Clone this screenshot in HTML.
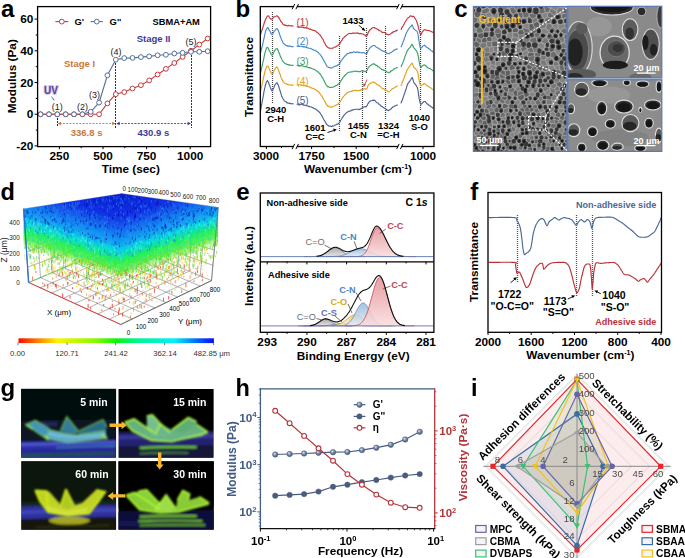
<!DOCTYPE html>
<html><head><meta charset="utf-8"><title>Figure</title>
<style>html,body{margin:0;padding:0;background:#fff;width:685px;height:558px;overflow:hidden}
svg{display:block;font-family:"Liberation Sans",sans-serif}</style></head>
<body><svg width="685" height="558" viewBox="0 0 685 558" font-family="'Liberation Sans', sans-serif"><defs><radialGradient id="pore" cx="0.5" cy="0.55" r="0.55"><stop offset="0" stop-color="#161616"/><stop offset="0.7" stop-color="#2c2c2c"/><stop offset="1" stop-color="#555"/></radialGradient><radialGradient id="pore2" cx="0.45" cy="0.6" r="0.6"><stop offset="0" stop-color="#3a3a3a"/><stop offset="0.6" stop-color="#555"/><stop offset="1" stop-color="#6e6e6e"/></radialGradient><filter id="semblur" x="0" y="0" width="100%" height="100%"><feGaussianBlur stdDeviation="0.45"/></filter><filter id="semblur2" x="-10%" y="-10%" width="120%" height="120%"><feGaussianBlur stdDeviation="5"/></filter><clipPath id="cL"><rect x="473.4" y="6.5" width="93.4" height="144.9"/></clipPath><clipPath id="cTR"><rect x="12" y="9" width="658" height="501"/></clipPath><clipPath id="cBR"><rect x="12" y="12" width="658" height="501"/></clipPath><linearGradient id="ege7a3a6" x1="0" y1="0" x2="0" y2="1"><stop offset="0" stop-color="#e48f95"/><stop offset="1" stop-color="#f8dcdd"/></linearGradient><linearGradient id="ega9c4e2" x1="0" y1="0" x2="0" y2="1"><stop offset="0" stop-color="#93b6dc"/><stop offset="1" stop-color="#e2ecf6"/></linearGradient><linearGradient id="ega8a8a8" x1="0" y1="0" x2="0" y2="1"><stop offset="0" stop-color="#9c9c9c"/><stop offset="1" stop-color="#e0e0e0"/></linearGradient><linearGradient id="egf3d28e" x1="0" y1="0" x2="0" y2="1"><stop offset="0" stop-color="#f0c460"/><stop offset="1" stop-color="#fbefd2"/></linearGradient><linearGradient id="egb4b4dc" x1="0" y1="0" x2="0" y2="1"><stop offset="0" stop-color="#a4a4d8"/><stop offset="1" stop-color="#e6e6f6"/></linearGradient><filter id="gb1" x="-10%" y="-10%" width="120%" height="120%"><feGaussianBlur stdDeviation="7"/></filter><filter id="gb2" x="-10%" y="-10%" width="120%" height="120%"><feGaussianBlur stdDeviation="9"/></filter><clipPath id="cpTL"><rect x="21.1" y="388.8" width="95" height="69"/></clipPath><clipPath id="cpTR"><rect x="118.6" y="389" width="94.9" height="68.7"/></clipPath><clipPath id="cpBL"><rect x="21.3" y="461.2" width="94.8" height="68.5"/></clipPath><clipPath id="cpBR"><rect x="118.4" y="461.2" width="95.4" height="68.5"/></clipPath><radialGradient id="hsph" cx="0.38" cy="0.35" r="0.7"><stop offset="0" stop-color="#dfe6f0"/><stop offset="0.4" stop-color="#8494b0"/><stop offset="1" stop-color="#3f5072"/></radialGradient></defs><rect width="685" height="558" fill="#fff"/><g id="pa"><line x1="34.6" y1="19.1" x2="37.6" y2="19.1" stroke="#000" stroke-width="1"/>
<text x="33.3" y="23.3" font-size="11.8" font-weight="bold" text-anchor="end">60</text>
<line x1="34.6" y1="50.8" x2="37.6" y2="50.8" stroke="#000" stroke-width="1"/>
<text x="33.3" y="55" font-size="11.8" font-weight="bold" text-anchor="end">40</text>
<line x1="34.6" y1="82.5" x2="37.6" y2="82.5" stroke="#000" stroke-width="1"/>
<text x="33.3" y="86.7" font-size="11.8" font-weight="bold" text-anchor="end">20</text>
<line x1="34.6" y1="114.2" x2="37.6" y2="114.2" stroke="#000" stroke-width="1"/>
<text x="33.3" y="118.4" font-size="11.8" font-weight="bold" text-anchor="end">0</text>
<line x1="34.6" y1="145.9" x2="37.6" y2="145.9" stroke="#000" stroke-width="1"/>
<text x="33.3" y="150.1" font-size="11.8" font-weight="bold" text-anchor="end">-20</text>
<line x1="35.8" y1="35" x2="37.6" y2="35" stroke="#000" stroke-width="1"/>
<line x1="35.8" y1="66.7" x2="37.6" y2="66.7" stroke="#000" stroke-width="1"/>
<line x1="35.8" y1="98.4" x2="37.6" y2="98.4" stroke="#000" stroke-width="1"/>
<line x1="35.8" y1="130.1" x2="37.6" y2="130.1" stroke="#000" stroke-width="1"/>
<line x1="59.4" y1="146.6" x2="59.4" y2="149.2" stroke="#000" stroke-width="1"/>
<text x="59.4" y="160.4" font-size="11.8" font-weight="bold" text-anchor="middle">250</text>
<line x1="103" y1="146.6" x2="103" y2="149.2" stroke="#000" stroke-width="1"/>
<text x="103" y="160.4" font-size="11.8" font-weight="bold" text-anchor="middle">500</text>
<line x1="146.6" y1="146.6" x2="146.6" y2="149.2" stroke="#000" stroke-width="1"/>
<text x="146.6" y="160.4" font-size="11.8" font-weight="bold" text-anchor="middle">750</text>
<line x1="190.2" y1="146.6" x2="190.2" y2="149.2" stroke="#000" stroke-width="1"/>
<text x="190.2" y="160.4" font-size="11.8" font-weight="bold" text-anchor="middle">1000</text>
<line x1="81.2" y1="146.6" x2="81.2" y2="148.2" stroke="#000" stroke-width="1"/>
<line x1="124.8" y1="146.6" x2="124.8" y2="148.2" stroke="#000" stroke-width="1"/>
<line x1="168.4" y1="146.6" x2="168.4" y2="148.2" stroke="#000" stroke-width="1"/>
<text x="130.8" y="172.8" font-size="11.8" font-weight="bold" text-anchor="middle">Time (sec)</text>
<text transform="translate(16.4,76.2) rotate(-90)" font-size="11.8" font-weight="bold" text-anchor="middle">Modulus (Pa)</text>
<line x1="57.5" y1="115" x2="57.5" y2="127" stroke="#222" stroke-width="1" stroke-dasharray="2 1"/>
<line x1="115.5" y1="60" x2="115.5" y2="128" stroke="#333" stroke-width="1" stroke-dasharray="2 1"/>
<line x1="191.5" y1="52" x2="191.5" y2="128" stroke="#333" stroke-width="1" stroke-dasharray="2 1"/>
<line x1="59.5" y1="123.5" x2="113.5" y2="123.5" stroke="#c8783c" stroke-width="0.9" stroke-dasharray="2 1.3"/>
<polygon points="57.6,123.5 61,121.8 61,125.2" fill="#c8783c" stroke="none" stroke-width="1"/>
<polygon points="115.6,123.5 112.2,121.8 112.2,125.2" fill="#c8783c" stroke="none" stroke-width="1"/>
<line x1="118" y1="123.5" x2="189" y2="123.5" stroke="#3b3d9a" stroke-width="0.9" stroke-dasharray="2 1.3"/>
<polygon points="116.3,123.5 119.7,121.8 119.7,125.2" fill="#3b3d9a" stroke="none" stroke-width="1"/>
<polygon points="191,123.5 187.6,121.8 187.6,125.2" fill="#3b3d9a" stroke="none" stroke-width="1"/>
<text x="86.6" y="136" font-size="9.5" font-weight="bold" text-anchor="middle" fill="#c8783c">336.8 s</text>
<text x="153.4" y="136" font-size="9.5" font-weight="bold" text-anchor="middle" fill="#3b3d9a">430.9 s</text>
<polyline points="40.6,114.3 49,114.3 57.3,114.3 65.7,114.3 74,114.3 82.4,114.3 90.7,111.8 99.1,102.6 107.4,75.3 115.8,59.7 124.2,58.1 132.5,57.9 140.9,57.1 149.2,56.4 157.6,55.3 165.9,54.8 174.3,53.5 182.6,52.8 191,51.8 199.3,51.8 207.7,51.2" fill="none" stroke="#51709a" stroke-width="1.1"/>
<polyline points="40.6,114.3 49,114.3 57.3,114.3 65.7,114.3 74,114.3 82.4,114.3 90.7,114.3 99.1,114.3 107.4,103.4 115.8,94.2 124.2,92.1 132.5,88.5 140.9,85.2 149.2,80.4 157.6,74.5 165.9,68.9 174.3,63 182.6,56.9 191,50.7 199.3,44.6 207.7,38.5" fill="none" stroke="#c23b3e" stroke-width="1.1"/>
<circle cx="40.6" cy="114.3" r="2.4" fill="#fff" stroke="#c23b3e" stroke-width="1"/>
<circle cx="49" cy="114.3" r="2.4" fill="#fff" stroke="#c23b3e" stroke-width="1"/>
<circle cx="57.3" cy="114.3" r="2.4" fill="#fff" stroke="#c23b3e" stroke-width="1"/>
<circle cx="65.7" cy="114.3" r="2.4" fill="#fff" stroke="#c23b3e" stroke-width="1"/>
<circle cx="74" cy="114.3" r="2.4" fill="#fff" stroke="#c23b3e" stroke-width="1"/>
<circle cx="82.4" cy="114.3" r="2.4" fill="#fff" stroke="#c23b3e" stroke-width="1"/>
<circle cx="90.7" cy="114.3" r="2.4" fill="#fff" stroke="#c23b3e" stroke-width="1"/>
<circle cx="99.1" cy="114.3" r="2.4" fill="#fff" stroke="#c23b3e" stroke-width="1"/>
<circle cx="107.4" cy="103.4" r="2.4" fill="#fff" stroke="#c23b3e" stroke-width="1"/>
<circle cx="115.8" cy="94.2" r="2.4" fill="#fff" stroke="#c23b3e" stroke-width="1"/>
<circle cx="124.2" cy="92.1" r="2.4" fill="#fff" stroke="#c23b3e" stroke-width="1"/>
<circle cx="132.5" cy="88.5" r="2.4" fill="#fff" stroke="#c23b3e" stroke-width="1"/>
<circle cx="140.9" cy="85.2" r="2.4" fill="#fff" stroke="#c23b3e" stroke-width="1"/>
<circle cx="149.2" cy="80.4" r="2.4" fill="#fff" stroke="#c23b3e" stroke-width="1"/>
<circle cx="157.6" cy="74.5" r="2.4" fill="#fff" stroke="#c23b3e" stroke-width="1"/>
<circle cx="165.9" cy="68.9" r="2.4" fill="#fff" stroke="#c23b3e" stroke-width="1"/>
<circle cx="174.3" cy="63" r="2.4" fill="#fff" stroke="#c23b3e" stroke-width="1"/>
<circle cx="182.6" cy="56.9" r="2.4" fill="#fff" stroke="#c23b3e" stroke-width="1"/>
<circle cx="191" cy="50.7" r="2.4" fill="#fff" stroke="#c23b3e" stroke-width="1"/>
<circle cx="199.3" cy="44.6" r="2.4" fill="#fff" stroke="#c23b3e" stroke-width="1"/>
<circle cx="207.7" cy="38.5" r="2.4" fill="#fff" stroke="#c23b3e" stroke-width="1"/>
<circle cx="40.6" cy="114.3" r="2.4" fill="#fff" stroke="#51709a" stroke-width="1"/>
<circle cx="49" cy="114.3" r="2.4" fill="#fff" stroke="#51709a" stroke-width="1"/>
<circle cx="57.3" cy="114.3" r="2.4" fill="#fff" stroke="#51709a" stroke-width="1"/>
<circle cx="65.7" cy="114.3" r="2.4" fill="#fff" stroke="#51709a" stroke-width="1"/>
<circle cx="74" cy="114.3" r="2.4" fill="#fff" stroke="#51709a" stroke-width="1"/>
<circle cx="82.4" cy="114.3" r="2.4" fill="#fff" stroke="#51709a" stroke-width="1"/>
<circle cx="107.4" cy="75.3" r="2.4" fill="#fff" stroke="#51709a" stroke-width="1"/>
<circle cx="115.8" cy="59.7" r="2.4" fill="#fff" stroke="#51709a" stroke-width="1"/>
<circle cx="124.2" cy="58.1" r="2.4" fill="#fff" stroke="#51709a" stroke-width="1"/>
<circle cx="132.5" cy="57.9" r="2.4" fill="#fff" stroke="#51709a" stroke-width="1"/>
<circle cx="140.9" cy="57.1" r="2.4" fill="#fff" stroke="#51709a" stroke-width="1"/>
<circle cx="149.2" cy="56.4" r="2.4" fill="#fff" stroke="#51709a" stroke-width="1"/>
<circle cx="157.6" cy="55.3" r="2.4" fill="#fff" stroke="#51709a" stroke-width="1"/>
<circle cx="165.9" cy="54.8" r="2.4" fill="#fff" stroke="#51709a" stroke-width="1"/>
<circle cx="174.3" cy="53.5" r="2.4" fill="#fff" stroke="#51709a" stroke-width="1"/>
<circle cx="182.6" cy="52.8" r="2.4" fill="#fff" stroke="#51709a" stroke-width="1"/>
<circle cx="191" cy="51.8" r="2.4" fill="#fff" stroke="#51709a" stroke-width="1"/>
<circle cx="199.3" cy="51.8" r="2.4" fill="#fff" stroke="#51709a" stroke-width="1"/>
<circle cx="207.7" cy="51.2" r="2.4" fill="#fff" stroke="#51709a" stroke-width="1"/>
<circle cx="90.7" cy="111.8" r="2.4" fill="#fff" stroke="#51709a" stroke-width="1"/>
<circle cx="99.1" cy="102.6" r="2.4" fill="#fff" stroke="#51709a" stroke-width="1"/>
<line x1="55.4" y1="21.6" x2="68.2" y2="21.6" stroke="#c23b3e" stroke-width="1.1"/>
<circle cx="61.8" cy="21.6" r="2.4" fill="#fff" stroke="#c23b3e" stroke-width="1"/>
<text x="74.4" y="24.9" font-size="9.4" font-weight="bold">G'</text>
<line x1="90.6" y1="21.6" x2="102.9" y2="21.6" stroke="#51709a" stroke-width="1.1"/>
<circle cx="96.8" cy="21.6" r="2.4" fill="#fff" stroke="#51709a" stroke-width="1"/>
<text x="109.6" y="24.9" font-size="9.4" font-weight="bold">G''</text>
<text x="152.6" y="24.7" font-size="9.3" font-weight="bold">SBMA+AM</text>
<text x="153.6" y="42.3" font-size="9.5" font-weight="bold" text-anchor="middle" fill="#3b3d9a">Stage II</text>
<text x="79.5" y="66.7" font-size="9.5" font-weight="bold" text-anchor="middle" fill="#c8783c">Stage I</text>
<text x="57.2" y="109.6" font-size="9" text-anchor="middle" fill="#222">(1)</text>
<text x="82.5" y="109.6" font-size="9" text-anchor="middle" fill="#222">(2)</text>
<text x="94.5" y="97.6" font-size="9" text-anchor="middle" fill="#222">(3)</text>
<text x="116" y="55" font-size="9" text-anchor="middle" fill="#222">(4)</text>
<text x="191" y="44.7" font-size="9" text-anchor="middle" fill="#222">(5)</text>
<text x="51" y="93.6" font-size="10" font-weight="bold" text-anchor="middle" fill="#5b3f8e" stroke="#d8c8ee" stroke-width="2" paint-order="stroke">UV</text>
<line x1="51.5" y1="96.5" x2="53.5" y2="99.5" stroke="#3a7ad0" stroke-width="0.9"/>
<polygon points="54.3,100.6 52.4,99.6 54,98.6" fill="#3a7ad0" stroke="none" stroke-width="1"/>
<rect x="37.6" y="6.6" width="173" height="140" fill="none" stroke="#000" stroke-width="1.3"/>
<text x="1" y="17" font-size="24" font-weight="bold">a</text></g>
<g id="pb"><line x1="272.5" y1="12" x2="272.5" y2="103" stroke="#444" stroke-width="1.2" stroke-dasharray="1 1"/>
<line x1="339.5" y1="36" x2="339.5" y2="131" stroke="#444" stroke-width="1.2" stroke-dasharray="1 1"/>
<line x1="362.5" y1="70" x2="362.5" y2="119" stroke="#444" stroke-width="1.2" stroke-dasharray="1 1"/>
<line x1="366.5" y1="28" x2="366.5" y2="73" stroke="#444" stroke-width="1.2" stroke-dasharray="1 1"/>
<line x1="385.5" y1="26" x2="385.5" y2="119" stroke="#444" stroke-width="1.2" stroke-dasharray="1 1"/>
<line x1="420.5" y1="23" x2="420.5" y2="111" stroke="#444" stroke-width="1.2" stroke-dasharray="1 1"/>
<path d="M260.5 34.8L260.8 33.7L261.3 32.1L261.9 30.3L262.5 28.6L263 26.9L263.5 25.6L264 23.7L264.5 22.2L265 20.8L265.5 19.7L266.1 18.2L266.8 16.9L267.4 16.4L267.9 15.9L268.5 15.8L269.1 17L269.6 17.8L270.2 18.4L270.8 19.1L271.4 19.1L271.9 19.2L272.4 18.8L272.9 18.1L273.5 17.5L274 16.9L274.5 16.7L275.1 16.5L275.7 16.3L276.2 16.1L276.7 15.8L277.3 16.3L277.9 16.4L278.5 17.5L279 18L279.5 18.5L280 19.8L280.5 20.6L281 21.7L281.5 22.3L282 22.6L282.5 23.6L283.1 24.4L283.6 24.5L284.2 25L284.8 25.5L285.4 25.1L286 25.4L286.5 25.3L286.9 25.8L287.4 25.8L287.9 25.6L288.6 25.4L289.1 25.6L289.6 25.8L290.2 26L290.9 25.6L291.5 25.9L292.1 26L292.7 25.9L293.2 26.1L293.5 25.9" fill="none" stroke="#c0393f" stroke-width="1.15" stroke-linejoin="round"/>
<path d="M296.7 26.6L297.1 26.8L297.6 27L298.3 27L299 27.1L299.7 26.9L300.5 27.2L301.3 27.1L302 26.9L302.6 27.3L303.2 27.1L303.7 27.8L304.3 27.9L305 27.6L305.6 27.8L306.2 28.2L306.8 28L307.4 28.1L308 28.3L308.6 28.6L309.2 28.9L309.9 29.4L310.5 29L311.1 29.7L311.7 29.7L312.3 30.1L312.9 30.3L313.5 30L314 30.6L314.8 30.6L315.5 30.9L316.2 31.6L316.8 32.3L317.4 32.6L318 32.8L318.8 33.9L319.4 34.6L320 34.9L320.7 35.9L321.4 37L322.1 38.3L322.8 39L323.5 40.5L324.1 42L324.8 43.1L325.5 44.5L326.1 45.7L326.8 46.5L327.4 47L328.1 47.7L328.7 47.9L329.4 48L330 48.4L330.6 48.2L331.2 48.2L331.8 48.3L332.4 48.2L333 48.1L333.6 47.7L334.2 47.1L334.8 47.2L335.4 46.9L336 46.5L336.6 46.2L337.2 45.7L337.8 45.4L338.4 45.1L339 44.3L339.6 43.9L340.2 43.1L340.8 41.6L341.4 41.1L342 40.1L342.6 39L343.2 38.2L343.8 37.8L344.4 36.9L345 36.4L345.6 36L346.2 35.5L346.7 35.1L347.3 34.6L348 34.1L348.6 33.6L349.3 33.5L349.9 33.4L350.6 33.5L351.3 33.6L352 33.1L352.7 33.1L353.3 33.4L354 33L354.7 33.2L355.3 33.1L356 33.1L356.7 33L357.3 33.1L358 33.4L358.7 33.1L359.3 33.7L360 33.9L360.7 33.4L361.4 33.7L362.1 33.9L362.8 34L363.4 34.2L364 34.8L364.8 34.9L365.5 35.5L366.1 36.5L366.6 36.2L367.3 35L368 33L368.6 31.9L369.2 30.9L370 29.8L370.6 29.6L371.2 28.8L371.9 28.2L372.7 27.8L373.3 27.6L373.9 27.7L374.7 27.5L375.3 28.3L376 28.4L376.6 28.7L377.3 29.3L378 29.4L378.7 30.3L379.3 30.3L380 30.7L380.7 31.1L381.3 31.5L382 32.3L382.6 32.6L383.2 32.5L383.8 32.4L384.4 32.4L385 32.7L385.7 33.2L386.4 33.9L387.1 34.3L387.8 34.8L388.4 34.9L389.1 34.5L389.8 34.4L390.4 33.8L391 33.7L391.7 32.8L392.3 33L393 31.9L393.6 32L394.2 31.5L394.9 31.5L395.5 30.8L396.3 31L397.1 30.1L397.7 30.5" fill="none" stroke="#c0393f" stroke-width="1.15" stroke-linejoin="round"/>
<path d="M401 29.9L401.3 29.2L401.8 27.8L402.4 26.8L403 26.2L403.5 25.1L404.1 24L404.7 22.7L405.3 21.8L405.9 20.9L406.4 20.1L406.9 19.1L407.5 18.6L408 18L408.5 17.6L409.1 17.2L409.7 16.6L410.3 16L410.8 15.8L411.4 16L412 16.5L412.5 16.9L413.2 16.2L413.6 16.4L414.2 17L414.7 18L415.2 18.6L415.7 19.5L416.2 20.3L416.7 21.5L417.2 23.1L417.7 24.5L418.2 26.4L418.7 28.6L419.2 30.1L419.9 32.6L420.6 34.7L421.2 34.2L421.8 32.8L422.5 31.7L423 31L423.5 30.5L424 29.8L424.6 29.9L425.2 29.9L425.8 29.7L426.4 30.3L427 30.5L427.5 30.4L428 30.5L428.5 30.5L429 30.8L429.5 30.6L430 31L430.5 31L431 31.6L431.5 31.8L432.2 31.9L432.9 32.4L433.4 32.9" fill="none" stroke="#c0393f" stroke-width="1.15" stroke-linejoin="round"/>
<path d="M260.5 53.2L260.8 51.7L261.3 50L261.9 47.4L262.5 45.3L263 42.9L263.5 40.5L264 38.3L264.5 35.7L265 33.7L265.5 31.7L266 30L266.5 28.9L267 28.3L267.5 27.5L268.1 27.8L268.6 28.9L269.2 30.2L269.8 31L270.4 32L271 33.5L271.6 33.9L272.2 34.8L272.8 34L273.3 33L273.9 31.7L274.5 30.9L275 30.5L275.5 29.4L276.1 29.1L276.6 28.7L277.1 28.6L277.7 29.5L278.3 30.6L278.9 32.2L279.5 33.8L280 35.5L280.5 36.8L281 38.1L281.5 39.6L282 40.6L282.5 41.6L283 42.9L283.6 43.6L284.1 43.9L284.7 44.6L285.3 44.9L285.9 45.4L286.5 45.6L287 45.6L287.4 46.2L287.9 45.8L288.4 46.1L289 46.4L289.4 46.1L290 46.3L290.5 46.1L291.1 46.5L291.7 46.6L292.3 46.6L292.8 46.8L293.2 46.5L293.5 46.7" fill="none" stroke="#4a87c4" stroke-width="1.15" stroke-linejoin="round"/>
<path d="M296.7 46.2L297.1 45.9L297.6 46.5L298.3 46.5L299 46.2L299.7 46.4L300.5 46.2L301.3 46.2L302 46.4L302.6 46.8L303.2 46.5L303.7 47.2L304.3 46.7L305 46.9L305.6 47L306.2 47.6L306.8 47.5L307.4 47.7L308 47.8L308.6 48.2L309.2 48.2L309.9 48.2L310.5 48.6L311.1 48.7L311.7 48.8L312.3 49.5L312.9 49.6L313.5 49.8L314 50.2L314.8 50.3L315.5 50.7L316.2 51.1L316.8 51.5L317.4 52.2L318 52.1L318.8 53.1L319.4 53.8L320 54.4L320.7 55.1L321.4 56.5L322.1 57.2L322.8 58.8L323.5 59.8L324.1 60.9L324.8 62.3L325.5 63.6L326.1 64.8L326.8 66.2L327.4 66.8L328.1 67L328.7 67.5L329.4 67.6L330 67.7L330.6 68.1L331.2 67.7L331.8 68L332.4 67.7L333 67.5L333.6 66.8L334.2 66.6L334.8 66.2L335.4 66.1L336 66.2L336.6 65.8L337.2 65.6L337.8 64.8L338.4 64.8L339 64.3L339.6 63.6L340.2 62.6L340.8 61.2L341.4 60.2L342 59.7L342.6 58.9L343.2 58.2L343.8 57.2L344.4 56.8L345 55.7L345.6 55.7L346.2 55.1L346.7 54.2L347.3 53.6L348 53.6L348.6 53.4L349.3 53L349.9 52.6L350.6 52.6L351.3 52.9L352 52.3L352.7 52.7L353.3 52.1L354 52L354.7 51.9L355.3 52.5L356 52.4L356.7 52L357.3 51.9L358 52.4L358.7 52.6L359.3 52.1L360 52.7L360.7 52.8L361.4 52.6L362.1 52.7L362.8 52.9L363.4 52.5L364 52.6L364.8 53.2L365.5 53.6L366.1 53.9L366.6 53.7L367.3 52.8L368 50.5L368.6 49.8L369.2 49L370 47.8L370.6 47.1L371.2 46.7L371.9 46.2L372.7 45.8L373.3 45.5L373.9 45.5L374.7 45.6L375.3 46.2L376 46.9L376.6 47.3L377.3 47.7L378 47.9L378.7 48.6L379.3 49L380 49.1L380.7 49.9L381.3 50.2L382 50.8L382.6 51.1L383.2 51L383.8 51.4L384.4 51.6L385 51.7L385.7 51.9L386.4 52.4L387.1 53.5L387.8 53.7L388.4 53.6L389.1 53.6L389.8 53L390.4 52.9L391 52.6L391.7 52.1L392.3 51.4L393 51.3L393.6 50.9L394.2 49.9L394.9 49.9L395.5 49.6L396.3 49.1L397.1 49.1L397.7 48.6" fill="none" stroke="#4a87c4" stroke-width="1.15" stroke-linejoin="round"/>
<path d="M401 47.3L401.3 46.4L401.8 45.1L402.4 44.1L403 42.1L403.5 41L404 39.8L404.5 37.9L405 36.7L405.5 35.3L406 33.7L406.5 32.7L407 31.8L407.5 30.8L408 30.1L408.6 28.8L409.3 28.1L409.8 27.4L410.4 26.8L411 26.5L411.6 25.2L412.2 24.9L412.9 26.4L413.5 28.6L414.1 29L414.7 29.5L415.2 30.1L415.7 30.5L416.2 30.8L416.7 31L417.2 31.6L417.7 32.8L418.2 35.5L418.7 39.1L419.2 41.8L419.9 46.1L420.6 48.5L421.2 48L421.8 47.3L422.5 46.5L423 45.8L423.5 45.7L424 45.7L424.6 45.2L425.2 45.8L425.7 46L426.4 46.9L427 47.7L427.5 47.7L427.9 47.9L428.4 48.3L428.9 48.9L429.5 48.9L430 49.4L430.6 50L431.2 50.8L431.9 51L432.5 51.5L433 52.1L433.4 52.1" fill="none" stroke="#4a87c4" stroke-width="1.15" stroke-linejoin="round"/>
<path d="M260.5 72.8L260.8 71.6L261.3 69.5L261.9 67.2L262.5 64.2L263 61.9L263.5 59.8L264 57.3L264.5 54.7L265 52.8L265.5 50.9L266 49.6L266.5 48L267 47.4L267.5 47.6L268.1 47.8L268.6 48.8L269.2 50.5L269.8 51.6L270.4 52.5L271 54L271.6 55L272.2 55.1L272.8 54.8L273.3 53.3L273.9 52L274.5 50.7L275 50.1L275.5 49.7L276.1 48.7L276.6 48.7L277.1 48.4L277.7 49.3L278.3 51L278.9 52.6L279.5 53.8L280 55.3L280.5 56.6L281 57.5L281.5 58.6L282 60L282.5 60.7L283 61.3L283.6 62.2L284.1 62.5L284.7 63.3L285.3 63.6L285.9 63.7L286.5 64.4L287 64.2L287.4 64.5L287.9 64.5L288.4 65L289 64.8L289.4 65.1L290 64.9L290.5 65.2L291.1 65.3L291.7 65.3L292.3 65.3L292.8 65.3L293.2 65.3L293.5 65.5" fill="none" stroke="#3a9f6c" stroke-width="1.15" stroke-linejoin="round"/>
<path d="M296.7 65.2L297.1 65.5L297.6 65.2L298.3 65.7L299 65.6L299.7 65.5L300.5 65.8L301.3 65.8L302 65.6L302.6 66L303.2 66.2L303.7 66.2L304.3 66.6L305 66.7L305.6 66.6L306.2 66.6L306.8 66.7L307.4 67.3L308 67.4L308.6 67.6L309.2 67.6L309.9 67.9L310.5 67.9L311.1 68.3L311.7 68.2L312.3 68.8L312.9 69L313.5 69.3L314 69.2L314.8 69.5L315.5 70.1L316.2 70.8L316.8 71.1L317.4 71.7L318 71.9L318.8 72.6L319.4 73.6L320 73.8L320.7 74.7L321.4 76L322.1 77.1L322.8 78.2L323.5 79.6L324.1 80.7L324.8 82.2L325.5 83.7L326.1 84.8L326.8 85.7L327.4 86.2L328.1 87L328.7 86.9L329.4 87.2L330 87.6L330.6 87.5L331.2 87.3L331.8 87.4L332.4 87.2L333 87.2L333.6 86.8L334.2 86.5L334.8 86.5L335.4 85.8L336 85.4L336.6 85.5L337.2 85.2L337.8 84.4L338.4 83.9L339 83.9L339.6 83.2L340.2 82L340.8 80.8L341.4 80.1L342 79.4L342.6 78.1L343.2 77.4L343.8 76.9L344.4 75.8L345 75.3L345.6 74.6L346.2 74.2L346.7 73.6L347.3 73L348 72.8L348.6 72.4L349.3 72.2L349.9 72L350.6 72L351.3 71.8L352 71.9L352.7 71.6L353.3 71.3L354 71.2L354.7 71.2L355.3 71.4L356 71L356.7 71.2L357.3 71.5L358 71.6L358.7 71.4L359.3 71.7L360 71.7L360.7 71.2L361.4 71L362.1 70.9L362.8 71.2L363.4 70.9L364 71.1L364.8 71.3L365.5 71.6L366.1 71.5L366.6 71L367.3 69.9L368 68.1L368.6 67.4L369.2 66.6L370 65.9L370.6 65.4L371.2 65.2L371.9 64.6L372.7 64.1L373.3 64.1L373.9 63.6L374.7 64.2L375.3 64.7L376 65.4L376.6 65.3L377.3 65.8L378 66.8L378.7 66.7L379.3 67.4L380 68L380.7 68.5L381.3 69.2L382 69.7L382.6 69.6L383.2 69.7L383.8 70.5L384.4 70.4L385 70.6L385.7 70.9L386.4 71.3L387.1 72.2L387.8 72.3L388.4 72.6L389.1 72.7L389.8 72L390.4 71.9L391 70.9L391.7 70.9L392.3 70.4L393 70L393.6 69L394.2 69L394.9 68.6L395.5 68.3L396.3 67.9L397.1 67.4L397.7 67.7" fill="none" stroke="#3a9f6c" stroke-width="1.15" stroke-linejoin="round"/>
<path d="M401 66.9L401.3 66.2L401.8 65L402.4 63.7L403 62.3L403.5 61.1L404 59.5L404.5 58.2L405 56.4L405.5 55.1L406 53.9L406.5 52.4L407 51.6L407.5 50.3L408 49.7L408.6 48.9L409.3 48L409.8 47.8L410.4 47L411 46.1L411.6 44.6L412.2 44.4L412.9 45.8L413.5 47.4L414.1 48.1L414.7 48.7L415.2 49.1L415.7 50L416.2 50.4L416.7 51.2L417.2 52.2L417.7 53.8L418.2 55.8L418.7 58.6L419.2 61.8L419.9 65L420.6 67.2L421.2 67.2L421.8 66.4L422.5 65.8L423 65.6L423.5 65.3L424 64.8L424.6 65.1L425.2 65.4L425.7 65.5L426.4 66.6L427 67L427.5 67.6L427.9 67.6L428.4 68.1L428.9 68.2L429.5 68.5L430 68.8L430.6 68.9L431.2 69.4L431.9 69.9L432.5 70.4L433 70.7L433.4 71" fill="none" stroke="#3a9f6c" stroke-width="1.15" stroke-linejoin="round"/>
<path d="M260.5 91.6L260.8 90.3L261.3 87.9L261.9 85.1L262.5 82.3L263 80.2L263.5 78L264 75.6L264.5 73.5L265 71.4L265.5 69.7L266 68.3L266.5 67.2L267 66.1L267.5 66.3L268.1 66.4L268.6 67.4L269.2 68.6L269.8 70.3L270.4 71.3L271 72.7L271.6 73.6L272.2 73.7L272.8 73.4L273.3 72.4L273.9 70.9L274.5 70.3L275 69.1L275.5 68.1L276.1 67.8L276.6 66.9L277.1 67.4L277.7 67.9L278.3 69.6L278.9 71.3L279.5 73L280 74.3L280.5 75.6L281 77.5L281.5 78.3L282 79.7L282.5 80.2L283 81.5L283.6 82.1L284.1 82.6L284.7 83.1L285.3 83.4L285.9 83.8L286.5 83.8L287 84.2L287.4 84.6L287.9 84.4L288.4 84.9L289 85L289.4 84.8L290 84.8L290.5 84.9L291.1 85L291.7 85.4L292.3 85L292.8 84.9L293.2 84.9L293.5 85.3" fill="none" stroke="#e0a31f" stroke-width="1.15" stroke-linejoin="round"/>
<path d="M296.7 85L297.1 84.7L297.6 84.9L298.3 85L299 84.7L299.7 84.6L300.5 85.1L301.3 84.9L302 85.2L302.6 85.6L303.2 85.7L303.7 85.3L304.3 85.4L305 85.7L305.6 86.2L306.2 85.8L306.8 86.1L307.4 86.2L308 86.4L308.6 86.9L309.2 86.8L309.9 87.2L310.5 87.6L311.1 87.9L311.7 87.9L312.3 88.3L312.9 88.4L313.5 88.8L314 88.7L314.8 89.2L315.5 89.7L316.2 90.4L316.8 90.6L317.4 91L318 91.3L318.8 92L319.4 92.6L320 93.9L320.7 94.7L321.4 95.7L322.1 96.6L322.8 97.9L323.5 98.9L324.1 100.2L324.8 101.3L325.5 102.9L326.1 104L326.8 104.8L327.4 106.1L328.1 105.9L328.7 106.7L329.4 106.8L330 106.6L330.6 106.9L331.2 107.3L331.8 107.2L332.4 106.7L333 106.7L333.6 106.4L334.2 105.9L334.8 105.7L335.4 105.4L336 105L336.6 105L337.2 104.5L337.8 104.4L338.4 103.5L339 103.2L339.6 102.2L340.2 101.7L340.8 100.8L341.4 99.6L342 98.7L342.6 97.9L343.2 96.8L343.8 96.1L344.4 95.6L345 95L345.6 94.2L346.2 93.7L346.7 93L347.3 92.7L348 92.4L348.6 91.9L349.3 91.9L349.9 91.8L350.6 91.4L351.3 91.5L352 90.9L352.7 91.2L353.3 90.5L354 90.5L354.7 90.7L355.3 90.1L356 90.4L356.7 90.6L357.3 90.7L358 90.5L358.7 90.3L359.3 90.4L360 90.7L360.7 90L361.4 89.6L362.1 89.9L362.8 89.5L363.4 88.9L364 88.9L364.8 88.8L365.5 89.3L366.1 88.9L366.6 89L367.3 87.8L368 85.8L368.6 84.9L369.2 84.2L370 83.4L370.6 83.2L371.2 82.7L371.9 82.7L372.7 82.2L373.3 81.8L373.9 82.2L374.7 82.5L375.3 83L376 83.5L376.6 84.2L377.3 84.7L378 84.6L378.7 85.5L379.3 85.6L380 86.4L380.7 86.9L381.3 87.6L382 88.2L382.6 88.7L383.2 88.6L383.8 88.7L384.4 89.6L385 89.8L385.7 90.1L386.4 90.4L387.1 90.9L387.8 91.7L388.4 91.5L389.1 91.6L389.8 91.1L390.4 90.6L391 90.2L391.7 89.3L392.3 88.8L393 88.4L393.6 88.2L394.2 87.8L394.9 87.4L395.5 87L396.3 86.5L397.1 86L397.7 86.1" fill="none" stroke="#e0a31f" stroke-width="1.15" stroke-linejoin="round"/>
<path d="M401 86L401.3 85.1L401.8 83.9L402.4 82L403 80.9L403.5 79.5L404 78.2L404.5 76.6L405 75.3L405.5 74.1L406 72.8L406.5 71.7L407 70.2L407.5 69.2L408 68.6L408.6 67.4L409.3 66.7L409.8 66.1L410.4 65.1L411 64.2L411.6 63.7L412.2 63.2L412.9 64.7L413.5 66.6L414.1 67.7L414.7 67.9L415.2 68.6L415.7 68.8L416.2 69.5L416.7 70.3L417.2 71L417.7 72.3L418.2 74.9L418.7 78L419.2 80.6L419.9 83.6L420.6 85.8L421.2 85.7L421.8 85.1L422.5 84.7L423 84.7L423.5 83.9L424 83.6L424.6 83.6L425.2 83.8L425.7 84.4L426.4 85.1L427 85.8L427.5 85.8L427.9 86.1L428.4 86.4L428.9 86.7L429.5 87.3L430 87.5L430.6 87.7L431.2 88.1L431.9 88.9L432.5 89.2L433 89.7L433.4 89.5" fill="none" stroke="#e0a31f" stroke-width="1.15" stroke-linejoin="round"/>
<path d="M260.5 111.3L260.8 109.2L261.3 106.6L261.9 103.1L262.5 99.8L263 97.4L263.5 94.5L264 91.6L264.5 89.1L265 87.2L265.5 84.9L266 83.3L266.5 81.9L267 81.1L267.5 80.7L268.1 81.7L268.7 82.7L269.2 84.8L269.8 85.8L270.4 87.7L271 89L271.6 90.4L272.2 90.9L272.8 90.1L273.3 88.7L273.9 87.4L274.5 85.8L275 84.8L275.5 84.4L276.1 83.5L276.6 82.8L277.1 82.9L277.7 84L278.3 85.2L278.9 87L279.5 89L280 90.5L280.5 92.3L281 93.7L281.5 95.7L282 96.9L282.5 97.8L283 98.7L283.6 99.6L284.1 100.6L284.7 101.2L285.3 101.5L285.9 101.7L286.5 102.1L287 102.8L287.4 102.7L287.9 103.1L288.4 103.1L289 103L289.4 103.2L290 103.7L290.5 103.4L291.1 103.7L291.7 103.8L292.3 103.6L292.8 103.7L293.2 104L293.5 103.9" fill="none" stroke="#4d6290" stroke-width="1.15" stroke-linejoin="round"/>
<path d="M296.7 104.3L297.1 104.3L297.6 104.2L298.3 103.9L299 104.1L299.7 104.4L300.5 104.6L301.3 104.1L302 104.3L302.6 105L303.2 104.5L303.7 105.1L304.3 105L305 105.3L305.6 105.6L306.2 105.6L306.8 105.7L307.4 105.8L308 106.2L308.6 106.4L309.2 106.4L309.9 106.7L310.5 106.9L311.1 107L311.7 107.1L312.3 107.6L312.9 107.5L313.5 108.1L314 108.5L314.8 108.9L315.5 109L316.2 109.5L316.8 110.3L317.4 110.4L318 111.3L318.8 111.4L319.4 112.5L320 112.7L320.7 114L321.4 115.1L322.1 116.1L322.8 117.4L323.5 118.9L324.1 120.1L324.8 120.9L325.5 122.5L326.1 123.4L326.8 124.6L327.4 125L328.1 125.5L328.7 126.1L329.4 126L330 126.2L330.6 126.1L331.2 126.7L331.8 126.2L332.4 125.9L333 126.1L333.6 126L334.2 125.7L334.8 125.3L335.4 125L336 124.8L336.6 124.2L337.2 124.3L337.8 123.9L338.4 123.7L339 123.2L339.6 122.4L340.2 121.2L340.8 120.2L341.4 119.3L342 118.2L342.6 117L343.2 116.8L343.8 115.5L344.4 115L345 114.3L345.6 113.4L346.2 113.1L346.7 112.6L347.3 112.3L348 111.7L348.6 111.2L349.3 111.1L349.9 111.2L350.6 110.7L351.3 110.7L352 109.9L352.7 110.2L353.3 109.7L354 109.5L354.7 109.5L355.3 109.3L356 109.2L356.7 109.2L357.3 109.2L358 109.3L358.7 109.7L359.3 109.2L360 109.4L360.7 108.8L361.4 108.7L362.1 108L362.8 107.8L363.4 107.2L364 106.9L364.8 106.8L365.5 106.5L366.1 107L366.6 106.3L367.3 105.1L368 103.6L368.6 103L369.2 101.9L370 101.2L370.6 100.8L371.2 100.7L371.9 100.7L372.7 100.4L373.3 100L373.9 100.5L374.7 100.2L375.3 101L376 102L376.6 102.6L377.3 102.8L378 103L378.7 104L379.3 104.5L380 104.8L380.7 105.6L381.3 106.5L382 106.5L382.6 107L383.2 107.3L383.8 108L384.4 108L385 108.6L385.7 109.1L386.4 109.3L387.1 110.1L387.8 110.1L388.4 110.7L389.1 110.2L389.8 109.7L390.4 109.5L391 109L391.7 108L392.3 107.4L393 107.1L393.6 106.6L394.2 106.3L394.9 105.9L395.5 105.9L396.3 105.2L397.1 105.1L397.7 104.6" fill="none" stroke="#4d6290" stroke-width="1.15" stroke-linejoin="round"/>
<path d="M401 103.4L401.3 102.3L401.8 100.9L402.4 99.7L403 97.9L403.5 96.4L404 94.9L404.5 93.5L405 92.2L405.5 90.4L406 89.3L406.5 87.7L407 85.8L407.5 84.4L408 83.3L408.6 82.6L409.3 81.6L409.8 81.1L410.4 80.2L411 79.3L411.6 78.2L412.2 77.5L412.9 79.2L413.5 81.7L414.1 82.7L414.7 83.7L415.2 84.2L415.7 84.8L416.2 85.6L416.7 86.6L417.2 87.1L417.7 89L418.2 91.7L418.7 95.6L419.2 98.7L419.9 102L420.6 104.1L421.2 104.3L421.8 103.5L422.5 103L423 102.3L423.5 102.1L424 101.5L424.6 101.5L425.2 101.6L425.7 102.4L426.4 103L427 103.8L427.5 104.2L427.9 104.3L428.4 104.4L428.9 105.3L429.5 105.7L430 105.8L430.6 106.2L431.2 107L431.9 107.1L432.5 107.6L433 108.2L433.4 108.5" fill="none" stroke="#4d6290" stroke-width="1.15" stroke-linejoin="round"/>
<text x="302.6" y="25.8" font-size="10" text-anchor="middle" fill="#c0393f">(1)</text>
<text x="302.6" y="45.4" font-size="10" text-anchor="middle" fill="#4a87c4">(2)</text>
<text x="302.6" y="65" font-size="10" text-anchor="middle" fill="#3a9f6c">(3)</text>
<text x="302.6" y="84.6" font-size="10" text-anchor="middle" fill="#e0a31f">(4)</text>
<text x="302.6" y="104.2" font-size="10" text-anchor="middle" fill="#4d6290">(5)</text>
<text x="353" y="24.4" font-size="9.5" font-weight="bold" text-anchor="middle">1433</text>
<line x1="358.8" y1="25.2" x2="363.8" y2="29.6" stroke="#000" stroke-width="0.9"/>
<polygon points="365.4,31 361.6,29.8 363.6,27.6" fill="#000" stroke="none" stroke-width="1"/>
<line x1="367" y1="79.5" x2="364.5" y2="85" stroke="#e03030" stroke-width="0.9"/>
<polygon points="363.6,87.2 363.2,83.6 366,84.6" fill="#e03030" stroke="none" stroke-width="1"/>
<text x="275.7" y="112.8" font-size="9.5" font-weight="bold" text-anchor="middle">2940</text>
<text x="275.7" y="121.9" font-size="9.5" font-weight="bold" text-anchor="middle">C-H</text>
<text x="315.1" y="131.1" font-size="9.5" font-weight="bold" text-anchor="middle">1601</text>
<text x="315.1" y="140.2" font-size="9.5" font-weight="bold" text-anchor="middle">C=C</text>
<text x="358.4" y="128.5" font-size="9.5" font-weight="bold" text-anchor="middle">1455</text>
<text x="358.4" y="137.6" font-size="9.5" font-weight="bold" text-anchor="middle">C-N</text>
<text x="388.5" y="129" font-size="9.5" font-weight="bold" text-anchor="middle">1324</text>
<text x="388.5" y="138.1" font-size="9.5" font-weight="bold" text-anchor="middle">=C-H</text>
<text x="419.4" y="121.1" font-size="9.5" font-weight="bold" text-anchor="middle">1040</text>
<text x="419.4" y="130.2" font-size="9.5" font-weight="bold" text-anchor="middle">S-O</text>
<line x1="327.5" y1="132.5" x2="334.5" y2="130.3" stroke="#000" stroke-width="0.9"/>
<polygon points="336.9,129.6 333.2,128.6 334,131.8" fill="#000" stroke="none" stroke-width="1"/>
<rect x="260.3" y="6.6" width="173.7" height="139.9" fill="none" stroke="#000" stroke-width="1.3"/>
<line x1="266.4" y1="146.5" x2="266.4" y2="149.1" stroke="#000" stroke-width="1"/>
<line x1="311.6" y1="146.5" x2="311.6" y2="149.1" stroke="#000" stroke-width="1"/>
<line x1="356.2" y1="146.5" x2="356.2" y2="149.1" stroke="#000" stroke-width="1"/>
<line x1="423" y1="146.5" x2="423" y2="149.1" stroke="#000" stroke-width="1"/>
<line x1="281.5" y1="146.5" x2="281.5" y2="148.1" stroke="#000" stroke-width="1"/>
<line x1="334" y1="146.5" x2="334" y2="148.1" stroke="#000" stroke-width="1"/>
<line x1="378.7" y1="146.5" x2="378.7" y2="148.1" stroke="#000" stroke-width="1"/>
<rect x="293.7" y="4.6" width="3.2" height="4" fill="#fff" stroke="none" stroke-width="0"/>
<rect x="293.7" y="144.5" width="3.2" height="4" fill="#fff" stroke="none" stroke-width="0"/>
<line x1="292.1" y1="9.2" x2="294.7" y2="4" stroke="#000" stroke-width="1"/>
<line x1="295.9" y1="9.2" x2="298.5" y2="4" stroke="#000" stroke-width="1"/>
<line x1="292.1" y1="149.1" x2="294.7" y2="143.9" stroke="#000" stroke-width="1"/>
<line x1="295.9" y1="149.1" x2="298.5" y2="143.9" stroke="#000" stroke-width="1"/>
<rect x="398.2" y="4.6" width="3.2" height="4" fill="#fff" stroke="none" stroke-width="0"/>
<rect x="398.2" y="144.5" width="3.2" height="4" fill="#fff" stroke="none" stroke-width="0"/>
<line x1="396.6" y1="9.2" x2="399.2" y2="4" stroke="#000" stroke-width="1"/>
<line x1="400.4" y1="9.2" x2="403" y2="4" stroke="#000" stroke-width="1"/>
<line x1="396.6" y1="149.1" x2="399.2" y2="143.9" stroke="#000" stroke-width="1"/>
<line x1="400.4" y1="149.1" x2="403" y2="143.9" stroke="#000" stroke-width="1"/>
<text x="266" y="160.4" font-size="11.8" font-weight="bold" text-anchor="middle">3000</text>
<text x="311.6" y="160.4" font-size="11.8" font-weight="bold" text-anchor="middle">1750</text>
<text x="356.2" y="160.4" font-size="11.8" font-weight="bold" text-anchor="middle">1500</text>
<text x="423" y="160.4" font-size="11.8" font-weight="bold" text-anchor="middle">1000</text>
<text x="358" y="172.7" font-size="11.8" font-weight="bold" text-anchor="middle">Wavenumber (cm<tspan font-size="7" dy="-4">-1</tspan><tspan dy="4">)</tspan></text>
<text transform="translate(253,77) rotate(-90)" font-size="11.8" font-weight="bold" text-anchor="middle">Transmittance</text>
<text x="235.6" y="17.2" font-size="24" font-weight="bold">b</text></g>
<g id="pc"><g clip-path="url(#cL)"><rect x="473.4" y="6.5" width="93.4" height="144.9" fill="#a8a8a8"/><g filter="url(#semblur)"><path d="M475.4 8.4L473.1 6.7L473.2 4.5L475.6 2.7L479.5 4.5L479.4 5.2ZM489.7 8.6L488.1 7.2L487.3 3.6L487.3 3.5L493.3 3.7L493.6 4L493 7ZM525.2 6.3L526.5 7.6L530.5 5.8L530 3.6L527.5 2.3L525.3 3.3ZM527.2 11.5L526.8 8.4L530.9 6.6L532.1 7.8L531 12.6L529.5 13.3ZM563.2 8.4L563.8 13.1L567.4 13.3L569.1 12.1L569 11.1L564.8 7.9ZM477.9 17.6L475.7 16.8L474.1 13.5L476.1 11.2L480.6 13.4L480.7 13.6L479.7 16.1ZM480.6 16.4L481.6 13.9L485.1 14.6L486.7 18L486.6 18.3L484.6 19.8ZM561.2 14.7L557 13.6L555.1 16.2L554.8 17.3L557.1 19.7L561.3 17.9ZM490.4 22L487.7 18.8L487.8 18.5L491.8 16.8L494.2 20.6L494.2 20.8L492.2 22.4ZM503 18.6L502 22.5L499.1 23.3L495.4 20.9L495.4 20.7L498.7 17.3ZM520.5 19.3L521 23.6L517 24.1L514.8 21.8L515.3 20.1L519.3 18.7ZM527.6 18.4L528.1 22.7L529.2 23.3L532.1 23L532.2 19.6L529 16.5ZM543.4 18.6L538.2 19.9L538.1 21.1L539.8 23L544.2 21.3L544.1 19.2ZM481.2 24.4L480.7 26.3L483.3 30L485.8 26.1L485.2 24.6L483.9 23.6ZM490.1 22.7L486.1 24.4L486.7 25.9L489.3 27.3L491.6 25.5L492 23.2ZM504 24.1L509.7 24L509.8 26.8L505.8 28.3L505.1 28ZM529.4 28.7L529.4 24.3L532.3 24L532.4 24L534.5 27.7L530.4 30.8L530.3 30.8ZM537.4 21.8L533.2 23.8L535.3 27.4L536.1 27.7L538.8 27.2L539.1 23.7ZM502 30.8L504.7 28.9L505.4 29.1L507.2 32.7L505.9 34.6L502.2 33.5L501.7 32.8ZM515.8 27.5L512.8 29.5L512.8 31.7L513.1 32L517 32.3L518.3 30.1ZM524 33.1L523.6 33.9L519.3 34.7L518 32.6L519.2 30.4L522.3 29.4ZM534.2 33.3L530.9 31.3L534.9 28.2L535.8 28.5L535.8 31.9ZM539.8 33.6L540.4 32.4L540.9 29.2L539.2 28L536.5 28.5L536.5 31.9ZM482.6 33L483.8 36.6L481.4 38.7L477.6 36.8L478.5 33.7ZM500.9 33.3L501.3 34L500.3 37.5L497.8 38.4L495.5 34.9L495.7 33.8ZM528.8 33L530.2 38L529.7 38.7L524.8 36.1L524.5 34.4L524.9 33.6ZM530.3 31.8L530.4 31.8L533.8 33.8L534.5 36.9L530.8 37.8L529.4 32.8ZM484.4 37.3L485.9 38L486.8 41.1L485.9 42.5L481.8 42.2L481.9 39.4ZM489.1 36.7L486.7 37.9L487.5 40.9L491.5 40.9L491.6 40.8L491.5 37.7ZM498.1 39.2L497.5 41.1L498.2 42.7L503.9 41.4L503.9 40.8L500.5 38.3ZM510.5 42.6L505.6 42.8L505 41.4L505 40.9L507.1 38.1L511 39.1L511.4 41.8ZM550.3 42.9L554.7 43.6L555 38.8L553.6 38.2L548.9 40.2L549 41.3ZM473.7 43.4L476.2 41.3L479.7 43.9L479.1 46.3L475.9 47.2L474.8 46.5ZM496.9 46.2L497.3 45.8L497.4 43.2L496.7 41.6L492.4 41.5L492.3 41.6L492.3 45.9L493.6 46.3ZM515.4 47.6L515.5 47.5L515.5 44.1L512.2 42.5L511.3 43.3L510.5 48.2ZM520.5 42.5L523.9 41.5L526.1 42.9L525.5 46.2L522.1 46.4ZM549.3 47.5L549.5 51L550.9 52.1L553.9 50.5L554.5 48.7ZM507 54.9L503.8 50.8L501.2 52.2L502.3 56.3L506.5 55.8L506.9 55.4ZM514.8 54L514.3 55.7L518.3 57.9L519.1 56.1L516.4 53.1L516.2 53ZM527.7 56L528.9 52.4L533.6 53.2L533.9 53.4L534 55.5L527.9 56.2ZM542.8 50.3L541.2 52.6L541.3 55.2L545.1 55.2L544.8 51.5L542.9 50.2ZM548.9 51.6L545.5 51.8L545.8 55.4L547.1 56.8L549.9 56.4L550.4 52.7ZM560.9 56.8L563.4 55.3L563.8 53.1L560.8 52L558.9 55.5L559.4 56ZM564.7 53.1L566.5 51.5L569.4 54.6L569.3 55.1L568.4 56.2L564.3 55.2ZM476.7 61.1L477.7 61.9L481.7 58L479.9 56.3L476.3 56.7ZM490.6 60.8L493.6 59.4L494.3 57.3L490.8 54.3L488.4 57.1L490.4 60.6ZM524.5 56.5L527 56.6L527.1 56.8L528.3 60L523.2 60.6ZM539.7 61.5L535.5 61.8L534.6 60.8L535.2 56.6L540 57L540.7 60ZM512.8 63.5L513.3 62.1L513.4 62L516.3 61.8L518 64.6L515.2 66.9ZM523.2 61.4L528.2 60.7L529 61.6L527.8 63.9L526.2 65.6L523.5 65L523.2 61.4ZM502 68.3L502.3 69.7L499.9 71.8L495.8 69.1L496.6 66.7L499.8 65.8ZM510.1 69.9L514.8 69.1L514.8 67.5L512.4 64.2L509.6 66.6L509.6 69.5ZM532.4 67L528.3 64.5L526.7 66.2L527.8 68.7L530.6 69.1ZM540.3 70.7L541.7 70.1L543.1 66.6L541.4 65.3L537.2 67.9L537.4 68.4ZM564.5 66.6L570.3 66.1L571.2 67.4L567.5 70.5L564.9 69.8ZM500.4 72.8L504.9 75.6L504.8 71L502.8 70.2L500.4 72.3ZM509.5 70.7L510.2 74L505.8 76.2L505.6 75.7L505.6 71.1L509 70.3ZM532.5 73.1L530.7 69.9L527.9 69.5L526.7 72.1L527.2 74.2L527.9 74.9L531.8 74.6L532.5 73.4ZM551 73.9L550.7 72.9L548.9 71.1L545.3 72.3L545.8 75.8L550.7 74.7ZM556.6 74L560.2 74.1L560.8 71.9L559.9 70.8L556.5 70.1L555.8 73.6ZM484.9 77.1L487.2 78.6L488.9 78.3L489.6 78L489.8 75.1L488.6 72.9L488.2 72.6L485.3 74L484.6 76.4ZM493.5 79.4L490.4 78L490.6 75.2L494.1 74.1L495.6 75.6ZM494.1 79.6L496.2 75.8L498.6 75.6L499.9 78.6L494.8 80.6ZM510.5 74.8L510.3 79L509.7 79.8L505.5 78.8L505.4 78.7L505.9 76.9L510.3 74.6ZM514.7 75.5L515.3 78.2L511 78.9L511.2 74.7ZM543.7 77.3L540.1 72.5L538.8 74.2L539.2 77.9L542.6 78.1ZM477.7 79.4L475.3 78.6L472.6 80.2L472.6 81.3L474.7 83.4L478.2 80.4ZM491.3 84.8L494.3 82.8L494.1 81.1L493.3 80.1L490.2 78.8L489.6 79.1L489.8 82.8ZM502.4 84.7L504.7 81.6L504.7 79.4L504.6 79.3L501.1 79.2L500.4 83.8ZM505.5 79.5L509.6 80.5L510.7 83.2L508.1 84.7L505.4 81.7ZM511 79.6L510.4 80.3L511.5 83.1L512.6 83.5L515.5 82.4L515.8 79.4L515.3 78.8ZM520.6 82.4L517.9 83.5L516.4 82.4L516.7 79.4L520.8 78.4L521.4 79.3ZM548.8 81.8L550.7 85L554.4 82.8L553.2 79.9L551.6 78.7L548.9 81ZM484.8 85.9L483.6 87.6L478.9 88.1L478.6 87.7L481 83.2L484.2 84.2L484.5 84.8ZM491.5 85.6L493.2 88.7L496.2 87.2L496.3 85.1L494.6 83.5L491.6 85.5ZM507.9 86.4L508.4 85.3L511.1 83.9L512.2 84.3L512.5 87L508.7 89.3ZM527.9 88.5L530.2 86.2L529.7 85L526.1 83.9L524.6 85.1L524.5 85.8L524.5 85.9ZM561.8 83.4L559.4 81.7L556.4 83.5L557.3 85.3L559.7 87.2L561.4 86.2ZM483.5 88.3L478.8 88.8L479.1 92.1L482.3 92.5L483.8 91.4ZM491 86.1L492.7 89.2L491.8 91.2L489.5 91.4L488.5 87.4ZM503.1 87.8L505.4 91.4L507.3 91.7L507.8 91.3L508.1 89.8L507.3 86.9L503.3 86.8ZM498.2 92.2L498.3 92.3L498 93.5L495 96.2L494.6 96.1L494.4 95.8L492.7 92.1ZM514.4 95.4L513.1 92.4L515.1 90.1L517.5 91.6L516.8 95.9ZM524.2 92.7L524 93.7L524.9 96.7L527.1 96.8L529 94.7L528.6 92.9L527.1 92ZM469.9 96L468.2 99L470 100.5L473.2 99.5L473.7 97.5L472.8 96.3ZM506.4 96.9L502.8 97.1L501.5 98.1L501.4 98.6L504.7 100.3L506.8 98.4ZM507.1 96.8L507.8 94.5L512 97L511.1 98.7L509.7 99.6L507.6 98.2ZM524.1 97.2L523.3 94.2L517.8 96.8L518.5 99L520.7 100.5L523.3 99.1ZM537.8 97.4L534.9 96L533.2 97.5L532.5 99.5L534.9 101.1L538 98.9ZM545.4 94.8L542.3 97L543.6 99.1L546.1 98.8L546.5 95.8ZM547 95.9L548.3 95.6L551.2 97L551.3 99.8L547 99.3L546.7 98.9ZM473.1 104.8L470.4 102.3L470.3 101.1L473.5 100.1L475.1 101.8L475.3 102.6ZM479.7 103.4L479.4 99.9L478.6 99L475.8 101.8L476 102.5L478.5 103.6ZM489.8 104.1L488.2 100.3L485.3 102.1L486.6 105.5ZM491.1 104.3L493.2 102.8L493.2 101.8L490.5 100L488.7 100L488.7 100.1L490.3 103.9ZM472.6 107.1L472.7 105.4L470.1 102.8L467.6 106.3L470.5 107.8ZM486.4 107.9L486.8 106L490 104.6L490.8 105L491.2 106.8L487.9 108.7ZM503.2 104.3L502.5 107.5L503.6 108.5L507.7 107.3L507.8 107.2L508 105.4L505 103.7ZM513.4 108.8L508.7 107.2L508.9 105.4L510.2 104.1L513.2 104.5L513.6 108.6ZM527.1 106.1L524.7 109L522.7 106.6L523 105.2L526.5 105L527 105.3ZM542.8 108.3L542.4 105.1L540.7 104.1L538.1 105.5L537.9 107.4L538.4 108.1ZM554.7 108.3L553.3 106.4L553.3 105.7L558.1 104.9L558.6 105.2L558.7 108.3L557.9 109.5ZM564 108.2L563.9 104.9L567.7 105.2L567.8 105.2L567.4 108.8L564.6 108.9ZM472.3 112.8L470.1 111L470.8 108.5L472.9 107.7L474.8 109.1L474.3 112ZM484.9 109L484.5 111.8L485.8 113.3L489.1 112.3L489.1 112.1L487.6 109.4L486.1 108.6ZM497 107.1L494.6 108.9L494.3 110.5L495.7 112.4L498.6 112L498.7 108.1ZM499.4 108.2L501.9 108.1L503 109.1L502.8 112.1L500.8 113L499.3 112.1ZM513.3 109.4L508.5 107.8L508.5 107.9L509 111.9L511.1 113.4L513 111.2ZM522.3 107.2L519.5 109.4L519.6 109.7L523.1 111.9L524.2 111.4L524.4 111.1L524.3 109.5ZM527.4 106.6L528.9 108.9L529 110.7L525.1 111L525 109.4ZM533.3 110.8L530.8 111.9L529.6 110.8L529.6 109L532.2 107.4L533.9 109.4ZM544.9 110.8L547.3 108.7L549.7 109.4L550 112.3L549.7 112.9L545.9 112.4L544.8 111ZM554.7 108.9L557.9 110.1L558 111.4L555.9 113L553.5 111.5ZM484.1 112.2L482.4 113.1L482 115.8L484.9 115.6L485.3 113.7ZM489.9 112.5L493.7 111L495 112.9L494.7 114.7L491 115.2L490.3 114.3L489.9 112.7ZM530 115.3L530.2 112.4L529.1 111.3L525.2 111.6L525 111.9L527.7 115.5L529.7 115.5ZM539.3 112.6L536.8 113.7L536.4 115.2L540.3 117.2L540.7 116.7L540.2 112.9ZM556.2 113.5L555.4 115.8L559.3 117.6L560.3 114.9L560.2 113.5L558.4 111.9ZM486.1 118.4L485.1 119.8L483.1 120.2L481.1 118.2L481 117.1L482 116.4L484.9 116.2L485.9 117.4ZM509.7 119.2L506.7 119L506.1 117.1L510.5 115.1ZM524 120L521.2 120.2L520.8 119.6L520.4 116.6L522.4 115.2L525 117.1L524.3 119.7ZM529 119.8L525 119.6L525.7 117L527.6 116.1L529.6 116.2ZM533.9 117.2L530.6 116.1L530.3 116.4L529.7 120L530.8 122.2L534.3 120.2L534.6 119.5ZM554.4 119.3L558.5 120L559.3 119.1L559 118.2L555.1 116.4L554.6 116.6L554.4 119.3ZM560.8 115.4L559.8 118.1L560.1 119L562.9 119.9L563.7 119.6L564.1 116.4ZM487.4 124.1L483.7 124.7L482.3 123.7L483.3 120.9L485.3 120.6L487.4 124.1ZM486.9 118.8L485.9 120.3L488 123.8L491.2 122L491.5 120.7L490.7 119.6ZM544.6 121L543.3 123.8L545.8 124.8L548.5 121L545.8 120.3ZM475.8 127.4L475.7 127.5L471.3 127.2L470.9 125.4L473.1 123.6L475.4 125.2ZM481.1 124.4L481.8 124.2L483.2 125.1L483.4 127.8L481.2 129L479.4 127.3ZM566.6 126.7L566.5 125.2L568.5 123.7L570.4 125.6L567.9 128.6ZM470.6 128.3L466.5 130.6L470.3 133.4L472 132.1ZM499.6 128.5L500.1 132.1L496.3 131.2L496.4 128.2L497 127.6ZM511 127.5L512 131.5L509.7 132.9L506.9 130.6L506.8 128.9L506.9 128.9ZM531.8 126.3L530.3 129.8L532.8 130.9L534.8 129.5L534.8 128.4ZM564.8 130.6L567.5 130.9L567.6 129.1L566.3 127.2L563.9 129.1ZM481.2 130.6L483.5 132.7L482.6 134.5L480.2 134.4L479.2 133.8L479.2 133ZM483.2 134.7L484.1 132.8L486.4 132.2L487 134.2L484.3 137ZM492.9 133.4L492.4 135.2L494.4 137.5L494.8 137.5L496.4 134.6L494.7 133.1ZM500.3 132.8L500.2 133L499.5 133.9L497 134.2L495.3 132.8L496.4 131.7L500.1 132.6ZM505.2 132.3L505.5 134.9L507.7 136.2L509.4 135L509.5 133.4L506.6 131.1ZM559.3 132.2L561.7 134.1L561.9 135.2L561.6 136L557.6 135.9L556.8 134.9ZM471 138.4L471.3 136.9L470.3 134.6L465.8 137.3L470.9 138.4ZM479.8 134.9L478.8 134.2L476.6 135.9L476.9 137.2L479.8 138.6ZM495.3 137.7L497.2 138.8L499 137.4L499.3 134.5L496.9 134.8ZM518.1 138L516 139.4L514 138.2L514.9 135.8L518.1 134.9ZM519 133.4L518.6 134.6L518.7 137.7L520.9 138.2L522.9 135.7L519.2 133.3ZM553 137.8L553.7 134.8L556.2 135.2L556.9 136.2L556.7 138L555.2 139.4ZM560.1 139.2L557.4 138.1L557.6 136.3L561.6 136.4L561.6 137.8ZM566.3 139L567 135.8L567.9 135.3L571.1 137.5L569.4 139.5ZM471.4 138.9L474.2 140.4L474.5 141.2L472 144L469.8 141.7L471.3 139ZM518.8 143.1L521.9 142.2L521.3 139.9L520.8 139L518.6 138.5L516.5 139.9L516.8 141.8ZM537.6 139.6L537.7 142.3L536 143.5L534.7 143L534.4 139.5ZM550.9 139.1L548.8 139.3L548.7 139.5L548.7 141L550.5 143.8L552 142.6ZM482.1 145.7L482.3 143.7L484.2 143L486.2 144.9L486.1 145L482.9 146.5ZM496.9 146.5L496.8 146.2L498.3 143L500.1 143.2L501.1 146.8L500.7 147.9ZM523.4 143L524.2 145.1L526.5 146L528.4 142.7L526.1 141.3ZM541.8 145.2L541.7 144L543.1 141.8L545.8 143.3L546.1 145.4ZM566.5 143.4L569 142.8L570.5 145L568.4 146.7L566 146.1ZM473.5 147.3L472 146.1L470 147L469.7 149.8L471.7 151L473.6 148.8ZM481.6 146.1L478.3 146L479 148.6L480.6 149.7L482.3 148.2L482.4 146.9ZM509.4 145.6L509.4 145.6L509.4 149.6L512.4 149.2L511.9 146.1ZM512.5 146.1L513 149.3L513.1 149.4L517.3 148.6L517.3 148.5L513.9 145.1L513.8 145.1ZM527.7 149.1L531.4 151.3L532.1 150.5L532 147.5L531.5 146.9L527.8 147.7L527.7 149.1ZM549.5 150L549.8 146.9L547.1 146.4L545 149.6ZM561.8 145.6L560 147L560.5 149.9L560.6 150L562.4 150L564.1 148.9L564.6 146.8ZM474 149.3L475.7 150.5L476.3 153.2L474.3 153.5L472.3 152.7L472.1 151.5ZM482.6 148.7L485.4 150.5L484.5 152.5L482.8 153L480.9 151.2L480.9 150.3ZM496.2 149.9L496.6 152.9L498.3 152.7L498.7 152.5L499.7 150.4ZM513.3 149.9L513.6 152.6L517.1 152.2L518 149.7L517.6 149.1ZM527.6 149.6L526.5 153.1L528.7 154.3L531.2 152.1L531.3 151.8ZM544.1 150.1L541.8 149.1L540.3 151.1L540.4 152.8L542.7 153.2L544.3 151.7ZM564.2 153L562.2 154L560.4 152.6L560.6 150.6L562.4 150.5ZM529 154.9L530.7 162.2L533.1 155L531.5 152.8Z" fill="#606060"/><path d="M519.4 5.9L521.8 7.2L524.3 6.2L524.4 3.2L520.7 1.4L518.4 3.5ZM531.5 5.8L532.7 7L536.5 6.2L536.9 2.4L533.4 1.6L530.9 3.6ZM543.5 6.8L544.7 5.5L544.7 4.4L539.2 1.4L538.1 2.5L537.7 6.3L539.6 8.4ZM474.9 9.2L472.6 7.4L469.9 9L469.1 12.9L473.3 12.8L475.3 10.5ZM489 9.5L487.4 8.1L482.6 10L481.7 12.9L481.8 13.1L485.2 13.7L489 11.3ZM497.1 12L496.5 9.6L493.6 7.9L490.2 9.5L490.3 11.3L492.4 13.9L497.1 12.1ZM516.3 11.1L512.7 7.2L510.1 8.6L511.7 13.2L513.2 13.9L516.5 12.2ZM519.1 6.7L517.2 11L517.4 12.1L517.9 12.4L521.1 11.7L521.5 8.1ZM531.9 12.7L536.4 14L538.5 12.6L538.9 9.2L536.9 7.2L533.1 7.9ZM543.6 7.8L545 12.2L541.4 13.8L539.4 12.7L539.8 9.3ZM544.4 7.5L545.6 6.2L550 8.4L548.9 11.5L547.5 12.6L545.8 12ZM504.9 16.1L503.4 12.1L498.3 12.6L498.3 12.7L499.1 16.4L503.5 17.7L504.8 16.5ZM517.5 13.2L516.9 12.9L513.6 14.6L513.7 17L515 19.3L518.9 17.9ZM522.4 12.9L521.4 12.5L518.2 13.1L519.7 17.8L520.9 18.4L522.7 17.3ZM523.2 12.8L523.5 17.3L527.1 17.5L528.5 15.6L529 14L526.7 12.3ZM530 14.1L531.4 13.5L535.9 14.8L535.9 16.7L532.6 18.8L529.5 15.7ZM543 18L541 14.5L539 13.4L536.9 14.8L536.9 16.7L537.9 19.2ZM553.8 17.1L552.2 17.9L548.1 16.8L548.1 13.5L549.5 12.4L554.1 16.1ZM562.2 14.6L563.5 13.8L567.1 14.1L566.9 16.7L563.1 18.6L562.3 17.8ZM567.8 16.7L568.4 18.2L577.1 16.2L569.7 12.8L568 14ZM477.4 18.4L475.1 17.6L471.6 19.2L471.9 22.4L473.4 23.7L477.3 21.2ZM510.6 22.8L514 21.6L514.4 20L513.2 17.6L509.1 19.4ZM545.1 19.2L547.6 17.5L551.7 18.6L549.9 23L546.8 23.5L545.2 21.3ZM554.3 18L552.6 18.7L550.8 23.1L552.5 24.5L557 23.1L556.5 20.4ZM567.8 22.6L567.8 19L567.2 17.5L563.4 19.4L564.9 23.4L565.2 23.5ZM477.6 21.9L473.7 24.4L473.8 26.2L476.2 28.1L479.7 26.2L480.2 24.3ZM565.3 27.2L565.4 24.2L568.1 23.3L572.9 24.4L567.3 29.9ZM482.5 32.3L478.4 33L476.9 31.4L476.6 28.9L480.2 27.1L482.8 30.7L482.9 31.7ZM501.1 30.7L498.1 28L495.6 29.5L494.9 32L495.5 33.2L500.8 32.7ZM528.7 29.2L523.4 28.1L523.1 29.1L524.8 32.9L528.6 32.2L529.5 31.3ZM555.1 29.6L552.3 27.3L549 31.3L549.3 32L551.4 32.6L553.6 31.7ZM559.8 30.9L558.1 34.3L554.4 31.8L556 29.6L557.9 28.9L559.8 30.7ZM560.8 30.9L564.7 33.8L567.2 32.7L566.7 30.7L564.8 28L560.8 30.7ZM494 32.5L489.7 31.9L489.7 31.9L489.4 35.9L491.8 36.9L494.5 34.7L494.7 33.6ZM536.3 37.4L539.4 35.4L539.5 34.3L536.2 32.6L534.6 33.9L535.3 37ZM546.8 37.3L548.5 39.4L553.2 37.5L551.1 33.4L548.9 32.8L547.8 34.4ZM565.3 34.5L564.2 36.5L565.3 39.4L574.6 37.2L575.1 37L567.9 33.5ZM471.8 37.3L471 37.9L470.8 41.5L473.1 42.6L475.6 40.5L475.8 37.8ZM477.3 37.4L476.7 37.9L476.5 40.6L480 43.2L481 42.2L481 39.4ZM531 38.7L534.7 37.8L535.7 38.1L536.8 42.1L531.4 42.2L530.1 41L530.6 39.3ZM536.6 38.1L539.8 36.1L542.8 38.3L540.9 41.9L538.4 42.8L537.8 42.1ZM530.8 42.9L531.7 46.7L527.5 48.2L526.3 46.3L526.8 43.1L529.5 41.7ZM556.1 45L560.7 43.9L561.3 48.5L560.4 49.1L556.1 47.5ZM471.4 48.1L470.3 51.3L473.8 52.1L475 50.6L475.4 47.9L474.4 47.2ZM514.3 53.3L510.3 51.4L510.3 49L510.3 49L515.3 48.4L515.6 52.4ZM522.7 51.8L526.7 49.3L526.8 48.8L525.6 46.9L522.1 47.2L521 48.3L521.8 51ZM532 47.5L527.7 48.9L527.7 49.4L528.8 51.6L533.5 52.4L532 47.5ZM538.4 47.5L536.1 52.1L540.7 52.3L542.2 50ZM566.7 48.7L566.9 50.8L569.8 53.9L577.1 47.9L567.3 47.8ZM490.3 53.6L490.3 53.7L487.9 56.5L484.7 56.6L485.4 52.2L489.8 52.9ZM540.4 52.9L540.4 55.5L539.9 56.3L535.1 55.8L535 55.5L534.9 53.4L535.8 52.7ZM551.1 52.9L550.7 56.5L551.6 57.4L551.8 57.4L557.4 55.4L554 51.3ZM522.5 55.6L519.8 56.6L519 58.4L518.9 59.4L522.5 60.7L522.5 60.7L523.8 56.5ZM533.6 60.7L529.8 60.9L529.1 60.1L527.9 56.8L534.1 56.1L534.3 56.4ZM502.5 67.7L506 64.5L505.2 62.8L501.5 62.3L500.4 65.1ZM534.6 65.6L534.7 62.4L533.8 61.4L529.9 61.7L528.8 64L532.9 66.5ZM535.4 65.7L535.5 62.6L539.7 62.2L541.1 64.7L536.8 67.3ZM563.6 64.3L565 61.8L567.6 61.2L569 62.4L570.1 65.4L564.4 65.9ZM515.7 69.1L516.1 69.5L520.2 68.9L521 66.5L518.4 65.2L515.7 67.5ZM536.5 68.5L536.3 68L534.8 66.3L533.2 67.2L531.4 69.3L533.2 72.5ZM547.3 65.6L547.8 65.7L548 65.9L548.5 70.3L544.9 71.5L542.6 70L544 66.6ZM560.4 70.1L559.4 65.5L559.4 65.4L562.9 64.9L563.6 66.5L564 69.7L561.3 71.2ZM471.4 73.5L471.8 71L470.1 69.9L462.1 73.4L469.5 74.5ZM490.5 74.5L489.4 72.3L492.7 69.8L494.5 69.7L494 73.4ZM498.6 74.7L499.6 72.8L499.6 72.4L495.5 69.7L495.2 69.8L494.7 73.5L496.2 75ZM539.5 71.9L538.2 73.7L533.6 73.3L533.6 73L536.9 69L539.8 71.3ZM544 77L540.4 72.2L540.7 71.5L542.2 70.9L544.5 72.3L544.9 75.9L544.2 76.9ZM561.6 75.6L567.5 73.6L566.9 71.2L564.3 70.5L561.7 71.9L561 74.2ZM479.2 75L478.6 73L474.4 74.9L475.6 77.9L478 78.7ZM483.9 77.4L479.8 80.4L479.1 80L478.5 79.1L479.7 75.3L483.6 76.7ZM499.4 75.4L500.3 73.4L504.8 76.3L505 76.8L504.5 78.6L501 78.5L500.7 78.4ZM515.4 75.4L516 78.1L516.5 78.7L520.6 77.7L520.8 76.3L519.9 74.4L516.5 74.2ZM537 79.2L533.9 78.4L532.7 75.1L533.4 73.9L538 74.3L538.5 77.9ZM555.4 78L555.9 74.5L555.1 74.2L551.8 74.3L551.4 75.1L551.9 77.9L553.6 79.1ZM484.2 77.8L486.6 79.3L484.4 83.5L481.1 82.4L480.1 80.8ZM489.1 82.9L488.9 79.2L487.1 79.5L484.9 83.6L485.2 84.2ZM495 81.2L495.2 82.9L496.9 84.4L499.7 83.8L500.4 79.3L500.1 79.1ZM526.4 83.4L530 84.4L530.8 82.9L531.1 80.9L527.2 79.2L526.1 80.3ZM536.9 79.9L533.8 79.1L532 80.8L531.7 82.8L536.6 83.3L537.1 81.9ZM542.5 78.8L539.2 78.6L537.7 79.8L538 81.8L541.4 83.1L542.8 82.1ZM479.3 81.2L480.3 82.8L477.9 87.3L475.2 86.4L475.1 83.9L478.6 80.8ZM490.7 85.5L488.1 86.8L485.8 85.8L485.4 84.7L489.3 83.4L490.8 85.4ZM533 87.4L531.1 86.1L530.7 84.9L531.5 83.4L536.3 83.9L536.2 86.5ZM548.3 82.4L550.3 85.6L549.8 87.2L549.6 87.4L545.7 86.1L545.4 83.5ZM514.6 89.7L514.6 89.7L512.8 87.6L509 89.9L508.7 91.4L512.6 92ZM523.4 91.6L520.6 90.2L520.4 87.4L523.8 86.2L523.8 86.3ZM543.7 91.8L541.9 88.4L541.2 88.1L538.9 88.4L538.4 91.2L540.7 93.2ZM565.5 88.3L564.6 90.9L560.7 90.9L559.8 89.9L560.1 87.9L561.8 86.9ZM477.8 96.3L474.4 97L473.4 95.9L474.4 93.2L478 93ZM523.1 92.3L520.3 91L518.3 91.7L517.5 96L517.7 96.2L523.2 93.6L523.4 92.6ZM545.1 94.4L544.1 92.4L544 92.4L541 93.8L540.4 95.8L542 96.6ZM555.3 93.8L557.6 96.3L560.3 94.7L560.1 91.5L559.2 90.5L556.5 91.5ZM566.7 94.4L568.9 96.3L576.4 91L573.3 90.8L566.8 94ZM482.6 99.3L479.8 99.4L479 98.4L478.8 97.1L482.7 97ZM500.7 98L498.4 94L495.4 96.8L496.6 98.9L499.1 99.9L500.6 98.5ZM531.8 99.5L532.5 97.4L529.6 95.3L527.7 97.4L529.9 99.5L531.2 99.8ZM504.4 100.8L504.5 103L502.7 103.6L499.8 101.8L499.6 100.5L501.1 99.1ZM538.4 99.5L535.4 101.8L536.2 103.8L537.8 104.9L540.4 103.5L540.4 101.9ZM567.7 100.9L568.4 104.5L568.4 104.6L578.2 102.6L569.5 99.6ZM491.6 104.9L493.7 103.4L496.7 105.6L496.7 106.5L494.2 108.4L492 106.7ZM514.2 108.6L513.8 104.4L514.2 104.3L517.1 105.6L517.6 108.1ZM535.7 104.4L532.7 105.7L532.7 106.9L534.4 108.9L537.1 107.4L537.4 105.5ZM538.9 111.9L536.4 113.1L534.1 110.9L534.6 109.5L537.3 108L537.9 108.7ZM479.9 111.9L477.9 114.9L480.5 116.6L481.5 115.8L481.9 113.1ZM489.2 112.9L489.5 114.5L486.4 117L485.4 115.7L485.8 113.8ZM496.3 116.8L499.8 116.7L500.3 113.6L498.8 112.7L495.9 113.1L495.5 114.9ZM500.5 116.7L501 113.7L503 112.8L504.7 113.8L504.8 116.2L500.9 117.2ZM510.5 114.6L510.8 114.1L510.8 114.1L508.7 112.5L505.6 113.7L505.7 116.1L506.1 116.6ZM519.2 110.2L522.7 112.4L522 114.5L520 115.8L518.1 114.8L517.9 112.9ZM525.3 116.5L522.7 114.6L523.4 112.6L524.5 112L527.1 115.6ZM565.8 115L567.9 115.2L568.5 112.2L568.4 111.7L564.9 113.1ZM476.1 116.7L477.2 115.4L477.5 115.4L480.1 117L480.2 118.1L477.5 120.6L475.2 119.3ZM490.6 115.7L490.7 119L486.9 118.3L486.7 117.3L489.8 114.9ZM548.7 120.5L548.7 120.5L546 119.8L545.2 116.8L545.4 116.4L549.4 117.5L549 120.2ZM565.8 115.6L567.9 115.8L569.1 117.7L568.8 119.7L568.3 120.2L564.4 119.6L564.9 116.3ZM470.7 119.4L467.3 122.4L470.5 124.8L472.7 122.9L472.9 120.3ZM473.5 120.3L473.4 122.9L475.7 124.5L477.3 121.9L477.1 121.3L474.8 119.9ZM480.9 123.7L481.6 123.5L482.6 120.7L480.6 118.7L477.9 121.2L478.1 121.9ZM501.5 124.2L501.8 123.9L500.5 120.8L498 122L497.9 123.4ZM511.9 122.9L512.6 123.8L515.2 123.5L515.3 123.3L515.6 119.8L514.7 119L511.6 121.1ZM525.7 124.2L521.7 125.5L520.8 121.9L521.2 120.9L524 120.6ZM539.5 122.5L539.6 119.3L535.4 119.8L535.1 120.6L537.4 123.5ZM542.5 123.8L542.8 123.8L544 120.9L540.6 118.9L540.3 119.3L540.2 122.6ZM554.4 119.9L558.5 120.6L558 122L556.1 123.9L554.7 123.2ZM487.6 124.6L483.8 125.2L484 127.8L486.5 128.7L487.8 126.4ZM501.2 127.5L506.1 128.3L506.1 128.2L505.6 124.5L505.1 124L502.5 124.4L502.2 124.7ZM506.5 124.5L507 128.2L511.2 126.8L511.7 126L512 124.3L511.3 123.4ZM516.1 123.8L516 124L518.2 127.3L519.4 127.5L521.1 126L521.1 125.9L520.2 122.3ZM526 124.7L522 126L522 126.1L524.3 128.3L526.7 126.4L526.9 125ZM547.8 127.9L546.2 125.2L548.9 121.5L548.9 121.5L550.9 123.9L549.9 126.8L547.9 127.9ZM554.3 123.8L555.7 124.4L556.1 126L553.9 128.3L550.6 126.9L551.7 124ZM561 127.1L561.9 125.3L558.4 122.6L556.5 124.4L556.9 126L559.6 127.7ZM475.4 130.4L473.9 131.9L472.5 131.9L471.1 128L471.3 127.8L475.6 128ZM478.9 127.8L480.7 129.5L480.8 130L478.8 132.5L476.1 130.4L476.4 128L476.5 127.9ZM511.7 127.4L512.7 131.4L513.7 131.5L514.3 131.3L515.5 128.8L512.2 126.6ZM524.6 130.8L524 128.7L521.6 126.6L519.9 128.2L520.3 130.9L524.5 131ZM535.5 128.4L535.5 129.5L537.5 131.2L539.4 130L540 128.1L537.1 126.6ZM543.1 130.5L542.2 131.3L540.1 130.1L540.6 128.1L541.6 127.7L543.6 129.3ZM568.3 130.9L568.3 130.9L580 129.9L570.9 126.1L568.3 129.1ZM500.9 133L500.9 133.1L503.3 136L504.9 134.9L504.5 132.3ZM529.9 130.3L532.5 131.4L532.2 134.8L531.6 134.8L529.2 134.1L529.3 130.5ZM537.4 134L537.1 131.8L535.1 130.1L533.1 131.4L532.8 134.8L533.4 135.2ZM546.9 133.6L546.4 134.7L547.9 136.4L552 133.4L548.3 131.8ZM564.7 131.2L562.6 133.9L562.8 135L566.5 135.1L567.5 134.7L567.5 131.5L567.4 131.4ZM492.2 139.9L494 137.8L492 135.6L489.9 136.4L489.1 138.2ZM502.9 138.6L503 136.3L500.6 133.4L499.9 134.4L499.6 137.3ZM533.6 138.8L530.9 139.9L529.7 138.3L531.7 135.5L532.4 135.5L533 135.9ZM542.1 135L539.3 135.5L539.1 138.3L542.8 139.8L542.8 139.7L543.4 135.6ZM475 140.3L476.8 137.8L479.7 139.2L480.1 139.7L479.3 141.2L477.5 142.4L475.3 141.1ZM492.5 142.2L497.2 141.4L496.8 139.3L494.9 138.2L494.5 138.2L492.7 140.2ZM507.7 141.5L507.3 140.2L506.4 139.3L503.9 139.8L503.2 141.7L504.7 143.5ZM511.8 141.5L512.7 139.2L513.1 138.8L513.6 138.8L515.7 139.9L516 141.9L513.8 144.1L513.8 144.1ZM530.3 140.4L529.2 138.8L526.8 138.3L526.7 138.5L526.5 140.8L528.8 142.2L529.6 142ZM533.7 139.4L531 140.6L530.3 142.2L532.1 143.9L534.1 143L533.8 139.5ZM542.6 140.3L542.5 141.3L541.2 143.5L538.4 142.2L538.2 139.6L538.9 138.9ZM555.8 141.6L555.5 139.9L557.1 138.6L559.7 139.6L559.2 141.2L557.2 142ZM564 141.3L564 140.1L562 138.3L560.4 139.6L559.9 141.2L561.9 143.2ZM564.7 141.4L564.7 140.2L566.1 139.6L569.1 140L568.8 142.2L566.3 142.8ZM519.1 143.7L522.3 142.8L522.8 143.1L523.6 145.3L523.5 145.4L519.1 146.5ZM555 146.8L555.1 142.7L555.6 142.2L557 142.6L558.2 146.1L555 146.8ZM564.3 141.9L562.2 143.8L562.1 145L564.9 146.2L565.4 146L565.9 143.3ZM477.6 146L477.4 145.8L474.2 147.2L474.3 148.7L476.1 149.9L478.3 148.6ZM483 146.9L486.2 145.5L486.4 149.7L485.7 150L482.9 148.2ZM495.5 149.1L491.2 149.6L491.4 148.1L492.9 145.8L496 146.5L496.1 146.8ZM496.3 149.5L499.7 150L500.7 148.7L500.6 148.4L496.8 147L496.2 149.3ZM501.5 148.6L503.7 149.9L505.2 149.1L505.7 146.2L504.7 145.4L501.8 147.1L501.4 148.3ZM508.9 149.8L508.6 150.1L505.8 149.1L506.3 146.3L508.9 145.8ZM518.2 148.7L518.6 149.3L521.3 150.1L521.6 149.8L523.2 146L518.8 147.1L518.2 148.7ZM527 148.9L522.3 149.7L524 145.9L524.2 145.7L526.4 146.6L527.1 147.5ZM544.3 149.5L542 148.5L541.5 146.7L541.9 145.8L546.1 145.9L546.5 146.3L544.4 149.5ZM501.2 149.1L503.5 150.4L503.5 151.7L502.7 153.1L499.3 152.4L500.2 150.3ZM526.9 149.4L525.8 153L525.4 153.1L522.5 151.5L522 150.5L522.3 150.2L526.9 149.4ZM560.1 150.5L559.9 152.6L558.4 154.2L555.9 152.5L556.1 150.9L560 150.4ZM477.5 153.8L480.5 151.8L482.4 153.6L480.2 160.1ZM522.2 152.1L525.1 153.6L521.8 159.5L521.2 154.3Z" fill="#6c6c6c"/><path d="M482.3 9.1L487.1 7.2L486.2 3.6L482.7 2.8L480.6 4.5L480.5 5.2ZM503.8 10.7L507.5 7.7L505.4 4.2L501.4 3.9L501.1 5.2ZM518.6 6L516.7 10.3L513 6.4L514.4 3.8L514.5 3.6L517.6 3.6ZM546.5 3.3L545.9 4.4L545.9 5.5L550.3 7.7L550.5 7.6L552.7 4.1L551.7 2ZM559.2 4.6L559.2 4.7L559.6 6.4L562.6 7.5L564.2 7L566 3.5L564.4 1.7ZM503.2 11.4L503.3 11.3L500.6 5.7L497.5 9.4L498.1 11.8ZM554.4 15.5L549.8 11.7L550.9 8.7L551.1 8.6L556 11.2L556.3 12.8ZM561.6 13.8L562.9 13.1L562.3 8.4L559.3 7.3L557.1 11.1L557.3 12.8ZM471 18.5L467.2 15.3L468.9 13.7L473.1 13.6L474.6 16.9ZM505.5 17.4L508.2 19.5L509.8 22.9L509.6 23.2L503.9 23.3L503.1 22.6L504.2 18.7ZM523.2 18.2L521.4 19.3L521.9 23.6L523 24.4L527.3 22.8L526.7 18.5ZM537.2 19.9L536.3 17.4L532.9 19.6L532.8 23.1L532.9 23.1L537.1 21.1ZM561.7 18.7L562.6 19.5L564.1 23.5L558.6 23.8L558 23.1L557.5 20.5ZM510.7 23.5L510.6 23.8L510.7 26.6L512.5 28.7L515.5 26.7L516.2 24.7L514.1 22.3ZM522.4 27.5L522.4 25.3L521.4 24.4L517.3 24.9L516.6 26.9L519.1 29.5L522.2 28.6ZM544.4 22.1L546 24.3L545.1 27.7L541.5 28.4L539.8 27.2L540 23.8ZM547 24.4L550.1 23.8L551.8 25.3L551.9 26.7L548.6 30.7L546.1 27.8ZM486.3 26.7L483.8 30.6L483.9 31.6L488.9 31.3L488.9 31.3L488.9 28ZM470 31.8L466.9 35.8L470.6 37.2L471.4 36.6L471.6 33.3ZM476.2 32L472.4 33.3L472.2 36.6L476.2 37.1L476.7 36.6L477.7 33.6ZM488.5 36L486.1 37.2L484.6 36.4L483.4 32.8L483.8 32.3L488.8 32ZM518.6 35.1L517.2 33L513.2 32.7L513.3 36.9L517.7 37.5ZM523.6 34.5L519.3 35.3L518.4 37.7L518.4 37.7L523.3 38.1L523.9 36.2ZM512.5 41.7L512.1 38.9L513.2 37.6L517.5 38.2L517.6 38.2L518 41.6L515.7 43.2ZM529.6 39.3L524.7 36.7L524.1 38.6L524.3 40.9L526.5 42.3L529.1 41ZM541.8 42L544.6 43.7L548 41.3L547.9 40.2L546.2 38L543.7 38.4ZM556 44.3L560.5 43.1L561.1 42.6L558.1 37.8L555.8 39L555.5 43.7ZM563.2 37L564.2 39.8L563.3 41.9L561.7 42.2L558.6 37.4L558.8 37.2ZM564.2 42.2L565.1 40.1L574.4 37.9L566.4 44.2ZM485.7 43.3L481.6 43.1L480.6 44.1L480.1 46.4L482.4 48.5L483.2 48.6L486.6 46.6ZM486.6 43.1L487.5 46.3L489.3 46.9L491.4 45.9L491.4 41.7L487.4 41.7ZM498.3 45.8L498.5 43.2L504.1 41.9L504.7 43.2L504.3 46.2ZM509.5 48.4L505.4 47L505.1 46.5L505.5 43.6L510.4 43.4L509.6 48.3ZM516.3 44L518.6 42.3L519.8 42.7L521.3 46.6L520.3 47.7L516.3 47.4ZM531.7 42.9L532.6 46.7L532.7 46.7L537.4 45.7L537.7 43.6L537.1 42.8ZM549.4 46.8L549.5 46.9L554.7 48.1L555.2 47.4L555.2 44.9L554.8 44.3L550.5 43.7ZM562 43.2L563.7 42.8L565.8 44.9L566.5 47.1L565.8 48.1L562 48.3L561.4 43.7ZM476.2 47.9L479.4 47L481.8 49.1L479.7 53L475.8 50.6ZM489 47.7L489.7 52.2L485.3 51.5L483.9 49.2L487.2 47.1ZM497.7 50.6L497.1 47.1L493.8 47.1L493.8 51.5L497.3 51ZM503.3 49.9L500.6 51.4L498.5 50.5L497.8 46.9L498.2 46.4L504.1 46.8L504.4 47.4ZM509.5 49L505.3 47.7L504.2 50.2L507.3 54.3L509.5 51.4ZM516.4 52.3L516.6 52.4L520.8 51.2L520.1 48.5L516.2 48.2L516.1 48.3ZM537.9 47.4L535.5 52L534.6 52.7L534.3 52.5L532.7 47.5L537.4 46.4ZM564.1 52.5L566 50.9L565.8 48.8L561.9 49.1L561.1 49.7L561.1 51.4ZM469.9 52L467.3 53.1L470.3 58.1L473.7 55.4L473.4 52.9ZM475.5 51.3L479.4 53.7L479.6 55.6L476 56L474.5 55.4L474.3 52.8ZM482.4 49.8L483.2 49.9L484.6 52.1L483.9 56.6L482.6 57.3L482.3 57.3L480.5 55.6L480.3 53.7ZM495.7 56.3L494.6 56.7L491.2 53.6L491.2 53.6L493.5 52.2L497 51.7ZM522.4 54.9L522.2 52.5L521.3 51.7L517 52.9L519.7 55.8ZM484.9 62.1L483.1 58.1L484.4 57.4L487.6 57.3L489.5 60.8ZM500.2 58L500.3 60.8L495.6 60.8L494.4 59.5L495.1 57.4L496.2 57ZM502.1 57.1L506.3 56.6L506.5 60.3L505.3 62.1L501.6 61.5L501.3 60.9L501.2 58.1ZM512.1 57.7L512.7 61.3L512.6 61.4L507.5 60.2L507.3 56.5L507.7 56.1ZM541.6 59.7L540.8 56.7L541.3 56L545.1 55.9L546.4 57.3L545 59.5ZM558.6 56.5L558.2 55.9L557.9 55.8L552.3 57.8L554.4 60.7L556.5 60.5ZM560.6 57.5L559.1 56.7L556.9 60.7L558.6 62.5L561.1 58.5ZM469.2 66.4L472.9 65.7L469.7 60.8L464.8 64ZM475.2 66.3L473.7 65.5L470.5 60.6L470.6 60.4L476.1 61.7L477.1 62.6L477.2 63.5ZM482 64.9L478.3 63.3L478.2 62.4L482.1 58.5L482.5 58.5L484.2 62.6L484.1 63.1ZM490.9 61.4L493.9 60L495 61.3L495.4 65.4L491.1 63.7ZM509.2 65.9L506.9 64.3L506.1 62.6L507.4 60.8L512.5 62L512 63.5ZM518.8 64.5L521.4 65.8L522.6 65L522.3 61.5L518.8 60.2L517.1 61.8ZM540.5 62L541.9 64.5L543.5 65.8L546.8 64.9L544.9 60.3L541.5 60.5ZM548.8 65.1L548.5 64.9L551.3 58.4L551.5 58.5L553.6 61.4L552.8 64.9ZM558.2 63.2L558.7 64.9L558.6 64.9L554.9 66.1L553.6 65.1L554.4 61.6L556.5 61.4ZM561.5 59L564.2 61.6L562.8 64.2L559.4 64.6L559 63ZM481.6 65.8L477.9 64.2L475.9 67L476 67.8L479.2 70.7L480.8 70.1L481.9 68.7ZM486.5 68.5L482.8 68.5L482.5 65.6L484.6 63.8L487.4 66.6ZM475.5 68.4L472.7 70.9L472.4 73.4L474.1 74.2L478.3 72.4L478.6 71.3ZM486.5 69.1L487.8 71.9L484.9 73.2L481.7 70.6L482.8 69.1ZM516.6 73.5L520 73.7L521.1 71.3L520.3 69.5L516.3 70.1ZM472.1 79.7L474.8 78.1L473.7 75L471.9 74.2L470 75.1L471 78.8ZM522.3 78.8L521.6 77.9L521.8 76.4L526.4 74.9L527.1 75.6L526.6 78.6L525.5 79.6ZM533.1 78.5L531.4 80.3L527.5 78.6L528 75.6L532 75.3ZM556.2 78L559.6 78.3L560.9 76.2L560.9 76.2L560.3 74.7L556.7 74.5ZM471.8 80.3L470.6 79.4L466.4 81L469.7 83.3L471.8 81.4ZM555.8 78.6L559.2 78.9L559 81.1L556 83L555.1 82.7L554 79.7ZM538.6 87.7L540.9 87.4L541.2 83.7L537.8 82.5L537.2 83.9L537.1 86.5ZM550.6 87.3L551.1 85.6L554.7 83.4L555.6 83.7L556.5 85.5L554.3 88.4ZM471.2 88.6L471.4 90.4L469.1 93.5L461.8 89.4L469.5 87.8ZM499 91.7L499 91.9L502.6 92.5L504.7 91.7L502.4 88L499 90.5ZM519.9 90.3L517.9 91L515.5 89.5L515.5 89.5L518.1 86.2L519.7 87.5ZM535 92.9L537.6 91.2L538.2 88.3L536.6 87.2L533.4 88.1L533.3 91.2ZM544.5 91.6L542.7 88.3L545.4 86.6L549.3 87.9L549.1 88.7L544.6 91.6ZM554 93.4L554.5 93.4L555.7 91.2L554.1 89.1L550.4 88L550.3 88.1L550.1 88.9L551 91.7ZM554.8 88.9L557 85.9L559.4 87.9L559.1 89.9L556.4 90.9ZM469.9 95.3L472.8 95.7L473.8 93L471.9 90.9L469.6 94.1ZM483 96.1L482.7 96.5L478.8 96.6L478.5 96.3L478.8 93L479 92.7L482.1 93.1ZM489.5 92L488.6 92.9L488.4 95.4L493.6 95.7L491.9 91.9L491.8 91.8ZM502.3 96.5L502.5 93.1L499 92.4L498.7 93.5L501 97.6ZM506.6 96.2L507.2 94L507.2 92.4L505.3 92.1L503.2 93L503 96.5ZM539.6 95.8L538.2 96.8L535.3 95.4L535.3 93.6L537.9 91.9L540.3 93.8ZM548.7 95.1L550.9 92.3L553.8 94L551.6 96.5ZM488.1 96.7L488.7 99.3L490.5 99.3L493.8 96.6L493.5 96.3L488.4 96ZM494.8 97L495.9 99.1L493.7 101.3L491 99.5L494.3 96.8ZM541.7 97.2L540 96.4L538.6 97.4L538.7 98.9L540.8 101.3L543 99.3ZM552.1 97L554.3 94.5L554.8 94.4L557 97L556.9 98.7L556.5 99.3L552.9 100.4L552.2 99.7ZM557.9 98.8L562.8 100.1L563.1 99.7L563.4 96.5L560.7 95.4L558 97ZM480.9 103.7L484.2 101.9L482.7 99.8L479.9 99.9L480.2 103.4ZM498.8 100.5L499 101.9L497 105L494.1 102.8L494.1 101.8L496.3 99.5ZM507.4 98.9L509.5 100.3L509.7 103.5L508.3 104.7L505.3 103L505.2 100.8ZM511.6 99.4L514.9 101.3L513.7 103.7L513.4 103.8L510.4 103.5L510.2 100.3ZM526.3 104.4L525.7 101.5L523.6 99.7L521 101.2L521.1 102.2L522.8 104.6ZM530.9 100.4L529.9 103.7L527.6 104.8L527.1 104.4L526.5 101.5L529.6 100.1ZM546 99.5L546.3 99.9L546.1 103.7L543 104.4L541.2 103.4L541.3 101.8L543.5 99.8ZM547.1 100L546.9 103.8L547.5 104.3L551.7 104.1L552.1 101.1L551.5 100.4ZM478.1 104.3L475.6 103.2L473.4 105.4L473.3 107.1L475.2 108.5L476 108.3ZM479.3 109.9L476.3 109.1L475.5 109.4L475 112.3L477.2 114.5L477.4 114.5L479.4 111.5ZM488.3 109.1L491.6 107.3L493.8 108.9L493.6 110.4L489.8 111.9ZM507.8 108L503.6 109.2L503.5 112.2L505.2 113.2L508.3 112ZM554.1 108.7L552.7 106.9L550.4 109.2L550.7 112.1L553 111.3ZM563.7 111.9L564.6 109.4L567.5 109.4L568.1 110.1L568.2 111.3L564.8 112.7ZM471.1 115.3L471.9 113.3L469.7 111.6L465.2 113.8L470.1 116.4ZM471.8 115.4L472.6 113.4L474.6 112.7L476.7 114.9L475.6 116.3ZM513.6 111.7L511.7 114L511.7 114L514.9 115.8L517.2 114.8L517.1 112.9ZM534.1 116.5L530.8 115.4L531.1 112.5L533.6 111.4L536 113.6L535.5 115.2ZM544.2 111.5L545.4 112.9L544.9 115.7L544.6 116.1L541.4 116.6L540.9 112.9ZM569.1 112.4L575 114.4L569.7 117.3L568.4 115.4ZM471.5 115.9L475.4 116.8L474.4 119.3L473.1 119.7L471 118.8L470.6 117ZM491.2 115.9L494.9 115.4L495.6 117.2L494.7 119.2L492.2 120.2L491.3 119.2ZM497.8 121.4L495.5 119.3L496.5 117.4L499.9 117.3L500.3 117.8L500.7 119.4L500.3 120.2ZM515.2 118.3L516.1 119.2L520 119.5L519.6 116.5L517.7 115.4L515.4 116.4ZM540.7 118.5L544.2 120.4L545.3 119.8L544.5 116.7L541.3 117.2L540.9 117.8ZM553.7 119.2L553.9 116.5L551 115.9L550.1 117.3L549.6 120ZM497.1 123.3L497.2 121.9L494.9 119.8L492.4 120.9L492.1 122.2L492.9 123.3L496.2 124.8ZM509.6 119.8L510.7 121L511 122.8L506.2 123.9L505.7 123.4L505.9 120.5L506.6 119.6ZM516.3 119.7L520.2 120L520.6 120.6L520.2 121.7L516.1 123.2ZM553.8 119.8L554 123.1L551.4 123.3L549.4 120.9L549.6 120.5L553.8 119.7ZM559.9 119.6L562.7 120.4L562.6 124.4L562.2 124.8L558.6 122.1L559.2 120.6ZM480.6 124.3L478.9 127.1L476.4 127.3L476.1 125.1L477.7 122.4ZM491.8 127.8L488.4 126.1L488.2 124.4L488.2 124.4L491.4 122.6L492.2 123.7ZM530.7 124.6L530.3 124L527.6 125.2L527.4 126.5L528.5 129.4L529.1 129.6L529.7 129.4L531.2 126ZM537.4 126.1L540.2 127.5L541.2 127L542.2 124.4L539.8 123.1L537.7 124.1L537.5 124.7ZM543.9 128.8L541.9 127.2L542.9 124.6L543.1 124.5L545.6 125.4L547.2 128.1ZM481.7 130.2L484 132.3L486.3 131.6L486.6 131L486.3 129.3L483.8 128.4L481.6 129.6ZM491.8 128.5L488.3 126.8L487.1 129.1L487.4 130.8L491.3 130.9L492 128.8ZM492.6 129.1L492 131.1L492.8 132.7L494.6 132.5L495.7 131.4L495.8 128.4ZM525.1 130.8L528.1 129.8L526.9 126.9L524.5 128.7ZM543.7 130.6L546.6 133L548 131.3L547.6 128.7L547.5 128.7L544.2 129.4ZM548.3 128.7L550.3 127.6L553.6 129.1L553.7 130.8L552.6 132.9L552.5 132.9L548.8 131.3ZM478.5 133.1L478.6 133.8L476.4 135.5L475.6 135.1L474.4 132.4L475.9 131ZM487.7 134L489.6 135.7L491.7 134.9L492.2 133.1L491.3 131.5L487.4 131.4L487.1 132ZM524.5 131.6L524.8 134.9L523.3 135.3L519.6 133L520.3 131.5ZM553.8 134.1L556.2 134.6L558.7 132L558.5 131.5L554.4 131.1L553.2 133.3ZM471.7 138.4L471.9 136.9L475.3 135.7L476 136L476.3 137.4L474.5 139.9ZM482.8 135.2L483.9 137.6L483.9 138.5L483.8 138.6L480.7 139.3L480.4 138.8L480.4 135.1ZM484.6 137.5L487.3 134.6L489.3 136.3L488.4 138.1L487.4 139L484.6 138.5ZM503.5 138.8L503.6 136.5L505.2 135.4L507.3 136.8L506.4 138.8L503.8 139.2ZM512.1 138.8L512.5 138.3L509.7 135.6L508 136.8L507 138.9L507.9 139.8ZM538.5 135.5L537.6 134.7L533.6 135.9L534.3 138.8L534.4 138.9L537.6 139L538.3 138.3ZM564.2 139.6L562.2 137.8L562.2 136.4L562.5 135.6L566.3 135.7L565.6 139ZM480.7 139.8L480 141.3L482 143.2L483.9 142.4L483.8 139.1ZM491.8 142.4L492 140.4L488.9 138.7L487.9 139.5L488.8 142.7L491.5 142.9ZM509.2 142.4L508.3 141.4L507.9 140.2L512.1 139.2L511.2 141.4ZM481.4 145.6L481.6 143.6L479.6 141.8L477.8 143L477.9 145.2L478.1 145.5ZM508.8 142.9L507.9 141.9L505 144L505.3 144.8L506.3 145.7L508.9 145.2L508.9 145.1ZM509.4 142.9L509.5 145.1L512 145.6L513.4 144.6L511.4 141.9ZM534.4 143.6L535.7 144.1L536.4 146.7L536.2 146.9L532.6 147.1L532.1 146.5L532.4 144.6ZM546.8 145.5L546.5 143.5L548.4 141.6L550.3 144.3L549.9 146.4L549.9 146.4L547.2 145.9ZM554.5 146.8L550.5 146.3L550.9 144.3L552.4 143.1L554.5 142.8ZM486.9 149.6L486.8 145.4L486.8 145.4L486.9 145.3L490.5 148.1L490.4 149.6L490.1 150.1ZM532.8 150.6L535.4 150.6L536.2 149.9L536.3 147.5L532.7 147.6ZM550.5 151L554.7 149.8L554.4 147.4L554.4 147.4L550.5 146.9L550.4 146.9L550.2 150ZM489.6 153.6L490.4 152.3L490 150.8L486.8 150.3L486.2 150.6L485.2 152.6L486.2 153.7ZM495.6 149.9L495.9 152.8L495.1 153.7L491.3 152.2L490.9 150.7L491.2 150.1L495.5 149.7ZM518.5 149.8L521.3 150.6L521.8 151.7L520.8 153.8L517.9 153.2L517.7 152.4ZM532.7 151.1L535.3 151.1L536.1 154L533.5 154.4L531.9 152.2L531.9 151.8ZM539.7 151.2L536.7 150.3L535.9 151.1L536.7 154L538.2 155L539.7 152.9ZM517 152.8L517.2 153.7L515.8 161.6L513 154.3L513.5 153.3ZM547.4 154.6L546.5 162.6L543.1 153.9L544.8 152.4Z" fill="#787878"/><path d="M472.1 6.6L472.2 4.4L469.1 2.3L464 4.3L469.4 8.2ZM494.1 7L494.7 4L500.1 3.2L500.5 3.7L500.2 5L497.1 8.7ZM512.1 6.3L513.5 3.7L507.1 3L506.3 4.1L508.4 7.5L509.6 7.8ZM558.7 6.7L556.4 10.5L551.5 7.9L553.7 4.3L558.2 5ZM565.1 7.2L569.3 10.4L571.6 4.4L566.9 3.7ZM475.9 9.1L479.9 5.8L481.7 9.7L480.8 12.6L476.2 10.4ZM505.7 15.6L510.7 13.3L509.2 8.7L508 8.5L504.2 11.5L504.2 11.6ZM522.2 8L521.9 11.6L522.8 12.1L526.3 11.5L526 8.3L524.6 7ZM489.6 11.9L485.8 14.3L487.5 17.7L491.5 16L491.7 14.5ZM497.3 12.9L492.5 14.6L492.4 16.2L494.8 20L498.1 16.6ZM506.1 16.3L511.1 14L512.6 14.7L512.8 17L508.7 18.8L506 16.7ZM543.9 17.9L541.9 14.5L545.5 12.8L547.2 13.5L547.2 16.8L544.7 18.5ZM478.3 18.5L478.2 21.2L480.8 23.6L483.6 22.8L484.1 20.3L480.1 17ZM484.4 23L485.7 24L489.6 22.3L486.9 19.1L484.9 20.5ZM469.2 28.8L457.9 25.6L471 23.2L472.5 24.5L472.6 26.3ZM497.8 27.1L498.5 24L494.8 21.5L492.9 23.2L492.5 25.5L495.2 28.6ZM501.7 30L504.3 28L503.2 24L502.4 23.4L499.5 24.1L498.7 27.2ZM528.7 28.4L528.7 24L527.6 23.5L523.4 25.1L523.4 27.3ZM557.6 28.2L557.9 24.5L557.3 23.8L552.8 25.2L552.9 26.7L555.7 28.9ZM560.4 30L558.5 28.2L558.8 24.5L564.3 24.2L564.5 24.3L564.4 27.3ZM475.6 28.8L473.2 26.9L469.8 29.5L470.4 31.1L472 32.5L475.9 31.3ZM494.8 29.2L492 26.2L489.7 27.9L489.7 31.2L494 31.8ZM510.2 27.3L506.2 28.9L508.1 32.4L512 31.6L512 29.4ZM545.5 28.6L548.1 31.4L548.3 32.1L547.2 33.7L541.4 32.5L541.9 29.3ZM501.1 37.7L504.4 40.3L506.5 37.5L505.9 35.4L502.2 34.3ZM508.1 33.2L506.8 35.1L507.4 37.2L511.3 38.2L512.4 36.9L512.4 32.7L512.1 32.3ZM540.3 35.4L543.3 37.6L545.9 37.2L546.9 34.4L541 33.1L540.4 34.3ZM557.8 35L557.9 36.7L557.7 36.9L555.5 38.1L554.2 37.5L552 33.4L554.1 32.5ZM560.3 31.5L558.6 34.8L558.7 36.5L563.1 36.3L564.2 34.3ZM494.9 35.4L497.2 38.9L496.6 40.8L492.4 40.7L492.2 37.6ZM520.1 42L523.4 41L523.3 38.7L518.4 38.3L518.9 41.6ZM466.1 44.6L471 47.4L474 46.5L472.8 43.4L470.4 42.3ZM541.2 42.9L543.9 44.5L544.3 46.8L542.7 49.3L542.5 49.3L538.7 46.8L538.3 45.9L538.7 43.8ZM544.8 44.3L548.3 41.9L549.6 43.5L548.6 46.6L545.2 46.6ZM493.1 47.1L491.8 46.7L489.7 47.8L490.3 52.2L490.8 53L493.1 51.5ZM545.1 47.2L543.5 49.7L545.3 51L548.7 50.9L548.6 47.4L548.5 47.2ZM555.4 48.9L554.8 50.7L558.1 54.8L558.4 54.9L560.2 51.5L560.2 49.8L555.9 48.2ZM501.4 56.3L500.3 52.2L498.2 51.3L497.8 51.7L496.5 56.3L500.6 57.3ZM514 54L513.4 55.7L512.2 57.1L507.8 55.5L507.9 55L510 52ZM523.1 54.9L523 52.5L527 50L528.1 52.2L526.9 55.9L524.4 55.8ZM470.6 58.7L474 56L475.5 56.7L476 61L470.5 59.7ZM512.9 57.8L513.5 61.3L516.4 61.2L518.1 59.6L518.1 58.5L514.1 56.4ZM545.7 59.9L547.1 57.7L550 57.3L550.9 58.2L548.1 64.6L547.6 64.5ZM561.4 57.3L563.9 55.8L568 56.8L567.3 60.4L564.7 61L561.9 58.4ZM568.9 56.9L568.2 60.5L569.6 61.7L575.1 59.1L569.8 55.7ZM487.9 66.2L489.1 65.7L490.4 63.8L490.1 61.6L489.9 61.4L485.2 62.8L485.1 63.3ZM499.6 65L496.4 66L496.1 65.6L495.8 61.5L500.5 61.5L500.8 62.2ZM475.1 67.8L472.3 70.4L470.6 69.3L469.7 67L473.5 66.3L475 67.1ZM487.2 68.9L488.4 71.7L488.9 71.9L492.2 69.4L489.2 66.6L488.1 67ZM489.9 66.3L492.9 69.1L494.7 69L494.9 68.9L495.7 66.5L495.4 66.1L491.2 64.4ZM508.7 69.6L505.3 70.3L503.3 69.6L502.9 68.2L506.4 65L508.7 66.6ZM525.8 71.5L527 68.9L525.9 66.4L523.2 65.8L521.9 66.6L521.1 69L521.8 70.8ZM554.2 66.8L552.9 65.8L548.9 66L549.3 70.3L551.1 72.1L554.3 67.9ZM559.7 70.1L558.7 65.5L554.9 66.7L555 67.9L556.3 69.4ZM483.7 76L484.3 73.6L481.1 70.9L479.5 71.6L479.2 72.6L479.8 74.6ZM510.3 70.6L511.1 73.9L511.3 74L514.7 74.8L515.8 73.6L515.5 70.2L515 69.8ZM526.2 74.3L521.6 75.9L520.7 74L521.7 71.6L525.7 72.2ZM551.8 73.7L551.4 72.6L554.5 68.5L555.8 70L555.1 73.5ZM545 77.4L545.7 76.5L550.6 75.3L551.1 78.1L548.4 80.4ZM561.8 76.2L567.7 74.1L567.8 74.2L566.3 78.5L565.8 78.8L561.8 76.2ZM525.7 83.4L525.4 80.3L522.2 79.5L521.3 82.6L524.2 84.6ZM544.3 77.9L543.3 78.7L543.6 82L544.9 82.8L547.9 81.6L548 80.8L544.6 77.9ZM561.4 76.8L565.4 79.3L565.2 81.5L562.2 82.8L559.8 81L560.1 78.8ZM474.3 86.6L471.8 87.9L470 87.1L470 83.9L472.1 82L474.2 84.1ZM498.8 89.9L502.2 87.4L502.4 86.4L502 85.5L500 84.5L497.2 85.2L497.2 87.3ZM503.2 86.2L507.2 86.2L507.7 85.2L505 82.2L502.7 85.2ZM517.7 85.7L515.1 89L513.3 87L513 84.2L515.9 83.1L517.4 84.2ZM523.7 85L523.6 85.7L520.1 86.9L518.5 85.6L518.2 84.1L520.9 83ZM543.2 82.8L541.8 83.7L541.5 87.3L542.3 87.7L545 86L544.6 83.5ZM566.7 87.3L567.1 84.1L565.6 82.3L562.7 83.5L562.2 86.3L566 87.7ZM478.3 92L478.1 92.3L474.4 92.4L472.5 90.4L472.3 88.6L474.9 87.3L477.6 88.3L477.9 88.7ZM487.8 87.5L488.9 91.4L488 92.3L484.6 91.3L484.3 88.2L485.5 86.4ZM492.5 91.4L492.6 91.5L498.1 91.6L498.1 90.4L496.4 87.9L493.4 89.4ZM523.9 91.9L524.3 86.6L527.7 89.2L526.9 91.4L524.1 92.1ZM532.5 91.2L529.1 92.2L527.6 91.3L528.4 89.1L530.7 86.8L532.6 88.1ZM567.1 88.1L572.9 90.4L566.4 93.6L565.4 91.1L566.4 88.5ZM487.9 93L487.6 95.6L487.4 96.2L483.8 96L482.9 93L484.5 92ZM513.7 95.5L512.2 96.5L508 94L507.9 92.4L508.4 91.9L512.3 92.5ZM534.5 93.6L534.5 95.3L532.7 96.9L529.9 94.7L529.5 92.9L532.8 91.9ZM545.9 94.2L544.8 92.2L549.3 89.3L550.3 92.1L548.1 94.8L546.9 95.2ZM565.7 94.5L563.8 95.9L561.2 94.8L561 91.6L564.8 91.6L565.8 94.1ZM478.2 97.2L478.4 98.5L475.6 101.3L474 99.5L474.5 97.5L477.9 96.8ZM487.3 96.9L487.9 99.6L487.9 99.7L485 101.5L484.8 101.5L483.3 99.4L483.4 97.1L483.8 96.8ZM514.4 96.1L512.9 97.1L512 98.8L515.4 100.7L517.6 99L516.9 96.9L516.7 96.7ZM529.3 99.6L526.2 101L524 99.2L524.9 97.4L527.1 97.5ZM566.1 95.1L564.2 96.5L564 99.7L567.1 100.2L568.9 98.9L568.3 97ZM520.2 102.2L520.1 101.1L518 99.7L515.7 101.3L514.5 103.7L517.5 105ZM532.1 100.1L534.6 101.8L535.4 103.8L532.3 105.1L530.5 103.7L531.5 100.4ZM553 105.2L552.5 104.2L552.9 101.2L556.5 100.1L557.9 104.3ZM559.1 104.4L562.1 103.3L562.6 100.7L557.7 99.4L557.3 99.9L558.6 104.1ZM562.9 103.3L563.4 100.7L563.7 100.4L566.8 100.8L567.5 104.5L563.7 104.2ZM479.6 109.1L476.7 108.4L478.7 104.3L479.9 104.1L480.5 104.4L481.6 107.6ZM484.5 108.2L482.3 107.5L481.2 104.3L484.6 102.5L484.8 102.5L486.1 105.9L485.7 107.8ZM497.5 106.5L497.5 105.5L499.4 102.4L502.3 104.2L501.6 107.4L499.1 107.5ZM522.2 105.2L520.6 102.8L517.8 105.6L518.2 108.1L519.1 108.8L521.9 106.6ZM531.9 105.6L531.9 106.9L529.3 108.4L527.8 106.1L527.7 105.3L530.1 104.2ZM544.5 110.1L547 108.1L546.9 104.9L546.3 104.5L543.2 105.2L543.5 108.3ZM552.4 106.4L550.2 108.7L547.7 108L547.7 104.9L551.9 104.7L552.4 105.7ZM559.4 105L562.5 103.9L563.3 104.8L563.3 108.1L559.5 108.1ZM484.2 109L482 108.3L480 109.7L480.2 111.3L482.2 112.5L483.8 111.7ZM514.2 109.3L513.9 111.1L517.4 112.3L518.7 109.7L518.6 109.4L517.7 108.7L514.3 109.2ZM544 110.7L543 108.9L538.6 108.7L539.7 111.9L540.6 112.3L544 111ZM558.6 110.1L559.4 108.8L563.2 108.7L563.9 109.4L562.9 111.8L560.6 112.8L558.8 111.3ZM545.6 115.8L549.5 116.9L550.5 115.5L549.8 113.4L546.1 113ZM553 112L550.8 112.7L550.5 113.3L551.2 115.4L554.1 116L554.6 115.7L555.4 113.5ZM560.9 113.4L563.2 112.4L564.3 113.2L565.2 115.1L564.3 115.8L561 114.8ZM506.1 119.1L505.3 120L501.5 119.3L501.1 117.7L505.1 116.7L505.5 117.2ZM510.3 119.2L511.3 120.4L514.4 118.3L514.6 116.3L511.4 114.5L511.1 115.1ZM534.7 117.1L535.4 119.3L539.7 118.8L540 118.4L540.1 117.7L536.2 115.7ZM502.3 123.7L504.9 123.4L505.2 120.5L501.3 119.8L500.9 120.6ZM530.2 122.8L530 123.4L527.3 124.5L526.5 124.2L524.7 120.6L525 120.3L529 120.5ZM531.3 124.1L530.9 123.5L531.1 122.9L534.6 120.9L536.8 123.8L536.6 124.4ZM568.1 120.9L564.2 120.2L563.4 120.5L563.3 124.5L566.2 124.6L568.1 123.1ZM496.5 127.2L495.8 127.8L492.7 128.5L492.5 128.1L492.9 124L496.1 125.5ZM500.5 127.5L501.4 124.7L497.7 123.9L496.8 125.3L497.2 127.1L499.8 128ZM512.4 126L515.7 128.3L517.6 127.4L515.3 124.1L512.7 124.4ZM531.5 124.5L536.7 124.8L536.7 126.1L535.1 128L532 125.9ZM563.6 128.7L561.8 127.3L562.6 125.5L563.1 125.1L565.9 125.2L565.9 126.8ZM501 128.1L505.9 129L505.9 130.6L504.5 131.8L500.9 132.4L500.8 132.2L500.4 128.6ZM519.7 131L518.9 132.6L518.8 132.7L515 131.5L516.2 128.9L518.1 128L519.2 128.3ZM558.7 130.9L559.2 128.2L556.6 126.5L554.4 128.9L554.5 130.5ZM564.1 130.7L561.9 133.5L559.5 131.6L559.4 131.1L559.9 128.4L561.4 127.8L563.2 129.2ZM473.7 132.5L475 135.2L471.6 136.5L470.7 134.1L470.7 133.9L472.4 132.6ZM512.5 132.2L513.6 132.4L514.3 135.5L513.4 137.9L512.9 137.9L510.2 135.2L510.3 133.6ZM518.5 133.1L514.7 131.9L514.1 132.1L514.9 135.2L518 134.3ZM528.7 130.5L528.1 130.3L525.2 131.3L525.1 131.5L525.5 134.8L525.9 135.1L528.6 134.1ZM541.8 134.3L541.9 131.8L539.7 130.6L537.9 131.8L538.1 134L539 134.8ZM542.5 134.4L542.5 131.9L543.4 131.1L546.3 133.5L545.8 134.6L543.8 135ZM521.5 138.5L522 139.4L526.1 138.1L526.2 137.8L525.5 135.8L525.1 135.6L523.5 135.9ZM528.9 134.6L526.2 135.7L526.8 137.7L529.2 138.2L531.2 135.4ZM544.1 135.7L546.1 135.2L547.6 137L548.3 138.8L548.1 139L543.5 139.7ZM551.1 138.4L549 138.6L548.3 136.8L552.5 133.8L552.6 133.8L553.1 134.7L552.4 137.7ZM484.4 139.2L484.5 142.5L486.5 144.5L486.6 144.4L488.2 142.8L487.2 139.6L484.5 139.1ZM500.3 142.5L498.5 142.3L498 141.5L497.6 139.4L499.4 138L502.8 139.2L503.1 139.7L502.4 141.6ZM523.2 142.5L525.8 140.9L526.1 138.7L522 140L522.6 142.2ZM543.3 140.3L543.3 141.3L546.1 142.9L548 141L548 139.5L543.4 140.2ZM555.3 141.6L554.9 139.9L552.8 138.3L551.4 139L552.6 142.5L554.7 142.2ZM471.6 144.5L471.6 145.6L469.6 146.5L463.4 143.9L469.4 142.2ZM472.4 144.5L472.4 145.6L474 146.8L477.1 145.3L477.1 143L474.8 141.7ZM491.5 143.5L492.4 145.4L490.8 147.7L487.2 144.9L488.8 143.3ZM492.5 142.7L497.2 141.9L497.7 142.7L496.1 145.9L493.1 145.2L492.2 143.3ZM504.6 144.8L501.7 146.5L500.6 143L502.8 142.1L504.3 143.9ZM517.7 148.2L518.4 146.6L518.4 143.8L516.5 142.5L514.3 144.7ZM531.7 144.5L531.4 146.4L527.7 147.2L527.1 146.2L529 142.9L529.8 142.7ZM541.2 145.4L541 144.1L538.2 142.7L536.4 144L537.2 146.6L540.8 146.3ZM558.8 146L559.6 146.4L561.5 145L561.6 143.7L559.6 141.7L557.6 142.6ZM540.7 146.8L537.1 147.1L536.9 147.3L536.8 149.7L539.8 150.6L541.3 148.6ZM555.2 147.4L555.5 149.8L556 150.4L559.8 149.9L559.3 147L558.4 146.7ZM565.7 146.6L568.2 147.2L568.4 149.1L567.3 150.8L564.8 148.9L565.3 146.8ZM471.4 151.5L471.6 152.8L470.2 154.4L464.8 152L469.3 150.4ZM480.2 150.3L480.2 151.3L477.2 153.3L476.9 153.1L476.3 150.5L478.6 149.1ZM504.2 150.5L505.6 149.6L508.4 150.6L508.4 153.3L507.8 153.8L504.2 151.8ZM512.6 150L512.9 152.7L512.4 153.8L509.1 153.3L509.1 150.6L509.5 150.3L512.5 149.9ZM549.7 151.4L549.4 150.4L544.9 150L544.8 150.1L545 151.7L547.7 153.9L549.7 151.4ZM550.6 151.5L554.9 150.2L555.4 150.9L555.2 152.5L553.4 153.8L550.6 151.5ZM564.6 149.4L562.9 150.5L564.7 152.9L566 153.2L567.2 151.9L567.2 151.3ZM499.2 153L502.5 153.6L502.7 160.3L498.8 153.2Z" fill="#848484"/><path d="M467 5.5a2.4 2.6 0 1 0 4.8 0a2.4 2.6 0 1 0 -4.8 0M481.3 5.7a2 2.5 0 1 0 4 0a2 2.5 0 1 0 -4 0M507.8 5.7a1.6 1.6 0 1 0 3.3 0a1.6 1.6 0 1 0 -3.3 0M525.2 5.1a2.3 2.3 0 1 0 4.6 0a2.3 2.3 0 1 0 -4.6 0M531.6 4.7a2.1 2 0 1 0 4.2 0a2.1 2 0 1 0 -4.2 0M538.8 5.4a2.3 3 0 1 0 4.5 0a2.3 3 0 1 0 -4.5 0M470 10.6a2.5 2.2 0 1 0 5 0a2.5 2.2 0 1 0 -5 0M476.6 9.8a2.3 2.3 0 1 0 4.5 0a2.3 2.3 0 1 0 -4.5 0M491.6 11.2a2.3 2.8 0 1 0 4.5 0a2.3 2.8 0 1 0 -4.5 0M498.2 10.2a2.4 2.7 0 1 0 4.8 0a2.4 2.7 0 1 0 -4.8 0M504.5 11.8a2.4 2.6 0 1 0 4.9 0a2.4 2.6 0 1 0 -4.9 0M517.2 10.6a1.8 1.8 0 1 0 3.7 0a1.8 1.8 0 1 0 -3.7 0M521.8 10.1a2.2 2.6 0 1 0 4.4 0a2.2 2.6 0 1 0 -4.4 0M527.3 10.3a2.2 2.8 0 1 0 4.5 0a2.2 2.8 0 1 0 -4.5 0M533.3 10.9a2.6 3.4 0 1 0 5.3 0a2.6 3.4 0 1 0 -5.3 0M482.2 17.1a2 1.9 0 1 0 4 0a2 1.9 0 1 0 -4 0M499.4 15.2a2.4 2.2 0 1 0 4.7 0a2.4 2.2 0 1 0 -4.7 0M507.4 16.5a2.2 2.7 0 1 0 4.3 0a2.2 2.7 0 1 0 -4.3 0M513.9 16.1a2 2.1 0 1 0 4 0a2 2.1 0 1 0 -4 0M537.4 16.4a1.7 1.9 0 1 0 3.3 0a1.7 1.9 0 1 0 -3.3 0M555.3 16.9a2.4 2.2 0 1 0 4.9 0a2.4 2.2 0 1 0 -4.9 0M567.7 15.9a2.5 2.9 0 1 0 5 0a2.5 2.9 0 1 0 -5 0M497.2 20.8a1.7 2 0 1 0 3.5 0a1.7 2 0 1 0 -3.5 0M504.7 21.4a1.6 1.8 0 1 0 3.2 0a1.6 1.8 0 1 0 -3.2 0M514.9 21.6a3.1 2.6 0 1 0 6.1 0a3.1 2.6 0 1 0 -6.1 0M521.5 21.4a2.4 2.4 0 1 0 4.8 0a2.4 2.4 0 1 0 -4.8 0M528 20.9a1.7 2 0 1 0 3.4 0a1.7 2 0 1 0 -3.4 0M539.3 20.8a2 2.2 0 1 0 4 0a2 2.2 0 1 0 -4 0M551.7 21.6a2.3 2.7 0 1 0 4.6 0a2.3 2.7 0 1 0 -4.6 0M558.1 21.8a2.3 2.3 0 1 0 4.6 0a2.3 2.3 0 1 0 -4.6 0M564.2 21.2a1.8 2.1 0 1 0 3.7 0a1.8 2.1 0 1 0 -3.7 0M474.7 25.5a2.2 2.5 0 1 0 4.4 0a2.2 2.5 0 1 0 -4.4 0M481.9 26.1a1.5 1.8 0 1 0 2.9 0a1.5 1.8 0 1 0 -2.9 0M493.1 25.3a2.2 3.1 0 1 0 4.4 0a2.2 3.1 0 1 0 -4.4 0M500.1 26.4a1.5 2 0 1 0 3 0a1.5 2 0 1 0 -3 0M504.6 26.5a2.3 2.5 0 1 0 4.5 0a2.3 2.5 0 1 0 -4.5 0M510.3 25.5a2.6 2.7 0 1 0 5.2 0a2.6 2.7 0 1 0 -5.2 0M518.3 27a1.9 2.1 0 1 0 3.8 0a1.9 2.1 0 1 0 -3.8 0M565.7 26.1a2.1 1.7 0 1 0 4.3 0a2.1 1.7 0 1 0 -4.3 0M490.1 29.6a1.9 2 0 1 0 3.9 0a1.9 2 0 1 0 -3.9 0M501.9 32.1a2.3 2.1 0 1 0 4.6 0a2.3 2.1 0 1 0 -4.6 0M507.8 30.2a1.9 2.2 0 1 0 3.9 0a1.9 2.2 0 1 0 -3.9 0M536.8 30.9a2.1 2.6 0 1 0 4.2 0a2.1 2.6 0 1 0 -4.2 0M550.2 31.1a1.6 1.5 0 1 0 3.1 0a1.6 1.5 0 1 0 -3.1 0M556.4 31.3a1.3 1.8 0 1 0 2.6 0a1.3 1.8 0 1 0 -2.6 0M468.3 35.2a1.8 2.2 0 1 0 3.6 0a1.8 2.2 0 1 0 -3.6 0M473.3 35.2a1.9 2.2 0 1 0 3.9 0a1.9 2.2 0 1 0 -3.9 0M483.7 34.7a2.2 1.9 0 1 0 4.3 0a2.2 1.9 0 1 0 -4.3 0M490.2 34.2a1.8 2.1 0 1 0 3.5 0a1.8 2.1 0 1 0 -3.5 0M501.9 37.3a2.1 2.5 0 1 0 4.2 0a2.1 2.5 0 1 0 -4.2 0M524.7 35.9a2.4 2.6 0 1 0 4.8 0a2.4 2.6 0 1 0 -4.8 0M529.5 34.5a2 2.2 0 1 0 4.1 0a2 2.2 0 1 0 -4.1 0M540.6 35.6a2.3 2.1 0 1 0 4.6 0a2.3 2.1 0 1 0 -4.6 0M547.9 36.1a1.5 1.4 0 1 0 3 0a1.5 1.4 0 1 0 -3 0M553.5 36a2.1 1.9 0 1 0 4.1 0a2.1 1.9 0 1 0 -4.1 0M559.4 35a1.5 1.9 0 1 0 3.1 0a1.5 1.9 0 1 0 -3.1 0M471.1 39.9a1.9 1.9 0 1 0 3.9 0a1.9 1.9 0 1 0 -3.9 0M498.5 40.9a1.9 2.1 0 1 0 3.8 0a1.9 2.1 0 1 0 -3.8 0M505.1 41.3a2.9 2.9 0 1 0 5.7 0a2.9 2.9 0 1 0 -5.7 0M519.1 40.6a1.7 2 0 1 0 3.4 0a1.7 2 0 1 0 -3.4 0M537.5 40.2a1.8 1.8 0 1 0 3.7 0a1.8 1.8 0 1 0 -3.7 0M549.7 41.1a2.2 2.6 0 1 0 4.4 0a2.2 2.6 0 1 0 -4.4 0M555.4 42a2.4 2.4 0 1 0 4.9 0a2.4 2.4 0 1 0 -4.9 0M500.4 44.4a1.6 2 0 1 0 3.2 0a1.6 2 0 1 0 -3.2 0M510.8 45.8a2.6 2.6 0 1 0 5.2 0a2.6 2.6 0 1 0 -5.2 0M521.4 44.2a2.3 2.3 0 1 0 4.5 0a2.3 2.3 0 1 0 -4.5 0M526.6 45.1a2.1 2.7 0 1 0 4.3 0a2.1 2.7 0 1 0 -4.3 0M532.1 45a2.8 2.4 0 1 0 5.5 0a2.8 2.4 0 1 0 -5.5 0M545.7 44.9a1.6 2.4 0 1 0 3.3 0a1.6 2.4 0 1 0 -3.3 0M550.3 46.3a2.4 2.3 0 1 0 4.9 0a2.4 2.3 0 1 0 -4.9 0M556.4 47.1a2.6 2.4 0 1 0 5.1 0a2.6 2.4 0 1 0 -5.1 0M476.1 49.8a2.5 2.5 0 1 0 5 0a2.5 2.5 0 1 0 -5 0M499.2 48.8a1.8 2 0 1 0 3.5 0a1.8 2 0 1 0 -3.5 0M505.1 50.8a2.1 2.7 0 1 0 4.2 0a2.1 2.7 0 1 0 -4.2 0M510.8 50.9a1.9 2.5 0 1 0 3.9 0a1.9 2.5 0 1 0 -3.9 0M537.4 50.8a2 2.6 0 1 0 4 0a2 2.6 0 1 0 -4 0M544.7 49.2a1.9 1.6 0 1 0 3.8 0a1.9 1.6 0 1 0 -3.8 0M561.7 50.7a1.6 2 0 1 0 3.2 0a1.6 2 0 1 0 -3.2 0M567.6 50.1a2 1.8 0 1 0 3.9 0a2 1.8 0 1 0 -3.9 0M474.8 54.4a1.8 2.1 0 1 0 3.6 0a1.8 2.1 0 1 0 -3.6 0M492.5 54.3a1.3 1.2 0 1 0 2.7 0a1.3 1.2 0 1 0 -2.7 0M497.5 54.5a1.7 1.8 0 1 0 3.3 0a1.7 1.8 0 1 0 -3.3 0M508.1 55.2a2.8 2.5 0 1 0 5.7 0a2.8 2.5 0 1 0 -5.7 0M514.9 55.3a1.6 1.8 0 1 0 3.2 0a1.6 1.8 0 1 0 -3.2 0M519 53.9a1.5 1.3 0 1 0 3 0a1.5 1.3 0 1 0 -3 0M541.7 52.8a1.4 1.6 0 1 0 2.7 0a1.4 1.6 0 1 0 -2.7 0M545.9 54.4a2.1 2.3 0 1 0 4.2 0a2.1 2.3 0 1 0 -4.2 0M559.6 55.1a1.6 2.1 0 1 0 3.3 0a1.6 2.1 0 1 0 -3.3 0M476.1 59.1a2.4 2.5 0 1 0 4.7 0a2.4 2.5 0 1 0 -4.7 0M489.9 58.6a1.5 1.8 0 1 0 2.9 0a1.5 1.8 0 1 0 -2.9 0M495.6 59.2a1.4 1.7 0 1 0 2.8 0a1.4 1.7 0 1 0 -2.8 0M508.2 59.2a1.8 2.2 0 1 0 3.5 0a1.8 2.2 0 1 0 -3.5 0M524.4 58.4a1.7 1.6 0 1 0 3.3 0a1.7 1.6 0 1 0 -3.3 0M535.5 59.9a2.1 2.8 0 1 0 4.1 0a2.1 2.8 0 1 0 -4.1 0M554.1 58.2a2.2 2.5 0 1 0 4.4 0a2.2 2.5 0 1 0 -4.4 0M562.1 58.6a2.4 2.3 0 1 0 4.8 0a2.4 2.3 0 1 0 -4.8 0M472.2 63.2a2.1 2.5 0 1 0 4.2 0a2.1 2.5 0 1 0 -4.2 0M500.8 64.8a2.3 2.4 0 1 0 4.7 0a2.3 2.4 0 1 0 -4.7 0M507.1 63.5a1.9 1.8 0 1 0 3.7 0a1.9 1.8 0 1 0 -3.7 0M513.1 63.8a1.7 1.6 0 1 0 3.5 0a1.7 1.6 0 1 0 -3.5 0M518.6 63.4a1.6 1.7 0 1 0 3.2 0a1.6 1.7 0 1 0 -3.2 0M524.2 63.1a1.6 1.6 0 1 0 3.3 0a1.6 1.6 0 1 0 -3.3 0M535.9 64.8a1.8 2.1 0 1 0 3.6 0a1.8 2.1 0 1 0 -3.6 0M549.1 62.5a2 1.8 0 1 0 3.9 0a2 1.8 0 1 0 -3.9 0M559.5 62.8a1.8 2.4 0 1 0 3.7 0a1.8 2.4 0 1 0 -3.7 0M564.5 63.8a2.2 2.7 0 1 0 4.4 0a2.2 2.7 0 1 0 -4.4 0M471.4 68.3a1.3 1.5 0 1 0 2.6 0a1.3 1.5 0 1 0 -2.6 0M476.7 68.1a2.3 2.8 0 1 0 4.7 0a2.3 2.8 0 1 0 -4.7 0M482.8 66.9a2 1.7 0 1 0 4 0a2 1.7 0 1 0 -4 0M496.9 68.8a2.5 2.5 0 1 0 4.9 0a2.5 2.5 0 1 0 -4.9 0M504.5 68.5a1.4 1.4 0 1 0 2.8 0a1.4 1.4 0 1 0 -2.8 0M516.3 68.1a1.5 1.6 0 1 0 3 0a1.5 1.6 0 1 0 -3 0M522.1 68.7a1.7 2.3 0 1 0 3.4 0a1.7 2.3 0 1 0 -3.4 0M467.3 72.8a1.7 1.4 0 1 0 3.4 0a1.7 1.4 0 1 0 -3.4 0M473.1 72.1a2.2 2.1 0 1 0 4.4 0a2.2 2.1 0 1 0 -4.4 0M482.2 71.1a2.6 2.8 0 1 0 5.1 0a2.6 2.8 0 1 0 -5.1 0M490.6 72.2a1.7 1.9 0 1 0 3.3 0a1.7 1.9 0 1 0 -3.3 0M494.9 72.9a2.1 2.8 0 1 0 4.2 0a2.1 2.8 0 1 0 -4.2 0M517.3 71.9a1.6 1.6 0 1 0 3.1 0a1.6 1.6 0 1 0 -3.1 0M521.1 73.9a2 2.2 0 1 0 4.1 0a2 2.2 0 1 0 -4.1 0M527.3 73a2.3 3 0 1 0 4.7 0a2.3 3 0 1 0 -4.7 0M535 72.3a1.9 1.8 0 1 0 3.9 0a1.9 1.8 0 1 0 -3.9 0M541.1 74.1a1.9 1.9 0 1 0 3.7 0a1.9 1.9 0 1 0 -3.7 0M551.4 71.9a2.3 2.3 0 1 0 4.6 0a2.3 2.3 0 1 0 -4.6 0M561.8 73.1a2.1 2.2 0 1 0 4.1 0a2.1 2.2 0 1 0 -4.1 0M475.5 76.2a1.7 1.6 0 1 0 3.3 0a1.7 1.6 0 1 0 -3.3 0M479.2 78.5a1.5 1.8 0 1 0 3.1 0a1.5 1.8 0 1 0 -3.1 0M485.9 76.2a1.6 1.8 0 1 0 3.1 0a1.6 1.8 0 1 0 -3.1 0M506.2 77.8a2 2 0 1 0 4 0a2 2 0 1 0 -4 0M511.5 77.1a1.5 1.7 0 1 0 3 0a1.5 1.7 0 1 0 -3 0M515.8 76.7a2.1 2.3 0 1 0 4.3 0a2.1 2.3 0 1 0 -4.3 0M522.1 77.7a2.4 2.1 0 1 0 4.7 0a2.4 2.1 0 1 0 -4.7 0M528.3 78a2.1 2.1 0 1 0 4.2 0a2.1 2.1 0 1 0 -4.2 0M533 76.8a2.6 2.7 0 1 0 5.2 0a2.6 2.7 0 1 0 -5.2 0M546.4 77.9a1.8 1.7 0 1 0 3.6 0a1.8 1.7 0 1 0 -3.6 0M551.6 76.5a2 2.6 0 1 0 3.9 0a2 2.6 0 1 0 -3.9 0M557.4 76.6a1.7 2.1 0 1 0 3.3 0a1.7 2.1 0 1 0 -3.3 0M563.6 76.6a1.6 1.8 0 1 0 3.1 0a1.6 1.8 0 1 0 -3.1 0M473.7 80.9a1.5 1.3 0 1 0 2.9 0a1.5 1.3 0 1 0 -2.9 0M480.7 81.1a2.6 2.8 0 1 0 5.2 0a2.6 2.8 0 1 0 -5.2 0M490.4 81.7a1.4 1.5 0 1 0 2.9 0a1.4 1.5 0 1 0 -2.9 0M495.8 82.1a2.1 2.4 0 1 0 4.2 0a2.1 2.4 0 1 0 -4.2 0M501.6 81.6a1.4 1.8 0 1 0 2.8 0a1.4 1.8 0 1 0 -2.8 0M517 81.2a2 2.2 0 1 0 4 0a2 2.2 0 1 0 -4 0M526.3 82.1a2.3 2.5 0 1 0 4.6 0a2.3 2.5 0 1 0 -4.6 0M532.9 81.6a1.8 2.4 0 1 0 3.6 0a1.8 2.4 0 1 0 -3.6 0M538.6 81a1.7 2.2 0 1 0 3.3 0a1.7 2.2 0 1 0 -3.3 0M543.3 80.5a1.9 1.9 0 1 0 3.9 0a1.9 1.9 0 1 0 -3.9 0M548.9 81.8a2.3 2.5 0 1 0 4.7 0a2.3 2.5 0 1 0 -4.7 0M469.5 85.6a2.6 2.8 0 1 0 5.2 0a2.6 2.8 0 1 0 -5.2 0M475 84.1a2.7 3 0 1 0 5.4 0a2.7 3 0 1 0 -5.4 0M480 86.2a2.2 2.4 0 1 0 4.4 0a2.2 2.4 0 1 0 -4.4 0M487.2 85.6a1.2 1.4 0 1 0 2.4 0a1.2 1.4 0 1 0 -2.4 0M491.5 86.2a2.4 2.5 0 1 0 4.8 0a2.4 2.5 0 1 0 -4.8 0M498.5 86.9a1.4 1.7 0 1 0 2.9 0a1.4 1.7 0 1 0 -2.9 0M508.3 86.3a1.8 1.9 0 1 0 3.6 0a1.8 1.9 0 1 0 -3.6 0M519.4 85.4a1.4 1.7 0 1 0 2.9 0a1.4 1.7 0 1 0 -2.9 0M525.6 86.1a1.2 1.5 0 1 0 2.5 0a1.2 1.5 0 1 0 -2.5 0M531.6 85.7a1.6 2.1 0 1 0 3.1 0a1.6 2.1 0 1 0 -3.1 0M537.5 85.6a1.3 1.5 0 1 0 2.7 0a1.3 1.5 0 1 0 -2.7 0M541.5 85.5a1.6 1.7 0 1 0 3.2 0a1.6 1.7 0 1 0 -3.2 0M546.7 85.7a1.5 1.3 0 1 0 3 0a1.5 1.3 0 1 0 -3 0M563 85.5a2 2.2 0 1 0 4 0a2 2.2 0 1 0 -4 0M466.5 90.2a2.2 2.5 0 1 0 4.3 0a2.2 2.5 0 1 0 -4.3 0M484.7 89.8a1.8 2.6 0 1 0 3.7 0a1.8 2.6 0 1 0 -3.7 0M493.6 90.7a1.5 1.9 0 1 0 3.1 0a1.5 1.9 0 1 0 -3.1 0M499.6 91.4a1.5 1.3 0 1 0 3.1 0a1.5 1.3 0 1 0 -3.1 0M520.6 88.6a1.8 2.4 0 1 0 3.7 0a1.8 2.4 0 1 0 -3.7 0M523.5 90.5a1.9 2.4 0 1 0 3.7 0a1.9 2.4 0 1 0 -3.7 0M539 90.5a1.8 2.3 0 1 0 3.6 0a1.8 2.3 0 1 0 -3.6 0M559.9 89.4a2.1 2.4 0 1 0 4.3 0a2.1 2.4 0 1 0 -4.3 0M566 90.6a1.6 1.7 0 1 0 3.2 0a1.6 1.7 0 1 0 -3.2 0M469.5 94.1a2.1 2.1 0 1 0 4.1 0a2.1 2.1 0 1 0 -4.1 0M478.6 95.2a1.8 2 0 1 0 3.5 0a1.8 2 0 1 0 -3.5 0M489.1 93.6a1.5 1.8 0 1 0 3 0a1.5 1.8 0 1 0 -3 0M494.2 94.3a1.7 2.4 0 1 0 3.5 0a1.7 2.4 0 1 0 -3.5 0M504.3 94.3a1.2 1.5 0 1 0 2.3 0a1.2 1.5 0 1 0 -2.3 0M536 94.9a1.8 2.2 0 1 0 3.5 0a1.8 2.2 0 1 0 -3.5 0M549.8 94.8a1.4 1.7 0 1 0 2.8 0a1.4 1.7 0 1 0 -2.8 0M561.6 94a2.1 2.2 0 1 0 4.2 0a2.1 2.2 0 1 0 -4.2 0M567.2 93.6a3.2 3.2 0 1 0 6.4 0a3.2 3.2 0 1 0 -6.4 0M496.7 98a1.8 2.1 0 1 0 3.5 0a1.8 2.1 0 1 0 -3.5 0M507.6 97.8a1.6 1.9 0 1 0 3.2 0a1.6 1.9 0 1 0 -3.2 0M513.9 98.2a1.3 1.4 0 1 0 2.5 0a1.3 1.4 0 1 0 -2.5 0M525.1 99.2a1.2 1.2 0 1 0 2.4 0a1.2 1.2 0 1 0 -2.4 0M529.2 98.4a1.2 1.6 0 1 0 2.4 0a1.2 1.6 0 1 0 -2.4 0M533.5 98.7a1.7 1.6 0 1 0 3.5 0a1.7 1.6 0 1 0 -3.5 0M543 97.4a1.8 1.7 0 1 0 3.6 0a1.8 1.7 0 1 0 -3.6 0M559.1 98.2a1.8 2.2 0 1 0 3.7 0a1.8 2.2 0 1 0 -3.7 0M564.8 98.2a1.6 1.7 0 1 0 3.2 0a1.6 1.7 0 1 0 -3.2 0M476.5 102a1.5 1.4 0 1 0 3 0a1.5 1.4 0 1 0 -3 0M489.7 102.1a1.2 1.6 0 1 0 2.3 0a1.2 1.6 0 1 0 -2.3 0M510.4 102.3a2 2 0 1 0 4 0a2 2 0 1 0 -4 0M521.6 102.6a1.8 1.7 0 1 0 3.5 0a1.8 1.7 0 1 0 -3.5 0M542.5 102.1a1.4 1.3 0 1 0 2.7 0a1.4 1.3 0 1 0 -2.7 0M557.3 102.3a2.2 2.2 0 1 0 4.5 0a2.2 2.2 0 1 0 -4.5 0M562.5 102.6a2.2 1.8 0 1 0 4.3 0a2.2 1.8 0 1 0 -4.3 0M477.8 106.6a1.7 1.9 0 1 0 3.5 0a1.7 1.9 0 1 0 -3.5 0M497.9 105.9a1.7 1.9 0 1 0 3.4 0a1.7 1.9 0 1 0 -3.4 0M513.6 106.5a1.8 1.6 0 1 0 3.5 0a1.8 1.6 0 1 0 -3.5 0M528.2 106.4a1.6 1.3 0 1 0 3.1 0a1.6 1.3 0 1 0 -3.1 0M538.2 106.7a1.9 1.8 0 1 0 3.7 0a1.9 1.8 0 1 0 -3.7 0M543.4 107.2a1.9 2.3 0 1 0 3.8 0a1.9 2.3 0 1 0 -3.8 0M549.2 106.7a1.2 1.7 0 1 0 2.5 0a1.2 1.7 0 1 0 -2.5 0M554.6 107.2a1.8 2.2 0 1 0 3.6 0a1.8 2.2 0 1 0 -3.6 0M564.3 107.2a1.6 1.4 0 1 0 3.2 0a1.6 1.4 0 1 0 -3.2 0M475.2 111.9a2 1.9 0 1 0 4 0a2 1.9 0 1 0 -4 0M480 110.7a2 2.1 0 1 0 4 0a2 2.1 0 1 0 -4 0M499.6 110.7a1.6 1.7 0 1 0 3.1 0a1.6 1.7 0 1 0 -3.1 0M509 110.6a1.6 1.8 0 1 0 3.2 0a1.6 1.8 0 1 0 -3.2 0M514.9 110.3a1.5 1.6 0 1 0 3 0a1.5 1.6 0 1 0 -3 0M545.5 111.4a2 2.3 0 1 0 4 0a2 2.3 0 1 0 -4 0M554.7 111.3a1.3 1.7 0 1 0 2.7 0a1.3 1.7 0 1 0 -2.7 0M564.8 111.1a1.4 1.3 0 1 0 2.7 0a1.4 1.3 0 1 0 -2.7 0M472.7 114.8a1.6 1.8 0 1 0 3.2 0a1.6 1.8 0 1 0 -3.2 0M478.8 114.8a1.6 1.9 0 1 0 3.1 0a1.6 1.9 0 1 0 -3.1 0M486.1 115.1a1.2 1.1 0 1 0 2.4 0a1.2 1.1 0 1 0 -2.4 0M495.9 114.9a1.8 2.1 0 1 0 3.6 0a1.8 2.1 0 1 0 -3.6 0M518.1 113.7a1.8 2.5 0 1 0 3.7 0a1.8 2.5 0 1 0 -3.7 0M531.4 114.4a2.1 1.9 0 1 0 4.2 0a2.1 1.9 0 1 0 -4.2 0M546.9 115.2a1.4 1.5 0 1 0 2.7 0a1.4 1.5 0 1 0 -2.7 0M562 114.4a1.2 1.6 0 1 0 2.4 0a1.2 1.6 0 1 0 -2.4 0M569.2 115.2a1.3 1.7 0 1 0 2.6 0a1.3 1.7 0 1 0 -2.6 0M476.1 117.8a1.6 1.3 0 1 0 3.1 0a1.6 1.3 0 1 0 -3.1 0M487.4 117.3a1.5 1.9 0 1 0 2.9 0a1.5 1.9 0 1 0 -2.9 0M491.8 118.1a1.5 2 0 1 0 3 0a1.5 2 0 1 0 -3 0M496.8 119.3a1.9 2.1 0 1 0 3.9 0a1.9 2.1 0 1 0 -3.9 0M506.9 117.9a1.4 1.6 0 1 0 2.8 0a1.4 1.6 0 1 0 -2.8 0M510.8 117.6a1.4 1.7 0 1 0 2.8 0a1.4 1.7 0 1 0 -2.8 0M515.9 117.8a1.5 1.7 0 1 0 2.9 0a1.5 1.7 0 1 0 -2.9 0M520.6 118.7a2 2.1 0 1 0 4 0a2 2.1 0 1 0 -4 0M526.3 118.1a1.1 1.2 0 1 0 2.1 0a1.1 1.2 0 1 0 -2.1 0M530.1 119.1a1.9 1.9 0 1 0 3.8 0a1.9 1.9 0 1 0 -3.8 0M535.5 118.1a2.2 2.1 0 1 0 4.4 0a2.2 2.1 0 1 0 -4.4 0M541.6 118.7a1.2 1.6 0 1 0 2.4 0a1.2 1.6 0 1 0 -2.4 0M546.1 119.1a1.4 1.4 0 1 0 2.7 0a1.4 1.4 0 1 0 -2.7 0M550.2 118.1a1.5 1.5 0 1 0 3 0a1.5 1.5 0 1 0 -3 0M473.6 122.1a1.7 1.7 0 1 0 3.5 0a1.7 1.7 0 1 0 -3.5 0M487.2 121.2a1.8 2.4 0 1 0 3.7 0a1.8 2.4 0 1 0 -3.7 0M501.4 121.9a1.5 1.7 0 1 0 3 0a1.5 1.7 0 1 0 -3 0M505.7 121.9a2.3 2.9 0 1 0 4.6 0a2.3 2.9 0 1 0 -4.6 0M512.3 122.2a1.6 2 0 1 0 3.2 0a1.6 2 0 1 0 -3.2 0M517.5 121.4a1.1 1.4 0 1 0 2.3 0a1.1 1.4 0 1 0 -2.3 0M521 122.9a1.7 2.2 0 1 0 3.4 0a1.7 2.2 0 1 0 -3.4 0M532 123.6a1.5 2.1 0 1 0 3 0a1.5 2.1 0 1 0 -3 0M544.5 122.5a1.1 1.5 0 1 0 2.2 0a1.1 1.5 0 1 0 -2.2 0M563.5 122.6a2.1 2.4 0 1 0 4.2 0a2.1 2.4 0 1 0 -4.2 0M471.6 126.3a2.1 2 0 1 0 4.3 0a2.1 2 0 1 0 -4.3 0M480.1 126.6a1.6 1.8 0 1 0 3.2 0a1.6 1.8 0 1 0 -3.2 0M484.5 126.8a1.5 1.6 0 1 0 2.9 0a1.5 1.6 0 1 0 -2.9 0M492.9 127.1a1.5 1.3 0 1 0 3 0a1.5 1.3 0 1 0 -3 0M497.2 126.4a1.7 1.6 0 1 0 3.4 0a1.7 1.6 0 1 0 -3.4 0M502.3 126.2a1.8 1.9 0 1 0 3.6 0a1.8 1.9 0 1 0 -3.6 0M517.1 125.6a1.8 2 0 1 0 3.6 0a1.8 2 0 1 0 -3.6 0M527.5 127.2a1.8 1.8 0 1 0 3.6 0a1.8 1.8 0 1 0 -3.6 0M542.5 126.7a1.5 1.9 0 1 0 3.1 0a1.5 1.9 0 1 0 -3.1 0M547.1 125.2a1.6 1.5 0 1 0 3.2 0a1.6 1.5 0 1 0 -3.2 0M556.9 125.8a2.2 2 0 1 0 4.3 0a2.2 2 0 1 0 -4.3 0M566.9 126.2a1.1 1.2 0 1 0 2.1 0a1.1 1.2 0 1 0 -2.1 0M471.8 130a1.5 1.6 0 1 0 2.9 0a1.5 1.6 0 1 0 -2.9 0M476.9 129.7a1.4 1.5 0 1 0 2.8 0a1.4 1.5 0 1 0 -2.8 0M482.9 130.6a1.4 1.7 0 1 0 2.8 0a1.4 1.7 0 1 0 -2.8 0M488.3 129.4a1.4 1.4 0 1 0 2.7 0a1.4 1.4 0 1 0 -2.7 0M492.3 131.2a1.6 1.8 0 1 0 3.2 0a1.6 1.8 0 1 0 -3.2 0M500.9 130.7a1.8 2.4 0 1 0 3.7 0a1.8 2.4 0 1 0 -3.7 0M507.3 130.3a1.6 1.6 0 1 0 3.2 0a1.6 1.6 0 1 0 -3.2 0M521 129.7a1.4 1.9 0 1 0 2.9 0a1.4 1.9 0 1 0 -2.9 0M524.9 129.3a1.3 1.3 0 1 0 2.6 0a1.3 1.3 0 1 0 -2.6 0M531.4 129.3a1.5 1.6 0 1 0 2.9 0a1.5 1.6 0 1 0 -2.9 0M535.9 129.3a1.6 1.5 0 1 0 3.3 0a1.6 1.5 0 1 0 -3.3 0M540.6 129.8a1.3 1.4 0 1 0 2.6 0a1.3 1.4 0 1 0 -2.6 0M544.7 130.6a1.6 2 0 1 0 3.2 0a1.6 2 0 1 0 -3.2 0M549.7 130.8a1.7 2.4 0 1 0 3.4 0a1.7 2.4 0 1 0 -3.4 0M554.8 129.3a1.9 2 0 1 0 3.8 0a1.9 2 0 1 0 -3.8 0M565 129.7a1 1.1 0 1 0 2 0a1 1.1 0 1 0 -2 0M568.1 129.7a3 2.8 0 1 0 6.1 0a3 2.8 0 1 0 -6.1 0M487.4 133.5a2.2 2.1 0 1 0 4.3 0a2.2 2.1 0 1 0 -4.3 0M492.9 135.5a1.4 1.5 0 1 0 2.7 0a1.4 1.5 0 1 0 -2.7 0M497.1 133.3a1.3 1.5 0 1 0 2.7 0a1.3 1.5 0 1 0 -2.7 0M505.3 134.1a2 2 0 1 0 4 0a2 2 0 1 0 -4 0M520.7 133.6a1.8 1.5 0 1 0 3.7 0a1.8 1.5 0 1 0 -3.7 0M524.8 132.8a2 1.9 0 1 0 3.9 0a2 1.9 0 1 0 -3.9 0M538 133.2a1.7 1.8 0 1 0 3.5 0a1.7 1.8 0 1 0 -3.5 0M553.9 133.1a1.9 2 0 1 0 3.8 0a1.9 2 0 1 0 -3.8 0M480.9 137.9a1.4 1.5 0 1 0 2.7 0a1.4 1.5 0 1 0 -2.7 0M485.5 137.6a1.4 1.1 0 1 0 2.9 0a1.4 1.1 0 1 0 -2.9 0M503.5 137.9a1.5 1.8 0 1 0 2.9 0a1.5 1.8 0 1 0 -2.9 0M514.2 137.6a2 2.2 0 1 0 4 0a2 2.2 0 1 0 -4 0M535 137.6a1.4 1.3 0 1 0 2.8 0a1.4 1.3 0 1 0 -2.8 0M539.5 137.6a2.1 1.9 0 1 0 4.2 0a2.1 1.9 0 1 0 -4.2 0M545.2 137.9a1.1 1.3 0 1 0 2.2 0a1.1 1.3 0 1 0 -2.2 0M549.7 136.5a1.6 1.6 0 1 0 3.1 0a1.6 1.6 0 1 0 -3.1 0M558.2 137.9a1.5 1.5 0 1 0 2.9 0a1.5 1.5 0 1 0 -2.9 0M470.7 141.2a1.5 1.6 0 1 0 2.9 0a1.5 1.6 0 1 0 -2.9 0M480.2 141.5a1.8 1.6 0 1 0 3.7 0a1.8 1.6 0 1 0 -3.7 0M484.7 142a1.3 1.5 0 1 0 2.6 0a1.3 1.5 0 1 0 -2.6 0M488.2 141.4a2 2.3 0 1 0 3.9 0a2 2.3 0 1 0 -3.9 0M503.7 141.3a1.8 2.1 0 1 0 3.7 0a1.8 2.1 0 1 0 -3.7 0M508.7 141.2a1 1.2 0 1 0 2 0a1 1.2 0 1 0 -2 0M511.7 141.3a2.1 1.9 0 1 0 4.1 0a2.1 1.9 0 1 0 -4.1 0M517.5 140.9a1.7 1.9 0 1 0 3.5 0a1.7 1.9 0 1 0 -3.5 0M522.1 141.2a1.9 2.1 0 1 0 3.7 0a1.9 2.1 0 1 0 -3.7 0M531.2 141.7a1.3 1.5 0 1 0 2.6 0a1.3 1.5 0 1 0 -2.6 0M537.9 141.3a2.4 2 0 1 0 4.8 0a2.4 2 0 1 0 -4.8 0M552.4 140.9a1.2 1.5 0 1 0 2.5 0a1.2 1.5 0 1 0 -2.5 0M560.5 140.9a1.6 1.5 0 1 0 3.1 0a1.6 1.5 0 1 0 -3.1 0M565.5 141.3a1.1 1 0 1 0 2.2 0a1.1 1 0 1 0 -2.2 0M467.3 144.8a1.8 1.7 0 1 0 3.6 0a1.8 1.7 0 1 0 -3.6 0M472.8 144.8a1.8 2 0 1 0 3.6 0a1.8 2 0 1 0 -3.6 0M482.6 145.1a1.4 1.4 0 1 0 2.8 0a1.4 1.4 0 1 0 -2.8 0M496.9 145.9a2.1 2.3 0 1 0 4.2 0a2.1 2.3 0 1 0 -4.2 0M505.6 144.5a1.7 1.4 0 1 0 3.3 0a1.7 1.4 0 1 0 -3.3 0M520 144.8a1.7 1.8 0 1 0 3.5 0a1.7 1.8 0 1 0 -3.5 0M523.4 143.9a2.4 2.3 0 1 0 4.7 0a2.4 2.3 0 1 0 -4.7 0M527.6 145.3a1.8 1.7 0 1 0 3.7 0a1.8 1.7 0 1 0 -3.7 0M537.6 145.2a1.6 1.6 0 1 0 3.1 0a1.6 1.6 0 1 0 -3.1 0M542.2 144.2a1.5 1.9 0 1 0 3 0a1.5 1.9 0 1 0 -3 0M558.6 144.5a1.1 1.6 0 1 0 2.3 0a1.1 1.6 0 1 0 -2.3 0M562.7 144.7a1.4 2 0 1 0 2.9 0a1.4 2 0 1 0 -2.9 0M474.7 148a1.7 1.9 0 1 0 3.3 0a1.7 1.9 0 1 0 -3.3 0M487 147.9a1.3 1.4 0 1 0 2.6 0a1.3 1.4 0 1 0 -2.6 0M492.5 148a1.3 1.6 0 1 0 2.7 0a1.3 1.6 0 1 0 -2.7 0M496.7 149.1a1.7 1.8 0 1 0 3.4 0a1.7 1.8 0 1 0 -3.4 0M502.2 148.1a1.2 1.4 0 1 0 2.4 0a1.2 1.4 0 1 0 -2.4 0M508.7 147.5a1.8 1.9 0 1 0 3.6 0a1.8 1.9 0 1 0 -3.6 0M512.1 147.7a2.3 2.3 0 1 0 4.6 0a2.3 2.3 0 1 0 -4.6 0M524 147.7a1.2 1.5 0 1 0 2.4 0a1.2 1.5 0 1 0 -2.4 0M533.3 149.5a1.4 1.6 0 1 0 2.9 0a1.4 1.6 0 1 0 -2.9 0M542.3 147.7a1.5 2 0 1 0 3 0a1.5 2 0 1 0 -3 0M550.2 148.8a1.9 2.3 0 1 0 3.9 0a1.9 2.3 0 1 0 -3.9 0M560.6 148.6a1.4 1.7 0 1 0 2.8 0a1.4 1.7 0 1 0 -2.8 0M472.7 152.1a1.4 1.6 0 1 0 2.8 0a1.4 1.6 0 1 0 -2.8 0M476.6 151.6a1.6 2 0 1 0 3.3 0a1.6 2 0 1 0 -3.3 0M481.1 151.3a1.7 1.7 0 1 0 3.5 0a1.7 1.7 0 1 0 -3.5 0M486.2 152.3a1.6 1.8 0 1 0 3.2 0a1.6 1.8 0 1 0 -3.2 0M491.4 151.6a2.2 2.8 0 1 0 4.5 0a2.2 2.8 0 1 0 -4.5 0M496.7 152a1.2 1.1 0 1 0 2.3 0a1.2 1.1 0 1 0 -2.3 0M499.9 151.5a1.8 1.6 0 1 0 3.6 0a1.8 1.6 0 1 0 -3.6 0M504.8 151.9a1.6 1.8 0 1 0 3.2 0a1.6 1.8 0 1 0 -3.2 0M532.2 152.7a1.3 1.2 0 1 0 2.6 0a1.3 1.2 0 1 0 -2.6 0M536.7 152.7a1.2 1.6 0 1 0 2.3 0a1.2 1.6 0 1 0 -2.3 0M545.6 151.6a1.8 1.8 0 1 0 3.6 0a1.8 1.8 0 1 0 -3.6 0M551.6 152a1.8 2 0 1 0 3.5 0a1.8 2 0 1 0 -3.5 0M499.2 155.3a1.6 1.8 0 1 0 3.2 0a1.6 1.8 0 1 0 -3.2 0M513.1 155.4a2.3 2.9 0 1 0 4.5 0a2.3 2.9 0 1 0 -4.5 0M521.5 155.2a1.1 1.2 0 1 0 2.1 0a1.1 1.2 0 1 0 -2.1 0M528.8 156.5a2.2 2 0 1 0 4.4 0a2.2 2 0 1 0 -4.4 0M543.4 156.2a2.1 2.8 0 1 0 4.1 0a2.1 2.8 0 1 0 -4.1 0" fill="#383838"/><path d="M467.9 5.7a1.5 1.6 0 1 0 3 0a1.5 1.6 0 1 0 -3 0M482 5.9a1.2 1.6 0 1 0 2.5 0a1.2 1.6 0 1 0 -2.5 0M526.1 5.3a1.4 1.5 0 1 0 2.9 0a1.4 1.5 0 1 0 -2.9 0M492.5 11.4a1.4 1.7 0 1 0 2.8 0a1.4 1.7 0 1 0 -2.8 0M517.9 10.8a1.1 1.1 0 1 0 2.3 0a1.1 1.1 0 1 0 -2.3 0M522.6 10.3a1.4 1.6 0 1 0 2.7 0a1.4 1.6 0 1 0 -2.7 0M528.2 10.5a1.4 1.7 0 1 0 2.8 0a1.4 1.7 0 1 0 -2.8 0M538.1 16.6a1 1.1 0 1 0 2.1 0a1 1.1 0 1 0 -2.1 0M556.2 17.1a1.5 1.4 0 1 0 3 0a1.5 1.4 0 1 0 -3 0M568.6 16.1a1.5 1.8 0 1 0 3.1 0a1.5 1.8 0 1 0 -3.1 0M497.9 21a1.1 1.2 0 1 0 2.1 0a1.1 1.2 0 1 0 -2.1 0M505.3 21.6a1 1.1 0 1 0 2 0a1 1.1 0 1 0 -2 0M522.4 21.6a1.5 1.5 0 1 0 3 0a1.5 1.5 0 1 0 -3 0M540.1 21a1.2 1.4 0 1 0 2.5 0a1.2 1.4 0 1 0 -2.5 0M552.5 21.8a1.4 1.7 0 1 0 2.8 0a1.4 1.7 0 1 0 -2.8 0M482.4 26.3a0.9 1.1 0 1 0 1.8 0a0.9 1.1 0 1 0 -1.8 0M505.5 26.7a1.4 1.5 0 1 0 2.8 0a1.4 1.5 0 1 0 -2.8 0M511.3 25.7a1.6 1.7 0 1 0 3.2 0a1.6 1.7 0 1 0 -3.2 0M519 27.2a1.2 1.3 0 1 0 2.4 0a1.2 1.3 0 1 0 -2.4 0M566.5 26.3a1.3 1.1 0 1 0 2.7 0a1.3 1.1 0 1 0 -2.7 0M490.8 29.8a1.2 1.2 0 1 0 2.4 0a1.2 1.2 0 1 0 -2.4 0M537.6 31.1a1.3 1.6 0 1 0 2.6 0a1.3 1.6 0 1 0 -2.6 0M550.8 31.3a1 0.9 0 1 0 1.9 0a1 0.9 0 1 0 -1.9 0M556.9 31.5a0.8 1.1 0 1 0 1.6 0a0.8 1.1 0 1 0 -1.6 0M502.7 37.5a1.3 1.6 0 1 0 2.6 0a1.3 1.6 0 1 0 -2.6 0M525.6 36.1a1.5 1.6 0 1 0 3 0a1.5 1.6 0 1 0 -3 0M541.5 35.8a1.4 1.3 0 1 0 2.9 0a1.4 1.3 0 1 0 -2.9 0M554.3 36.2a1.3 1.1 0 1 0 2.6 0a1.3 1.1 0 1 0 -2.6 0M560 35.2a1 1.2 0 1 0 1.9 0a1 1.2 0 1 0 -1.9 0M538.2 40.4a1.1 1.1 0 1 0 2.3 0a1.1 1.1 0 1 0 -2.3 0M556.3 42.2a1.5 1.5 0 1 0 3 0a1.5 1.5 0 1 0 -3 0M511.8 46a1.6 1.6 0 1 0 3.2 0a1.6 1.6 0 1 0 -3.2 0M551.2 46.5a1.5 1.4 0 1 0 3 0a1.5 1.4 0 1 0 -3 0M557.3 47.3a1.6 1.5 0 1 0 3.2 0a1.6 1.5 0 1 0 -3.2 0M477 50a1.6 1.5 0 1 0 3.1 0a1.6 1.5 0 1 0 -3.1 0M511.5 51.1a1.2 1.5 0 1 0 2.4 0a1.2 1.5 0 1 0 -2.4 0M568.3 50.3a1.2 1.1 0 1 0 2.4 0a1.2 1.1 0 1 0 -2.4 0M475.4 54.6a1.1 1.3 0 1 0 2.2 0a1.1 1.3 0 1 0 -2.2 0M493 54.5a0.8 0.7 0 1 0 1.7 0a0.8 0.7 0 1 0 -1.7 0M509.2 55.4a1.8 1.5 0 1 0 3.5 0a1.8 1.5 0 1 0 -3.5 0M515.5 55.5a1 1.1 0 1 0 2 0a1 1.1 0 1 0 -2 0M519.6 54.1a0.9 0.8 0 1 0 1.9 0a0.9 0.8 0 1 0 -1.9 0M542.2 53a0.8 1 0 1 0 1.7 0a0.8 1 0 1 0 -1.7 0M560.2 55.3a1 1.3 0 1 0 2 0a1 1.3 0 1 0 -2 0M490.4 58.8a0.9 1.1 0 1 0 1.8 0a0.9 1.1 0 1 0 -1.8 0M496.1 59.4a0.9 1 0 1 0 1.7 0a0.9 1 0 1 0 -1.7 0M508.9 59.4a1.1 1.4 0 1 0 2.2 0a1.1 1.4 0 1 0 -2.2 0M536.3 60.1a1.3 1.7 0 1 0 2.6 0a1.3 1.7 0 1 0 -2.6 0M555 58.4a1.4 1.5 0 1 0 2.7 0a1.4 1.5 0 1 0 -2.7 0M501.7 65a1.4 1.5 0 1 0 2.9 0a1.4 1.5 0 1 0 -2.9 0M513.8 64a1.1 1 0 1 0 2.2 0a1.1 1 0 1 0 -2.2 0M519.2 63.6a1 1 0 1 0 2 0a1 1 0 1 0 -2 0M549.9 62.7a1.2 1.1 0 1 0 2.4 0a1.2 1.1 0 1 0 -2.4 0M471.9 68.5a0.8 0.9 0 1 0 1.6 0a0.8 0.9 0 1 0 -1.6 0M477.6 68.3a1.5 1.7 0 1 0 2.9 0a1.5 1.7 0 1 0 -2.9 0M483.5 67.1a1.2 1 0 1 0 2.5 0a1.2 1 0 1 0 -2.5 0M497.9 69a1.5 1.5 0 1 0 3 0a1.5 1.5 0 1 0 -3 0M522.8 68.9a1 1.4 0 1 0 2.1 0a1 1.4 0 1 0 -2.1 0M467.9 73a1 0.9 0 1 0 2.1 0a1 0.9 0 1 0 -2.1 0M473.9 72.3a1.4 1.3 0 1 0 2.7 0a1.4 1.3 0 1 0 -2.7 0M483.1 71.3a1.6 1.7 0 1 0 3.2 0a1.6 1.7 0 1 0 -3.2 0M517.9 72.1a1 1 0 1 0 1.9 0a1 1 0 1 0 -1.9 0M521.9 74.1a1.3 1.4 0 1 0 2.5 0a1.3 1.4 0 1 0 -2.5 0M528.2 73.2a1.4 1.8 0 1 0 2.9 0a1.4 1.8 0 1 0 -2.9 0M535.7 72.5a1.2 1.1 0 1 0 2.4 0a1.2 1.1 0 1 0 -2.4 0M541.8 74.3a1.2 1.2 0 1 0 2.3 0a1.2 1.2 0 1 0 -2.3 0M552.3 72.1a1.4 1.4 0 1 0 2.9 0a1.4 1.4 0 1 0 -2.9 0M479.8 78.7a1 1.1 0 1 0 1.9 0a1 1.1 0 1 0 -1.9 0M486.5 76.4a1 1.1 0 1 0 2 0a1 1.1 0 1 0 -2 0M516.6 76.9a1.3 1.4 0 1 0 2.7 0a1.3 1.4 0 1 0 -2.7 0M534 77a1.6 1.7 0 1 0 3.2 0a1.6 1.7 0 1 0 -3.2 0M564.2 76.8a1 1.1 0 1 0 2 0a1 1.1 0 1 0 -2 0M474.3 81.1a0.9 0.8 0 1 0 1.8 0a0.9 0.8 0 1 0 -1.8 0M490.9 81.9a0.9 0.9 0 1 0 1.8 0a0.9 0.9 0 1 0 -1.8 0M496.6 82.3a1.3 1.5 0 1 0 2.6 0a1.3 1.5 0 1 0 -2.6 0M502.1 81.8a0.9 1.1 0 1 0 1.8 0a0.9 1.1 0 1 0 -1.8 0M517.7 81.4a1.2 1.4 0 1 0 2.5 0a1.2 1.4 0 1 0 -2.5 0M527.2 82.3a1.4 1.5 0 1 0 2.9 0a1.4 1.5 0 1 0 -2.9 0M549.8 82a1.4 1.5 0 1 0 2.9 0a1.4 1.5 0 1 0 -2.9 0M476.1 84.3a1.7 1.9 0 1 0 3.3 0a1.7 1.9 0 1 0 -3.3 0M499.1 87.1a0.9 1 0 1 0 1.8 0a0.9 1 0 1 0 -1.8 0M509 86.5a1.1 1.2 0 1 0 2.2 0a1.1 1.2 0 1 0 -2.2 0M519.9 85.6a0.9 1.1 0 1 0 1.8 0a0.9 1.1 0 1 0 -1.8 0M526 86.3a0.8 0.9 0 1 0 1.5 0a0.8 0.9 0 1 0 -1.5 0M532.2 85.9a1 1.3 0 1 0 1.9 0a1 1.3 0 1 0 -1.9 0M547.2 85.9a0.9 0.8 0 1 0 1.9 0a0.9 0.8 0 1 0 -1.9 0M563.8 85.7a1.2 1.4 0 1 0 2.5 0a1.2 1.4 0 1 0 -2.5 0M494.2 90.9a1 1.2 0 1 0 1.9 0a1 1.2 0 1 0 -1.9 0M500.2 91.6a0.9 0.8 0 1 0 1.9 0a0.9 0.8 0 1 0 -1.9 0M524.2 90.7a1.2 1.5 0 1 0 2.3 0a1.2 1.5 0 1 0 -2.3 0M539.7 90.7a1.1 1.4 0 1 0 2.2 0a1.1 1.4 0 1 0 -2.2 0M470.3 94.3a1.3 1.3 0 1 0 2.6 0a1.3 1.3 0 1 0 -2.6 0M550.4 95a0.9 1 0 1 0 1.7 0a0.9 1 0 1 0 -1.7 0M497.4 98.2a1.1 1.3 0 1 0 2.2 0a1.1 1.3 0 1 0 -2.2 0M525.5 99.4a0.8 0.7 0 1 0 1.5 0a0.8 0.7 0 1 0 -1.5 0M534.1 98.9a1.1 1 0 1 0 2.1 0a1.1 1 0 1 0 -2.1 0M477.1 102.2a0.9 0.8 0 1 0 1.8 0a0.9 0.8 0 1 0 -1.8 0M511.1 102.5a1.2 1.2 0 1 0 2.5 0a1.2 1.2 0 1 0 -2.5 0M558.2 102.5a1.4 1.3 0 1 0 2.8 0a1.4 1.3 0 1 0 -2.8 0M498.5 106.1a1.1 1.2 0 1 0 2.1 0a1.1 1.2 0 1 0 -2.1 0M528.8 106.6a1 0.8 0 1 0 2 0a1 0.8 0 1 0 -2 0M538.9 106.9a1.2 1.1 0 1 0 2.3 0a1.2 1.1 0 1 0 -2.3 0M549.6 106.9a0.8 1 0 1 0 1.5 0a0.8 1 0 1 0 -1.5 0M555.3 107.4a1.1 1.4 0 1 0 2.3 0a1.1 1.4 0 1 0 -2.3 0M475.9 112.1a1.2 1.2 0 1 0 2.5 0a1.2 1.2 0 1 0 -2.5 0M500.2 110.9a1 1 0 1 0 2 0a1 1 0 1 0 -2 0M509.6 110.8a1 1.1 0 1 0 2 0a1 1.1 0 1 0 -2 0M546.3 111.6a1.2 1.4 0 1 0 2.5 0a1.2 1.4 0 1 0 -2.5 0M565.3 111.3a0.8 0.8 0 1 0 1.7 0a0.8 0.8 0 1 0 -1.7 0M473.3 115a1 1.1 0 1 0 2 0a1 1.1 0 1 0 -2 0M479.4 115a1 1.2 0 1 0 1.9 0a1 1.2 0 1 0 -1.9 0M532.2 114.6a1.3 1.2 0 1 0 2.6 0a1.3 1.2 0 1 0 -2.6 0M562.4 114.6a0.7 1 0 1 0 1.5 0a0.7 1 0 1 0 -1.5 0M569.7 115.4a0.8 1.1 0 1 0 1.6 0a0.8 1.1 0 1 0 -1.6 0M476.7 118a1 0.8 0 1 0 1.9 0a1 0.8 0 1 0 -1.9 0M492.4 118.3a0.9 1.2 0 1 0 1.9 0a0.9 1.2 0 1 0 -1.9 0M497.5 119.5a1.2 1.3 0 1 0 2.4 0a1.2 1.3 0 1 0 -2.4 0M507.4 118.1a0.9 1 0 1 0 1.7 0a0.9 1 0 1 0 -1.7 0M511.3 117.8a0.9 1 0 1 0 1.7 0a0.9 1 0 1 0 -1.7 0M521.3 118.9a1.2 1.3 0 1 0 2.5 0a1.2 1.3 0 1 0 -2.5 0M536.3 118.3a1.4 1.3 0 1 0 2.7 0a1.4 1.3 0 1 0 -2.7 0M542 118.9a0.8 1 0 1 0 1.5 0a0.8 1 0 1 0 -1.5 0M550.7 118.3a0.9 0.9 0 1 0 1.8 0a0.9 0.9 0 1 0 -1.8 0M502 122.1a0.9 1 0 1 0 1.8 0a0.9 1 0 1 0 -1.8 0M512.9 122.4a1 1.2 0 1 0 2 0a1 1.2 0 1 0 -2 0M532.6 123.8a0.9 1.3 0 1 0 1.9 0a0.9 1.3 0 1 0 -1.9 0M472.4 126.5a1.3 1.2 0 1 0 2.6 0a1.3 1.2 0 1 0 -2.6 0M480.7 126.8a1 1.1 0 1 0 2 0a1 1.1 0 1 0 -2 0M497.8 126.6a1.1 1 0 1 0 2.1 0a1.1 1 0 1 0 -2.1 0M503 126.4a1.1 1.2 0 1 0 2.2 0a1.1 1.2 0 1 0 -2.2 0M517.8 125.8a1.1 1.3 0 1 0 2.3 0a1.1 1.3 0 1 0 -2.3 0M557.7 126a1.3 1.2 0 1 0 2.7 0a1.3 1.2 0 1 0 -2.7 0M567.3 126.4a0.7 0.8 0 1 0 1.3 0a0.7 0.8 0 1 0 -1.3 0M477.4 129.9a0.9 0.9 0 1 0 1.7 0a0.9 0.9 0 1 0 -1.7 0M492.9 131.4a1 1.1 0 1 0 2 0a1 1.1 0 1 0 -2 0M507.9 130.5a1 1 0 1 0 2 0a1 1 0 1 0 -2 0M521.6 129.9a0.9 1.2 0 1 0 1.8 0a0.9 1.2 0 1 0 -1.8 0M525.3 129.5a0.8 0.8 0 1 0 1.6 0a0.8 0.8 0 1 0 -1.6 0M536.5 129.5a1 1 0 1 0 2 0a1 1 0 1 0 -2 0M545.3 130.8a1 1.2 0 1 0 2 0a1 1.2 0 1 0 -2 0M565.4 129.9a0.6 0.7 0 1 0 1.3 0a0.6 0.7 0 1 0 -1.3 0M488.2 133.7a1.3 1.3 0 1 0 2.7 0a1.3 1.3 0 1 0 -2.7 0M493.4 135.7a0.8 0.9 0 1 0 1.7 0a0.8 0.9 0 1 0 -1.7 0M497.6 133.5a0.8 0.9 0 1 0 1.7 0a0.8 0.9 0 1 0 -1.7 0M506.1 134.3a1.2 1.3 0 1 0 2.5 0a1.2 1.3 0 1 0 -2.5 0M521.4 133.8a1.1 0.9 0 1 0 2.3 0a1.1 0.9 0 1 0 -2.3 0M525.5 133a1.2 1.2 0 1 0 2.4 0a1.2 1.2 0 1 0 -2.4 0M538.7 133.4a1.1 1.1 0 1 0 2.2 0a1.1 1.1 0 1 0 -2.2 0M481.4 138.1a0.8 0.9 0 1 0 1.7 0a0.8 0.9 0 1 0 -1.7 0M504 138.1a0.9 1.1 0 1 0 1.8 0a0.9 1.1 0 1 0 -1.8 0M515 137.8a1.3 1.4 0 1 0 2.5 0a1.3 1.4 0 1 0 -2.5 0M550.3 136.7a1 1 0 1 0 1.9 0a1 1 0 1 0 -1.9 0M558.7 138.1a0.9 0.9 0 1 0 1.8 0a0.9 0.9 0 1 0 -1.8 0M480.9 141.7a1.1 1 0 1 0 2.3 0a1.1 1 0 1 0 -2.3 0M485.2 142.2a0.8 1 0 1 0 1.6 0a0.8 1 0 1 0 -1.6 0M488.9 141.6a1.2 1.4 0 1 0 2.4 0a1.2 1.4 0 1 0 -2.4 0M518.2 141.1a1.1 1.2 0 1 0 2.1 0a1.1 1.2 0 1 0 -2.1 0M522.8 141.4a1.2 1.3 0 1 0 2.3 0a1.2 1.3 0 1 0 -2.3 0M531.7 141.9a0.8 0.9 0 1 0 1.6 0a0.8 0.9 0 1 0 -1.6 0M552.8 141.1a0.8 0.9 0 1 0 1.5 0a0.8 0.9 0 1 0 -1.5 0M561.1 141.1a1 0.9 0 1 0 1.9 0a1 0.9 0 1 0 -1.9 0M565.9 141.5a0.7 0.6 0 1 0 1.4 0a0.7 0.6 0 1 0 -1.4 0M473.5 145a1.1 1.2 0 1 0 2.3 0a1.1 1.2 0 1 0 -2.3 0M520.7 145a1.1 1.1 0 1 0 2.2 0a1.1 1.1 0 1 0 -2.2 0M528.3 145.5a1.1 1 0 1 0 2.3 0a1.1 1 0 1 0 -2.3 0M542.8 144.4a0.9 1.2 0 1 0 1.8 0a0.9 1.2 0 1 0 -1.8 0M559.1 144.7a0.7 1 0 1 0 1.4 0a0.7 1 0 1 0 -1.4 0M475.3 148.2a1 1.1 0 1 0 2.1 0a1 1.1 0 1 0 -2.1 0M497.3 149.3a1.1 1.1 0 1 0 2.1 0a1.1 1.1 0 1 0 -2.1 0M502.7 148.3a0.8 0.9 0 1 0 1.5 0a0.8 0.9 0 1 0 -1.5 0M509.4 147.7a1.1 1.2 0 1 0 2.2 0a1.1 1.2 0 1 0 -2.2 0M513 147.9a1.4 1.4 0 1 0 2.9 0a1.4 1.4 0 1 0 -2.9 0M524.4 147.9a0.7 0.9 0 1 0 1.5 0a0.7 0.9 0 1 0 -1.5 0M533.8 149.7a0.9 1 0 1 0 1.8 0a0.9 1 0 1 0 -1.8 0M550.9 149a1.2 1.4 0 1 0 2.4 0a1.2 1.4 0 1 0 -2.4 0M561.1 148.8a0.9 1 0 1 0 1.7 0a0.9 1 0 1 0 -1.7 0M473.2 152.3a0.9 1 0 1 0 1.7 0a0.9 1 0 1 0 -1.7 0M481.8 151.5a1.1 1.1 0 1 0 2.1 0a1.1 1.1 0 1 0 -2.1 0M492.2 151.8a1.4 1.8 0 1 0 2.8 0a1.4 1.8 0 1 0 -2.8 0M500.6 151.7a1.1 1 0 1 0 2.2 0a1.1 1 0 1 0 -2.2 0M505.4 152.1a1 1.1 0 1 0 2 0a1 1.1 0 1 0 -2 0M537.1 152.9a0.7 1 0 1 0 1.4 0a0.7 1 0 1 0 -1.4 0M546.2 151.8a1.1 1.1 0 1 0 2.2 0a1.1 1.1 0 1 0 -2.2 0M521.9 155.4a0.7 0.8 0 1 0 1.3 0a0.7 0.8 0 1 0 -1.3 0M529.7 156.7a1.4 1.3 0 1 0 2.7 0a1.4 1.3 0 1 0 -2.7 0" fill="#1c1c1c"/></g></g>
<g transform="translate(566,5) scale(0.14306)" clip-path="url(#cTR)"><g filter="url(#semblur2)"><rect x="0" y="0" width="700" height="530" fill="#8a8a8a"/><ellipse cx="230" cy="150" rx="90" ry="70" fill="#9a9a9a" opacity="0.8"/><ellipse cx="320" cy="15" rx="150" ry="55" fill="#2a2a2a" stroke="#d8d8d8" stroke-width="7"/><ellipse cx="320" cy="10" rx="120" ry="40" fill="#121212"/><ellipse cx="88" cy="300" rx="95" ry="185" fill="#6e6e6e" stroke="#dadada" stroke-width="8"/><ellipse cx="80" cy="318" rx="78" ry="145" fill="#4c4c4c" stroke="#a0a0a0" stroke-width="4"/><ellipse cx="62" cy="330" rx="55" ry="95" fill="#202020"/><ellipse cx="110" cy="165" rx="40" ry="40" fill="#5a5a5a"/><ellipse cx="340" cy="333" rx="102" ry="116" fill="#686868" stroke="#e0e0e0" stroke-width="9"/><ellipse cx="352" cy="305" rx="64" ry="56" fill="#4e4e4e" stroke="#8a8a8a" stroke-width="4"/><ellipse cx="362" cy="300" rx="36" ry="28" fill="#363636"/><ellipse cx="345" cy="420" rx="88" ry="30" fill="#1a1a1a"/><ellipse cx="448" cy="172" rx="55" ry="76" fill="#5c5c5c" stroke="#dcdcdc" stroke-width="8"/><ellipse cx="445" cy="200" rx="30" ry="42" fill="#303030"/><ellipse cx="592" cy="274" rx="60" ry="106" fill="#505050" stroke="#d4d4d4" stroke-width="8"/><ellipse cx="555" cy="262" rx="22" ry="52" fill="#1c1c1c"/><ellipse cx="612" cy="312" rx="26" ry="42" fill="#242424"/><ellipse cx="528" cy="45" rx="30" ry="30" fill="#2a2a2a" stroke="#c8c8c8" stroke-width="6"/><ellipse cx="665" cy="80" rx="30" ry="80" fill="#3a3a3a" stroke="#bbbbbb" stroke-width="6"/><ellipse cx="100" cy="485" rx="110" ry="40" fill="#5a5a5a"/><ellipse cx="60" cy="505" rx="60" ry="30" fill="#2a2a2a"/><ellipse cx="520" cy="505" rx="80" ry="30" fill="#6a6a6a"/></g></g>
<g transform="translate(566,78) scale(0.14306)" clip-path="url(#cBR)"><g filter="url(#semblur2)"><rect x="0" y="0" width="700" height="530" fill="#8c8c8c"/><ellipse cx="300" cy="120" rx="150" ry="60" fill="#9a9a9a" opacity="0.8"/><ellipse cx="380" cy="420" rx="200" ry="60" fill="#7e7e7e" opacity="0.7"/><ellipse cx="110" cy="80" rx="50" ry="50" fill="#5a5a5a" stroke="#e0e0e0" stroke-width="8"/><ellipse cx="105" cy="97" rx="40" ry="25" fill="#262626"/><ellipse cx="235" cy="35" rx="55" ry="25" fill="#2e2e2e" stroke="#dadada" stroke-width="8"/><ellipse cx="235" cy="40" rx="39" ry="18" fill="#161616"/><ellipse cx="425" cy="32" rx="25" ry="18" fill="#2e2e2e" stroke="#dadada" stroke-width="8"/><ellipse cx="425" cy="37" rx="18" ry="12" fill="#161616"/><ellipse cx="535" cy="42" rx="45" ry="22" fill="#2e2e2e" stroke="#dadada" stroke-width="8"/><ellipse cx="535" cy="47" rx="32" ry="15" fill="#161616"/><ellipse cx="35" cy="215" rx="25" ry="35" fill="#5a5a5a" stroke="#e0e0e0" stroke-width="8"/><ellipse cx="30" cy="227" rx="20" ry="17" fill="#262626"/><ellipse cx="250" cy="212" rx="35" ry="48" fill="#2e2e2e" stroke="#dadada" stroke-width="8"/><ellipse cx="250" cy="217" rx="25" ry="34" fill="#161616"/><ellipse cx="405" cy="200" rx="65" ry="45" fill="#2e2e2e" stroke="#dadada" stroke-width="8"/><ellipse cx="405" cy="205" rx="46" ry="32" fill="#161616"/><ellipse cx="607" cy="188" rx="58" ry="35" fill="#2e2e2e" stroke="#dadada" stroke-width="8"/><ellipse cx="607" cy="193" rx="41" ry="25" fill="#161616"/><ellipse cx="520" cy="222" rx="10" ry="17" fill="#2e2e2e" stroke="#dadada" stroke-width="8"/><ellipse cx="520" cy="227" rx="7" ry="12" fill="#161616"/><ellipse cx="310" cy="320" rx="35" ry="30" fill="#2e2e2e" stroke="#dadada" stroke-width="8"/><ellipse cx="310" cy="325" rx="25" ry="21" fill="#161616"/><ellipse cx="450" cy="315" rx="60" ry="60" fill="#5a5a5a" stroke="#e0e0e0" stroke-width="8"/><ellipse cx="445" cy="336" rx="48" ry="30" fill="#262626"/><ellipse cx="55" cy="365" rx="42" ry="45" fill="#5a5a5a" stroke="#e0e0e0" stroke-width="8"/><ellipse cx="50" cy="380" rx="33" ry="22" fill="#262626"/><ellipse cx="185" cy="375" rx="35" ry="35" fill="#2e2e2e" stroke="#dadada" stroke-width="8"/><ellipse cx="185" cy="380" rx="25" ry="25" fill="#161616"/><ellipse cx="580" cy="315" rx="30" ry="35" fill="#2e2e2e" stroke="#dadada" stroke-width="8"/><ellipse cx="580" cy="320" rx="21" ry="25" fill="#161616"/><ellipse cx="257" cy="470" rx="43" ry="35" fill="#2e2e2e" stroke="#dadada" stroke-width="8"/><ellipse cx="257" cy="475" rx="30" ry="25" fill="#161616"/><ellipse cx="110" cy="485" rx="30" ry="30" fill="#2e2e2e" stroke="#dadada" stroke-width="8"/><ellipse cx="110" cy="490" rx="21" ry="21" fill="#161616"/><ellipse cx="650" cy="60" rx="20" ry="40" fill="#2e2e2e" stroke="#dadada" stroke-width="8"/><ellipse cx="650" cy="65" rx="14" ry="28" fill="#161616"/><ellipse cx="650" cy="400" rx="25" ry="50" fill="#5a5a5a" stroke="#e0e0e0" stroke-width="8"/><ellipse cx="645" cy="417" rx="20" ry="25" fill="#262626"/><ellipse cx="360" cy="480" rx="40" ry="25" fill="#5a5a5a" stroke="#e0e0e0" stroke-width="8"/><ellipse cx="355" cy="488" rx="32" ry="12" fill="#262626"/><ellipse cx="520" cy="490" rx="40" ry="20" fill="#2e2e2e" stroke="#dadada" stroke-width="8"/><ellipse cx="520" cy="495" rx="28" ry="14" fill="#161616"/></g></g>
<rect x="473.4" y="6.5" width="93.4" height="144.9" fill="none" stroke="#5b79ad" stroke-width="1.2"/>
<rect x="567.7" y="6.3" width="94.1" height="71.7" fill="none" stroke="#5b79ad" stroke-width="1.2"/>
<rect x="567.7" y="79.7" width="94.1" height="71.7" fill="none" stroke="#5b79ad" stroke-width="1.2"/>
<rect x="497.9" y="42.4" width="18.1" height="14" fill="none" stroke="#fff" stroke-width="1.1" stroke-dasharray="2.2 1.3"/>
<line x1="516" y1="42.4" x2="566.8" y2="7.9" stroke="#fff" stroke-width="1.1" stroke-dasharray="2.2 1.3"/>
<line x1="516" y1="56.4" x2="566.8" y2="77.1" stroke="#fff" stroke-width="1.1" stroke-dasharray="2.2 1.3"/>
<rect x="528.5" y="116.5" width="17" height="13.5" fill="none" stroke="#fff" stroke-width="1.1" stroke-dasharray="2.2 1.3"/>
<line x1="545.5" y1="116.5" x2="566.8" y2="82" stroke="#fff" stroke-width="1.1" stroke-dasharray="2.2 1.3"/>
<line x1="545.5" y1="130" x2="566.8" y2="150.5" stroke="#fff" stroke-width="1.1" stroke-dasharray="2.2 1.3"/>
<line x1="481.9" y1="50" x2="481.9" y2="104.2" stroke="#f2bf2c" stroke-width="2"/>
<polygon points="481.9,46.8 480.4,51 483.4,51" fill="#f2bf2c" stroke="none" stroke-width="1"/>
<text x="499.4" y="23.3" font-size="10.2" font-weight="bold" text-anchor="middle" fill="#f2bf2c">Gradient</text>
<text x="489.5" y="142.6" font-size="9" font-weight="bold" text-anchor="middle" fill="#fff">50 μm</text>
<line x1="480" y1="145.4" x2="498.7" y2="145.4" stroke="#fff" stroke-width="1.3"/>
<text x="646.5" y="70.6" font-size="9" font-weight="bold" text-anchor="middle" fill="#fff">20 μm</text>
<line x1="636.8" y1="73.1" x2="655.5" y2="73.1" stroke="#fff" stroke-width="1.3"/>
<text x="646.5" y="143.7" font-size="9" font-weight="bold" text-anchor="middle" fill="#fff">20 μm</text>
<line x1="636.8" y1="145.6" x2="655.5" y2="145.6" stroke="#fff" stroke-width="1.3"/>
<text x="454.3" y="17.1" font-size="24" font-weight="bold">c</text></g>
<g id="pd"><path d="M28.8 282.5L120.8 324.5M28.8 282.5L122 243M40.5 277.6L132.1 319M40.3 287.8L133.2 247.7M52.1 272.6L143.5 313.5M51.8 293L144.4 252.4M63.8 267.7L154.8 308M63.3 298.2L155.6 257.1M75.4 262.8L166.2 302.6M74.8 303.5L166.8 261.8M87 257.8L177.5 297.1M86.3 308.8L177.9 266.5M98.7 252.9L188.8 291.6M97.8 314L189.1 271.2M110.3 247.9L200.2 286.1M109.3 319.2L200.3 275.9M122 243L211.5 280.6M120.8 324.5L211.5 280.6M28.8 282.5L23.5 208.8M122 243L121.8 193.5M40.5 277.6L35.8 206.9M133.2 247.7L133.8 195.2M52.1 272.6L48.1 205M144.4 252.4L145.9 196.9M63.8 267.7L60.4 203.1M155.6 257.1L157.9 198.6M75.4 262.8L72.7 201.2M166.8 261.8L170 200.3M87 257.8L84.9 199.2M177.9 266.5L182 202.1M98.7 252.9L97.2 197.3M189.1 271.2L194.1 203.8M110.3 247.9L109.5 195.4M200.3 275.9L206.1 205.5M122 243L121.8 193.5M211.5 280.6L218.2 207.2M27.7 267.1L122 232.7M122 232.7L212.9 265.3M26.6 251.8L121.9 222.4M121.9 222.4L214.3 250M25.5 236.4L121.9 212.1M121.9 212.1L215.7 234.7M24.4 221.1L121.8 201.8M121.8 201.8L217.1 219.4" stroke="#666" stroke-width="0.5" fill="none"/>
<line x1="28.8" y1="282.5" x2="122" y2="243" stroke="#40d040" stroke-width="0.7"/>
<path d="M100.9 257v3.2M163.1 265.3v4.4M75.2 259.1v4.2M139.6 245.7v2.5M179.1 263.8v2.6M53.3 268.4v1.3M194.7 259.6v2.7M90.1 253.2v1.6M86.5 293.7v1.9M170.8 256v4.2M133 281.5v2.7M80.2 287.8v3.5M102.8 295.1v2.3M138 297.1v1.3M100.1 251.1v2.7M137.5 264.1v2.8M34.4 264.9v2.3M174 261.8v2M104.6 261.6v4.4M146.3 253v1.1M195.8 267.8v1.3M90.1 295v2.1M84.1 281.3v4.2M164.9 280.7v4M90.9 263.9v1.7M126.3 250.9v3.3" stroke="#f07800" stroke-width="0.7" fill="none"/>
<path d="M107.9 242.8v4.5M67.4 275.5v3.6M129.5 301.3v1.7M190.3 268.7v2.1M167.1 278v2.5M164.2 253.6v3.4M79.7 258.6v3.2M57.2 270.6v2.8M139.2 247.1v1.6M125.1 269.3v3M94.1 265.8v2.9M68.1 282.2v1.3M153.3 271.1v1.3M108.3 287.6v2.3M197.9 265.8v2.7M190.1 275.6v2.9M124.7 247.6v3.9M104 243v3.4M169.3 291v1.4M156.6 275v3.9M115.6 245.2v3.9M52.7 277.5v2.2M156 269.8v3.5M116.1 293.8v1.6M171.9 291.4v2.4M149.9 293v1.8" stroke="#f06400" stroke-width="0.7" fill="none"/>
<path d="M149.9 271.1v3.2M145.7 248.7v3.7M118.3 229.7v4.3M178.1 241.6v4M89.8 244.2v3.7M134.7 225.1v3.6M131.5 267.7v1.8M102.7 241.7v1.4M147 233.7v4M147.1 247.4v2.8M116.4 244.5v2.7M111.5 243.4v1.8M161.7 245.9v2.1M115.5 242.9v1.9M166.6 254.5v4.3M136.5 237.6v1.1M131.7 265.4v2.1" stroke="#64f000" stroke-width="0.7" fill="none"/>
<path d="M57.6 254v3.5M77.1 236.8v2.9M140.1 238v3.6M101.8 229.3v2.9M164.3 249.2v3.6M193.3 244.4v1.6M126.4 271.9v2.5M94.4 221.8v1.2M120.8 247.4v1.8M165.2 253.2v1.6M135.2 260.6v1.5M103.7 242.1v1.6M183.3 236.4v3.6M72.1 244.1v3.8M128.8 247.8v2.8M115.3 263.5v4.1M134.1 261.4v1.6M144.9 253.3v3.9M104.8 242.4v4M97.3 250.8v1.5" stroke="#00f03c" stroke-width="0.7" fill="none"/>
<path d="M179.5 257.5v2.6M159.9 272.8v2.7M157.5 255.3v1.6M153.2 272.3v2.5M103 260.4v3.3M130.3 266.9v2M69.1 249.1v3.8M86.9 261.9v4.1M142.1 257.2v1.6M179.7 253.9v3.1M49.1 269v3.1M114.9 240.9v3.8M71.2 250.9v1.3M109.1 277.8v1.2M137.4 262.4v4.3M49.3 260.6v2.7M104.3 265v4.3M119.2 281.6v2.7M155.4 264.9v2M76.4 285.6v1.4M77.5 254.9v2.8M39.7 260.7v2.8" stroke="#f0dc00" stroke-width="0.7" fill="none"/>
<path d="M118.5 310.5v4.4M183.1 271.2v3M70.5 271.8v2.1M129.6 274.3v3.7M115 308.1v1.7M177.5 268.4v2.3M126.3 272.2v4M127.5 247.3v4.3M119.3 261.4v2.8M88.4 271.8v3M133.4 280.8v1.7M168.6 276.9v1M123 254.2v3.7M102.8 263.3v3.7M123.3 245v1.8M185.8 282.9v4.4M139.8 252.7v1.5M85.8 259.4v4M56.3 284.3v4.1M137.2 287.8v3M163.5 297.8v3.7M101.9 309.4v1.7M147.6 256.4v1.5M98.3 258.3v1.1M101.8 272.9v2.5M87.2 278.6v1.8M125.7 244.5v1M97 302.5v1M171.8 291.2v1.1M135.2 300.7v3.1M115 270.8v1.1M154.4 288.3v4.5M117.7 257.5v2.5M202.3 279v2.2" stroke="#f02800" stroke-width="0.7" fill="none"/>
<path d="M114 276v2.2M54.9 265.2v3.8M88.1 280.5v3.5M129.2 266.2v4.1M89.5 253.2v3.4M141.8 265.9v3.8M118.5 284.2v2.1M66.2 272v4.2M124.1 230.6v2.5M67.8 253.9v2.2M123.5 292.3v2.2M192.3 256.7v2M112.3 235.6v3.2M81 262.6v2.4M110.3 268.7v2.1M122.8 244.5v3.9M145.6 286.3v3.4M88.8 256.3v3.7M121.2 250.9v3.4M46.1 268.9v3.7M188.7 256.3v2.8M37.8 261.2v3M139.1 247.2v1.8M80.8 250.7v2.2M138.3 245.8v2.8M147.8 284.8v3.6M141.3 256.4v2.7M116.8 249.8v2.7" stroke="#dcf000" stroke-width="0.7" fill="none"/>
<path d="M166.7 240.9v4M101.2 229.7v3.6M163.1 264.4v4.3M87.3 256.6v1.9M53.1 255.6v2.8M113.5 231.7v4.4M126 266v1.4M123 274.3v4M127.3 285.8v1.4M128.1 267.3v2.7M173.1 263.8v2.8M106.5 283.2v3.5M68 252.8v4.4M127 224v1.2M119.3 236.9v4.2M123.1 290.9v1.9" stroke="#3cf000" stroke-width="0.7" fill="none"/>
<path d="M105.1 262.7v4.2M149.6 239.8v1.9M165 255.9v2M122.6 226.6v4.4M136.6 270.2v2.1M115.4 253v3.4M190.6 249v1.5M151.7 237.9v2M185.1 251v2.1M82.5 260.4v1.8M75.4 251.2v3.6M88.4 234.4v4M114.4 251.8v2.2M166.4 248.6v4M83.4 253.5v3.2" stroke="#00f028" stroke-width="0.7" fill="none"/>
<path d="M113.7 265.5v2M121 266.3v4.3M75.2 246.7v2.2M102.8 245.4v4.4M71.4 250.2v1.3M193.4 255.2v1.3M185.4 253.4v1.9M43 246.4v3.3M198.1 242.7v1.7M109.9 280.3v3M115 258.7v3M141 229.2v2.2M50.6 247.8v3.5M132.5 271.1v3.1M75.8 237.6v3.5M125.2 234.2v1.1M60.9 254.9v1.9M55.8 242.1v2.6M144.4 269.8v2M75.2 244.5v1.4M92.1 247.8v2.2M152.2 266.2v1.3" stroke="#28f000" stroke-width="0.7" fill="none"/>
<path d="M197.6 270.4v2.4M120.5 273.1v3.2M92.9 262.3v3.7M144.2 276.7v2.5M115.6 261.1v4.2M139.5 258.9v1.3M150.8 273.9v3.3M158.6 286.3v1.8M81.4 291.2v1.6M102.5 278.8v1.8M47.8 284.4v4.2M55.3 283.9v3M123.8 297.7v2.4M93.3 295.9v3.7M99.7 283.3v1.3M124.2 298.5v3.6M122.7 312.8v3.7M110.4 294.4v2.2M126.6 243.3v1.7M67.7 282v2.8M184.2 264.3v4.1M137.3 306.3v2.1M144.2 305.7v1.9M114.5 259.6v4.3M87.4 287v3M70.1 296v2.6M177.6 270.6v3.1M98.8 273.9v3.9M152 300.1v1M168.7 296.2v3.3M97.5 287.4v1.8M141.8 284.8v3.3M89 299.3v2.2M62.7 293.4v3.7M130.9 295.4v2.5M72.4 287.1v2M162.9 261.1v3.8M112.6 300.8v1.1M102.4 283v2.4M142.3 293.4v1.8M95.2 258.4v3.9M168.4 258.6v1.9M90.8 307.3v2.2" stroke="#f00000" stroke-width="0.7" fill="none"/>
<path d="M127.2 231.4v3.2M165.5 245.8v4.2M161.2 256.8v2.9M77.5 251.9v1.5M176.9 237.1v2.5M146.6 238.9v4.2M60.2 259.7v2M143.5 233.1v2.4M60.5 244.2v2.1M57.3 244.4v2.9M162.7 225.7v3.5M80.2 250.1v1.1M110.5 268.3v4.2M103.8 232.5v2.2M31 245.7v2.3M79.7 260.4v2.4M88.3 268.2v3.5M127 233v1.3M168.4 234.5v3.8M115.1 234.9v2M52.9 236.2v3.2M145.5 258.7v3.4" stroke="#00f000" stroke-width="0.7" fill="none"/>
<path d="M125.5 256.9v2.8M177.3 246.3v4.1M44.2 243.7v1.1M106.7 222.6v2.6M182.8 248.2v3.1M116.6 243.8v4.3M157.3 266.4v1M102.2 265.8v2.7M139.8 225.4v4.5M95 250.7v1M184.5 253.9v1.3M95.4 230v3.1M161.6 260.4v1.7M74 230.5v2.1M159.5 222.2v1.8M84.7 253.4v3.9M58 232.5v3.8M152.9 233.3v4.3M111 225.3v3.8M132.3 231.6v2.1M130.6 239.5v1.2" stroke="#00f050" stroke-width="0.7" fill="none"/>
<path d="M63.4 268.6v1.7M59.8 266.5v3.8M115.6 259.8v2.5M97.6 255.1v1.7M84.1 253.4v1.2M129.5 292.9v3.3M96.9 282.2v4.3M115.1 229.1v2.2M185.2 258.3v3.4M120.9 233.9v4.3M62.1 256.9v3M83.2 275.6v2.4M124.1 231.7v1.3M152.3 237.3v1.6M54.1 251.6v1.5M115.9 235.6v3.8M82.8 260.1v3.2M204.4 261.2v1.4M155.7 244.6v3.9M138.4 275.1v2.7M102.7 254.8v2.1" stroke="#b4f000" stroke-width="0.7" fill="none"/>
<path d="M99.3 297.3v2.1M99.4 248.5v3.3M135.2 288.7v3.5M119 280.6v2.1M95.9 292.8v3.2M175.2 280.3v2.5M146.4 277.2v2.4M32.7 276.4v4M121.9 271.1v2.5M59.1 273.2v3.5M113.2 256v1.4M146.1 298.5v2.8M62.5 272v4.2M169.7 265v1.3M195.7 271.6v4.4M107.7 258.6v2.6M112.5 243.7v2.1M178.1 273v1.6M105.2 297v3.5M149.5 297.4v1M146.3 294.7v2.1M35.9 270.9v2.2M113.6 313.4v1.8M137.5 286.5v2.3M135.7 248.8v3M53.2 281.8v3.1M96.1 254.2v1.9" stroke="#f03c00" stroke-width="0.7" fill="none"/>
<path d="M146.1 284.9v3.3M131.7 255.6v2.9M128.2 259v3.9M171.6 259.3v2.9M105.9 258.2v3.9M107.5 267.3v1.7M104.8 263.6v2.1M95.5 282.7v1.2M103.9 252.4v2.2M95.4 285.6v2.4M110.7 262.9v3.6M182.6 273.1v2.2M136.1 254.6v4M68.3 251.4v2.4M108.6 287.6v3M140.6 238.1v2.3" stroke="#f0f000" stroke-width="0.7" fill="none"/>
<path d="M138 239.2v2.5M99.8 262.5v2.2M186.7 235.9v2.9M155.1 240.8v4.1M71.8 256.8v2M102.1 246.1v3.7M136.8 260.5v1.3M95.3 234.3v1M121.7 230.5v3.2M122.6 223.9v1.9M136.1 238v1.6M114.4 236.6v1.8M70.7 249.7v2.7M66.5 238.7v2.7M127.5 251.9v2.1M199.8 236.4v2.7M187.2 238.1v2.8M115.7 240.8v3.5" stroke="#00f064" stroke-width="0.7" fill="none"/>
<path d="M129.6 261.3v3.5M111.2 250.2v1.2M105.3 279.6v3.5M97.2 270.6v1.6M146.7 257.7v3.2M153.3 271.4v2.4M53.5 251.4v2.3M118.7 271.2v1.8M123.9 260.5v2M64.2 246.6v4.1M149.8 248.5v3.3M186.6 261.5v4.4M132.1 278.3v1.8M76.3 241.9v2.1M101.3 229.2v4.5" stroke="#50f000" stroke-width="0.7" fill="none"/>
<path d="M34.7 250.2v1.9M154.2 239.6v1.9M151.4 257.3v2.7M60.2 251.8v2.9M144.1 263.3v3.8M84.8 251.8v4.3M114.1 256v1.9M193.1 247.7v4.4M185.5 257.7v2.9M149.4 274.5v3.5M108.9 232.1v3M144 265.7v3M93.7 253v2.5M169.6 270.9v3.4M142.3 235.8v2.9M178.8 249.2v1.8" stroke="#78f000" stroke-width="0.7" fill="none"/>
<path d="M112.6 280.5v2.3M200.8 258v4.2M145 258.6v2.9M74.4 251.9v4.3M77.7 262.6v1.5M132 287v2.9M113.9 291.5v1.7M35.3 266.2v3.5M96 291.1v3.4M151.3 293.4v1.8M125.9 247.1v1.2M140.7 254.5v4.3M162 282.1v1.1M132.9 243.3v1.4M145.6 253.8v2.7M172.9 276.6v2.5M78.7 282.1v3.2M149.8 287.7v1.8M133.2 301.3v3.8M73.4 276.6v2M118.8 298.5v3M98.8 280.6v1.8M125.3 270.2v3.4M181.7 269.6v2.9M158.6 273.6v2.3M144.2 257.5v1.4M73.7 259.8v4.1M157.2 252.1v2.1M146.2 254.9v2" stroke="#f0b400" stroke-width="0.7" fill="none"/>
<path d="M90.6 249.2v3M76.8 252.3v1.7M70.2 244.2v3.8M66.4 243.7v2.2M172.6 239.4v3.6M156.9 272.9v3.4M150.4 270v2M127.7 282.4v3.8M105.2 261.6v3.3M156.9 234.4v4.4M72.4 260.8v3.6M172 263.6v1.8M166.7 238.2v2.3M169.4 265.3v3.5M148.1 248.6v4.2M103.4 280.7v4M179.4 234.8v1.5M196.5 246.2v2.3M110.1 266.1v2.2M106.5 262.1v4.1" stroke="#14f000" stroke-width="0.7" fill="none"/>
<path d="M102.2 295.4v3.9M123 297.2v4.1M86.6 269.2v3.1M183.8 275.9v1.4M92.8 282.9v3.4M178.6 275.8v1.3M101.8 246.1v2.2M77.6 279.6v2.8M73.4 277v2M113.7 237.4v2.3M105.8 253.5v2.3M116 276.6v3.8M100.4 265.9v1.5M170.7 271.8v4.2M122.8 267.1v3.8M88.8 287.5v2M150.3 276.6v1.3M148.9 283v3.6M154.1 253.7v3M170.8 280.1v2.5M139.8 303.9v4.2M191.8 272.6v2.2M90.6 287.8v1.9M143.2 268.9v1M118 274.9v2.3M123 306.1v3.5M117.9 288.6v1.1M105.1 243.7v4.1M56.2 275.4v2.6M112.9 247.7v2M181.4 256.8v3M66 277v3.9" stroke="#f08c00" stroke-width="0.7" fill="none"/>
<path d="M104.8 244.2v1M44.1 238.1v1.3M112.8 233v2M138.6 247.3v1.2M152.2 245.3v1.6M159.2 258.5v2.5M103 246.1v1.8M141.6 238.3v1.3" stroke="#00f078" stroke-width="0.7" fill="none"/>
<path d="M175.2 250.8v2M129 234.4v4.1M135.5 267.5v1.7M44.4 259.6v4.2M194.3 244.9v3.7M140.8 254.9v1.5M145.3 259.7v2.8M111.2 265.1v3.3M100.1 265.5v4.2M124.7 260.5v1.3M115.1 243.4v1.6M156 256.3v3.7M87 273.1v3.5M120.1 281.8v3.6M129 239.2v3.7M175 245.8v3.3M196.2 255.4v3.6M146 267.4v3.5M132.6 272.6v3.7" stroke="#8cf000" stroke-width="0.7" fill="none"/>
<path d="M117.9 222.3v3.9M87.8 242.6v2.8M190.5 238.9v3.6M133.3 217.1v3M82.9 265.6v1.6M114.3 229.8v1.7M132.8 235.6v3.8M169.3 238.3v1.7M161.5 251.4v1.4M161.8 255.8v1.5M82.4 245.7v2.5M142.8 227.1v2.9M53.8 247.2v4.2M115.3 260.3v3.7" stroke="#00f014" stroke-width="0.7" fill="none"/>
<path d="M165.7 270.2v1.9M76.8 272.1v3.5M103.7 304v2M42.7 282.5v1.6M150.2 279.3v3.7M194 280.4v1.7M96.6 256.5v2.8M78.6 275v3M119.8 245.8v1.9M136.8 274.1v3.4M129.3 260.9v2.1M202.2 273.3v4.3M118.8 278.4v1.6M112.3 303.8v3.9M125.2 270.2v3.3M93.5 262.8v1.6M160.4 266.1v2.4M119.3 307.5v3.9M144.5 254.7v3.5M72.3 269.7v3.2M88.1 303.8v3.7M110.2 306.6v2.6M137.2 289.9v4.4M140.5 254.1v1.3M119 301.6v2.5M106.1 295.2v1.1" stroke="#f01400" stroke-width="0.7" fill="none"/>
<path d="M52.1 264.1v3.7M99 268.9v1.3M180.1 259.5v2.4M102.7 296.1v1.3M140.8 253.1v4.1M94.1 270.8v1.9M138.3 264.1v2.2M65.7 264.5v2.9M156.1 282.4v2M136.2 300.6v1.4M96.5 271.4v2.9M181.3 269.5v1.6M116.6 258v3.3M133.5 307.7v4M53.1 270.1v3.5M103 259.3v2.1M136.6 252.6v3.2M132.6 260.1v3M106.1 246v3.2M125.9 243.4v2.5M140.3 266.5v2.3M133 277.4v1.5M168.5 266v3.2M174.9 261.1v2" stroke="#f0a000" stroke-width="0.7" fill="none"/>
<path d="M138.5 269.3v4.1M142.6 272.1v2.1M59.2 257v2.9M92.3 271.2v4.4M142.5 260.3v2M161 251.7v3.5M57.4 257.4v2.9M132.8 268v1.6M178.2 277.1v3.6M145.4 267.6v2.1M75.9 248.6v3.9M148.8 282.1v3.1M115.5 240.5v3.1M126.1 251.4v2.1M133.2 254.8v1M98 289.5v4M70.1 276.4v1.1M47.9 270.6v3.1M113.5 288.4v2.2M158.2 284.7v1.1M123.8 260.2v1.8M88 268.8v3.2M181.9 261.7v1.5M141.7 277.3v1" stroke="#f0c800" stroke-width="0.7" fill="none"/>
<path d="M107.1 289.1v2.7M119.3 277.9v1.1M184.7 270v1.9M181.7 289.5v3.6M149.1 296.4v1.1M68.1 269.4v2.2M127.2 267.8v3.4M158.2 266.4v3.7M120.1 288.2v3.8M141.3 304.7v4.1M93.8 259.1v2.1M130.4 315.6v2.5M91.7 285.3v2.2M130.4 274.3v2.1M156 272.9v3.2M85.3 284.9v1.5M69.2 272.1v3.8M155.9 262.5v4.4M114.4 270.2v2.8M44.6 283.6v2.7M63.2 283.9v2.4M126.4 252.2v3.5M197.1 268.1v2.2M108.9 289.8v1.3M141.5 267.9v1.9M130.5 244.5v2.5" stroke="#f05000" stroke-width="0.7" fill="none"/>
<path d="M135.1 258v2.1M126.4 295.1v1.3M200.6 252.4v4.2M180.4 273.7v2M96.9 257.8v1.9M113.5 247.6v4M116.5 242.2v3.6M128.4 247.5v2.5M91.8 242.6v2.8M142.3 270.7v3.1M81.4 262.3v3.6M116.7 237.2v3.3M59.2 269.1v2.5M101.7 254.1v1.4M137.2 231.5v4.2M85.5 245v4.3M117.1 286.1v3.7" stroke="#a0f000" stroke-width="0.7" fill="none"/>
<path d="M173.3 261.4v2.4M111.7 254.2v1M87 269.8v1.4M181.6 248.7v1.1M87.4 282.2v2.7M123.8 281.9v4M114.4 259.7v4.5M34.6 265.4v4.1M151.2 274v2.6M134.6 290.3v1.7M118.5 241.8v4M163.2 239.2v3.5M123.1 240.2v2.8M115.9 265.5v1.7M162.7 254.5v3.4M147.8 276.7v1.5M65.4 271.6v2.9M95.2 259.6v4.1M118.3 239.5v2.2M71.1 261.8v3.4M100.2 247.4v4M125.8 280.1v3.1M164.4 272.2v3.6M122 234.6v2.3M97.3 258.9v3.8M107 260.2v3.7M97.5 241.1v1.7M185.2 258.5v3.5M144.8 271v2.6" stroke="#c8f000" stroke-width="0.7" fill="none"/>
<path d="M138 249.5v2M209.6 233.6v2.2M113.5 225.5v1.9" stroke="#00f0a0" stroke-width="0.7" fill="none"/>
<path d="M196.8 237.4v3.5M120.7 269.4v4.5M185.6 234.9v3.4M47.1 241.1v2" stroke="#00f08c" stroke-width="0.7" fill="none"/>
<path d="M193.1 281.3v0.7M85.8 230.8v0.8M123.9 271.1v1.4M115.5 231.8v1.3M131.6 313.3v1.2M101.5 244.6v0.9M61.2 272.1v1M153.9 286v0.7M146.5 274.3v0.6M130.9 275.2v1.5M144.8 300.3v1.3M96.2 237.3v0.6M176 281.9v0.7M159.8 246.5v0.9M67 261.7v0.6M117.6 279v1M130.7 283.7v1.2M199.1 242.3v1M121.8 242.8v1M50.4 284.8v1.1M115.8 245.5v1.5M81.5 254.9v1M158.6 267.9v1.1M181.6 276.1v1.1M140 295.5v1M174.6 250.4v1.4M148 245.7v1.1M128.9 253.4v1M172.2 250.6v0.7M147.9 277.3v0.7M140.6 239.8v1.1M162.9 234.4v0.8M161.5 244.7v1.1M91.8 248.3v0.7M190.4 274.5v0.9M43.5 254.6v0.8M78.8 236.9v0.6M194.5 245.6v1.2M89.2 277.5v0.9M139.9 252.2v0.6M108 263.2v1.4M76.9 270.5v1.3M206.2 272.2v0.7M84.9 291.5v1M109.1 272.4v0.8M32.6 251.8v1.4M162.3 233.8v1.4M92.8 228.2v1.5M77.5 266.9v1M117.9 217.7v1.5M66.8 260v1.4M140.7 262.9v1.3M59.1 279.9v0.8M112.1 224v0.8M152.8 251.9v1.4M56 244.8v1.4M51.4 285.5v1.3M108.2 246.6v1M150.3 263.1v0.6M78.3 249.1v0.9M49.5 266v0.9M141.1 242.5v0.8M95.4 277v0.7M93 271.4v1.4M152.5 296v1M162.6 244v1.2M79.5 229.4v1.1M148.3 273.8v0.9M152.9 250.5v1.2M171.2 246.8v1.2M103.9 239v1.5M126.6 288.6v0.6M122.7 266.6v1.5M74.2 256.3v1.3M111.3 229.8v1.2M127.8 254.5v0.8M133 286.3v0.8M113.6 267.2v0.6M98.2 270.9v1M151.5 238.1v0.8M81.2 262v1.5M183 267.3v1.1M124.5 245.8v0.8M181.1 271.5v1M61.7 244.8v0.8M98.1 293.5v0.9M134.4 256.7v1.1M127.7 231.8v1M148.7 260.4v0.8M133.5 254.7v1.2M78.7 236.7v1.2M85.1 234.4v1M157 301.2v1.2M52.8 241.7v1.2M95.8 267.6v0.8M153.5 260.1v0.8M116.3 238.5v0.7M145.4 268.5v1.5M107.1 275.6v1M149.7 241.8v1.2M151.3 266.5v1.4M140.5 242.8v1.4M157.2 272.6v0.7M155.7 265.4v1.4M136.2 237.9v0.7M67.7 258.8v1.2M182.2 233.2v0.6M153 240.2v1.4M58.3 286.3v1.4M147.4 252.8v1.3M65.3 248.3v1.1M101.1 262.3v1.4M131.2 239v0.7M155.5 251.3v0.9M117.4 245.5v1.1M126.5 250.6v1M121.5 253v1.4M140.9 253.6v1.3M168.1 263.1v1.5M126.4 309.3v1.4M116.2 249.3v1.1M102.9 297.7v1.2M41 264.3v1.1M153.1 265.1v0.6M198.4 247.1v0.8M82.9 268.8v0.8M80.3 261.3v1.5M64.8 262.1v1.2M145 272.5v1.4M160.7 270.7v1.4M58.5 259.3v1.3M102.7 255.5v1M144.9 247.7v1.3M144.1 248.1v1.2M183.6 259.2v0.9M198.4 250.1v1.2M76.1 262.4v1.1" stroke="#f0c878" stroke-width="0.9" fill="none"/>
<path d="M187.9 271.1v1.4M168.2 252.8v1.4M155 246.2v1M167.8 275.4v0.7M104.9 288v0.7M155.9 256.1v1.1M125.9 231.8v0.8M47.4 274.1v1.3M89.7 266v1.4M142 285.9v0.9M52 274.6v1M130.4 296.6v0.7M183 262.9v1.1M170.7 257.8v0.9M122.5 229.9v0.8M113.3 274.3v0.8M143.6 306.5v1.2M66 262.3v1.2M146.5 250.8v1.3M162.3 232.9v0.9M176.3 256.9v1.2M123.6 242.8v0.8M122.8 275.2v1.4M116.1 226.5v1.2M159.5 300.6v0.8M148.3 281.4v1.1M97.8 256.8v1.1M139.7 242.3v0.6M64.2 251.6v0.6M110.4 298.7v0.8M111.3 303.6v0.7M196.4 262.6v1M151.3 255.6v1.1M140.4 276.6v1.4M151.9 273.1v1.1M108.3 295.1v1.4M82.2 284.4v1.1M121.8 221.6v0.8M155.6 237.8v1M70.2 265.5v0.9M96.2 289.2v1M183.6 257.4v1.4M104.4 290.9v1.2M141 285v0.8M69.9 255.9v1.3M122.4 285.7v1M72.7 264.1v1.1M160.2 249.1v0.8M101.4 290.9v1.5M121.9 244.5v1.4M101.4 268.8v0.9M116.3 279.8v1M136.9 261.2v1.1M75.6 260.9v1.3M67.6 291.6v1.1M134.6 263.8v1.4M124.6 300.7v0.6M101.2 273.9v0.9M174.3 229.3v1.4M146 267.4v1M180.3 241.8v0.8M146.6 277.2v1.2M173.1 268v1.1M99.1 255v1.3M89.8 253.2v0.8M36.6 243.4v1.2M154.6 225v1.5M169.3 254.4v1M96.5 232.1v0.6M99.4 263.5v0.7M129 254.2v1.4M169.4 243.3v1.3M128.4 238.6v1.1M95.8 249.9v0.6M98.8 303.2v1.2M69 252.3v0.8M114.2 248.1v1.4M162.7 250.9v0.7M89 273.2v0.6M125.1 258.6v0.9M80.1 256.9v0.9M122 293.8v1.3M53.2 245.9v0.7M160.7 233.9v0.6M97.8 268.2v0.8M96.6 282.6v1.4M122.2 235.8v0.8M108.2 250.7v0.8M196.5 252.7v0.8M61.1 247.1v0.7M104 258.5v0.6M65.8 238.4v0.9M179.7 241.8v1.3M142.2 308v1.1M129.6 254.9v0.6M160.4 241.7v1.4M147.5 289.8v0.8M81.5 240.8v1.4M102.5 236.5v1.1M146.5 249.6v1M43.5 265.1v1.3M150.6 239.8v0.8M153.5 243v1.1M134.3 251.1v1M105.3 260.6v0.8M138.4 233.2v1.5M106.2 222.5v1.2M158.3 277.5v1.1M109.6 305.3v1.3M195.2 280.5v1.4M169.6 265v1.2M68.5 269.5v1M134.8 267.8v0.9M129 239.8v1.1M149.2 280.3v0.9M85.7 249.1v1M94.9 238.1v1M105.2 274.1v0.9M86.5 239.3v1.4M43.1 246.2v1.3M106.8 221.5v1M192.8 242.4v1.3M97.3 233.3v0.8M86.2 259.7v0.9M91.8 255.2v0.8M96 280.8v1M186.6 278.5v0.8M68.2 261.1v1.5M147.8 247.4v0.7M103.4 248.2v1.4M128.9 273.2v0.7M191.1 271.4v0.7M110.9 269.4v1.5M63.1 257.6v1M121.7 272.9v1M145.8 233.4v1.5M175.5 253.6v1.3M169.7 241.1v0.8M64.6 258.2v0.8M143.2 258.5v1.3" stroke="#f0f0b4" stroke-width="0.9" fill="none"/>
<path d="M155.3 234.2v0.9M130.8 257.6v0.8M145.8 232v0.8M83.8 274.1v0.8M54.7 277.7v0.8M118.2 251.5v1.2M44.1 278.4v1.4M116.7 267.7v0.7M52.3 244.7v1.1M143.8 289.2v1.1M113.7 272.2v1M117.1 238.9v0.7M45.3 257.9v0.6M181.5 248.9v1.2M106 274.2v1M112.2 289.4v1.3M100.1 259.1v1.3M156.8 243v1.5M73.3 268.4v0.7M42.8 284.8v1.4M48.1 244.5v1.3M149.9 236.1v1.1M125.1 266.1v0.9M107.9 271.1v0.7M65.2 270v0.7M145.3 280.6v1M111 289.5v0.8M186.3 253v1.2M53 260v0.7M70.3 271.6v0.8M117.7 274.3v1.3M118.5 253.4v1.2M153.6 226.1v1.2M75.9 270.5v1M87.9 250.7v0.8M119.7 285.3v0.9M204.6 277.5v1M144.1 269.7v1.2M78 229.5v1.4M111.5 230.8v1M155.4 247.6v0.9M94.2 247.8v0.9M171.8 257.6v1.5M100 292.8v1.3M150 239.7v0.7M155.7 247.5v0.9M82.7 282v0.8M81.7 251.6v1.4M48 250.9v1.2M115.9 294.9v0.9M115 241.7v0.6M155.6 267.2v0.9M133.8 237.9v1M90.5 295.1v0.6M95 275.1v1M108.4 240.8v0.9M106.8 237.5v1.1M124 287.7v0.6M120.9 222.9v0.9M125.3 287.6v1M128.9 252.3v1.5M89.1 295.7v1.2M191.2 255.8v0.9M87.9 288.6v1.2M72.1 250.6v0.8M79.7 281.2v0.8M59.9 263.3v1.5M169 262.4v1.3M166.5 267.5v1.3M120.7 287.4v1.3M145.6 291.7v1.5M146.1 298.2v1.1M75.4 232.6v0.7M152.8 282.3v1.4M129.2 278.1v0.8M167.7 257.2v1M67.3 273.2v1M142.4 274.2v0.6M147.4 273.2v1.2M142.9 245.3v1.1M175.2 289.6v1.4M65.4 281.6v0.7M140 224.8v0.8M152 253.4v1.4M101.4 277.6v0.8M73.3 262.9v1M71.7 266.5v0.9M177 255.5v1.3M176.4 258.2v1.4M170.1 285.2v1.5M56.7 257.1v1.4M139.5 251.3v1.3M111.4 244.9v0.8M96 288.2v0.9M107.4 251.8v1.4M193 253v1M144.9 296.8v1.4M68.9 243.3v1.4M139.6 234.7v1.2M103.7 243.3v1.4M47.7 266.8v1M117.8 266v0.6M117.3 219.9v1.5M110.9 280.1v1.3M154.6 251v1.1M153.1 262.1v1.5M190.7 245.3v1.3M195 245.9v1M126.1 302.8v0.8M167.5 256.6v1.3M136.5 305v1.1M103.7 276.8v0.9M123.4 274.2v0.7M133.2 255v1.5M103.8 247.6v1M135.8 235.2v1M116.6 290.3v1.1M98.2 284.6v0.9M204.1 269.5v1.4M115.8 252.5v1.5M117.7 260.8v0.7M81.6 283.1v1.4M165.6 269.6v1.1M142.4 242.9v0.6M75.8 270.3v0.8M140.5 271.5v1.3M125.1 243.8v1.3M192.1 274.5v1.2M85.7 268.9v0.9M150.4 252.7v1.5M151 273.6v0.9M107.9 267.2v1.1M98.1 290.8v1.2M115.3 286.8v1.1M109 286v1.4M140.5 278.6v0.8M144.7 225.2v1.5M106 221.4v1.1M113.8 236.2v0.9M114.3 247.9v1.4M136.6 258.8v0.9M171.9 234.8v1.4M69.4 260.2v1.2" stroke="#dcf0b4" stroke-width="0.9" fill="none"/>
<path d="M152.6 263.1v0.9M101.3 261v1.4M70.8 276.3v1.1M33.8 244.3v0.8M93.3 263.1v1M141.6 275.1v0.8M94.3 258v1.1M161.9 267.6v1.3M103.5 291.7v1.3M102 288.5v1.4M84.6 282.3v1.4M134.8 258.2v0.7M86.3 302.5v0.8M51.7 241.2v1.1M121.3 263.2v0.8M107.1 243.8v0.8M110.3 249.4v0.6M183.2 252.1v1.4M202.7 272.2v1.4M104.6 242.1v1.3M160.2 231.2v0.9M131.9 240.7v0.8M181.2 287.3v0.9M144.7 244.9v1.3M94.3 282.3v0.7M124.8 247.3v1.4M186.6 263.1v1.1M140.1 247.1v0.6M148.9 247.5v0.6M101.5 280.6v1.3M91.7 256.8v1.4M163.7 289v0.9M125.6 288.1v1.2M103 282v0.7M86.8 250.7v1.5M96.3 236.5v0.7M143.7 254.5v0.8M128.3 278.8v0.9M108.9 279.9v1.1M114.9 308.4v0.9M128.4 275.2v0.8M147.8 266.2v1.1M135.6 238.5v1.3M135.3 255.2v1.3M185.4 252.9v0.9M167 255.9v0.9M159.2 262.5v1.2M81.8 262v1.3M99.2 275.3v0.7M132.8 272v1.2M132.8 224.7v0.6M62 267.7v1M126.4 296.9v0.8M39.1 286.4v0.6M87.5 260.9v1.4M129.4 266.3v1.3M162.6 251.6v1.3M63.6 237.7v0.7M74.9 282.1v0.9M202.6 256.8v0.9M83.5 274.8v1M192.7 260.9v0.7M143.5 276.2v1M146 264.8v0.7M118.7 253.1v1.3M140.7 248.1v0.6M102.3 267.9v0.8M66.3 268.4v1.3M177.3 295.1v1.2M97.4 257.6v1.4M83.5 287.5v1.3M138.8 230.5v1.5M71.8 265v1M175.6 282.4v1.5M195.1 264v0.9M131.9 257.8v1.4M163.8 272v1.5M149.2 270.2v1M107.4 271.8v1.2M122.3 277.6v0.8M162.8 269.9v0.9M109.2 286.7v1M62.9 279.9v0.9M55.6 252.4v1.4M93.9 256.4v0.8M95.3 272.8v1.1M133.5 304.6v0.7M78.4 243.8v0.9M131.2 271v1.4M49.4 257.6v1.1M110.1 257.3v0.7M194.3 250.8v1.3M117.5 255.1v0.8M121.6 271.6v0.7M155.5 289.7v1M88 240.9v1.1M144.3 269.4v1.4M119.8 282.1v1.3M121.3 248.4v1.3M53.9 240.3v1.2M130.7 312.4v1.1M123.4 304v0.9M127.3 239v1.2M145.9 278.6v1.2M176.3 279.9v1.3M121.5 308.8v1.3M135.3 272.6v0.7M148.5 255.9v1.4M92.4 291.4v1.2M191.2 247.7v0.8M109.6 280.7v1.3M191.2 276.2v1.2M159.2 254.5v0.6M178.5 280.5v0.6M108.4 235.2v1.4M140.6 248.4v1.2M74.7 262.2v1.3M185.8 253.9v0.7M135.5 250.2v1.3M151.7 277.8v1.4M140 275.9v0.7M76 277.4v0.7M108.4 248.2v0.9M66.9 252.6v1.1M100.6 242.4v1.2M64.9 262.5v1M161.7 281.6v1.1M75.4 227.9v0.7M112.1 248.7v0.8M90.5 253.8v1M200.3 238v1.1M168.8 277.6v1.2M188.8 249.6v0.8M109.6 259.8v1.5M91.1 275.5v1.1M109.6 288.6v1.2M97.8 268v1.3M176.7 260.7v0.8M168.8 247.6v0.7M71 296.6v0.8M144.5 275.8v1.5M146.3 237.8v1.2M167.8 243.3v1.1M191.5 282.7v1M112.9 225v1.2M116 285.2v1.1M133.7 240.4v1.1M194.5 260.6v1.1M177 273.3v1.3M114 235.7v1.2M53.3 266.7v1.4M121.4 297v0.8M130.5 261.3v1.4M127.3 267.8v1.1M99.7 248.5v0.8M95.5 233.3v1M146.4 274v0.9M139 273.6v1.4M114.5 291.4v1.3M129.3 263.6v1" stroke="#dcdcdc" stroke-width="0.9" fill="none"/>
<path d="M140 262.1v0.8M114.6 254.3v1.3M126.6 246.7v0.6M184.4 250.1v1M191.7 273v1.5M116.3 255.6v0.6M152.3 259.3v1.1M112.1 228v1.3M73 246.6v0.8M104.8 270v0.8M168.4 255.1v0.7M122.1 283.2v1.4M94.4 268.8v1.3M83.1 240.5v0.7M180.8 286.5v1.3M130 218.8v0.8M63.5 274.2v0.9M157.1 278.2v1.2M169.4 265.8v0.6M81.5 288.1v0.9M131 270.3v1M182.6 272.7v1.1M183.2 254.3v1M126.4 319.9v1.4M110.9 275.4v0.9M203 265.2v1.3M129.1 228.7v1.4M163.1 280.6v0.7M153.6 248.7v1.3M103.9 247.8v1M119.7 242.3v0.7M146.7 220.6v0.8M145.5 246.6v0.9M140 296.6v0.8M95.8 253.2v1.5M127.1 300v1.1M159.8 263.5v0.9M203.4 246.5v0.8M204.3 250.1v1M139.5 261.8v1.3M71.6 254.5v0.9M172.7 283v1.1M127.6 226.8v0.7M158.7 229.7v0.7M193.8 252.9v1.2M162.4 301.4v1M182.6 263.5v0.6M124.8 240.7v0.6M171.6 262.8v1.4M79.3 263.5v1.4M89.8 294.2v0.9M118.9 280.7v1.4M102.1 259.7v0.8M121.1 244.2v1M59.7 247v1.2M112.6 252.5v1.1M59.5 235.4v1.2M110.9 295.8v1.5M66 274.9v0.7M81.3 262.3v1M100.6 243v1.1M175 288.8v1.4M112.3 233.1v0.6M144 269.5v0.9M116.7 232.6v1M129.5 261.8v0.9M33.6 264.7v1.1M80.7 256.7v0.6M166.1 241.2v0.9M160.3 277.3v1.2M187.4 264.4v1.4M122.2 284.3v1M153.5 270.9v1M66.9 281.5v0.8M179.1 262.2v1.3M120.1 255.3v0.8M99.4 248.8v0.8M125.6 261.9v0.8M188.4 264.3v1.2M109.2 296.2v0.8M86.3 240v0.6M149.8 259v0.9M114.8 277.4v1M183.9 257.9v1.2M134.3 290.4v1.2M147.7 264.9v1.1M89.3 278.1v0.9M139.1 282.7v1.2M57 242.7v0.7M128.2 232.1v1.1M51.9 258.7v1.4M89.3 255.4v1.4M202.2 268.3v1.1M153.7 265.6v0.7M142.4 271.8v1.3M129 278.9v1.4M91.9 223.2v0.7M75.5 254.2v1.5M150.1 251v0.6M163.6 263v1.4M130.4 298.7v0.6M104.9 236.8v1.3M40.4 244v1.2M60.8 249.4v0.7M132.1 272.9v1.3M161.4 249.4v1M174 254.4v0.9M80.5 271.5v1.3M122 277.3v1.4M128.8 251.8v1.1M99.5 272.6v0.8M145 267v1.2M116.7 292.9v1M159.2 287.6v1.5M180.2 270.4v1.4M101.1 240.6v1.4M180.5 265.3v0.8M133.1 252.9v1.1M107.2 265.1v0.9M155.5 272.5v1.4M82.9 269.1v1.4M87.8 238.9v0.8M181.2 281.4v0.8M105.2 235.1v1.4M168.5 249v1.3M182 246.1v1.1M184.7 269.9v1.2M99.2 262.9v0.8M75.1 266v0.9M135.8 278.8v0.9M88.1 276.8v1.2M93.8 248.4v1.4M196.5 247.6v0.8M110 249.1v0.8M104.1 284.5v1M184.5 232.2v1.2M111.6 303.9v0.8M64.2 253.3v1.3M181.6 242.2v1.4M137.7 226.3v1.3M116.6 260.9v0.8M178.7 254.6v0.7M121.5 244v1.4M118.4 247.3v0.7M152.5 264.1v1.1M91.3 288.5v1.4M143 290.1v1.3M66.5 238.5v1.4M103.6 241.6v0.6M164.7 238.8v0.7M176.8 271.4v0.7M158.4 278.7v1.1" stroke="#c8dca0" stroke-width="0.9" fill="none"/>
<path d="M82.8 248.4v1M189.7 251v1M136.2 242.9v0.6M137 251.1v1M103.8 279.3v1M67 265.1v1.1M158.6 275v0.8M136.7 222.8v0.7M186 252.7v0.8M174.2 256.1v0.8M85.5 258.2v0.7M167 260.5v0.7M117.6 282v1.4M113.9 228.4v1.4M175.1 265.1v1.4M66.7 269.6v0.9M110.6 273.9v1.4M119.6 284.5v0.7M149 281.7v0.6M93.2 243.3v0.8M85.5 300.2v1.3M182.1 265.9v1.2M105.5 240.7v0.7M109 283v1M147.9 264.4v1.2M151.8 296.9v0.7M108 248v1.4M183.1 252.6v0.8M92.1 275.6v1.5M141.7 230.3v1.5M142.6 274.1v1.2M94.1 261v0.9M99.8 310.3v0.9M147.9 249.1v1M89.9 255.5v0.8M154.9 240.8v0.9M60.6 262v0.8M70.2 237.1v1.5M150.2 255.6v0.9M147.9 307.1v0.7M133.8 313.3v0.6M112.1 300.7v1M112.3 287.3v1M161.9 278.6v1.2M184.8 261.7v1.2M171.2 236.5v1M138.4 269.3v0.8M104.3 242.9v1.4M177.7 251v1.3M117.2 222.2v0.6M117.6 288.5v1.2M199.7 256.3v1.1M96.4 261.6v1.3M59.2 252.8v1.5M127.2 258.5v0.8M75.7 257.7v1M93 286.1v1M73.9 242v1.4M136.6 276.9v0.6M94.6 253.3v1.1M162.9 238v0.9M75.7 268.7v1.4M65.9 271.1v0.6M44.5 252.1v1.1M121.8 261.8v1.4M52.3 288.3v1.1M123.6 306.5v1.3M139.1 225.9v1.3M160.4 245.6v1M89.3 290.6v1.3M176.5 267.8v0.9M130.5 237.5v0.7M156.7 264.8v0.6M62.9 257.6v0.8M118.5 238.2v1.1M207.7 274.7v1.2M107.9 259.9v1.3M105.7 271.1v0.7M179.3 275.3v1.2M160.5 262.1v1.3M94.4 287.8v0.8M188.7 250v1.5M165.6 270.5v1.1M97.1 273.7v0.8M130.3 246.5v0.9M142 251v1M181.8 282.3v1.1M131 305.4v0.9M146.5 257.9v1.2M123.7 228.3v0.7M118.4 235.9v0.7M91.7 267.4v0.6M104.3 280.5v0.8M62.7 270.7v1.5M115.9 241v0.6M72.1 260.5v0.9M185.9 262v1.5M63.2 276.7v0.8M116.4 286.5v1.4M119.2 284.4v1.4M151.8 277v0.9M122.1 262.1v0.8M66.7 245.9v1.4M144.6 281.1v0.6M133.7 296.9v0.8M154.2 275.5v1M120.7 239.6v1M87.7 242v1.1M69 236.1v0.8M174.4 264.8v1.4M110.4 238.8v1.2M153.3 232.7v1.1M135 266.3v1.3M166.9 281.1v1.5M112.6 239.7v0.6M157.8 237.5v1.4M151.9 233.4v1.1M118.5 230.3v1.1M173.8 254.2v1.1M90.8 260.9v1M195.9 255.8v1.2M95.1 270v1.2M118.5 219.3v1.2M142.7 230.4v0.8M42.9 251.4v0.7M56.3 260.1v0.7M86.2 267.6v1.3M96.1 246.6v1.3M88.6 295.1v1.1M165.9 257.4v0.8M154 251.7v1.4M77.4 275.1v1.3M181.1 243.3v1.4M153.4 265.1v1.3M111.8 284.9v1.4M75.8 275.8v1.4M58.2 262.8v0.9M135.3 252.7v0.8M120.3 277v1.1M151.7 249.7v0.8M75.4 267v0.6M159.8 267.9v1.1M95.8 267.5v0.9M132.8 269.8v0.6M117.7 227.9v1.3M106.8 282.8v0.6M100 309.2v1.3M70.2 263.5v1M119.1 251.8v1.4M185.8 251v1.2M173.3 266.7v0.9M56.8 255.4v1.1M100.3 230.3v0.8M111.3 294.1v1.2M150.6 262.8v0.9M56.6 270.2v1.5M99.8 306.1v0.7M42.6 276.7v1M118.6 280.3v1M47.9 262.5v0.6M68.6 266.2v1.4M83.9 253.6v0.9M138.8 307.6v1.5M121.3 272.2v1M112.4 232.3v0.7M97.4 257.9v0.7M155.7 245.2v0.8M163.3 290.3v1.1" stroke="#f0dca0" stroke-width="0.9" fill="none"/>
<linearGradient id="dgl" gradientUnits="userSpaceOnUse" x1="47.4" y1="170.6" x2="23.6" y2="247.0"><stop offset="0" stop-color="#0a1ad4" stop-opacity="1"/><stop offset="0.3" stop-color="#1030e4" stop-opacity="1"/><stop offset="0.4" stop-color="#1658ee" stop-opacity="1"/><stop offset="0.6" stop-color="#10a4f2" stop-opacity="1"/><stop offset="0.7" stop-color="#04dcd8" stop-opacity="1"/><stop offset="0.8" stop-color="#18f060" stop-opacity="1"/><stop offset="0.9" stop-color="#40ec30" stop-opacity="0.85"/><stop offset="1" stop-color="#80e040" stop-opacity="0.15"/></linearGradient>
<linearGradient id="dgr" gradientUnits="userSpaceOnUse" x1="94.5" y1="201.2" x2="120.0" y2="277.0"><stop offset="0" stop-color="#0a1ad4" stop-opacity="1"/><stop offset="0.3" stop-color="#1030e4" stop-opacity="1"/><stop offset="0.4" stop-color="#1658ee" stop-opacity="1"/><stop offset="0.6" stop-color="#10a4f2" stop-opacity="1"/><stop offset="0.7" stop-color="#04dcd8" stop-opacity="1"/><stop offset="0.8" stop-color="#18f060" stop-opacity="1"/><stop offset="0.9" stop-color="#40ec30" stop-opacity="0.85"/><stop offset="1" stop-color="#80e040" stop-opacity="0.15"/></linearGradient>
<polygon points="23.5,208.8 121.8,193.5 120,193.8 120,277 23.6,247" fill="url(#dgl)" stroke="none" stroke-width="1"/>
<polygon points="119.7,193.8 121.8,193.5 218.2,207.2 218,244 120,277 119.7,277" fill="url(#dgr)" stroke="none" stroke-width="1"/>
<path d="M36.9 230.3v1.2M211.3 218.5v3M127.7 252.9v1M102.8 246.8v1M154.6 244.5v1.7M42.9 232v1.4M68.7 240.8v2.4M132.9 253.3v3.1M67.9 234.6v2.4M87.2 244v1.8M83.9 244.2v1.2M214.1 217.9v2.8M201.2 230.4v1.4M166.7 234.1v2.3M46.3 233.1v1.2M213.9 223.1v1.4M208.7 223.9v2.5M207.6 227.1v2.3M90.6 248.4v3.1M93.7 249.9v1.5M38.1 233.5v2.9M39.9 227.6v2.7M66.2 241.4v2.7M149.1 244.7v1.4M111.8 255.5v1.9M98 240.8v0.9M120.4 250.3v1.7M182.2 235.5v1.5M211 227.9v2.3M54.8 229.8v2.3M115.6 246.6v1.8M175.5 232.3v2.8M169.9 236.7v1.1M168.6 237.3v1.6M185 227.3v2.4M77.2 235v2.7M130.3 251.8v2.6M132.2 245.2v1.5M53.2 230.3v1.9M140.9 241v2M76.5 242.1v2.1M110.9 251.8v3.2M206.5 221.9v3.1M94.2 250.6v2.7M194.6 227.3v1.7M145.1 239.9v0.9M197.8 230.7v2.2M173.6 229.4v2.1M40 229.7v1.2M44.9 226.8v1.4M57.3 232.2v1.5M48.7 234.5v2.4M70.9 234.3v2.2M163.7 233.1v2M180.2 231.2v2M88.3 239.3v2.6M130.4 245.9v3.2M87.6 240.5v2.7M140.3 247.8v2.4M46.6 232.6v2.1M172.8 230.1v1.4M87.3 245.3v1M193.9 227.3v2.9M183.5 227.2v1.2M191.5 231.2v2.1M126.1 246.3v1.3M214.5 221.6v1.3M198.2 230.1v1M145 244.5v0.9M190 232.3v1.9M43.7 229.6v2.9M92.3 238.9v1.8M137.8 249.1v2.5M115.9 251.7v2.4M210.8 227.8v2.8M61.4 230.9v2.3M40.2 231.5v1.4M150.1 237.6v1.2M24.7 218.7v2M199.8 229.1v2.6M70.1 241.9v1.5M33.9 228.2v1.4M115.9 250.7v2.4M217.3 218.6v2.4M197 232.4v2.5M204.3 227v2.8M64.1 231.1v2.1M145.9 248.7v1.4M88.6 248.5v2.4M183.6 237.4v2.7M62.6 239v2.1M50.1 228.3v1.1M27.9 228.3v3M47.7 229.1v2.9M215.9 220.8v2.6M183.9 228.4v2.4M122.5 250.4v2.7M39.4 227.3v1.9M26.4 223.3v1.2M58.1 233.1v2.4M111.6 253.5v2.3M70.1 240.4v1.1M189.8 227.4v1.8M189.5 229v1.2M209 223v1.9M124.4 250.9v1.5M90.1 246.9v2.4M168.9 235.4v3M57.7 230.1v2M155.4 237.5v3.2M204.2 225.4v1.8M43.7 231.5v2.3M158 241.2v2.4M43.5 231.9v1.7M207.5 226.8v0.9M142.2 249.3v1.7M29.6 219.2v3.1M120.5 251.5v2.9M25.7 218.4v1.6M199.5 225.5v2.2M64.8 233.7v2M138.4 247.7v2.8M209.9 227.8v0.8M113.6 252v2.3M52.3 230.4v2.8M163.1 237.5v2.5M75.4 245.1v1.7M184.9 229.3v2M44.4 228.5v2.9M171.9 231v1.6M56.5 233.8v3.1M101.7 245.2v1.2M186.2 226.9v1.4M132.4 254v1.5M85.1 243.6v2.8M158 240.7v3.1M78 237v1.4M167.2 235.6v2.5M192.2 225.6v2.6" stroke="#28b4f0" stroke-width="0.55" fill="none"/>
<path d="M86.5 239.7v3.2M192.4 224.2v3.1M34.8 222.1v2.4M58.8 228.4v0.9M122.3 256.8v2.3M120.5 249.8v2.7M89.7 241.9v3M128.9 245.9v1.3M30.6 220.2v2.3M152.9 240.7v3.1M34.4 228.7v1.8M69.1 231.5v0.9M148.3 238.2v2M46.9 229.4v1.3M35.7 231.7v1.7M64.6 232.3v2.5M33.4 226.8v1.5M118.8 251.8v2.4M122.7 251.7v3M81.8 239.9v1.9M114.9 248.2v2.4M195.7 226.9v3.1M116.5 246.1v2.5M216.1 225v0.9M142.9 241.7v1.6M103.5 247.4v2.7M162.9 239.5v3M57.2 238.1v2.6M40.3 231.2v1.8M214.4 218.7v1.3M36.2 221.5v1.2M147.1 249.7v2.7M36.9 227.8v2.4M100.2 252.8v3.1M204.1 222.3v3.1M99.1 249.6v1.7M98.4 243.7v2.1M181.2 227.7v2.8M204.9 225.1v1.5M217 217.5v0.9M170.7 238v2.5M49.5 234.9v2.8M177.4 232.2v3M180.8 227.9v1.1M83.9 243.1v0.8M162.4 241.7v1.4M88 247.8v2.2M186.2 232.2v1.1M188.3 235.2v3.2M145.5 248.2v2.7M134.1 245v1.2M79.1 237.5v2.9M117.5 246.3v1.8M184.5 228.8v2.6M187.7 235.6v2.5M104.8 254.1v0.8M141.7 240.4v2.7M163.4 242.1v0.8M194.8 233.6v2.4M28.7 227.3v1M26.2 221.2v1.9M152.1 247.8v1.3M135.3 242.7v2.7M112.2 255v2.9M106.4 244.8v1.8M211.7 219.2v2.3M174.3 238.4v1.7M41.8 223.3v2.3M180.6 236.7v0.8M73 232.9v2.7M35.5 225v1.1M73.9 241.7v1.9M65.7 232.9v1.7M182.9 237.1v2.9M93.1 245v2.8M50.3 236.6v2M28.5 226.7v3M86.8 240.8v2.1M214.6 224.8v2.1M98.7 247.3v1.7M110.4 248.8v3.1M216.9 225.9v1.7M29.7 229.5v2.7M167.9 232.3v0.9M168.3 231.7v1.2M32.1 226.7v1.9M164.7 241.9v3.2M180.7 236.2v1.3M122.3 255.2v2.2M76.9 236.1v2.2M34.1 225v2.8M36.6 232.7v2.4M83.8 236.4v1.8M136.3 248.6v1M196.8 229.4v1.6M216.4 222.6v3M187.5 233.3v1.3M160.2 245.1v2.4M153.6 236.1v3.1M155.8 236.5v3M170.9 239.3v0.9M53.6 230.3v1.7M164.3 243.9v2.9M37.6 224.3v1.2M205.6 229.2v1.8M209.6 226.9v1.2M90 243.5v0.9M57.8 230.6v1.1M41.9 228.7v2.4M197.9 223.8v2.5M25.5 227.8v1.7M133.9 249.6v1.6M206 222.8v2.8M49.1 233.7v1M60.4 236.6v1.5M81.8 239.2v1.1M206.3 224.8v1.6M144.7 243.3v3.2M113.3 245.8v2.2M175.6 231.6v1.2M206 223.9v1.2M63.8 236.4v2.8M92.9 242.6v3.1M68.1 240v0.9M71.4 236.7v1.7M120.9 255v3.2M78.1 241.4v2.5M86.4 237.4v2M59.9 236.7v2.8M55.5 234.4v2.2M41.4 231.3v1.6M77.4 239v1.4M178.8 238.8v1.5M196.5 225.1v3.1M118.5 255.1v2.8M101.9 250.3v1.5M103.9 242.6v2.6M37 229.4v2.7M92.8 244.3v1M181.6 228.2v1.6M205.2 228.3v1.3M83 235.7v2.5" stroke="#3cdcf0" stroke-width="0.55" fill="none"/>
<path d="M165.4 252.2v2.6M30.9 235.4v2.7M193 239.5v3M211.4 236.4v1.8M143.9 256.1v2.5M163.9 244.4v1.2M106.1 258.2v3.1M74.8 249.5v3M179.6 247.7v1.8M61.1 245.3v0.8M88 258.4v2.8M77.2 255.5v1.7M110.7 264.9v2.6M158.1 253.5v1.3M132 261.4v1.2M127.3 259.8v2.1M168.1 248.5v2.7M40.3 238.6v1.9M55.5 248.7v1M25.3 233.7v1.3M38.7 239.6v2.6M181 240.4v2.6M24.7 230.8v1.7M25.7 230.8v2.8M183.1 240.6v2.1M164.3 249.1v1.7M167.3 248.3v2.5M53.5 240.6v1M182.8 243.3v2.6M207.4 232.8v1M158.9 255.6v1.9M51.7 240.9v1.6M163 248.1v2.8M51.2 239.4v1.5M78.3 248.4v2.4M177.3 246.3v2.3M120.4 266.9v3M132.6 256.3v1.2M152.5 253.8v0.9M136.9 262.4v3M41.7 242.5v2.1M130.2 265.1v1.6M99.7 261v1.4M34.1 239.6v3.1M87.6 249.4v2.1M212.2 230.5v2.9M172.5 247v3.1M183.8 243.8v0.9M147.5 257.4v0.9M122.2 267.2v2.1M80.5 253.6v1.9M159.2 249.7v2.3M110.9 263v2.1M51.6 238.5v1.7M40.2 235.3v2M62 248.2v3M127.6 259.1v2M27.7 239.1v2.9M217 232.5v1.8M210.8 236v1.3M162.1 253.8v2.3M168.2 247.2v1.6M215.5 228.7v1.9M75 252v2.9M193.5 237.5v1.2M28.7 237.8v1.1M31.7 235.5v2.9M56.6 244.7v2.5M195.3 236.6v1.3M121.5 265.3v1.8M197.3 242.3v1.2M198.9 234.4v2.2M51 241.3v1.4M141.7 260.4v1.7M217.2 235.8v1.1M64 246.3v2M209.3 234.2v1.3M40.1 241.7v2.6M175.6 250v2.9M119.6 262.3v2.1M174.1 246.3v2.2M94.5 255.4v2.6M57.1 247.2v1.7M78.3 255.9v0.9M106.3 256v2.5M49.4 238.7v2.6M195.6 241.3v1.5M214 228.2v1.5M194.7 238.9v2.3M95 254.9v3M178.6 248.3v1.1M189.5 242.8v3.1M90.6 252.7v1.8M183.7 243.1v2.5M26.9 234.9v3M139.8 260.8v3M74.3 253.2v3.2M209.4 236.2v2.8M42.7 237v2.7M147.1 251.8v1M79.9 249.7v0.8M178.7 240.2v2M157.1 247.4v0.9M58.8 247.8v2.1M60 244.4v2.2M145.1 254.3v2.9M215.3 232.7v2.4M191.6 237.7v2.4M123.8 264.3v0.9" stroke="#28f08c" stroke-width="0.55" fill="none"/>
<path d="M196 226v1.6M36.2 230.6v1.7M46.7 224.8v2.5M183 229.2v2.9M59.3 233.4v2.6M98.6 248.8v2.5M214.2 222.8v2.7M51.4 230.4v2M114.3 247.1v2.9M38.8 222.1v2.8M213.2 221.9v3M50.7 229v2.7M102.1 251.5v2.5M29.5 229.2v2.8M61.9 235.9v1.6M67.2 232.7v1.6M210.8 221.5v2.5M167.7 239.8v2M137 246.6v3.1M46.9 228.5v1M49.3 230.4v1.2M131.3 248.3v2.9M189.3 235.1v1.5M53.6 233.9v3.1M94.6 249.9v3M51 237.2v0.8M34.8 223.7v1.8M179.4 231.9v1.1M28.1 228.9v1.5M81.1 239.5v2.7M49.6 231.1v1.4M59.7 228.8v1.1M163.7 234.1v1.8M200.8 229.2v1.7M149.4 243.1v0.9M86.1 238.9v3.2M215.2 226.1v1.3M34.7 231.7v2.4M25.1 223.9v2M188.6 227.1v1.4M57 230.5v3.2M126.5 249.8v1.4M27.5 223.9v1.7M141.5 248.6v1.5M134.6 247.6v3M33.6 222.5v2.5M39.7 227.9v2.9M140.2 248.1v2.1M210.7 227.9v1.5M156.2 235v2.2M51 235v1.5M185.6 236.5v2.1M216.5 215.4v1.3M88.6 248.2v2.1M162.1 235.7v0.9M92.8 248.4v1.2M161.6 242.7v1.2M209.9 218.2v1.3M41.4 230.2v2.9M139.9 240.9v1.1M173.6 234.9v2.1M171.2 241.5v3.1M135.6 245.4v3.2M68.2 242.3v2.5M204.3 224.1v1.2M111.2 250.8v2.8M26.3 229.7v1.2M82.7 235.4v2.9M33.9 230v0.9M36.3 223.2v3.1M216.3 220.2v1.4M39.2 225.6v1.1M29.8 222.9v2.4M32 223.7v0.8M54.6 228v2.2M45.5 226.9v2.1M86.6 245.9v1.3M68.5 241.3v2M94.7 247.5v2.8M45.5 230.3v2.5M195 222.2v2.5M208.9 227.7v1.3M147.6 241.4v1.2M53.2 233.4v0.9M83.6 237.8v1.8M174.3 235.6v2.7M36.9 228.4v1.9M180.9 238v2.3M183.6 225.9v3M188.8 234v2.4M125.8 249.3v1.5M115.2 248.9v1.9M216.1 216.4v2.6M120.4 257.6v2.9M52.1 236v2.1M210.7 221.1v2.1M65 237.6v1.8M82 235.7v2.9M136.7 241.8v2.7M25.2 223.9v1.9M191.3 229.9v2.6M214.9 218.6v1.2M141.4 246.6v1M139.6 246.2v2.8M205.6 229.9v1.2M182.8 235.5v1.9M84.8 240.2v2M27.5 224v2M27.3 224.1v1.4M174.4 234.1v2.9M44.5 230.5v1.5M140.9 241.1v1.9M102.2 243.2v2.9M35.7 225.4v0.8M83.6 244.6v1.3M25.9 217.9v3M72.9 233.3v2.2M199.3 222.9v3M90.3 241.1v3.2M94.7 250.2v3M63 230.1v1.1M215.4 220.2v1.4M213.5 218v1.5M204.3 226.9v2.5M149.7 238.3v2.1M74.1 238v2.3M33 224v1.5M47.2 225.4v2.1M64.1 235v2.3M167.6 240.5v2.5M55.7 227.3v2M134.6 253.2v2.8M173.1 239.8v1.8M178 230.8v1.2M119.5 255.3v1.1M41.3 223.3v1.6M134.4 251.3v1.2M169.1 232.5v2.5M114.6 252.9v2.1M161.7 237.9v2.3M40.8 233.9v0.9M188.8 224.4v2.5M46.8 234.2v1M35.4 226.9v3M201.8 225.2v1.6M209.5 223.5v3.2M199.1 225v0.8" stroke="#78f0f0" stroke-width="0.55" fill="none"/>
<path d="M107.6 271.1v1.1M120.8 274.9v2.4M201.6 242.1v2.1M62.6 255v2.2M208.1 240v2M144.7 263.9v1.7M108.2 266.6v3M144.8 267.1v1.6M112.7 268.3v2.1M67.8 253.3v1.8M56.7 254.1v2.1M33.6 242.1v2.5M26.2 246.9v1.9M103.7 264.8v1.8M33.1 248.9v1.4M151.6 263.7v1.9M63.3 258.5v1.6M200.6 249.3v1.9M33.1 243.2v2.6M211.2 242.2v2.6M214.6 243.3v0.8M214.2 242.4v2.3M181.1 251.8v2.8M194.1 250v2.1M207.4 246.4v3M52.5 254.8v2.5M197.9 247.1v1.5M34 243v3.1M90.6 263.3v3.2M68.5 258.4v1.5M183 254.9v2.9M116.5 273.7v3.1M160.7 262.8v1.6M140.5 262.6v2.2M162.7 262.1v2.6M181.4 255.3v2.2M182.2 250.7v2.4M53.5 252.2v2.1M97.4 266.3v1.7M194.6 245.3v1.7M106.4 267.2v1M200.5 244.6v1.6M207.3 242.3v2.5M160.7 261.4v1.3M172.8 258v2M88.2 260.2v1.8M187.2 250.4v1.6M89.9 266.5v1.6M68.2 253.3v2.2M121.9 271.6v1.3M75.2 256.1v3.1M167.3 255.4v2.5M50.7 253.6v2.5M117.7 275.9v1.2M106 265.6v1.8M31.6 242.8v2.7M164.6 257.3v3M170 255.6v0.9M46.9 246.3v1.3M33.4 244.7v0.9M119.4 276.5v2.7M46.4 249.9v3M191.3 247.5v2.8M148.3 263.7v2.4M41.1 251.5v1.9M35.6 248.7v1M186.9 253.3v2.3M41.6 246.2v1.3M90.4 259.9v2.5M201.6 248.5v3.1M151.2 260.4v2.9M57.9 257.4v1.5M107.4 270.4v2M188.9 252.6v1.7M135.9 268.1v2.2M75.5 261.2v0.9M26.2 242.9v1.4M135.1 269.7v0.8M153.5 262.5v2.6M145.3 264.6v2M32.5 248.3v1.4M204.5 246.7v3.1M85.4 259.7v1.9M206.4 240.5v2.2M145.8 262.8v0.9M54.8 252v2.9M80.8 264.5v1M202.6 241.4v1.8M168.8 255.6v2M27.6 241.1v0.8M141.5 265.6v1.3M116.1 272.5v1.5M202 247.5v1.7M212.4 239.8v2.1M72.3 261.6v1.1M32.7 246.6v2.7M195.5 244.4v2.2M38.7 249.6v2M121.3 271.6v3M127.3 274.1v1.6M182.7 253.8v1.6M26.2 247v1.8M143.2 266.1v0.8M65.2 259.9v2.4M203.1 241.8v1.8M132.6 271.6v3M210.6 241.9v2.9" stroke="#c8f050" stroke-width="0.55" fill="none"/>
<path d="M96.2 257.5v1M55.4 239.6v2.6M160.2 248.2v0.9M160 247.5v2.1M209.6 234.8v1.5M185.7 246.1v1.1M27.3 232.7v1.6M194.3 239.4v0.8M66.4 248.9v1.6M29.4 238.8v1.8M215.2 233.6v1.9M213.2 231.5v1M58.3 239.9v3M90.7 254.7v1.3M198.8 233.8v1.4M177.3 246.3v1.1M103.1 257.2v1.4M162.3 249.6v2.5M170.8 243.5v1.2M91.7 257.2v1M33 236.3v1.3M162.8 251.6v0.9M216.9 226.8v2M63.1 244.6v1.2M119 264.2v1.8M34 236.9v2.5M42.7 240.8v2.3M106.4 261.7v2.7M154.3 249.7v2.5M49.7 238.3v2.1M44.2 244.1v2.6M176.4 249.5v2.2M44.9 239v1.8M216.5 229v1.6M215.6 227.7v2.2M168.4 244.9v1.7M39.7 240.1v3.2M171.4 246.6v3M113.5 257.9v0.9M41.8 239.7v1.6M187.3 240.8v1.5M43.8 240v1.2M60.2 245.5v2.8M174.2 245.9v1.4M165.2 246.9v2.6M65.3 246v2.3M75.1 252v2.3M116.4 266.6v1.6M125 262.3v2.9M97.3 254.3v2.9M206.1 230.3v2.7M137.5 263.1v2.3M44.3 236.6v1.9M94.3 252.8v1.7M186.8 238.5v1.5M113.7 259.1v1M31.2 232.7v2M168.4 247.4v1.9M148.2 254.5v1.4M82.8 251.9v1.7M161.2 247v0.9M88.1 254v1.5M65.6 247.3v2.7M210.2 232.6v1M74 247.1v2.3M187.7 236.6v2.6M87.1 254.5v1.4M159.2 248.1v2.9M212.6 232.5v2.4M79.2 253.8v1.1M54.6 242.7v2.6M199.4 237.8v1.3M161.6 245.2v2.5M217.4 229.9v2.3M73.3 244.8v2.2M85.1 252.3v1.8M215.8 236.2v2.9M30.5 237.7v2.8M31.7 240.3v1M144.7 255.9v2.2M48.7 240v2M148.1 249.8v0.8M66 242.2v3.2M50.6 241.9v2.7M155.1 253v2.1M111.7 261.6v1.2M186.4 243.7v2.5M188.6 240.4v2.4M186.3 239.5v2.5M174.1 248.2v3M45.7 242.8v1.9M97.6 255.7v0.9M203.2 237.4v1.4M211.8 235.2v2.2M188.6 242.9v1.4M95.5 260.7v1.6M94.4 251.7v0.9M204.5 236.8v1.2M191.1 239v2.4M36.2 239.2v1.8M109.7 264.7v0.9M74.6 246v1.4M168.6 245.3v1.7M76.6 250.9v2.6M94.4 257.8v3.1M79.2 252.3v2.5M85.4 255.5v1.9M193.2 237.3v1.9M85.1 249.2v1M66.2 243.3v2.4M66.6 243v1M50.6 241.2v1.8M157.7 249.4v3.1M147.9 255.5v2.9M188.2 239v2.5M54 241.3v2.2M66 246.8v1.5M51.9 240.2v0.8M108.5 255.5v1.6M91 258.4v3M213.7 230.6v1.8M157.4 253.9v1.1M121.3 266.2v2.5M181 243.8v2.6M44.5 243.9v2.6M122.5 263.1v0.8M118.3 267.3v1.1M118 264v1.8M157.8 247.2v1.8M193.5 239.6v2.1M85.1 257.5v3M213.3 237v2.1M80.4 251.1v2.4" stroke="#78f078" stroke-width="0.55" fill="none"/>
<path d="M86.4 215.3v1.2M121.2 220.6v1.8M181.7 213.4v2.6M166.7 227.1v1M42.6 215.8v1M135.5 238.2v2.9M211.6 207.1v2M133 203.2v2.5M125.9 199.4v2.1M121.3 210.8v2.7M73.7 213v3.1M69.6 231v2.2M188.9 219.8v2.3M145.1 201.1v1.9M131.5 204.9v1.2M141.2 217.1v2.5M112.1 211.1v2.9M193.2 210.5v2.9M153.7 223.6v3.1M141.3 209v1.4M95.4 216.5v3.1M177 219.6v2.8M192.2 205.9v1.6M41.1 220.7v1.8M90.9 210.8v0.8M164.6 231.6v1M64.7 216.3v2.1M149.9 225.5v0.9M151.6 226.4v1.1M39.6 214.5v1.2M73.7 217.9v1M143.2 216.2v1M106.7 237.6v2.1M99.1 200v1.4M148.3 212v1.4M149.9 215.6v2.4M171.5 226.5v2.5M197.1 210.9v1.8M61 210.1v3M146.7 233v2M114.9 241.2v3M182.4 218.8v1.3M58 213v1.7M123.6 206.3v1M62.9 209.9v3.1M68.9 219.4v1.5M73 228.5v2.9M89.9 217.2v2M80.7 221.4v1.7M99 203.8v2.4M66.8 220.8v2.1M62.3 214.1v2.1M48.9 222.6v1.3M119.8 215v2.9M193.9 211.6v2.9M187.1 215v1.3M104.1 226.4v1.7M92.5 206.5v2.2M68.6 207.5v1.9M55.4 204.9v1.7M44.6 206.6v1.3M136.6 225.5v2.6M144.7 230.9v2.1M171.4 217.3v1.8M185.1 222.5v2.4M95.2 205.7v1.9M185.8 204v3.1M168.7 206.3v2.4M134.9 201.4v2.4M119.2 243.4v1.1M143.9 210.1v2.4M28.2 211.9v2.3M85.9 227.9v2M168.7 205.9v2.3M201.9 207.2v1.3M126.3 243.4v1.5M166.3 204.3v2.9M126.3 197.6v3.1M56.5 207.8v2.4M161.6 232.5v2.3M105.2 240.2v2.8M28 211.8v1.6M50 208.6v2.4M90.4 236.1v1M109.4 227.9v2.1M140.8 209.8v2.5M111.9 206.4v1M175.5 216.6v2.2M120.2 218.2v1.1M108.4 210.9v2.5M91.2 209.9v2.2M52.2 219.5v2.2M42.1 216.1v2.4M131.5 220v2.8M149.7 206v1.9M91.7 212.6v2.5M73.2 223.9v2.5M140.2 218.1v1.4M185.7 207.5v1M126.9 202.7v2.5M89.9 212.6v1.9M120.2 231.2v3M124.2 230.4v1.6M95.5 227.4v1M118.7 215.8v1.5M200.7 206.1v1.4M172.7 204.4v1.5M61.9 206.6v2.6M152.2 209.9v1.2M25.1 215.5v2.1M180.3 206v1M66.3 215.4v0.8M101 201.3v2.3M185.6 204.1v1.3M141.9 210.8v1.5M51.2 224.5v1.5M64.8 227v2.2M124.7 201.3v1.4M169.3 201.2v2.4M161.7 232.1v3M107.6 201.3v3M169.8 228.9v1.1M55.8 221v1.3M98.1 219.1v3M174.1 212.8v1M42.6 209.2v0.8M157 221.9v1.2M104.8 201.5v0.9M96.8 226.8v2.1M64 226.6v1.7M186.9 223.3v3.2M131.2 204.9v2.2M88 208.1v2.5M64.7 212.4v1.6M134.3 200.5v1.9M129.3 242.1v2M176.1 221.9v1.5M182.8 217.9v3.1M115.8 211.7v2.2M211.7 207.7v3.1M155.3 216.7v2.4M134.4 223.8v1.9M52.7 211.1v2.2M146.7 199.5v2.9M95.5 226.9v2.3M46.7 213.9v1.6M71.9 229.9v1.4M164.6 222.7v2.4M204.7 217.4v2.3M77.9 218.2v2.3M88.7 233.7v1.6M107.3 205.9v2.3M109.3 223.9v2.8M188.2 212.1v1.5M168.1 214.9v2.4M50 209.5v1.8M168.7 229.6v1.4M114.7 231.1v3.2M92 234.7v1.1M118.5 198.1v2.9M48.7 205.9v1M112.8 207.5v1.3M131.6 214.5v2.4" stroke="#143cdc" stroke-width="0.55" fill="none"/>
<path d="M114.3 227.3v1.4M125.9 195.8v2.5M68.1 211.6v1.2M215.5 209.7v1.5M144.9 235.6v2.3M213.1 211.8v1.9M103.2 203v1.7M176.9 222.4v2.1M106.1 238.2v1.7M158.2 216.5v2.3M88.2 237v0.9M204 207.4v1.6M69.7 204.9v2.2M117.6 199.6v2.6M138.7 223.5v2.9M106.2 202.6v1.2M135 207.6v2.9M64.5 203.6v3M202.8 208.7v2.8M172 209v2M95 217v2.9M84.3 203.2v2.9M189.4 211.6v1.5M164.3 209.1v2.3M132.4 236.9v2.7M139 214.5v1.7M94.1 221.1v2.6M116.2 243.7v1.3M176.7 225.9v2.7M79.1 204.4v3M63.5 216.9v2.6M121.6 204.1v1M99.9 219.3v1.6M67.4 212.7v0.8M131.2 229.3v2.7M92.5 236v1.5M131 222v3.1M75.9 222.7v1.1M173.2 219.6v1.1M36.2 218.2v2.2M123.6 198.9v1.4M207 212.2v2.7M147.9 202.1v0.8M151.7 209.5v1.6M92.3 215.5v1M119.3 210.6v1.3M71.5 223.3v2.4M124.5 223.9v2.9M60.4 216.2v1.7M166.4 225.7v1.5M169.4 217.4v2M103.5 209.2v1M113.1 225.1v2.4M45.7 222.5v1.8M47.6 221v3.1M81.6 213.9v2.1M122.2 196.2v2.1M78.8 230.6v0.9M124.9 201.7v1.9M184.1 211.3v3M211.7 214.7v1.7M167.4 216.7v3M53.6 225.9v2.4M99.7 237.5v1M98.9 238.2v0.8M174.1 225.4v2M26.8 212.5v1.9M123.9 235.8v1.2M92.6 237.1v2.4M77.7 223.5v2M89.6 217.4v2.3M65.6 223.6v1.5M100 213.2v0.8M65 215.9v2M180.3 224.3v2.5M153.8 219.7v1.6M133.7 240.4v2.1M94.2 234.4v2.4M210.1 212.6v2.7M110.5 198.7v3.1M205.8 211.9v0.8M149.5 229.6v2M162.9 227.1v1.3M35.3 218.1v3.2M182.2 218.6v1.8M113.3 202.4v1.4M154.7 225v2.8M177.4 207.9v0.9M27.6 211.4v1.3M83.6 220.3v1.7M157 228.2v3.1M56.1 220.5v2.3M51.3 206.5v2.2M201.7 212.7v0.8M179 209.3v2.3M161 213.3v2.8M100.3 199.5v2.9M177 211.4v2.3M47.2 210.9v2.9M117.9 199.2v2.9M45.5 219v3.2M37.9 208.5v1.1M185.3 209.3v2.5M139.5 196.9v2.9M134.2 228.7v1.3M71.4 208v2.1M99.6 225v2.9M176.2 211.9v2.3M109.7 197.4v2.8M160.8 217.5v3.1M86.2 205.9v1.5M203.9 213.5v1.3M87.4 212v1.9M134.7 215.7v1.6M151.4 206.4v3M90 223.2v2.6M78.4 217v0.9M157.2 217v2.3M100.2 217.3v2.5M164.6 225.4v2.7M177.1 225.9v1.5M68.3 229.9v2.9M154.9 211.1v1.7M107.5 225.5v3.2M173.5 206.8v3.2M180.5 224.7v1.8M89.7 213.9v2.3M193.4 218.3v2.6M113.2 235.1v1.5M202.8 218.3v1.2M84.5 215.6v2.1M175.7 212.1v0.9M106.4 238.5v1.5M104.7 209.7v1.4M43.9 217.4v1.3M88.1 232.6v2.3M127.4 214.3v1.8M117.5 232.3v3.1M133 207.5v2.1M178.7 221.4v1.6M70.4 205.6v2.1M137.6 221.2v1.4M130.4 229.1v2.6M63.9 208.9v2.2M30.1 216.5v3M158.5 202.4v2.8M105 238.2v2.8M122.2 213.1v3M122.8 198.7v1.2M149.6 234v2.7M152.7 223.6v0.9M153.8 212v1.8M118.4 213.4v3.2M168.3 213.9v1.1M194.3 221.1v1.8M84.4 212.7v1.2M177.5 223.3v1.9M45.2 206.3v1" stroke="#0014b4" stroke-width="0.55" fill="none"/>
<path d="M90.5 199.6v2.3M110.3 242.5v0.9M126.4 225.5v2.9M67.6 217.3v1.1M67.2 220.9v2.4M72.7 204.9v2.5M41.7 215.1v3.1M51 211.8v2.5M106.3 198.3v2.2M98.3 238.8v1.1M195.6 212.8v3M159.1 232.1v1.8M164.9 202.5v1.1M68.2 211.1v2.1M172.9 204.5v1M91.6 204.6v1.1M155.6 230.5v0.9M171.9 202.7v3.1M184.7 219.1v2.4M157.6 211.6v2.4M133.4 196.2v1.7M204 209.3v1.9M110.2 199.4v3.2M164.6 209.7v1M47.2 218.8v1.9M46.3 214.6v1.9M118.2 217v1.4M120 202.1v1.7M34.8 213.1v3.1M62.1 205.6v1.8M136.9 218.8v1.7M84.6 217.4v2.6M197.7 219.6v2M146.7 229.1v2.2M109.8 207.5v2.3M68.4 214v2.6M160.7 217.8v0.9M119.5 231v2.7M77.9 220v0.9M51.3 207.2v1M103.6 197.8v0.9M179.1 218.3v2.4M175.3 225.3v2.8M165.2 222.7v1.8M77.5 221.8v0.9M124.9 198v2.6M92.4 233v1.2M191.1 222.2v3M88.4 230.6v2.9M113.6 204.9v3M177.6 227.6v1.9M106.8 242.2v2M74 217.7v3.2M33.5 213.6v1.4M148.5 225.5v3M117.4 238.6v2.6M91.5 221.2v1.9M67.5 213.6v3.2M202.5 208.6v1.1M216.3 208.6v2.4M106.2 237.4v1.2M162 215.7v1M145.7 238.1v1.2M140.7 225.7v3M61.3 210.4v1.9M147.3 235.8v1.2M69.8 226.2v1.7M180.4 220.6v2.6M198.9 212.9v1.8M47.8 214v1.6M68.5 227.4v1.5M128.1 219.4v2.4M113.9 236.4v1.1M101.8 231.6v2.4M165.8 217.9v1.9M77.8 202.6v1.6M138 214v1.6M28.3 215.3v3M160.3 210.9v1.3M197.5 210.1v1.2M74.7 209.2v1.8M94.3 204.9v2.3M75.4 202.5v2.6M105.3 237.5v2.1M146.4 218.4v2.7M100.4 236.7v2.6M39 211.6v1.4M41 216.2v2.8M69.2 204.4v1.5M155.3 216.9v2.6M170.6 221.8v2.6M87.1 222.4v1.6M132.1 230.9v2.5M139.9 223.8v0.8M128.7 244v1.7M155.4 235.1v1.8M155.1 200.6v1.2M174 214.5v1.9M145.7 219.6v2.8M76.6 210.5v2.6M168.4 201.2v1.8M184.3 216.3v3M162.3 206.7v2.4M100.2 218.6v3M129.5 224.4v2.6M132.9 224v3M177.1 218.1v2.5M125.3 211.5v1.9M139.2 214.5v0.9M170.1 229.3v2.3M75.7 201.5v3M142.3 228.1v2.8M153.3 232.5v0.8M124.8 220.9v1.4M36.7 217.5v1.4M129.3 238.5v2.6M40.7 220.4v1.2M173.5 203.2v2.5M168.7 207.2v1.2M69.9 226.3v2.5M177.2 210.8v2.3M118.8 229.7v2.7M159.3 230.8v2.6M40.5 218.4v2.3M92.4 215.2v2.3M211.7 211.7v1.6M87.5 221.2v1.7M79.9 219.8v2.9M103.3 224.8v1.2M53.8 211.7v3.1M113.2 196.2v2.6M105.9 221.5v1.3M189.6 209.9v2M142.1 233.3v1.5M78.4 213.7v1.4M70 231.1v2.3M139.2 220.9v1.5M53.6 210.1v2.5M172.3 209.7v2.1M25.7 213.7v1.4M169.4 227.9v2.4M91.5 216.4v1.1M139.5 200.4v1.3M121.1 206.3v3.2M167.1 220.3v2.8M133 202.1v1.6M76.9 209.4v1.3M91 201.2v3.2M53.8 220.5v0.8M166.1 205.8v1.4M36.7 210.3v2.3M166.7 223.4v3M91.6 214.5v2.5M60.9 224.3v2.6M83.2 211.5v1.5M131.9 219.6v1M89.4 205.6v2.1M76.5 227.7v2.4M26.2 210.9v1.4M207 216.7v2.1M134.4 237.7v3M167.7 201v1.8M58.5 205.9v1.2M172.7 224.1v2.8M212.2 212.1v3M61.9 211.4v1.6M71.4 223.1v1.9M43.7 212.7v3.1M185.8 207.5v1.2M172.6 218.6v1.1M190.2 206.5v2.8M156.6 209.1v2.6M136 226.7v2.8M51 219.3v2.5M141.9 233.9v2.9M173.5 206.3v2.8M72.8 218.7v1.9M110.8 205.4v1M97.2 198.8v1M165.2 212.9v2.1M94.7 237.6v2.3M96.7 214.1v2.2M97.4 219.8v1.1M143.4 203.3v0.9M132.6 204.2v1.3M160.4 204.8v3.2M163.4 228.9v3.2M51.5 225.4v1.1M147.1 203.6v1.9M108.9 204.6v2M188.3 209.5v2.7M211 215.2v3.1M66.5 228v1M63.8 207.4v3M190.7 208.3v1.4M105.3 217.3v1M94.3 218.4v1.8M107.4 209.7v2.3M117.3 221.7v2M156.5 225.1v1.8M43 211.7v1.1M107.6 208.2v1.4M100.4 215.9v1M158.3 231.2v3M162.4 207.4v1.4M101.1 233.4v1.7M60.7 221.7v2.8M147.1 212.3v2.3M171.3 214.2v2.1M137.8 234.9v0.9M71.8 222.9v2.1M184 205.6v2.4M74.9 228v2M96.6 234.3v3.1M195.9 206.8v1.5M104.9 237.6v1.6M140.2 204.8v3.1M203.3 218.5v2.6M102.5 229.7v2.9M79.2 201.2v2.3M179.1 218.2v2.2M150.9 235.7v1.5M175.1 205.1v1.7M176.7 219.8v2.2M181.8 223.3v2.9M64.7 211.2v1.4M86.4 229.9v2.4M73.5 216.4v1.9M75.7 228v2.8M121.3 197.9v3.1M45.7 208.9v3.1M113.8 198v1.5M91.8 206.5v2.7M105.8 240.2v2.3M118 230.4v1.1M59.2 217.1v1.4M164.1 228.5v0.9M104.8 223.3v3.2M140.8 220.7v1.6M150.6 211.1v1M67.4 226v3M179.2 210.1v1.1M94.9 228.3v1.7M78.8 209.6v2.6M40.9 207.3v2.6M38.5 215.9v3M210.5 211.3v2.4M45.1 213.6v2.8M162.8 227.2v2.6M120.9 197.7v2.7M113.7 220.8v0.9M152.8 226.5v0.8M109.8 223.4v0.9M193.2 220.2v2.2M130.3 238.5v2.2M89.7 210.4v0.9M141.8 198.4v1.2M31.2 214.4v1.9M79.9 222.6v1.6M186.6 224.2v2.5M82.1 234.5v2.8M50.8 223.8v1M153.9 213.3v2.3M208.9 215.6v1.4M109.3 196.3v1.5M132.2 232.5v2.1M127.7 217.1v2.6M76.2 223.9v1.6M189.6 205.5v0.8M183.3 222v1.6M132.2 201v1.1M119.9 231.6v1M66.2 216.2v1.3M26.1 216.7v2.1M104.1 240.5v3M177.5 213v1M58.8 210.6v2.8M135.6 210.1v1.4M118.4 204.3v2.3M200.2 215v1.8M122 240.9v2.8M88.2 228.1v3.1M114.9 196.4v2.8M61.2 224.5v1.7M123.6 208.7v0.9M75.8 225.7v1.2M177.9 224.6v1.1M151.5 200.2v2M87.4 220.8v3M107.2 219v3.1M83.9 235.1v2.8M29.3 215.7v2.2M111.9 206.8v2M44.7 214.8v2.8M36.2 213v1.7M29.1 215.9v0.8M114.6 227.1v1.1M184.2 212v0.8M161.3 207.8v1.6M59.3 214.8v2.3M47.4 206.6v1.4M155 230.9v1.1M173.6 214.8v2.9M116.5 202.6v2.4M195.6 218.2v2.1M109.6 217.4v1.3M104.3 215.9v2.6M124.5 230.6v1.8M78.5 224v2.2M178.4 224.4v1.3M114.1 240v1.4M92.1 236.5v1.6M51.8 223.7v2.9M57.4 218.5v2.2M37.1 218.3v0.9M164.5 211.5v3M114.1 224.3v2M167.7 217.2v2.3M72.7 202.2v2.8M174.9 221.4v2M83.1 225v3M27 211.3v2.4M131.3 202.2v3M47.2 215.7v1.7M69.4 204.4v2.4M136.8 229.3v3M108.8 236.3v2.7M143.3 232.3v2.6M141 228.3v3.2M120.8 211.2v2.4M79.5 230.8v1.3M32.5 216.2v1.9M112.8 202.8v0.8M179.3 210.5v3M206.6 209.7v2.1M87.6 228.3v2.2" stroke="#288cf0" stroke-width="0.55" fill="none"/>
<path d="M25.6 242v2.8M132.4 266.3v2.3M147.1 267.8v1.4M183.6 251.9v2.9M61.9 251.6v1.4M165.6 253.9v2.1M25.5 245.1v0.9M149.5 262.1v1.8M88.8 262.2v2M88.3 261.1v2M52.2 250.2v1M210.1 245.9v3.2M91.9 261.6v0.8M55.7 256v1.9M71.3 258.1v2.4M130.1 267.3v0.8M119.3 272.3v2.8M46.9 246.6v1M143.2 263.7v1.8M187.6 247.3v2M191.2 250v2.8M96.4 266.5v2.2M52.3 253.4v0.8M157.8 261.8v1M209.6 241.8v2.5M206.7 241.2v2.2M156.6 263.4v1.7M26.4 246.9v2.7M37.2 246v2.2M32.9 243.6v2.2M180.5 251.1v3.1M182 255.2v1.1M197.3 245.4v2.2M207.8 241v2.4M92.7 263v1.3M99.7 264.1v1.5M160.4 261.5v3.2M54.3 252.9v3.1M167.9 255.2v1.1M192.7 246.4v1.2M143.9 261.3v2M201.4 245v1M185.6 254.1v3.1M194.4 251.2v0.9M156.7 256.7v1.7M34.7 249.9v2.9M190.6 246v2.9M138.8 262.7v1.7M74.7 256.1v1.7M128.6 270.9v3.1M189.7 249.9v2.6M135.8 271.5v2M130.7 268.5v2M31 244.7v1.7M147.3 266.7v1.1M128.6 266.2v2M167.8 258.6v2.4M169 254v1.9M65.6 257.8v2.3M68.9 256.5v2.4M197.2 246.4v2.5M168.7 255.7v2.6M166.6 258v1.7M36.2 245.2v2.4M175.1 251.5v3.1M198.9 242.8v1.7M173.8 254.5v1.8M195.1 250.8v0.8M120.8 272.7v2.8M123.3 268.4v2.3M133.4 265.7v1.4M133.6 270.6v1M106.3 269.8v3M39.9 251.8v1.5M198.5 248.6v1.9M80.9 259.1v2.9M101.1 265.6v2M215.8 242.6v3.2M54.3 252.7v3M136.6 270.9v0.9M88.8 266.9v2.6M107.8 270.8v1.1M104.2 267v1.6M168.8 253.5v2.5M206.6 246.4v3.1M90.6 264.5v1.3M99.4 265.8v2.7M193.6 252v0.9M129.6 269.5v2.9M152.6 262v1.5M81 262.6v0.9M84.4 258.3v2.7M38.9 244.7v1.7M55.4 249.1v2.9M160.9 259.6v3M36.3 245v2M208.3 239.9v1.9M59.9 251v2.3M103.6 266.8v2.7M97.2 263.5v3.1M139 269.3v2.7M215.5 243.9v3M188.5 251.3v2.5M193.6 248.6v2M86 266.1v1M202.8 242.9v2.2" stroke="#78f028" stroke-width="0.55" fill="none"/>
<path d="M165.3 230.7v1.6M97.4 202.4v1.8M190.7 208.8v2.9M158 215.7v2.2M72.7 220.6v2M111.4 200v1.1M94.6 218.8v2.9M194.2 219.7v1.1M99.2 205.5v2.3M71.5 204.6v1.7M63.9 218.2v1.5M94.6 238.6v3.2M145.1 231.8v1.5M117.7 196v1.2M105 200.8v2.4M68.1 215.6v0.8M150.7 218.2v1.9M103.4 201.9v1M72.6 202.1v1.8M92.6 213.7v2M155.9 224.1v3M83.5 206.4v3.1M67.2 227.7v2.6M24.9 210.8v0.9M96.1 215.1v1M52.4 205.6v1.5M101.9 198.2v2.2M92.2 223v1.1M37.7 210.2v2.1M104.5 227.5v1.3M140.1 229.2v3.1M143.6 219.8v2M129.6 213.4v1.9M70.2 221.7v1.7M166.6 208.6v1.4M150.3 208.8v2M91 234.5v2.9M27.9 215.5v1.4M50.4 222.6v2M68.7 230.9v2.3M35.8 220.2v3.1M80.4 233.8v1.3M204.7 218.2v3.2M76.5 204.7v2.7M192 208.9v2.9M180.3 206v2.3M119.8 209v1.6M105.9 238.7v1.6M65.1 213.5v2.9M58.4 214.8v1.9M34.3 209.5v1.7M168 216.6v1.2M166.6 229.8v1.9M75.2 207.9v1.5M205.3 214.4v1.7M171.5 202.8v2.6M100.9 207v1.3M142 204.6v1.4M173.4 221.5v1.1M107.3 200v1.3M201.9 206.2v2.8M52 214.4v1.8M128.3 201.2v1.2M121.9 214.3v0.9M70.7 215.2v3M168 219.4v2.1M195.4 208v3M183.6 213.8v2.3M135.5 235.6v3.1M118.9 241.9v2.4M112.9 237.1v2.4M181.8 209.4v1.1M112.9 227.9v2.3M89.7 213.9v1.3M91 206.7v2M209.5 209.4v1.9M108 231v2.1M81.3 229.3v1.1M57 226.3v1.1M138.9 201.5v2.4M118.7 225.7v2.5M85.5 209.7v1.4M125.9 236.2v1.6M193 222v1.8M149.7 212.2v2.9M129.6 199.1v3.1M121.4 232.3v2.5M182.6 205.4v3.1M175.5 214.3v2.3M165.7 213v2.2M144.8 215.4v2.7M143.7 215.9v1.4M33.6 213.4v1.4M103.4 206.9v1.7M136.6 212.3v1.5M138.8 228v2.1M169.2 219.6v3.2M89.2 233.7v0.9M52.2 205.6v2.8M54.4 217.6v2.5M150.6 201.8v1.3M155.2 207.3v2.5M146.9 219.8v1.7M139.4 208v1.3M58.3 223v2.5M63.4 228.3v0.9M131.9 215.7v1.9M207 212.6v1.5M138.9 209.8v2.4M160.7 218.7v2M58.6 206.3v1.6M104.8 197.6v3M120.9 228.5v3M112 243.4v1.8M117.3 211.7v2.3M46.3 219.3v2.8M49.4 223.1v2.6M32 217.9v1.5M112.4 220.4v1.1M42.2 221.2v2.9M173.8 218.8v1.1M138.3 201.5v2.3M43.4 210.8v1.7M208.1 214.6v1.3M176.8 216.5v2.9M168.9 215.8v1.5M73 231.4v2M145.3 237.4v3.1M149.1 215.8v3.1M130.7 241.7v2.8M92.3 214.1v1.3M55.1 205.8v2.9M145.7 234.9v2.9M153.3 233.6v2M71.4 221.2v3.1M59.6 222v1.9M135.3 196.6v1.4M72.2 202.6v1.9M130.3 240.1v1.9M147 205.8v0.8M67.7 226.7v1.1M154.1 227.3v1.5M125.2 242.5v1.4M209.5 208.6v3.1M63.6 215.6v1.8M64.8 225.6v2.5M66.3 228.6v1.3M126.7 196.1v2.6M168.9 206.6v3.1M88.4 215.1v2.5M113.9 243.4v2.7M44.6 207.6v1.9M163.1 218v2M122.8 245.2v1M98.4 224.8v1.2M122.2 199.7v3.1M192.3 215.6v1.1M168.1 216.1v2.3M116.4 198.2v2.8M186.6 215.1v2.7" stroke="#1464f0" stroke-width="0.55" fill="none"/>
<path d="M32 218.8v1.6M74 206.2v3.2M37.5 211.7v3.1M163.6 208.5v2.8M200.1 214.7v3.1M94.9 222.1v2.3M167.7 218.9v2.1M51.8 217.4v1.5M203.9 213.4v1.3M105.7 216v0.9M69.9 217.7v2.4M94.1 211v1M182.3 211.4v3.1M188.1 217.1v2.7M184.7 222.8v2.9M163.3 220.7v3.1M141.3 205.4v2.9M57 212.5v2.4M50.6 223.6v2.3M135.9 240.7v1.9M115.3 212.6v2.5M125.7 204.5v0.8M212.9 209.2v3M110.4 240.3v2.7M54.2 206.3v3.1M148.1 208.2v2.9M144.6 210.5v2.1M66.5 219.4v2.9M118.4 234.9v1.3M155.7 231v1.8M120.3 202v1.6M180.7 216.5v1M126.6 244.3v2.2M63.8 205.5v2M74.9 205.7v1.4M77.9 202.6v3.1M42.3 213.8v2.3M49.9 216.1v0.9M102 205.4v2.3M150.6 224.5v2.1M104.8 222.2v2.9M108.6 233.1v1.2M151.6 216.1v1.8M76 221.5v0.9M96.6 200.6v2.4M115.2 216.2v1.1M81.8 232.7v1.4M198.8 219v2.2M155.3 233.8v1.2M137.4 224.3v0.9M199.1 216.3v2.6M103 226v1.4M117.6 201.5v1.3M210.1 216.5v2.1M159.4 212.5v2.9M102.2 237v2.1M70.3 205.3v1.5M135 225.6v1.3M53.7 223.5v2.5M109.8 206.2v1.2M170.1 224.6v1.3M199.3 208.9v1.3M123.5 212.9v2.8M51.9 224v2.9M120.9 207v1.4M129.7 218.7v3M149.7 222.3v2.4M166 222.8v1.2M128.4 220.1v2.3M118.9 244.9v1M83.8 233.1v2.2M190 215.6v2.6M129.2 216.5v2.5M175.4 220.9v3M65.6 204.1v3.2M46.1 210.2v1.7M191.8 214.5v2.7M145.3 232.8v1.3M117 196.8v2.3M60.9 221.6v2.4M162.3 228.3v1.9M128.4 197.6v1.6M55.6 215.1v2.4M118.3 227.9v2.8M43.1 206.8v1.9M137.8 207.7v3M187 215.2v0.9M183.4 210.5v1.7M180.9 215.9v2.1M134.9 196.5v1.9M142.8 231.6v0.8M161.9 215.7v2.1M128.6 240v1.5M119 196.1v1.4M140.9 213.9v3.1M182.1 211.1v2.7M104.4 238.9v2.9M77.8 217.6v2.7M161.2 228.2v1.9M81.2 223.4v2.4M115.6 229.9v3.1M69 222.6v2.5M125.9 195.7v1.4M194.3 218.2v2.2M94.7 219.4v1.3M121.1 216.6v2.9M126.9 218.4v1.3M185.9 220.5v2M127.7 229.9v2.9M94 234.7v2.4M93 211v1.7M207.1 209.6v1.5M102.2 239.6v1.6M31.8 218.2v1.2M143.9 205.7v1.5M105.1 240.2v1.1M105.9 227v2.3M176.9 213.4v1.1M46.8 222.5v1.8M60.1 216.9v3M140.7 200.7v1.3M123.3 202.7v1.8M162.2 207.9v0.8M102.8 227.1v0.8M202.3 217.5v3.2M184.7 211.2v1.9M136.7 229.8v0.9M145.1 204.6v2.8M36.2 215.8v2.4M113 195.9v0.9M102.9 198.5v3M68.1 209.9v1.6M184.1 221.4v2M172.5 225.3v2.4M137.4 230.6v1M102.9 220.4v1.1M84.6 231.1v1.7M79.4 212.2v1M86.8 221.8v1.3M200.2 207.3v2M217.2 214v2.1M134.2 238.1v1.8M56.9 208.6v2.5M104.7 231v2.7M86.3 209.2v3M199.6 216.1v1M169.8 227.6v1.4M193.7 208.9v1.2M181.4 222.6v2.4M138 209.4v1.8M39.3 212v2.5M109.5 199.2v2.3M122.4 201.3v2.1M87.7 230v2.4M50.3 221.3v3M24.5 212.5v1.6M154 232.6v2.2M137.5 223.4v1.1M183.2 211.6v1.5M170.5 228.2v2.6M170.1 223.5v1.1M77.9 231.4v1.3M128.8 234.5v1.5M52.1 216.6v2.7M52.2 218.9v1.1M212.9 214.9v2.9M135.7 205v1.5M64.1 215.8v2.4M161.5 209.7v2.9M83.7 233.8v2.8M87.5 200.6v1.9M128.9 232.9v1.8M93.3 212.5v1.1M82.8 225v2.5M107.5 217v1.3M81.3 210.7v1.3M130.4 233v2.6M179.8 204.5v0.8" stroke="#3ca0f0" stroke-width="0.55" fill="none"/>
<path d="M119.7 233.9v0.8M27.2 210v2.6M91.2 222.8v2.1M94.9 224.6v1.5M133.6 204.3v1.9M188.8 214.8v1.2M144 217.9v1.8M68.8 205.9v1.2M202.6 209.6v1M155.2 217.4v3M119.7 236v1.7M194.5 214.4v2.5M209.9 213.3v2.2M215 208.9v1.6M161.8 226.2v2.8M138.7 207.6v2.8M154.2 232.1v2M186.9 223.2v1.4M154.1 224.9v1.5M77.1 208.9v1.1M146.8 208v1.1M149.6 212.7v1.8M96 237v2.6M183 213v1.7M60 210.5v1.8M26.3 211.1v0.8M45.6 210.8v1.6M135.9 229.6v1.7M199.5 220v2.1M210.8 210.5v2.1M25 214.9v2.6M125.2 220.1v1.4M193.7 215.9v2.8M122.6 198.5v1.4M214.9 207.6v1.3M53.6 211.9v1.4M125.7 204.1v1M127.3 211v2.7M212.4 214.6v2.1M94.5 198.7v2.6M140.6 210.1v2.5M161.2 206.5v1.1M154.2 230v0.9M64.6 229.2v2.3M124.8 216.8v1.8M85.8 209.4v0.9M31.9 214.9v1.9M165.7 227.3v1.3M100.4 224.6v2M135.2 214v3.1M89.7 209.8v2M155 217.1v1.5M61.9 221.6v2.2M170.9 221.5v1.6M115.7 241.5v1.9M171.6 203.4v2.9M162.9 227.3v2.1M130.5 210.1v2.4M213.2 211.3v3.1M145.1 202.2v2.6M163.7 211.8v1M89.8 213.5v3M134.5 219.1v1.9M133.8 217.7v0.9M136.3 196.6v1.5M35.8 211.6v2M173 223.4v1.3M156.5 209.8v1.4M156.4 202.9v3.1M164.2 205.2v2.3M139.1 235.7v1.3M93.9 201.3v1.3M95.4 204.2v2.5M211.3 207.4v2.6M140.9 200.5v2.7M198.3 209.6v1.7M112.8 234.6v2.8M113.3 207.8v2.1M136.2 206.1v2.9M147 225.1v1.7M201.6 208.8v2.5M141.2 226.8v2.4M48.6 222.5v2.6M120.5 234.6v2M135.5 215.6v2.1M152.8 217.8v2.6M155.5 208.3v2.1M101 239.7v2.8M195.6 221.4v2.5M171.8 229.4v2M134.8 215.9v2.5M100.3 219.4v1.1M125.7 223.1v2.1M113.2 201.9v2.8M156.5 216.9v2.2M188.9 212.5v2.6M167.8 205.3v2.4M157.5 200.7v2.7M186.5 213.1v1.5M44.8 218.9v1.9M90.8 222.9v3M42.8 210.8v3M97.8 237.4v1.5M45.9 207v2.7M42.4 215.6v1.1M90.3 235.9v2.2M108.5 220.1v1.1M166.2 209.8v1.3M91.4 199.2v1.4M118 226.8v3.1M160.5 204.4v1.1M141.5 199.7v2M41.1 212v2.1M109.3 214.6v1.7M169.8 216.5v2.3M199.1 208v1M51.6 210.4v2.7M173.4 219.8v2.8M85.2 234.6v1.5M121.5 228.4v2.4M173.9 224v1.2M82.5 232.2v1.8M161.9 210.1v2.5M112.5 216.8v3.1M146.2 214.1v1.3M90.8 201.4v1.1M94.4 214.7v1.5M106.6 233.3v2.4M113.1 197.1v1.8M141.5 228.4v2.2M153 228.9v1.4M165.5 224.2v2.9M189.6 213.9v2.5M64.3 212.9v2.5M63 219.2v3.2M71 225.8v2.3M54.4 219.4v0.9M153.3 218.9v1.3M86.5 219.2v3M27.7 212.9v0.8M181.4 210.8v1.7M149 236.7v2.4M75.6 218.5v2.7M161.5 219.1v2.3M32.7 211.5v1.9M100.4 206.9v1.8M139.8 218.3v2.9M187.8 204.5v2.5M95.6 224.6v2.4M148.7 227.7v1.7M71.5 231.4v1.2M216.7 207.9v1.3M55.4 218.7v0.9M135.3 238.7v1.3M62.9 219.9v0.9M50.7 215.8v1.7M177.7 206.3v2.7M170.8 203.5v0.9M165.6 227.9v1.3M87.8 227.3v1.9M183.3 217.8v1.7M44.9 220.5v3M105.3 224v3M149.2 202.8v3.1M105.1 197.5v2.4M139.5 207.6v1M167.3 211v1.8M193.3 213.7v3M54.4 218.6v2M115.7 205.5v1.6M49.9 210.7v1.4M139 203.8v1.7M118.5 213.1v2.7M52.8 219.1v2.1M82.1 215.5v0.8M86.9 202.4v2.8M80.7 220.1v1.8M87 204.2v2.1M163.3 229.1v2.2M182.7 208.8v0.9M65.2 219.4v2.8M109.2 222.5v1.8M148.4 226.4v0.8M96.1 236.4v2.3M170.2 228.1v2.1M187.7 214.8v1.5M84 223v1.4M119.6 245.1v2.3M197 209.9v1.3M166.8 204v1.1M63.1 220.5v1" stroke="#0000a0" stroke-width="0.55" fill="none"/>
<path d="M127.1 267.1v1.4M200.9 247.5v3M32.6 249.3v1.7M74.6 259.5v3.2M126.2 270.5v1.1M178 257.4v2.9M97.6 262.3v0.8M42 251.6v1.4M115.1 269.6v1.2M54.2 249.5v0.8M121.5 273.7v2.8M25.7 240.6v2.3M40.7 249.3v1.6M66.3 253.4v1.4M94.3 267v3.1M38.4 250.9v2.1M135.7 267.7v2.4M167.7 258.7v1.1M27.8 247.3v1.1M139.7 266.3v1.5M160.6 255.3v2.6M90.9 263.3v2.4M191.4 249.3v2M54.6 255.5v1.9M89.2 263.6v3.1M213.6 243v3.2M165.4 260.1v1.6M200 243.2v2.4M36.2 245.5v2.7M156.5 257.8v3M149.4 266.3v1.4M34.3 247.7v2.5M159.9 262.5v1.1M154.2 263.8v1.7M168.5 254.3v3.2M199.7 244.2v1.5M159.4 257.8v1.7M24.8 246.6v2.4M35.4 245.5v2M30.1 242.8v2.7M53.3 251.2v2.5M180.6 253.9v1.3M131.5 271.5v1M66.5 255.2v3.2M25.1 243.2v0.8M107.6 267.4v1.4M217.2 239.6v2.3M136.8 265.6v2.8M52.8 253.3v2.9M185.6 251.7v2.9M93.9 264.2v1.3M88.8 259.6v3.1M36.9 246.8v1.4M44.6 249.2v2.9M121.8 272.8v2.4M147.6 266.4v2.8M83.8 260.3v2M161.8 261v0.9M76.5 258.8v1.8M214.8 241v3.2M96.8 269v1.9M196.6 249.7v2.5M112.9 268v2.2M180.4 254.1v1.8M141.9 269.2v2.3M75.7 255.8v1.2M158.3 257.3v1.4M54.4 254.9v2.5M90.7 262.4v0.9M58.8 257.2v2.5M190.9 246.1v1.9M148.2 261v2.9M47.8 253.6v0.9M84.4 262.6v2M90.6 262v1.7M160.8 259v0.9M46.5 246.7v2.2M170.5 258.4v2.6M167.4 253.1v1.2M65 254.7v1.8M26 246.8v0.9M47 250.9v2M89.6 266.6v2.9M123.5 267.8v2.1M141.5 265.4v1.3M146.6 260.3v2.4" stroke="#14dc50" stroke-width="0.55" fill="none"/>
<path d="M100.5 252.4v3M100.7 242.7v1.3M106.9 251.3v2.4M36.1 222.3v2.6M61.8 231.5v2.6M150.4 245.6v2.5M39.7 228v1.2M39.2 228.7v2.4M47.8 227.5v1.8M173.7 235.4v1.4M26.4 224.8v2.5M149.6 247.7v2.9M145.9 245v2.8M174.8 230.5v2.2M27.3 223.6v1.5M212 227.1v0.9M25.1 221.5v2.3M151.4 242.2v2.5M143.9 243.7v1.9M88.2 244.1v2.9M117 253.2v1.1M99.6 250.3v1.3M64.9 232.9v2.2M25.6 222.6v2.6M35.6 230.5v1.1M162.2 235.3v2.5M155.7 236.3v2.1M151.7 243.8v1.9M116.5 254.2v1.9M116.4 247.1v2.4M92 248.9v1.2M166.2 241.6v1.8M154.6 237.3v1.6M36.4 224.2v2.1M108.1 253.6v2.9M175.3 235.2v2.5M77.3 235.2v1.1M42.5 229.7v1.5M204.2 219.3v1.3M32.7 223.6v1.1M68.8 231.8v1.9M98 243.8v2.6M185.6 227.1v0.8M159.5 236.7v2.9M37 231.2v2.6M87.7 237v0.8M104.6 249.5v2M173.9 233.5v1.9M96.2 241.4v1.9M87.6 239.2v3.1M104.6 250v2.5M168.9 237.1v2.9M175.8 234.4v1.8M210.6 217.4v1.1M132.1 246v0.9M173.9 233.9v1.8M132.2 254.2v2.6M30.3 227.5v1.6M207.1 220.4v2.6M159.1 245v0.9M89.9 239.4v1.6M120.3 251.2v1.7M128.1 253.3v1.5M208.9 219.2v0.8M48.2 236.4v1.8M159.1 241.7v2.3M37.6 232.5v1.4M75.9 238.9v2.4M207.3 223.8v1.6M39.8 226.7v2.9M63.1 236.3v2.9M191.5 223.8v2.4M134 247.7v2M148.4 238.1v2.6M94.2 243.8v1.8M188.2 231.7v1.9M174.5 239.5v1.6M118.7 252.3v1.1M182.9 235.3v2.9M140.3 249.2v3.1M110.1 252.9v2.8M66.6 234.6v1.9M129.6 250.8v1.8M215.9 215.3v2M208.7 223.7v2.1M45.6 229.4v2.2M67.2 232.5v2.8M174.1 239v1.7M71.1 235.2v3M32.4 221.3v3M125.3 249.2v1.5M35.9 228.5v3M70.6 241.4v1.3M25.2 220v2.5M42.8 223.6v2.7M182.1 230.2v3M70.4 234.9v0.9M60.1 230.4v1.6M79 244.6v2.4M201.4 229.7v0.8M31.5 223.4v1.2M147.3 249.1v2.5M215.2 219.4v2.2M217.2 225.2v1M174.9 239.8v2.6M115.1 248.8v0.8M204.1 227.2v1.6M29.1 221.2v2.7M73.9 244.2v0.9M166.7 241.5v1.6M44.8 233.1v2.1M67.8 235.4v1.7M68 236.2v2.2M216.6 217.5v1.2M53.6 227.4v2.5M204.8 219.4v1.2M216.5 214.7v0.8M173.3 239.9v1.4M115.9 254.2v1.9M215.7 215.1v1.5M148.5 245.5v1.8M164.6 233.6v2.3M156 246.1v1.8M34.9 224.2v1.4M194 224.9v1.2M57.5 227.7v3.1" stroke="#1478f0" stroke-width="0.55" fill="none"/>
<path d="M77.2 257.5v2.4M161.3 258.9v1M29 242.4v2.1M217.4 241.5v1.8M161.1 255.5v1.1M167 255v1.3M168.8 252.6v2.6M213.6 243.3v3M84.4 264.2v0.9M67.9 259.9v1.1M204.6 241.1v3M76.4 262.5v2.6M48.3 253.7v2.7M210.8 241.7v1.3M120.7 270v1.7M175.8 256.7v1.5M164.4 261.1v2.9M169.6 254.5v2.3M34.8 244.9v3.1M199.3 243.4v1.8M186.3 253.5v3.1M26 240.9v2.5M196.4 245.5v2.1M214 240.5v1.5M29.3 243.3v1.4M27 243.3v0.9M174 250.8v2.1M100.3 264.4v1.3M122.2 271.9v3M194.2 247.6v3M213.8 244.6v2.7M81.6 262.4v2.2M189.4 247.2v2.8M140.3 263.5v1.2M146.6 267v1.2M118 269.5v2.8M171.1 254.2v1.4M101.2 268.1v2.8M180.7 249.7v2.1M167.3 258.5v0.9M65.6 254v2M155.3 264.1v3M34.8 243.1v1.4M102.6 264.7v2.3M29.7 248.4v2.8M215.1 238.3v1.1M108.2 272.5v2.1M107 272.1v2.2M89.6 266.8v1.9M211.1 239.1v1.6M166.4 255.8v1.1M55.6 254.9v1.2M168.4 260.4v3.1M82.1 259.6v3M138.2 264v1.1M52.2 249.2v0.9M216.1 243v2.6M144.1 264.9v1.6M89.3 263.5v2.1M81.2 262.5v1M155.1 263.5v1.4M186.8 250.6v1.2M128.6 270v1.4M64.2 251.8v0.8M61.6 255.6v2.5M105.6 265v2.8M190.9 245.3v3M197.1 248.3v1.8M159.6 260.4v2.7M116.2 270.6v1.5M160.7 257.9v2.1M197.5 250.4v1.3M123.2 270.4v0.8M184.8 249.3v2.2M64.3 252.6v2.1M177 251.9v3M61.7 257.8v3M202.1 241.7v1.3M214.9 244.7v2M127.9 269.5v2.7M48.7 247.8v2.8M216.4 244.1v2.4M140.9 265.9v2.5M118.2 272.9v1.7M53 255.9v3.1M67.3 253.4v1.8M86.8 260.2v1.3M26.3 241.3v1.2M124.4 268.5v3.1M54 254.9v1.7M130.6 272.4v0.8M170.3 252.7v1.3M50.6 248.2v1.5M149.9 265.1v0.9M195.5 246.4v1.9" stroke="#28f028" stroke-width="0.55" fill="none"/>
<path d="M28.3 233.4v2.2M176 244v2.1M165.5 246.8v1.4M189.3 238.7v2.1M198.4 238.2v1.7M48.2 239.4v1M114.1 257.3v1.1M196.2 239.1v0.8M202.2 240.2v0.8M73.5 249.7v3.1M30.3 231.2v1.2M198.4 241.5v1M210.7 232.8v0.9M208.2 236.4v1.2M190.9 236v1.2M191.2 239.4v1.4M93.3 255.2v2.3M137.2 262.9v2M149.8 257.1v2.5M132.4 264.6v1.9M44.2 241.1v1.6M127.2 262.3v1.5M181.6 246.8v2.6M167.2 248.2v0.9M151.6 254.8v2.1M181.1 247.3v0.9M141.9 252v2.4M159 252.3v1.2M74.5 249.1v2.5M77.6 255.2v2M104.1 259.2v1.3M90.1 258.4v1.3M76.3 254.1v2.4M41.6 241.5v1.4M27.9 238.6v3.1M113.1 258.2v1.8M172.2 247.9v2M60.1 246.7v1.9M166.9 243.7v2.4M181.4 245.8v3M51.7 240.2v1.2M206.9 231.1v1.4M177.8 241.5v1.9M127.9 265.5v1.4M25.7 237.8v2.6M95.6 259.1v2.9M80.6 255.5v0.8M102.1 263v1.9M121.5 268.5v2.6M72.8 247.3v1.5M184.5 239.1v0.9M186.6 241.1v1.2M202.6 234.4v2.5M205 235.3v1.7M63.5 249.1v3M185.5 244.5v2.7M148.1 250.8v2.4M141.2 256.7v2M82.2 256.1v1.4M99.2 259.2v1.9M194.5 243.7v1.9M213.5 229.4v1M64.2 248.8v0.8M190.6 243.9v1.3M202.2 237.6v2.4M51.4 237.9v0.9M210.4 237.8v2.9M202.7 241v2.6M33.2 236.7v2.6M73.3 251.1v1.3M193.2 242.9v1.8M143.1 258.6v2.3M32.8 239.2v3M204 233.4v2.3M145.3 256.7v2.8M170.5 250.6v1.9M181.2 246.8v1.4M32.5 237.1v1.6M190.6 237.9v1.1M53.2 239.2v1.9M209.9 238.7v2.1M157.8 248.8v1.3M193.9 236.5v1.9M49.6 240.1v1.8M160.3 252.3v1.4M143.3 255.8v1.2M133.5 258.4v3.2M184.5 237.4v1.8M37.8 241.7v2.6M40.3 238v2.4M149.4 255.1v2.1M53.9 244v2.6M44.5 239.7v2.2M29.5 233.4v2M193 238.8v1.4M185.8 244v1.4M165.7 245.6v1.7M27.2 236v1.3M37.5 233.9v2.3M29.5 232v3M81.4 256.1v3M182.8 239.2v1.9M29.6 237.7v2.7M49.5 244.7v1M180.9 248.4v0.9M27 231.2v1.5M97 259v3M217.2 235.5v1.8M143.4 260.1v1.5M110.3 259.9v3M128.4 264.5v1.4M57.2 249.4v1.6M208.4 238.1v2.3M73.6 253.6v1.3M52 239.7v2.9M182.3 244.6v1.3M46.8 237.6v0.8M192.7 236.9v1M190 241.9v2.6M189.3 238v3.1M54.5 241.9v1.8M38.7 242v1.2M102.3 254.5v1.6M65.8 245.2v0.9" stroke="#14dcdc" stroke-width="0.55" fill="none"/>
<path d="M70.4 252.9v3.2M51.4 241.4v1.7M76.2 250.7v3.1M130 257.8v0.8M212.9 228.2v3.1M201.3 240.8v0.9M137.1 262v2.9M211.2 235.5v3.1M109.3 264.2v1.6M176.4 246.4v1.3M181.7 247.6v2.3M71.3 249.6v2.1M143.6 255.7v1.1M133.9 260.9v2.6M78 250.4v2.9M127.3 259.1v3.1M184.6 238.9v1.2M94.9 259.3v1.4M126.1 257v1.7M206.3 233.3v1.9M56.1 245.8v1.1M117.8 259.2v2.8M59.4 244.2v1.4M35.4 234.8v3M205.2 236.8v0.9M213.8 231v2.1M71.1 250.8v1.1M201.5 238.1v2.8M26.6 232.6v1.4M194.9 241v2.2M206.6 231.3v2.2M63.8 244.2v1.5M97.4 259.6v1.9M37.1 241.1v1M154.6 248.2v2.1M169.4 246.7v1.6M33.8 236.5v1.8M111.7 260.1v1.9M184.7 246.2v2.8M88.9 256.4v2M30.5 239v2.1M188.7 245.1v2.1M86.7 250.2v2.6M175.9 246v2.6M210.6 236.2v2.4M159.2 247.1v3.1M120.7 262.3v1.4M188.1 239.1v2.1M61.7 242.1v2.7M97.1 256.8v0.9M48.4 242.1v0.8M160.7 248.1v0.9M37.1 234.4v1.4M126.6 258.2v2.2M184.8 239.2v2.1M47.8 238.2v2.7M35.7 233.2v1.8M125.7 261.4v3.2M185.3 244.5v3.1M184.3 239.2v2.5M105.2 262.1v2.8M125.2 261.3v1.2M193.1 235.5v1.1M36.9 238v2.5M187.5 246.2v1.6M208.5 236.3v2.6M206.5 235.7v1.1M110.7 262.7v2.9M188 246v1.8M131.7 256.9v1.6M185.6 239.2v2.1M202.1 237v2.9M188.3 236.6v2.1M172.3 249v2M25.4 237.8v1.4M204.7 233v1.6M186.4 239.3v2.4M144.2 256.7v2M161.5 248.1v2.4M57.5 241.6v2.5M60.2 246.2v2.2M104.6 263.1v3.1M180.1 248.3v1.9M168.1 249.3v1.9M74.3 254.5v1.2M166.6 246.5v2.5M183.8 243.2v2M194.8 237.3v2.5M70.3 246v1M118.3 266.4v1.1M52.5 239.7v3M48.7 238.5v3.1M70.8 248v1.2M81.9 253v2.7M92.9 256.4v2.5M77.3 251.2v3.1M209 238.4v1.1M83.7 252.8v3M158.9 254v2.4M165 253.4v1.1" stroke="#50f064" stroke-width="0.55" fill="none"/>
<path d="M201.1 256.7v3.3M30.9 262.2v1.9M146.4 269.8v1.7M30.6 256.2v1.2M96.4 276.2v1.5M155.6 260.9v2.7M170.3 257.7v2.4M57.5 256v3.1M109.5 270.6v1.4M94.5 281.2v1.9M51.5 259.8v3.4M154.2 271.7v3.5M33.7 249.9v3.6M121.7 277v2.3M144.2 279.2v3.6M157 278.5v1.6M196.2 251v3.3M132.7 268.5v2.8M171.7 269.9v3.2M133.5 268.7v2.7M114.9 279.8v1.6M129.4 278.9v2.6M132.7 276.2v3.5M94.2 273v2.3M126.9 267.7v3.9M150.9 271.1v2M86.1 276.8v2.8M173.2 257.3v1.8M190.2 249.9v2.6M212.4 245.6v3.9M129.4 274.3v1.3M103 268.8v3.2M58.3 253.9v2M120.1 287.3v3.1M88.8 259.6v3.5M189.9 246.6v1.6M169.2 266.6v2.1M200.9 255.3v3.9M41.4 250.2v3.9M176.1 257.2v2.2M205.8 261.7v3M124.4 284.8v2.9M147.4 275.8v3.1M161.6 274.5v2.2M111.4 283.3v2.9M162.3 276.6v3.8M200.6 254.1v2.7M166.7 264.3v3.3M81.7 263.7v1.9M97.5 271.8v3.4M43.6 254.4v1.6M65.1 259.9v3.9M107.6 267.6v3.3M115.9 272.2v3M107.3 265.7v1.4M131.7 284.3v2.3M85 263.7v1.6M75.7 266.5v3.6M204.5 246.3v3.5M162.6 275.8v2.2M75.2 255.8v1.2M147.3 270.5v1.3M215.3 255.3v2M203.1 244.1v2.5M60.8 255.1v3.3M213.8 238.2v2M62.6 266.8v3.5M154.6 269v3.6M98.6 265.7v1M123.9 280.6v1.6M191.3 248.3v1M33.4 256.2v3.3M216.6 251.4v2.6M182.2 250.8v1.9M59.7 271.9v3.5M148.5 268.9v2.8M69.1 274.9v3.4M92.6 267.8v3.4M71.9 263.5v2.8M95.3 264.2v2.7M211.8 244.8v1.2M51.9 248.5v1.3M131.1 274.5v2.8M47.4 268.4v2.4M118.1 285v1.2M112.2 283.4v3.7M142.3 277.1v2.1M91 275.4v1.7M137.9 281.1v2.6M111.5 272.7v2.2M71.7 266v2.2M91.5 273.5v2.3M193.7 251.9v1.3M209.9 255v2.1M196 251.1v3.3M94.2 279.5v1M59.4 262.1v2.6M99.6 272.2v3.9M78.1 274.1v1.3" stroke="#50dc28" stroke-width="0.6" fill="none"/>
<path d="M153.1 270.4v3.9M48.3 263.8v3.8M29.9 255.8v3.5M30.8 254.9v3.9M194.4 256.4v1.8M186.7 252.8v4M141.7 283.4v2.2M187.3 258.1v2.1M126.3 269v1.1M52.7 259.2v3.3M210.2 255.6v2.4M51.5 260.4v2.9M197.5 255.6v3.1M79.5 259.3v3.8M187.9 246.9v2.6M201.4 249v2.3M192.9 263.3v3.1M112.8 270.8v3.4M210.2 246v1.6M56.8 257v3M173.7 265.1v3.9M144.9 268.4v2.6M117.8 276.4v2.3M140.3 272.7v2.6M29 253.3v2.2M181.9 252.1v2.4M117.9 274.1v1.6M199.8 262.1v2M34.6 261v1.6M30.4 249.2v2.7M114.3 283.7v2.7M65.8 265.6v3.6M86.6 280.4v1.9M147.6 280.7v1.5M185.9 265.5v1M86.4 274.9v3.6M65.3 258.8v3.2M207.5 252.9v1M28.9 246.7v2.7M62 266.3v3.2M36.7 256.1v3.1M125.3 275v2.9M132.4 275v3.2M104.4 265.6v3M51.4 266.5v3.6M54.7 250.2v3.9M63.2 256.9v1.5M87.4 263.7v2M154.8 264.5v1.8M136.5 266.8v2.1M140.1 263v2.1M89.6 277.5v2.4M74 259.8v1.1M58 262.6v2.5M148.1 281.5v3.8M145.4 264.4v3.8M38.9 257.5v1.6M75.3 262.6v2.9M192.9 249.5v3.7M108.1 281.2v1.4M74.4 274.7v1.6M203.3 243v1.4M164 263v1.9M180.7 265.4v3.3M194.1 246.5v1.1M49 247.1v2.1M172 260.4v2.1M108.9 266.3v3.1M97.6 263.4v2.3M200.5 252v1.3M119.5 271.4v1.7M140.4 276.9v2.3M42.5 263.6v3.4M178.1 260v2.1M114.3 276.7v2.2M160.8 271.8v1.4M140.6 281.4v3.3M111.4 279.4v2.7M217.3 239.9v1.2M104.1 265.1v1.2M100.5 272.6v2.8M86.7 271.9v1.9M142.1 266.1v3M176.4 263.7v2.2M91.2 263.1v1.5M169.1 274.4v2M117.7 273.6v2.1M88.4 272v3.7M215.5 241.1v3.4M141.8 262.8v2.5M172.1 273.1v3.9M58 252.9v2.9M194 264.3v2.3M201.6 260.6v3.4M81.1 259.5v1.2M44 249.1v3.8M165.2 267.6v2.2M177.7 260.8v3.8M144.4 282.6v2.7M126.7 278v2.4M61.7 269.7v2.7M148.4 268.5v2.8M125.1 286.1v2.4M142.9 270.7v2.9M33.6 248.1v2M87.1 275.3v1.5M125.6 284.4v2.5M193.4 258.3v4M156.2 276.2v1.4M111.9 286.3v3.1M28.7 248v2.4M140.1 270.9v3.8M111.6 277.3v1.5M41.8 248.6v2M30.2 254.3v1.8M174.8 270.9v2.6M100.5 272.4v3.7M197.3 251.9v3.6" stroke="#28c850" stroke-width="0.6" fill="none"/>
<path d="M37 252v1.9M196.1 259.6v2.2M93.2 273.7v2.9M98.5 283.9v1.7M161.6 261.9v1.7M165.2 258v1.7M140.6 267v2.1M91.2 276.6v2.2M145.3 269.9v1M122.8 289v1.7M180.6 249.6v3M32.3 247v2.3M113.5 279.5v3.5M76.4 267.2v2.9M205.6 245v1.4M169.4 257.4v2.1M170.6 263.5v2.9M104.8 264.3v4M77.9 259v1.1M36.6 249.4v3.3M140 264.5v2.3M125.4 281v3.3M194.8 261.9v2.4M212.8 254.8v3.1M205.1 250.3v3.4M44.4 247.4v1.5M90.5 263.5v3.9M167.6 269.6v3.4M46.9 258.1v1.9M179.8 253.8v1.1M78 270.4v3.3M49.2 259.3v2.9M115.5 269.3v3.8M125.4 286.4v3.6M96.1 261.9v3.5M171.5 262.5v2M177.6 271.4v1.4M101.7 266v2.4M102.1 273.4v1.4M54.9 270v3.2M168.5 267.6v1.1M84.5 274.4v1.8M189 250.3v1.5M53.7 259.9v3.8M72.5 262.1v2.3M96.4 270v2.5M182.3 256.8v2.8M85.7 278.5v1.6M202.4 257.9v1.3M214.2 238.5v1.4M33.8 263.5v2.8M90.2 274.4v1.5M60.2 266.3v3.3M74.8 261.1v3M149.7 262.3v1.9M94.7 274.5v3.5M116.4 285.4v1.7M40 254.5v3.1M50 257.7v1.9M217.2 240.6v2.1M36.8 259.2v2.1M114.3 279.2v3.1M81.3 269.8v1.5M171.2 265.2v3.7M139.1 268.2v1.1M66.6 255.8v2M91.2 281.1v1.2M188.2 265.5v2.8M91.5 279.4v2.3M157.6 256.7v2.2M145.1 273.6v3M41.8 247.5v3M88.2 260.3v3.1M41.9 258.6v1.4M31.8 249.2v3.1M100.4 283.1v3M42.4 261.5v1.6M115.5 281.5v2.3M206.5 248v2.9M183.7 255.9v2.9M60.6 269.3v3M133.5 271.3v1.8M205.7 259.4v3.2M172.4 259.1v3.1M105.8 286.2v1.5M144.8 271.9v3.4M83.4 271.7v2.8M171.8 269.7v1.7M75.8 261.8v1.2M51.5 249.1v1.5M193.1 265.9v2.4M166.4 269.3v3.6" stroke="#f0c828" stroke-width="0.6" fill="none"/>
<path d="M148.9 280.3v2.3M147.8 266.6v2.9M182.6 252.8v2M205.9 242.5v1.8M130 266.8v2.2M92.9 274.8v3.9M25 257.8v1.9M156.4 264v1.9M198.7 246.4v3.3M180.6 249.6v2.6M137.2 277.5v3.1M52.1 263.2v1.8M140.5 273.9v2M62.5 255v2.1M188 257.3v1.8M55.5 249.9v2.4M144.4 271.2v1.4M174.9 270.1v2.4M106.8 285v1.9M174.1 254.2v1.6M188.5 246.1v1.8M82.4 266.6v1.1M80.3 259.2v2.9M195.8 249.8v3.9M24.7 254.3v3.2M160.7 273v3.4M78.4 258v3.6M103.9 265.9v3.8M182 249.1v2.4M203.3 244.7v1.5M155.1 263.7v1.4M145.3 270v1.9M198.1 259.5v3M127.5 271.9v3.1M197.8 253.5v3.4M148.8 273.4v1.3M217 243.1v1.7M105.6 286v2M64.7 270.8v2.8M25.1 244.3v2.9M138.8 277.4v2.1M195.6 246.5v2.6M152.4 259.9v1.5M98.6 281.1v3.2M176.4 259.9v3.2M185.5 250.6v1.8M87.4 278.4v1.7M130.5 277v1.7M96.3 264.4v3.1M123.9 280.4v2M61.9 272.2v2.9M116.2 278.8v2.8M78.9 258.7v1.5M79.9 266.9v1.8M45.7 261.3v3.7M158.2 256.5v2.7M104.9 279.7v3.1M186 252.7v3.9M39.2 249.2v1.8M186.8 260.6v2.9M195.4 256.3v1.3M123.3 281.8v2.6M76.8 269v1.8M117.2 285.5v3.3M111.9 278.7v1M136.2 284.2v2.5M61 259.6v2.8M45.1 249.2v1.3M73.1 276.2v2.2M143.6 263.3v1.8M148.8 276.2v3.3M39.6 254.1v1.2M98 270.7v3.4M143.5 261.7v1.7M110.4 270.9v3.7M45.1 262.9v3.3M81 258.9v3.4M120.4 271.5v3M147.2 267.8v1.6M167.3 264.2v2.3M65.4 262.7v2.2M86.6 265.6v1M208.9 253.1v3.2M68.4 264.6v2.2M122.7 272v4M41.4 245.6v2.5M123.5 280.6v3.5M32.1 261.8v3.8M122.9 289.9v2.9M202.1 258.7v3.9M216.9 242.1v3.5M119.5 290.8v1.6M47.1 266.4v3.3M88.9 280.4v2.5M72.5 269.2v3.2" stroke="#c8dc3c" stroke-width="0.6" fill="none"/>
<path d="M97.8 268.4v1.3M65 259.6v1.8M174.8 254.3v3.1M173.4 271.8v2.2M89.5 273.8v2.1M34.9 257.5v3.3M160.8 262v1.6M36.3 249.7v2.2M51.6 256.4v3M77.2 256v3.7M107.9 270.2v2.1M55.6 256.8v3.7M58.2 251v2.6M162.8 267.7v1.3M173.9 264.9v1.2M173.9 272.1v1.9M73.9 275.5v2.1M57.6 254.1v2.4M189.1 258.2v2.6M193.1 265.3v3.4M203.1 246.8v2.1M188 252v3.3M67.1 259.6v2.9M39.3 245v3.7M130.2 287.4v3.5M67.9 263.2v3.2M116.7 270.3v3.5M157.7 267.9v1.7M113.1 273.6v1.3M82.7 261.3v2.7M174.6 255.6v1.9M207.4 248.2v1.8M75.3 276.2v3.1M174.8 252v1.4M199 264.1v1.3M81.7 262.5v2.3M165.4 265.3v1.1M75.3 271.6v1.6M107.2 278.5v3M127.8 284v2.5M52.3 256.1v1.2M131.5 266.9v2.7M86.8 258.8v1.8M138.1 264.1v3.8M206.6 259.2v2.2M119.1 285v3.7M159.2 263.8v2.8M70.1 262.9v3.6M32.7 246.1v2.6M109 277.8v2.8M190.4 260.1v1.4M127 273v2.7M86.5 274.5v1.2M102.6 279.5v2.2M29.1 247.1v1.4M97.6 280v2.4M189.2 258.8v2.7M93.8 271.1v1.9M28.1 244.4v3.6M216.8 250.9v1.1M56.7 258.4v1.2M125.7 283.2v1.6M107.5 269.7v2.7M177.1 252.5v2.3M176.5 270.9v2.4M61.9 268.4v1.2M48.6 258.4v1.9M65.6 259.9v2.1M174 268.4v3M204.8 252.8v3.4M55 259.7v3.4M135.6 276.8v3.4M94.9 272.6v3.6M73.3 273.6v2.5M74.7 274.8v1.3M96.5 265v3.2M180.6 264.3v3.6M191.7 252.5v1.8M162.3 261.2v1.6M94.4 278.9v1.6M204.4 241.8v2M87.1 272.3v3.4M48.8 260.7v1.1M33 250.2v1M116.7 271.9v3.9M166.3 268.5v2.3M164.3 273.9v2.9M212 255.1v3.6M113 283.5v3.1M210.7 256.8v2.7M127.6 272v1.5M124.5 285.1v3.9M85 260.3v3.3M168 268.8v3.3M33 251.5v1.2M205.1 240.9v3.8" stroke="#8cdc28" stroke-width="0.6" fill="none"/>
<line x1="28.8" y1="282.5" x2="120.8" y2="324.5" stroke="#e03030" stroke-width="0.9"/>
<line x1="120.8" y1="324.5" x2="211.5" y2="280.6" stroke="#444" stroke-width="0.7"/>
<line x1="24" y1="208.8" x2="28.3" y2="282.5" stroke="#2a6ae0" stroke-width="0.9"/>
<line x1="28.8" y1="282.5" x2="23.5" y2="208.8" stroke="#2a6ae0" stroke-width="0.9"/>
<line x1="211.5" y1="280.6" x2="218.2" y2="207.2" stroke="#555" stroke-width="0.5"/>
<line x1="23.5" y1="208.8" x2="121.8" y2="193.5" stroke="#888" stroke-width="0.6" stroke-dasharray="1 1"/>
<line x1="121.8" y1="193.5" x2="218.2" y2="207.2" stroke="#888" stroke-width="0.6" stroke-dasharray="1 1"/>
<text x="19.8" y="224.7" font-size="6.3" text-anchor="end" fill="#222">400</text>
<text x="19.8" y="240.4" font-size="6.3" text-anchor="end" fill="#222">300</text>
<text x="19.8" y="256.2" font-size="6.3" text-anchor="end" fill="#222">200</text>
<text x="19.8" y="270.6" font-size="6.3" text-anchor="end" fill="#222">100</text>
<text x="19.8" y="284.8" font-size="6.3" text-anchor="end" fill="#222">0</text>
<text transform="translate(7.4,250) rotate(-90)" font-size="8.4" text-anchor="middle" fill="#222">Z (μm)</text>
<text x="59" y="314.9" font-size="8" text-anchor="middle">X (μm)</text>
<text x="190" y="323.9" font-size="8" text-anchor="middle">Y (μm)</text>
<text x="128.6" y="335.4" font-size="6.3" text-anchor="middle">0</text>
<text x="141" y="328.7" font-size="6.3" text-anchor="middle">100</text>
<text x="152.8" y="322.7" font-size="6.3" text-anchor="middle">200</text>
<text x="164.5" y="316.6" font-size="6.3" text-anchor="middle">300</text>
<text x="174.6" y="310.9" font-size="6.3" text-anchor="middle">400</text>
<text x="184" y="305.9" font-size="6.3" text-anchor="middle">500</text>
<text x="194.8" y="301.5" font-size="6.3" text-anchor="middle">600</text>
<text x="204.8" y="296.5" font-size="6.3" text-anchor="middle">700</text>
<text x="214.9" y="292.4" font-size="6.3" text-anchor="middle">800</text>
<text x="124.3" y="190.7" font-size="6.3" text-anchor="middle" fill="#222">0</text>
<text x="132.7" y="191.5" font-size="6.3" text-anchor="middle" fill="#222">100</text>
<text x="142.7" y="193.2" font-size="6.3" text-anchor="middle" fill="#222">200</text>
<text x="152.8" y="194.4" font-size="6.3" text-anchor="middle" fill="#222">300</text>
<text x="163.7" y="195.4" font-size="6.3" text-anchor="middle" fill="#222">400</text>
<text x="175.5" y="197.4" font-size="6.3" text-anchor="middle" fill="#222">500</text>
<text x="188" y="198.8" font-size="6.3" text-anchor="middle" fill="#222">600</text>
<text x="200.7" y="200.4" font-size="6.3" text-anchor="middle" fill="#222">700</text>
<text x="214.1" y="202.5" font-size="6.3" text-anchor="middle" fill="#222">800</text>
<linearGradient id="cbar" x1="0" x2="1" y1="0" y2="0"><stop offset="0" stop-color="#fa0a00"/><stop offset="0.1" stop-color="#fc8200"/><stop offset="0.2" stop-color="#faf500"/><stop offset="0.4" stop-color="#82fa00"/><stop offset="0.5" stop-color="#0af50a"/><stop offset="0.6" stop-color="#00f58c"/><stop offset="0.8" stop-color="#00f0fa"/><stop offset="0.9" stop-color="#0078fa"/><stop offset="1" stop-color="#0a0af5"/></linearGradient>
<rect x="18.5" y="338.3" width="195.4" height="4.8" fill="url(#cbar)" stroke="none" stroke-width="0"/>
<text x="17.6" y="355.8" font-size="7.7" text-anchor="middle" fill="#333">0.00</text>
<text x="67" y="355.8" font-size="7.7" text-anchor="middle" fill="#333">120.71</text>
<text x="116" y="355.8" font-size="7.7" text-anchor="middle" fill="#333">241.42</text>
<text x="165" y="355.8" font-size="7.7" text-anchor="middle" fill="#333">362.14</text>
<text x="193.5" y="355.8" font-size="7.7" fill="#333">482.85 μm</text>
<line x1="18" y1="342.6" x2="18" y2="345.2" stroke="#444" stroke-width="0.7"/>
<line x1="67.1" y1="342.6" x2="67.1" y2="345.2" stroke="#444" stroke-width="0.7"/>
<line x1="115.6" y1="342.6" x2="115.6" y2="345.2" stroke="#444" stroke-width="0.7"/>
<line x1="164.6" y1="342.6" x2="164.6" y2="345.2" stroke="#444" stroke-width="0.7"/>
<line x1="213.6" y1="342.6" x2="213.6" y2="345.2" stroke="#444" stroke-width="0.7"/>
<text x="0.6" y="199.7" font-size="23.5" font-weight="bold">d</text></g>
<g id="pe"><path d="M304 256.6L304.5 256.6L305 256.6L305.5 256.6L306 256.6L306.5 256.6L307 256.6L307.5 256.6L308 256.6L308.5 256.6L309 256.6L309.5 256.6L310 256.6L310.5 256.6L311 256.6L311.5 256.6L312 256.6L312.5 256.5L313 256.5L313.5 256.5L314 256.5L314.5 256.5L315 256.4L315.5 256.4L316 256.4L316.5 256.3L317 256.3L317.5 256.2L318 256.1L318.5 256L319 255.9L319.5 255.8L320 255.7L320.5 255.5L321 255.4L321.5 255.2L322 255L322.5 254.8L323 254.5L323.5 254.2L324 254L324.5 253.6L325 253.3L325.5 253L326 252.6L326.5 252.2L327 251.9L327.5 251.5L328 251.1L328.5 250.7L329 250.3L329.5 249.9L330 249.5L330.5 249.2L331 248.9L331.5 248.6L332 248.3L332.5 248.1L333 247.9L333.5 247.7L334 247.6L334.5 247.5L335 247.5L335.5 247.5L336 247.6L336.5 247.7L337 247.9L337.5 248.1L338 248.3L338.5 248.6L339 248.9L339.5 249.2L340 249.5L340.5 249.9L341 250.3L341.5 250.7L342 251.1L342.5 251.5L343 251.9L343.5 252.2L344 252.6L344.5 253L345 253.3L345.5 253.6L346 254L346.5 254.2L347 254.5L347.5 254.8L348 255L348.5 255.2L349 255.4L349.5 255.5L350 255.7L350.5 255.8L351 255.9L351.5 256L352 256.1L352.5 256.2L353 256.3L353.5 256.3L354 256.4L354.5 256.4L355 256.4L355.5 256.5L356 256.5L356.5 256.5L357 256.5L357.5 256.5L358 256.6L358.5 256.6L359 256.6L359.5 256.6L360 256.6L360.5 256.6L361 256.6L361.5 256.6L362 256.6L362.5 256.6L363 256.6L363.5 256.6L364 256.6L364.5 256.6L365 256.6L365.5 256.6L366 256.6L366 256.6L304 256.6Z" fill="url(#ega8a8a8)" fill-opacity="0.85"/>
<path d="M304 256.6L304.5 256.6L305 256.6L305.5 256.6L306 256.6L306.5 256.6L307 256.6L307.5 256.6L308 256.6L308.5 256.6L309 256.6L309.5 256.6L310 256.6L310.5 256.6L311 256.6L311.5 256.6L312 256.6L312.5 256.5L313 256.5L313.5 256.5L314 256.5L314.5 256.5L315 256.4L315.5 256.4L316 256.4L316.5 256.3L317 256.3L317.5 256.2L318 256.1L318.5 256L319 255.9L319.5 255.8L320 255.7L320.5 255.5L321 255.4L321.5 255.2L322 255L322.5 254.8L323 254.5L323.5 254.2L324 254L324.5 253.6L325 253.3L325.5 253L326 252.6L326.5 252.2L327 251.9L327.5 251.5L328 251.1L328.5 250.7L329 250.3L329.5 249.9L330 249.5L330.5 249.2L331 248.9L331.5 248.6L332 248.3L332.5 248.1L333 247.9L333.5 247.7L334 247.6L334.5 247.5L335 247.5L335.5 247.5L336 247.6L336.5 247.7L337 247.9L337.5 248.1L338 248.3L338.5 248.6L339 248.9L339.5 249.2L340 249.5L340.5 249.9L341 250.3L341.5 250.7L342 251.1L342.5 251.5L343 251.9L343.5 252.2L344 252.6L344.5 253L345 253.3L345.5 253.6L346 254L346.5 254.2L347 254.5L347.5 254.8L348 255L348.5 255.2L349 255.4L349.5 255.5L350 255.7L350.5 255.8L351 255.9L351.5 256L352 256.1L352.5 256.2L353 256.3L353.5 256.3L354 256.4L354.5 256.4L355 256.4L355.5 256.5L356 256.5L356.5 256.5L357 256.5L357.5 256.5L358 256.6L358.5 256.6L359 256.6L359.5 256.6L360 256.6L360.5 256.6L361 256.6L361.5 256.6L362 256.6L362.5 256.6L363 256.6L363.5 256.6L364 256.6L364.5 256.6L365 256.6L365.5 256.6L366 256.6" fill="none" stroke="#6e6e6e" stroke-width="0.8"/>
<path d="M319 256.6L319.5 256.6L320 256.6L320.5 256.6L321 256.6L321.5 256.6L322 256.6L322.5 256.6L323 256.6L323.5 256.6L324 256.6L324.5 256.6L325 256.6L325.5 256.6L326 256.6L326.5 256.6L327 256.6L327.5 256.6L328 256.6L328.5 256.6L329 256.6L329.5 256.6L330 256.6L330.5 256.6L331 256.5L331.5 256.5L332 256.5L332.5 256.5L333 256.5L333.5 256.5L334 256.5L334.5 256.4L335 256.4L335.5 256.4L336 256.3L336.5 256.3L337 256.3L337.5 256.2L338 256.2L338.5 256.1L339 256L339.5 256L340 255.9L340.5 255.8L341 255.7L341.5 255.6L342 255.5L342.5 255.3L343 255.2L343.5 255.1L344 254.9L344.5 254.7L345 254.6L345.5 254.4L346 254.2L346.5 254L347 253.8L347.5 253.5L348 253.3L348.5 253.1L349 252.8L349.5 252.6L350 252.3L350.5 252.1L351 251.8L351.5 251.5L352 251.3L352.5 251L353 250.8L353.5 250.5L354 250.3L354.5 250.1L355 249.8L355.5 249.6L356 249.4L356.5 249.3L357 249.1L357.5 249L358 248.9L358.5 248.8L359 248.7L359.5 248.6L360 248.6L360.5 248.6L361 248.6L361.5 248.7L362 248.7L362.5 248.8L363 248.9L363.5 249L364 249.2L364.5 249.3L365 249.5L365.5 249.7L366 249.9L366.5 250.1L367 250.4L367.5 250.6L368 250.9L368.5 251.1L369 251.4L369.5 251.6L370 251.9L370.5 252.2L371 252.4L371.5 252.7L372 252.9L372.5 253.2L373 253.4L373.5 253.6L374 253.9L374.5 254.1L375 254.3L375.5 254.5L376 254.6L376.5 254.8L377 255L377.5 255.1L378 255.3L378.5 255.4L379 255.5L379.5 255.6L380 255.7L380.5 255.8L381 255.9L381.5 256L382 256.1L382.5 256.1L383 256.2L383.5 256.2L384 256.3L384.5 256.3L385 256.4L385.5 256.4L386 256.4L386.5 256.4L387 256.5L387.5 256.5L388 256.5L388.5 256.5L389 256.5L389.5 256.5L390 256.5L390.5 256.6L391 256.6L391.5 256.6L392 256.6L392.5 256.6L393 256.6L393.5 256.6L394 256.6L394.5 256.6L395 256.6L395.5 256.6L396 256.6L396.5 256.6L397 256.6L397.5 256.6L398 256.6L398.5 256.6L399 256.6L399.5 256.6L400 256.6L400.5 256.6L401 256.6L401.5 256.6L402 256.6L402 256.6L319 256.6Z" fill="url(#ega9c4e2)" fill-opacity="0.85"/>
<path d="M319 256.6L319.5 256.6L320 256.6L320.5 256.6L321 256.6L321.5 256.6L322 256.6L322.5 256.6L323 256.6L323.5 256.6L324 256.6L324.5 256.6L325 256.6L325.5 256.6L326 256.6L326.5 256.6L327 256.6L327.5 256.6L328 256.6L328.5 256.6L329 256.6L329.5 256.6L330 256.6L330.5 256.6L331 256.5L331.5 256.5L332 256.5L332.5 256.5L333 256.5L333.5 256.5L334 256.5L334.5 256.4L335 256.4L335.5 256.4L336 256.3L336.5 256.3L337 256.3L337.5 256.2L338 256.2L338.5 256.1L339 256L339.5 256L340 255.9L340.5 255.8L341 255.7L341.5 255.6L342 255.5L342.5 255.3L343 255.2L343.5 255.1L344 254.9L344.5 254.7L345 254.6L345.5 254.4L346 254.2L346.5 254L347 253.8L347.5 253.5L348 253.3L348.5 253.1L349 252.8L349.5 252.6L350 252.3L350.5 252.1L351 251.8L351.5 251.5L352 251.3L352.5 251L353 250.8L353.5 250.5L354 250.3L354.5 250.1L355 249.8L355.5 249.6L356 249.4L356.5 249.3L357 249.1L357.5 249L358 248.9L358.5 248.8L359 248.7L359.5 248.6L360 248.6L360.5 248.6L361 248.6L361.5 248.7L362 248.7L362.5 248.8L363 248.9L363.5 249L364 249.2L364.5 249.3L365 249.5L365.5 249.7L366 249.9L366.5 250.1L367 250.4L367.5 250.6L368 250.9L368.5 251.1L369 251.4L369.5 251.6L370 251.9L370.5 252.2L371 252.4L371.5 252.7L372 252.9L372.5 253.2L373 253.4L373.5 253.6L374 253.9L374.5 254.1L375 254.3L375.5 254.5L376 254.6L376.5 254.8L377 255L377.5 255.1L378 255.3L378.5 255.4L379 255.5L379.5 255.6L380 255.7L380.5 255.8L381 255.9L381.5 256L382 256.1L382.5 256.1L383 256.2L383.5 256.2L384 256.3L384.5 256.3L385 256.4L385.5 256.4L386 256.4L386.5 256.4L387 256.5L387.5 256.5L388 256.5L388.5 256.5L389 256.5L389.5 256.5L390 256.5L390.5 256.6L391 256.6L391.5 256.6L392 256.6L392.5 256.6L393 256.6L393.5 256.6L394 256.6L394.5 256.6L395 256.6L395.5 256.6L396 256.6L396.5 256.6L397 256.6L397.5 256.6L398 256.6L398.5 256.6L399 256.6L399.5 256.6L400 256.6L400.5 256.6L401 256.6L401.5 256.6L402 256.6" fill="none" stroke="#5a8cc0" stroke-width="0.8"/>
<path d="M338.5 256.6L339 256.6L339.5 256.6L340 256.6L340.5 256.6L341 256.6L341.5 256.6L342 256.6L342.5 256.6L343 256.6L343.5 256.6L344 256.6L344.5 256.6L345 256.6L345.5 256.6L346 256.6L346.5 256.6L347 256.6L347.5 256.6L348 256.6L348.5 256.6L349 256.6L349.5 256.6L350 256.6L350.5 256.6L351 256.6L351.5 256.6L352 256.6L352.5 256.6L353 256.6L353.5 256.6L354 256.6L354.5 256.6L355 256.6L355.5 256.6L356 256.6L356.5 256.5L357 256.5L357.5 256.5L358 256.4L358.5 256.4L359 256.3L359.5 256.3L360 256.2L360.5 256L361 255.9L361.5 255.7L362 255.5L362.5 255.2L363 254.9L363.5 254.6L364 254.1L364.5 253.6L365 253.1L365.5 252.4L366 251.7L366.5 250.8L367 249.9L367.5 248.9L368 247.8L368.5 246.6L369 245.3L369.5 244L370 242.6L370.5 241.1L371 239.7L371.5 238.2L372 236.7L372.5 235.3L373 233.9L373.5 232.6L374 231.4L374.5 230.4L375 229.5L375.5 228.7L376 228.2L376.5 227.8L377 227.7L377.5 227.7L378 227.9L378.5 228.1L379 228.4L379.5 228.8L380 229.3L380.5 229.9L381 230.5L381.5 231.2L382 232L382.5 232.9L383 233.8L383.5 234.7L384 235.7L384.5 236.6L385 237.6L385.5 238.7L386 239.7L386.5 240.7L387 241.7L387.5 242.7L388 243.7L388.5 244.6L389 245.5L389.5 246.4L390 247.2L390.5 248L391 248.8L391.5 249.5L392 250.2L392.5 250.8L393 251.4L393.5 251.9L394 252.4L394.5 252.9L395 253.3L395.5 253.7L396 254L396.5 254.3L397 254.6L397.5 254.9L398 255.1L398.5 255.3L399 255.5L399.5 255.6L400 255.8L400.5 255.9L401 256L401.5 256.1L402 256.2L402.5 256.2L403 256.3L403.5 256.3L404 256.4L404.5 256.4L405 256.5L405.5 256.5L406 256.5L406.5 256.5L407 256.5L407.5 256.5L408 256.6L408.5 256.6L409 256.6L409.5 256.6L410 256.6L410.5 256.6L411 256.6L411.5 256.6L412 256.6L412.5 256.6L413 256.6L413.5 256.6L414 256.6L414.5 256.6L415 256.6L415.5 256.6L415.5 256.6L338.5 256.6Z" fill="url(#ege7a3a6)" fill-opacity="0.85"/>
<path d="M338.5 256.6L339 256.6L339.5 256.6L340 256.6L340.5 256.6L341 256.6L341.5 256.6L342 256.6L342.5 256.6L343 256.6L343.5 256.6L344 256.6L344.5 256.6L345 256.6L345.5 256.6L346 256.6L346.5 256.6L347 256.6L347.5 256.6L348 256.6L348.5 256.6L349 256.6L349.5 256.6L350 256.6L350.5 256.6L351 256.6L351.5 256.6L352 256.6L352.5 256.6L353 256.6L353.5 256.6L354 256.6L354.5 256.6L355 256.6L355.5 256.6L356 256.6L356.5 256.5L357 256.5L357.5 256.5L358 256.4L358.5 256.4L359 256.3L359.5 256.3L360 256.2L360.5 256L361 255.9L361.5 255.7L362 255.5L362.5 255.2L363 254.9L363.5 254.6L364 254.1L364.5 253.6L365 253.1L365.5 252.4L366 251.7L366.5 250.8L367 249.9L367.5 248.9L368 247.8L368.5 246.6L369 245.3L369.5 244L370 242.6L370.5 241.1L371 239.7L371.5 238.2L372 236.7L372.5 235.3L373 233.9L373.5 232.6L374 231.4L374.5 230.4L375 229.5L375.5 228.7L376 228.2L376.5 227.8L377 227.7L377.5 227.7L378 227.9L378.5 228.1L379 228.4L379.5 228.8L380 229.3L380.5 229.9L381 230.5L381.5 231.2L382 232L382.5 232.9L383 233.8L383.5 234.7L384 235.7L384.5 236.6L385 237.6L385.5 238.7L386 239.7L386.5 240.7L387 241.7L387.5 242.7L388 243.7L388.5 244.6L389 245.5L389.5 246.4L390 247.2L390.5 248L391 248.8L391.5 249.5L392 250.2L392.5 250.8L393 251.4L393.5 251.9L394 252.4L394.5 252.9L395 253.3L395.5 253.7L396 254L396.5 254.3L397 254.6L397.5 254.9L398 255.1L398.5 255.3L399 255.5L399.5 255.6L400 255.8L400.5 255.9L401 256L401.5 256.1L402 256.2L402.5 256.2L403 256.3L403.5 256.3L404 256.4L404.5 256.4L405 256.5L405.5 256.5L406 256.5L406.5 256.5L407 256.5L407.5 256.5L408 256.6L408.5 256.6L409 256.6L409.5 256.6L410 256.6L410.5 256.6L411 256.6L411.5 256.6L412 256.6L412.5 256.6L413 256.6L413.5 256.6L414 256.6L414.5 256.6L415 256.6L415.5 256.6" fill="none" stroke="#c0474c" stroke-width="0.8"/>
<line x1="261" y1="256.6" x2="433.2" y2="256.6" stroke="#5b78b0" stroke-width="0.9"/>
<path d="M316.5 256.3L317 256.3L317.5 256.2L318 256.1L318.5 256L319 255.9L319.5 255.8L320 255.7L320.5 255.5L321 255.4L321.5 255.2L322 255L322.5 254.8L323 254.5L323.5 254.2L324 253.9L324.5 253.6L325 253.3L325.5 253L326 252.6L326.5 252.2L327 251.9L327.5 251.5L328 251.1L328.5 250.7L329 250.3L329.5 249.9L330 249.5L330.5 249.2L331 248.8L331.5 248.5L332 248.2L332.5 248L333 247.8L333.5 247.6L334 247.5L334.5 247.4L335 247.3L335.5 247.3L336 247.3L336.5 247.4L337 247.5L337.5 247.7L338 247.9L338.5 248.1L339 248.3L339.5 248.6L340 248.8L340.5 249.1L341 249.4L341.5 249.7L342 250L342.5 250.2L343 250.5L343.5 250.7L344 250.9L344.5 251.1L345 251.3L345.5 251.4L346 251.5L346.5 251.6L347 251.7L347.5 251.7L348 251.7L348.5 251.7L349 251.6L349.5 251.5L350 251.4L350.5 251.3L351 251.1L351.5 251L352 250.8L352.5 250.6L353 250.4L353.5 250.2L354 250L354.5 249.9L355 249.7L355.5 249.5L356 249.3L356.5 249.1L357 249L357.5 248.8L358 248.7L358.5 248.5L359 248.4L359.5 248.3L360 248.2L360.5 248L361 247.9L361.5 247.8L362 247.6L362.5 247.4L363 247.2L363.5 247L364 246.7L364.5 246.4L365 246L365.5 245.5L366 245L366.5 244.4L367 243.7L367.5 242.9L368 242.1L368.5 241.1L369 240.1L369.5 239L370 237.9L370.5 236.7L371 235.5L371.5 234.3L372 233L372.5 231.8L373 230.7L373.5 229.6L374 228.7L374.5 227.8L375 227.1L375.5 226.6L376 226.2L376.5 226.1L377 226.1L377.5 226.3L378 226.5L378.5 226.9L379 227.3L379.5 227.8L380 228.4L380.5 229.1L381 229.8L381.5 230.6L382 231.5L382.5 232.4L383 233.3L383.5 234.3L384 235.3L384.5 236.4L385 237.4L385.5 238.5L386 239.5L386.5 240.5L387 241.6L387.5 242.6L388 243.6L388.5 244.5L389 245.4L389.5 246.3L390 247.2L390.5 248L391 248.7L391.5 249.5L392 250.1L392.5 250.8L393 251.4L393.5 251.9L394 252.4L394.5 252.9L395 253.3L395.5 253.7L396 254L396.5 254.3L397 254.6L397.5 254.9L398 255.1L398.5 255.3L399 255.5L399.5 255.6L400 255.8L400.5 255.9L401 256L401.5 256.1L402 256.2L402.5 256.2L403 256.3L403.5 256.3" fill="none" stroke="#111" stroke-width="1.1"/>
<path d="M298.5 325.9L299 325.9L299.5 325.9L300 325.9L300.5 325.9L301 325.9L301.5 325.9L302 325.9L302.5 325.9L303 325.9L303.5 325.9L304 325.9L304.5 325.9L305 325.9L305.5 325.9L306 325.9L306.5 325.9L307 325.8L307.5 325.8L308 325.8L308.5 325.8L309 325.7L309.5 325.7L310 325.7L310.5 325.6L311 325.5L311.5 325.4L312 325.3L312.5 325.2L313 325.1L313.5 325L314 324.8L314.5 324.6L315 324.4L315.5 324.2L316 323.9L316.5 323.7L317 323.4L317.5 323.1L318 322.8L318.5 322.4L319 322.1L319.5 321.8L320 321.4L320.5 321.1L321 320.8L321.5 320.5L322 320.2L322.5 319.9L323 319.7L323.5 319.5L324 319.4L324.5 319.3L325 319.2L325.5 319.2L326 319.2L326.5 319.3L327 319.4L327.5 319.6L328 319.8L328.5 320L329 320.3L329.5 320.6L330 320.9L330.5 321.2L331 321.6L331.5 321.9L332 322.2L332.5 322.6L333 322.9L333.5 323.2L334 323.5L334.5 323.8L335 324L335.5 324.3L336 324.5L336.5 324.7L337 324.9L337.5 325L338 325.2L338.5 325.3L339 325.4L339.5 325.5L340 325.6L340.5 325.6L341 325.7L341.5 325.7L342 325.8L342.5 325.8L343 325.8L343.5 325.8L344 325.8L344.5 325.9L345 325.9L345.5 325.9L346 325.9L346.5 325.9L347 325.9L347.5 325.9L348 325.9L348.5 325.9L349 325.9L349.5 325.9L350 325.9L350.5 325.9L351 325.9L351.5 325.9L352 325.9L352 325.9L298.5 325.9Z" fill="url(#ega8a8a8)" fill-opacity="0.85"/>
<path d="M298.5 325.9L299 325.9L299.5 325.9L300 325.9L300.5 325.9L301 325.9L301.5 325.9L302 325.9L302.5 325.9L303 325.9L303.5 325.9L304 325.9L304.5 325.9L305 325.9L305.5 325.9L306 325.9L306.5 325.9L307 325.8L307.5 325.8L308 325.8L308.5 325.8L309 325.7L309.5 325.7L310 325.7L310.5 325.6L311 325.5L311.5 325.4L312 325.3L312.5 325.2L313 325.1L313.5 325L314 324.8L314.5 324.6L315 324.4L315.5 324.2L316 323.9L316.5 323.7L317 323.4L317.5 323.1L318 322.8L318.5 322.4L319 322.1L319.5 321.8L320 321.4L320.5 321.1L321 320.8L321.5 320.5L322 320.2L322.5 319.9L323 319.7L323.5 319.5L324 319.4L324.5 319.3L325 319.2L325.5 319.2L326 319.2L326.5 319.3L327 319.4L327.5 319.6L328 319.8L328.5 320L329 320.3L329.5 320.6L330 320.9L330.5 321.2L331 321.6L331.5 321.9L332 322.2L332.5 322.6L333 322.9L333.5 323.2L334 323.5L334.5 323.8L335 324L335.5 324.3L336 324.5L336.5 324.7L337 324.9L337.5 325L338 325.2L338.5 325.3L339 325.4L339.5 325.5L340 325.6L340.5 325.6L341 325.7L341.5 325.7L342 325.8L342.5 325.8L343 325.8L343.5 325.8L344 325.8L344.5 325.9L345 325.9L345.5 325.9L346 325.9L346.5 325.9L347 325.9L347.5 325.9L348 325.9L348.5 325.9L349 325.9L349.5 325.9L350 325.9L350.5 325.9L351 325.9L351.5 325.9L352 325.9" fill="none" stroke="#6e6e6e" stroke-width="0.8"/>
<path d="M303.5 325.9L304 325.9L304.5 325.9L305 325.9L305.5 325.9L306 325.9L306.5 325.9L307 325.9L307.5 325.9L308 325.9L308.5 325.9L309 325.9L309.5 325.9L310 325.9L310.5 325.9L311 325.9L311.5 325.9L312 325.9L312.5 325.9L313 325.9L313.5 325.9L314 325.9L314.5 325.9L315 325.9L315.5 325.9L316 325.9L316.5 325.9L317 325.9L317.5 325.9L318 325.9L318.5 325.8L319 325.8L319.5 325.8L320 325.8L320.5 325.8L321 325.8L321.5 325.8L322 325.8L322.5 325.7L323 325.7L323.5 325.7L324 325.7L324.5 325.6L325 325.6L325.5 325.6L326 325.5L326.5 325.5L327 325.4L327.5 325.4L328 325.3L328.5 325.3L329 325.2L329.5 325.2L330 325.1L330.5 325L331 325L331.5 324.9L332 324.8L332.5 324.7L333 324.6L333.5 324.5L334 324.5L334.5 324.4L335 324.3L335.5 324.2L336 324.1L336.5 324L337 323.9L337.5 323.9L338 323.8L338.5 323.7L339 323.6L339.5 323.6L340 323.5L340.5 323.5L341 323.4L341.5 323.4L342 323.4L342.5 323.3L343 323.3L343.5 323.3L344 323.3L344.5 323.3L345 323.3L345.5 323.3L346 323.4L346.5 323.4L347 323.5L347.5 323.5L348 323.6L348.5 323.6L349 323.7L349.5 323.8L350 323.8L350.5 323.9L351 324L351.5 324.1L352 324.2L352.5 324.3L353 324.4L353.5 324.4L354 324.5L354.5 324.6L355 324.7L355.5 324.8L356 324.9L356.5 324.9L357 325L357.5 325.1L358 325.2L358.5 325.2L359 325.3L359.5 325.3L360 325.4L360.5 325.4L361 325.5L361.5 325.5L362 325.6L362.5 325.6L363 325.6L363.5 325.7L364 325.7L364.5 325.7L365 325.7L365.5 325.8L366 325.8L366.5 325.8L367 325.8L367.5 325.8L368 325.8L368.5 325.8L369 325.8L369.5 325.9L370 325.9L370.5 325.9L371 325.9L371.5 325.9L372 325.9L372.5 325.9L373 325.9L373.5 325.9L374 325.9L374.5 325.9L375 325.9L375.5 325.9L376 325.9L376.5 325.9L377 325.9L377.5 325.9L378 325.9L378.5 325.9L379 325.9L379.5 325.9L380 325.9L380.5 325.9L381 325.9L381.5 325.9L382 325.9L382.5 325.9L383 325.9L383.5 325.9L384 325.9L384 325.9L303.5 325.9Z" fill="url(#egb4b4dc)" fill-opacity="0.85"/>
<path d="M303.5 325.9L304 325.9L304.5 325.9L305 325.9L305.5 325.9L306 325.9L306.5 325.9L307 325.9L307.5 325.9L308 325.9L308.5 325.9L309 325.9L309.5 325.9L310 325.9L310.5 325.9L311 325.9L311.5 325.9L312 325.9L312.5 325.9L313 325.9L313.5 325.9L314 325.9L314.5 325.9L315 325.9L315.5 325.9L316 325.9L316.5 325.9L317 325.9L317.5 325.9L318 325.9L318.5 325.8L319 325.8L319.5 325.8L320 325.8L320.5 325.8L321 325.8L321.5 325.8L322 325.8L322.5 325.7L323 325.7L323.5 325.7L324 325.7L324.5 325.6L325 325.6L325.5 325.6L326 325.5L326.5 325.5L327 325.4L327.5 325.4L328 325.3L328.5 325.3L329 325.2L329.5 325.2L330 325.1L330.5 325L331 325L331.5 324.9L332 324.8L332.5 324.7L333 324.6L333.5 324.5L334 324.5L334.5 324.4L335 324.3L335.5 324.2L336 324.1L336.5 324L337 323.9L337.5 323.9L338 323.8L338.5 323.7L339 323.6L339.5 323.6L340 323.5L340.5 323.5L341 323.4L341.5 323.4L342 323.4L342.5 323.3L343 323.3L343.5 323.3L344 323.3L344.5 323.3L345 323.3L345.5 323.3L346 323.4L346.5 323.4L347 323.5L347.5 323.5L348 323.6L348.5 323.6L349 323.7L349.5 323.8L350 323.8L350.5 323.9L351 324L351.5 324.1L352 324.2L352.5 324.3L353 324.4L353.5 324.4L354 324.5L354.5 324.6L355 324.7L355.5 324.8L356 324.9L356.5 324.9L357 325L357.5 325.1L358 325.2L358.5 325.2L359 325.3L359.5 325.3L360 325.4L360.5 325.4L361 325.5L361.5 325.5L362 325.6L362.5 325.6L363 325.6L363.5 325.7L364 325.7L364.5 325.7L365 325.7L365.5 325.8L366 325.8L366.5 325.8L367 325.8L367.5 325.8L368 325.8L368.5 325.8L369 325.8L369.5 325.9L370 325.9L370.5 325.9L371 325.9L371.5 325.9L372 325.9L372.5 325.9L373 325.9L373.5 325.9L374 325.9L374.5 325.9L375 325.9L375.5 325.9L376 325.9L376.5 325.9L377 325.9L377.5 325.9L378 325.9L378.5 325.9L379 325.9L379.5 325.9L380 325.9L380.5 325.9L381 325.9L381.5 325.9L382 325.9L382.5 325.9L383 325.9L383.5 325.9L384 325.9" fill="none" stroke="#6b6bb5" stroke-width="0.8"/>
<path d="M318.5 325.9L319 325.9L319.5 325.9L320 325.9L320.5 325.9L321 325.9L321.5 325.9L322 325.9L322.5 325.9L323 325.9L323.5 325.9L324 325.9L324.5 325.9L325 325.9L325.5 325.9L326 325.9L326.5 325.9L327 325.9L327.5 325.9L328 325.9L328.5 325.8L329 325.8L329.5 325.8L330 325.8L330.5 325.8L331 325.8L331.5 325.7L332 325.7L332.5 325.7L333 325.6L333.5 325.6L334 325.5L334.5 325.4L335 325.4L335.5 325.3L336 325.2L336.5 325.1L337 324.9L337.5 324.8L338 324.7L338.5 324.5L339 324.3L339.5 324.1L340 323.9L340.5 323.7L341 323.4L341.5 323.1L342 322.8L342.5 322.5L343 322.2L343.5 321.9L344 321.5L344.5 321.1L345 320.7L345.5 320.3L346 319.9L346.5 319.5L347 319.1L347.5 318.7L348 318.3L348.5 317.9L349 317.5L349.5 317.1L350 316.7L350.5 316.4L351 316.1L351.5 315.8L352 315.5L352.5 315.3L353 315.1L353.5 314.9L354 314.8L354.5 314.7L355 314.7L355.5 314.7L356 314.8L356.5 314.8L357 315L357.5 315.1L358 315.3L358.5 315.6L359 315.8L359.5 316.1L360 316.5L360.5 316.8L361 317.2L361.5 317.6L362 318L362.5 318.4L363 318.8L363.5 319.2L364 319.6L364.5 320L365 320.4L365.5 320.8L366 321.2L366.5 321.6L367 321.9L367.5 322.3L368 322.6L368.5 322.9L369 323.2L369.5 323.5L370 323.7L370.5 323.9L371 324.2L371.5 324.3L372 324.5L372.5 324.7L373 324.8L373.5 325L374 325.1L374.5 325.2L375 325.3L375.5 325.4L376 325.5L376.5 325.5L377 325.6L377.5 325.6L378 325.7L378.5 325.7L379 325.7L379.5 325.8L380 325.8L380.5 325.8L381 325.8L381.5 325.8L382 325.8L382.5 325.9L383 325.9L383.5 325.9L384 325.9L384.5 325.9L385 325.9L385.5 325.9L386 325.9L386.5 325.9L387 325.9L387.5 325.9L388 325.9L388.5 325.9L389 325.9L389.5 325.9L390 325.9L390.5 325.9L391 325.9L391.5 325.9L392 325.9L392 325.9L318.5 325.9Z" fill="url(#egf3d28e)" fill-opacity="0.85"/>
<path d="M318.5 325.9L319 325.9L319.5 325.9L320 325.9L320.5 325.9L321 325.9L321.5 325.9L322 325.9L322.5 325.9L323 325.9L323.5 325.9L324 325.9L324.5 325.9L325 325.9L325.5 325.9L326 325.9L326.5 325.9L327 325.9L327.5 325.9L328 325.9L328.5 325.8L329 325.8L329.5 325.8L330 325.8L330.5 325.8L331 325.8L331.5 325.7L332 325.7L332.5 325.7L333 325.6L333.5 325.6L334 325.5L334.5 325.4L335 325.4L335.5 325.3L336 325.2L336.5 325.1L337 324.9L337.5 324.8L338 324.7L338.5 324.5L339 324.3L339.5 324.1L340 323.9L340.5 323.7L341 323.4L341.5 323.1L342 322.8L342.5 322.5L343 322.2L343.5 321.9L344 321.5L344.5 321.1L345 320.7L345.5 320.3L346 319.9L346.5 319.5L347 319.1L347.5 318.7L348 318.3L348.5 317.9L349 317.5L349.5 317.1L350 316.7L350.5 316.4L351 316.1L351.5 315.8L352 315.5L352.5 315.3L353 315.1L353.5 314.9L354 314.8L354.5 314.7L355 314.7L355.5 314.7L356 314.8L356.5 314.8L357 315L357.5 315.1L358 315.3L358.5 315.6L359 315.8L359.5 316.1L360 316.5L360.5 316.8L361 317.2L361.5 317.6L362 318L362.5 318.4L363 318.8L363.5 319.2L364 319.6L364.5 320L365 320.4L365.5 320.8L366 321.2L366.5 321.6L367 321.9L367.5 322.3L368 322.6L368.5 322.9L369 323.2L369.5 323.5L370 323.7L370.5 323.9L371 324.2L371.5 324.3L372 324.5L372.5 324.7L373 324.8L373.5 325L374 325.1L374.5 325.2L375 325.3L375.5 325.4L376 325.5L376.5 325.5L377 325.6L377.5 325.6L378 325.7L378.5 325.7L379 325.7L379.5 325.8L380 325.8L380.5 325.8L381 325.8L381.5 325.8L382 325.8L382.5 325.9L383 325.9L383.5 325.9L384 325.9L384.5 325.9L385 325.9L385.5 325.9L386 325.9L386.5 325.9L387 325.9L387.5 325.9L388 325.9L388.5 325.9L389 325.9L389.5 325.9L390 325.9L390.5 325.9L391 325.9L391.5 325.9L392 325.9" fill="none" stroke="#e0a325" stroke-width="0.8"/>
<path d="M331.5 325.9L332 325.9L332.5 325.9L333 325.9L333.5 325.9L334 325.9L334.5 325.9L335 325.9L335.5 325.9L336 325.9L336.5 325.9L337 325.9L337.5 325.9L338 325.9L338.5 325.8L339 325.8L339.5 325.8L340 325.8L340.5 325.8L341 325.7L341.5 325.7L342 325.6L342.5 325.6L343 325.5L343.5 325.4L344 325.3L344.5 325.2L345 325L345.5 324.8L346 324.6L346.5 324.4L347 324.1L347.5 323.8L348 323.5L348.5 323.1L349 322.7L349.5 322.2L350 321.7L350.5 321.1L351 320.5L351.5 319.8L352 319.1L352.5 318.4L353 317.5L353.5 316.7L354 315.8L354.5 314.9L355 313.9L355.5 312.9L356 311.9L356.5 311L357 310L357.5 309L358 308.1L358.5 307.3L359 306.4L359.5 305.7L360 305L360.5 304.4L361 303.9L361.5 303.5L362 303.2L362.5 303L363 302.9L363.5 302.9L364 303.1L364.5 303.3L365 303.7L365.5 304.2L366 304.7L366.5 305.4L367 306.1L367.5 306.9L368 307.8L368.5 308.7L369 309.6L369.5 310.6L370 311.6L370.5 312.5L371 313.5L371.5 314.5L372 315.4L372.5 316.3L373 317.2L373.5 318L374 318.8L374.5 319.6L375 320.3L375.5 320.9L376 321.5L376.5 322L377 322.5L377.5 323L378 323.4L378.5 323.7L379 324L379.5 324.3L380 324.5L380.5 324.8L381 324.9L381.5 325.1L382 325.2L382.5 325.3L383 325.4L383.5 325.5L384 325.6L384.5 325.7L385 325.7L385.5 325.7L386 325.8L386.5 325.8L387 325.8L387.5 325.8L388 325.9L388.5 325.9L389 325.9L389.5 325.9L390 325.9L390.5 325.9L391 325.9L391.5 325.9L392 325.9L392.5 325.9L393 325.9L393.5 325.9L394 325.9L394.5 325.9L395 325.9L395 325.9L331.5 325.9Z" fill="url(#ega9c4e2)" fill-opacity="0.85"/>
<path d="M331.5 325.9L332 325.9L332.5 325.9L333 325.9L333.5 325.9L334 325.9L334.5 325.9L335 325.9L335.5 325.9L336 325.9L336.5 325.9L337 325.9L337.5 325.9L338 325.9L338.5 325.8L339 325.8L339.5 325.8L340 325.8L340.5 325.8L341 325.7L341.5 325.7L342 325.6L342.5 325.6L343 325.5L343.5 325.4L344 325.3L344.5 325.2L345 325L345.5 324.8L346 324.6L346.5 324.4L347 324.1L347.5 323.8L348 323.5L348.5 323.1L349 322.7L349.5 322.2L350 321.7L350.5 321.1L351 320.5L351.5 319.8L352 319.1L352.5 318.4L353 317.5L353.5 316.7L354 315.8L354.5 314.9L355 313.9L355.5 312.9L356 311.9L356.5 311L357 310L357.5 309L358 308.1L358.5 307.3L359 306.4L359.5 305.7L360 305L360.5 304.4L361 303.9L361.5 303.5L362 303.2L362.5 303L363 302.9L363.5 302.9L364 303.1L364.5 303.3L365 303.7L365.5 304.2L366 304.7L366.5 305.4L367 306.1L367.5 306.9L368 307.8L368.5 308.7L369 309.6L369.5 310.6L370 311.6L370.5 312.5L371 313.5L371.5 314.5L372 315.4L372.5 316.3L373 317.2L373.5 318L374 318.8L374.5 319.6L375 320.3L375.5 320.9L376 321.5L376.5 322L377 322.5L377.5 323L378 323.4L378.5 323.7L379 324L379.5 324.3L380 324.5L380.5 324.8L381 324.9L381.5 325.1L382 325.2L382.5 325.3L383 325.4L383.5 325.5L384 325.6L384.5 325.7L385 325.7L385.5 325.7L386 325.8L386.5 325.8L387 325.8L387.5 325.8L388 325.9L388.5 325.9L389 325.9L389.5 325.9L390 325.9L390.5 325.9L391 325.9L391.5 325.9L392 325.9L392.5 325.9L393 325.9L393.5 325.9L394 325.9L394.5 325.9L395 325.9" fill="none" stroke="#5a8cc0" stroke-width="0.8"/>
<path d="M345 325.9L345.5 325.9L346 325.9L346.5 325.9L347 325.9L347.5 325.9L348 325.9L348.5 325.9L349 325.9L349.5 325.9L350 325.9L350.5 325.9L351 325.8L351.5 325.8L352 325.8L352.5 325.8L353 325.8L353.5 325.7L354 325.7L354.5 325.6L355 325.6L355.5 325.5L356 325.4L356.5 325.3L357 325.2L357.5 325.1L358 324.9L358.5 324.7L359 324.5L359.5 324.2L360 323.9L360.5 323.6L361 323.2L361.5 322.7L362 322.2L362.5 321.6L363 321L363.5 320.3L364 319.5L364.5 318.6L365 317.7L365.5 316.7L366 315.5L366.5 314.3L367 313L367.5 311.6L368 310.2L368.5 308.6L369 307L369.5 305.3L370 303.5L370.5 301.7L371 299.9L371.5 298L372 296.1L372.5 294.2L373 292.4L373.5 290.5L374 288.8L374.5 287.1L375 285.5L375.5 283.9L376 282.6L376.5 281.3L377 280.2L377.5 279.3L378 278.5L378.5 278L379 277.6L379.5 277.4L380 277.4L380.5 277.7L381 278.1L381.5 278.7L382 279.5L382.5 280.4L383 281.6L383.5 282.8L384 284.2L384.5 285.8L385 287.4L385.5 289.1L386 290.9L386.5 292.7L387 294.6L387.5 296.5L388 298.4L388.5 300.2L389 302.1L389.5 303.9L390 305.6L390.5 307.3L391 308.9L391.5 310.5L392 311.9L392.5 313.3L393 314.6L393.5 315.8L394 316.9L394.5 317.9L395 318.8L395.5 319.7L396 320.4L396.5 321.1L397 321.8L397.5 322.3L398 322.8L398.5 323.2L399 323.6L399.5 324L400 324.3L400.5 324.5L401 324.7L401.5 324.9L402 325.1L402.5 325.2L403 325.3L403.5 325.4L404 325.5L404.5 325.6L405 325.6L405.5 325.7L406 325.7L406.5 325.8L407 325.8L407.5 325.8L408 325.8L408.5 325.8L409 325.9L409.5 325.9L410 325.9L410.5 325.9L411 325.9L411.5 325.9L412 325.9L412.5 325.9L413 325.9L413.5 325.9L414 325.9L414.5 325.9L414.5 325.9L345 325.9Z" fill="url(#ege7a3a6)" fill-opacity="0.85"/>
<path d="M345 325.9L345.5 325.9L346 325.9L346.5 325.9L347 325.9L347.5 325.9L348 325.9L348.5 325.9L349 325.9L349.5 325.9L350 325.9L350.5 325.9L351 325.8L351.5 325.8L352 325.8L352.5 325.8L353 325.8L353.5 325.7L354 325.7L354.5 325.6L355 325.6L355.5 325.5L356 325.4L356.5 325.3L357 325.2L357.5 325.1L358 324.9L358.5 324.7L359 324.5L359.5 324.2L360 323.9L360.5 323.6L361 323.2L361.5 322.7L362 322.2L362.5 321.6L363 321L363.5 320.3L364 319.5L364.5 318.6L365 317.7L365.5 316.7L366 315.5L366.5 314.3L367 313L367.5 311.6L368 310.2L368.5 308.6L369 307L369.5 305.3L370 303.5L370.5 301.7L371 299.9L371.5 298L372 296.1L372.5 294.2L373 292.4L373.5 290.5L374 288.8L374.5 287.1L375 285.5L375.5 283.9L376 282.6L376.5 281.3L377 280.2L377.5 279.3L378 278.5L378.5 278L379 277.6L379.5 277.4L380 277.4L380.5 277.7L381 278.1L381.5 278.7L382 279.5L382.5 280.4L383 281.6L383.5 282.8L384 284.2L384.5 285.8L385 287.4L385.5 289.1L386 290.9L386.5 292.7L387 294.6L387.5 296.5L388 298.4L388.5 300.2L389 302.1L389.5 303.9L390 305.6L390.5 307.3L391 308.9L391.5 310.5L392 311.9L392.5 313.3L393 314.6L393.5 315.8L394 316.9L394.5 317.9L395 318.8L395.5 319.7L396 320.4L396.5 321.1L397 321.8L397.5 322.3L398 322.8L398.5 323.2L399 323.6L399.5 324L400 324.3L400.5 324.5L401 324.7L401.5 324.9L402 325.1L402.5 325.2L403 325.3L403.5 325.4L404 325.5L404.5 325.6L405 325.6L405.5 325.7L406 325.7L406.5 325.8L407 325.8L407.5 325.8L408 325.8L408.5 325.8L409 325.9L409.5 325.9L410 325.9L410.5 325.9L411 325.9L411.5 325.9L412 325.9L412.5 325.9L413 325.9L413.5 325.9L414 325.9L414.5 325.9" fill="none" stroke="#c0474c" stroke-width="0.8"/>
<line x1="261" y1="325.9" x2="433.2" y2="325.9" stroke="#6a6ab8" stroke-width="0.9"/>
<path d="M310 325.6L310.5 325.6L311 325.5L311.5 325.4L312 325.3L312.5 325.2L313 325.1L313.5 325L314 324.8L314.5 324.6L315 324.4L315.5 324.2L316 323.9L316.5 323.6L317 323.4L317.5 323L318 322.7L318.5 322.4L319 322L319.5 321.7L320 321.4L320.5 321L321 320.7L321.5 320.4L322 320.1L322.5 319.8L323 319.5L323.5 319.3L324 319.1L324.5 319L325 318.9L325.5 318.9L326 318.8L326.5 318.9L327 318.9L327.5 319.1L328 319.2L328.5 319.4L329 319.6L329.5 319.8L330 320L330.5 320.2L331 320.5L331.5 320.7L332 320.9L332.5 321.1L333 321.3L333.5 321.5L334 321.7L334.5 321.8L335 321.9L335.5 321.9L336 322L336.5 322L337 321.9L337.5 321.9L338 321.8L338.5 321.6L339 321.5L339.5 321.3L340 321L340.5 320.8L341 320.5L341.5 320.2L342 319.9L342.5 319.5L343 319.1L343.5 318.7L344 318.2L344.5 317.7L345 317.2L345.5 316.7L346 316.1L346.5 315.5L347 314.9L347.5 314.2L348 313.5L348.5 312.8L349 312.1L349.5 311.3L350 310.5L350.5 309.6L351 308.7L351.5 307.9L352 306.9L352.5 306L353 305.1L353.5 304.1L354 303.1L354.5 302.2L355 301.2L355.5 300.2L356 299.3L356.5 298.4L357 297.5L357.5 296.6L358 295.8L358.5 295L359 294.3L359.5 293.6L360 293L360.5 292.5L361 292L361.5 291.6L362 291.2L362.5 290.9L363 290.6L363.5 290.4L364 290.2L364.5 290L365 289.9L365.5 289.7L366 289.5L366.5 289.4L367 289.2L367.5 288.9L368 288.6L368.5 288.3L369 287.9L369.5 287.5L370 286.9L370.5 286.4L371 285.7L371.5 285L372 284.2L372.5 283.4L373 282.6L373.5 281.7L374 280.9L374.5 280L375 279.2L375.5 278.4L376 277.7L376.5 277.1L377 276.5L377.5 276.1L378 275.8L378.5 275.6L379 275.6L379.5 275.7L380 276L380.5 276.4L381 277L381.5 277.8L382 278.7L382.5 279.8L383 281.1L383.5 282.4L384 283.9L384.5 285.5L385 287.2L385.5 288.9L386 290.8L386.5 292.6L387 294.5L387.5 296.4L388 298.3L388.5 300.2L389 302L389.5 303.8L390 305.6L390.5 307.3L391 308.9L391.5 310.4L392 311.9L392.5 313.3L393 314.6L393.5 315.8L394 316.9L394.5 317.9L395 318.8L395.5 319.7L396 320.4L396.5 321.1L397 321.8L397.5 322.3L398 322.8L398.5 323.2L399 323.6L399.5 324L400 324.3L400.5 324.5L401 324.7L401.5 324.9L402 325.1L402.5 325.2L403 325.3L403.5 325.4L404 325.5L404.5 325.6L405 325.6" fill="none" stroke="#111" stroke-width="1.1"/>
<text x="266.6" y="206.2" font-size="9.2" font-weight="bold">Non-adhesive side</text>
<text x="427.7" y="206.4" font-size="10.5" font-weight="bold" text-anchor="end">C 1<tspan font-style="italic">s</tspan></text>
<text x="268" y="278.1" font-size="9.2" font-weight="bold">Adhesive side</text>
<text x="315" y="244.6" font-size="9.2" text-anchor="middle" fill="#6e6e6e">C=O</text>
<line x1="324.5" y1="245" x2="331.7" y2="249" stroke="#333" stroke-width="0.7"/>
<text x="348.5" y="240.1" font-size="9.2" font-weight="bold" text-anchor="middle" fill="#4f86c0">C-N</text>
<line x1="354.2" y1="241.3" x2="357.2" y2="249.5" stroke="#333" stroke-width="0.7"/>
<text x="395.3" y="229.3" font-size="9.2" font-weight="bold" text-anchor="middle" fill="#c0474c">C-C</text>
<line x1="385.8" y1="229" x2="379.7" y2="233.5" stroke="#333" stroke-width="0.7"/>
<text x="306.3" y="320.4" font-size="9.2" text-anchor="middle" fill="#6e6e6e">C=O</text>
<line x1="316.5" y1="318.5" x2="322" y2="320" stroke="#333" stroke-width="0.7"/>
<text x="329" y="316" font-size="9.2" font-weight="bold" text-anchor="middle" fill="#6b6bb5">C-S</text>
<line x1="335" y1="316" x2="342" y2="322" stroke="#333" stroke-width="0.7"/>
<text x="338.8" y="305" font-size="9.2" font-weight="bold" text-anchor="middle" fill="#e0a325">C-O</text>
<line x1="348" y1="304" x2="352" y2="313" stroke="#333" stroke-width="0.7"/>
<text x="347.5" y="293.1" font-size="9.2" font-weight="bold" text-anchor="middle" fill="#4f86c0">C-N</text>
<line x1="356" y1="292.5" x2="361" y2="301" stroke="#333" stroke-width="0.7"/>
<text x="399.5" y="288.4" font-size="9.2" font-weight="bold" text-anchor="middle" fill="#c0474c">C-C</text>
<line x1="390.5" y1="286" x2="383" y2="289" stroke="#333" stroke-width="0.7"/>
<rect x="260.3" y="193" width="173.6" height="139.3" fill="none" stroke="#000" stroke-width="1.3"/>
<line x1="260.3" y1="261.8" x2="433.9" y2="261.8" stroke="#000" stroke-width="1.3"/>
<line x1="267.2" y1="332.3" x2="267.2" y2="334.9" stroke="#000" stroke-width="1"/>
<line x1="267.2" y1="261.8" x2="267.2" y2="264.4" stroke="#000" stroke-width="1"/>
<line x1="287" y1="332.3" x2="287" y2="333.9" stroke="#000" stroke-width="1"/>
<line x1="287" y1="261.8" x2="287" y2="263.4" stroke="#000" stroke-width="1"/>
<line x1="306.9" y1="332.3" x2="306.9" y2="334.9" stroke="#000" stroke-width="1"/>
<line x1="306.9" y1="261.8" x2="306.9" y2="264.4" stroke="#000" stroke-width="1"/>
<line x1="326.7" y1="332.3" x2="326.7" y2="333.9" stroke="#000" stroke-width="1"/>
<line x1="326.7" y1="261.8" x2="326.7" y2="263.4" stroke="#000" stroke-width="1"/>
<line x1="346.6" y1="332.3" x2="346.6" y2="334.9" stroke="#000" stroke-width="1"/>
<line x1="346.6" y1="261.8" x2="346.6" y2="264.4" stroke="#000" stroke-width="1"/>
<line x1="366.4" y1="332.3" x2="366.4" y2="333.9" stroke="#000" stroke-width="1"/>
<line x1="366.4" y1="261.8" x2="366.4" y2="263.4" stroke="#000" stroke-width="1"/>
<line x1="386.3" y1="332.3" x2="386.3" y2="334.9" stroke="#000" stroke-width="1"/>
<line x1="386.3" y1="261.8" x2="386.3" y2="264.4" stroke="#000" stroke-width="1"/>
<line x1="406.1" y1="332.3" x2="406.1" y2="333.9" stroke="#000" stroke-width="1"/>
<line x1="406.1" y1="261.8" x2="406.1" y2="263.4" stroke="#000" stroke-width="1"/>
<line x1="426" y1="332.3" x2="426" y2="334.9" stroke="#000" stroke-width="1"/>
<line x1="426" y1="261.8" x2="426" y2="264.4" stroke="#000" stroke-width="1"/>
<text x="267.2" y="346.4" font-size="11.8" font-weight="bold" text-anchor="middle">293</text>
<text x="306.9" y="346.4" font-size="11.8" font-weight="bold" text-anchor="middle">290</text>
<text x="346.6" y="346.4" font-size="11.8" font-weight="bold" text-anchor="middle">287</text>
<text x="386.3" y="346.4" font-size="11.8" font-weight="bold" text-anchor="middle">284</text>
<text x="426" y="346.4" font-size="11.8" font-weight="bold" text-anchor="middle">281</text>
<text x="353.2" y="359.8" font-size="11.8" font-weight="bold" text-anchor="middle">Binding Energy (eV)</text>
<text transform="translate(252.5,266) rotate(-90)" font-size="11.8" font-weight="bold" text-anchor="middle">Intensity (a.u.)</text>
<text x="236.3" y="200.3" font-size="24" font-weight="bold">e</text></g>
<g id="pf"><line x1="517.5" y1="215" x2="517.5" y2="283" stroke="#555" stroke-width="1.3" stroke-dasharray="1 1"/>
<line x1="576.5" y1="215" x2="576.5" y2="297" stroke="#555" stroke-width="1.3" stroke-dasharray="1 1"/>
<line x1="592.5" y1="215" x2="592.5" y2="297" stroke="#555" stroke-width="1.3" stroke-dasharray="1 1"/>
<path d="M488.6 217.6L488.9 217.6L489.2 217.6L489.5 217.6L489.8 217.6L490.2 217.6L490.6 217.6L491 217.6L491.4 217.6L491.9 217.6L492.3 217.6L492.8 217.5L493.3 217.5L493.8 217.5L494.4 217.5L494.9 217.5L495.5 217.5L496.1 217.5L496.6 217.5L497.2 217.5L497.8 217.5L498.4 217.5L499 217.4L499.6 217.4L500.3 217.4L500.9 217.4L501.5 217.4L502.1 217.4L502.7 217.4L503.3 217.4L504 217.4L504.6 217.4L505.2 217.4L505.8 217.4L506.3 217.4L506.9 217.4L507.5 217.4L508.1 217.4L508.6 217.4L509.1 217.4L509.6 217.4L510.2 217.4L510.6 217.4L511.1 217.4L511.6 217.5L512 217.5L512.4 217.5L512.8 217.5L513.2 217.5L513.5 217.5L513.8 217.6L514.1 217.6L516.1 218L516.9 218.6L516.9 219.2L516.7 219.9L516.8 220.5L517.4 221.3L518 222L518.5 223L519.1 224.4L519.8 226.2L520.4 228.4L521.1 232.9L521.8 238L522.4 243.8L523 249L523.7 252.6L524.4 254.6L525 254.6L525.6 253.9L526.3 253.2L526.8 252.9L527.3 252.7L527.9 252.4L528.4 252L528.9 251.4L529.5 250.7L530 249.9L530.5 249L531.1 246.9L531.6 244L532.1 240.9L532.6 237.3L533.2 234L533.7 231.9L534.2 229.9L534.8 228.1L535.3 226.5L535.8 225.2L536.3 224.2L536.9 223.3L537.4 222.5L537.9 221.7L538.5 220.9L539 220.3L539.6 219.7L540.2 219.2L540.8 218.9L541.4 218.6L541.9 218.5L542.5 218.6L543 218.9L543.5 219.3L544.1 220L544.6 221L545.3 222.8L546 224.5L546.6 225.5L547.2 225.7L547.8 224.5L548.5 223L549.1 221.9L549.9 221L550.4 220.6L550.9 220.3L551.4 220L552 219.6L552.6 219.1L553.2 218.5L553.8 217.9L554.4 217.6L554.9 217.6L555.5 217.8L556 218.2L556.5 218.5L557.1 218.9L557.7 219.4L558.3 219.8L558.9 220L559.4 219.9L559.9 219.6L560.4 219.2L561 218.8L561.5 218.5L562 218.3L562.6 218L563.2 217.8L563.7 217.7L564.3 217.6L564.8 217.6L565.4 217.7L565.9 217.9L566.5 218.1L567 218.2L567.5 218.3L568 218.4L568.5 218.5L569.1 218.6L569.6 218.8L570.1 219L570.7 219.3L571.3 219.5L571.9 219.9L572.5 220.5L573 221.1L573.5 221.9L574.1 222.7L574.6 223.6L575.2 224.4L575.7 225L576.1 225.3L576.9 224.9L577.5 223.6L578 222.5L578.7 221.7L579.3 221L579.8 220.4L580.4 219.9L581 219.6L581.5 219.7L582 220.1L582.5 220.5L583 220.9L583.5 221.5L584.1 221.9L584.7 222L585.3 221.6L585.9 220.8L586.4 220.1L587 219.6L587.5 219.6L588.1 219.7L588.5 220.1L589 220.5L589.7 221.5L590.4 223L590.9 225L591.4 227.4L591.9 228.4L592.4 227L592.9 224.3L593.4 222L593.9 220.7L594.4 219.8L595 219L595.4 218.5L595.8 218.1L596.3 217.8L597.2 217.6L597.6 217.5L598 217.5L598.4 217.4L598.9 217.4L599.4 217.4L600 217.3L600.5 217.3L601.1 217.3L601.7 217.3L602.3 217.2L602.9 217.2L603.4 217.2L604 217.2L604.5 217.2L605 217.2L605.5 217.2L606.1 217.1L606.6 217.1L607.2 217.1L607.7 217.1L608.3 217.1L608.8 217.1L609.3 217.1L609.9 217.1L610.3 217.1L610.8 217.1L611.2 217.2L611.6 217.2L612.4 217.3L613 217.5L613.5 217.7L614 217.9L614.5 218.2L615 218.5L615.5 218.8L616 219.1L616.5 219.4L617.1 219.7L617.6 220.1L618.1 220.4L618.7 220.8L619.2 221.1L619.7 221.4L620.3 221.7L620.8 222.1L621.3 222.4L621.9 222.7L622.4 223.1L623 223.5L623.5 223.9L624 224.3L624.5 224.7L625 225.1L625.5 225.5L626.1 226L626.6 226.4L627.1 226.9L627.7 227.3L628.2 227.7L628.7 228.1L629.2 228.5L629.8 228.9L630.3 229.3L630.8 229.7L631.4 230.2L631.9 230.6L632.5 231L633 231.5L633.5 232L634.1 232.5L634.6 233.1L635.2 233.6L635.7 234.2L636.3 234.8L636.8 235.3L637.4 235.8L637.9 236.2L638.4 236.5L638.9 236.8L639.5 237L640 237.1L640.5 237.2L641 237.2L641.5 237.2L642 237.2L642.5 237.2L643 237.2L643.6 237.2L644.1 237.2L644.7 237.2L645.3 237.2L645.8 237.1L646.4 237.1L646.9 236.9L647.4 236.8L648 236.6L648.5 236.3L649 236L649.5 235.6L650 235.3L650.5 234.9L651 234.5L651.5 234.1L652 233.8L652.6 233.4L653.1 233.1L653.6 232.6L654.1 232.1L654.6 231.5L655.2 230.6L655.8 229.6L656.3 228.5L656.9 227.4L657.4 226.2L658 225L658.6 223.7L659.2 222.3L659.9 220.9L660.4 219.6L660.9 218.4L661.3 217.6" fill="none" stroke="#4a6894" stroke-width="1.15" stroke-linejoin="round"/>
<path d="M488.6 262.4L488.9 262.4L489.2 262.4L489.5 262.4L489.8 262.4L490.2 262.4L490.6 262.4L491 262.4L491.5 262.4L492 262.4L492.4 262.4L492.9 262.4L493.5 262.3L494 262.3L494.5 262.3L495.1 262.3L495.7 262.3L496.3 262.3L496.9 262.3L497.5 262.3L498.1 262.3L498.7 262.3L499.3 262.3L499.9 262.3L500.6 262.2L501.2 262.2L501.8 262.2L502.5 262.2L503.1 262.2L503.7 262.2L504.3 262.2L505 262.2L505.6 262.2L506.2 262.2L506.8 262.2L507.3 262.2L507.9 262.2L508.5 262.2L509 262.2L509.5 262.2L510 262.2L510.5 262.2L511 262.3L511.5 262.3L511.9 262.3L512.3 262.3L512.7 262.3L513.1 262.3L513.4 262.4L513.7 262.4L514 262.4L516.3 262.9L515.9 263.7L515.5 265L516.1 269L516.7 272.8L517.6 273.5L518.5 272L519.1 272L519.8 272.5L520.4 273.7L521.2 275.5L521.7 276.7L522.3 278.1L522.9 279.6L523.5 281L524 282.5L524.6 284L525.1 285.4L525.5 286.5L526.1 287.4L526.6 287.5L527.1 287.4L527.7 287.1L528.3 286.5L528.9 285.6L529.6 284.4L530.2 283L530.7 281.5L531.3 279.8L531.8 278L532.4 276.2L533 274.3L533.7 272.5L534.2 271.2L534.8 269.9L535.4 268.6L536 267.5L536.5 266.8L537 266.2L537.5 265.6L538.1 265.1L538.6 264.6L539.1 264.2L539.7 263.8L540.3 263.5L540.9 263.3L541.4 263.2L541.8 263.2L542.4 263.5L542.8 264.5L543.6 269.2L544.5 268.8L545 268.2L545.6 267.3L546.3 266.5L546.8 266L547.3 265.4L547.9 265L548.5 264.5L548.9 264.2L549.4 263.9L549.9 263.7L550.4 263.4L551 263.2L551.6 263L552.1 262.9L552.5 262.8L553 262.7L553.5 262.7L554 262.6L554.6 262.6L555.3 262.5L556 262.5L556.4 262.5L556.9 262.5L557.4 262.4L557.9 262.4L558.5 262.4L559.1 262.4L559.6 262.4L560.2 262.4L560.8 262.3L561.4 262.3L561.9 262.3L562.5 262.3L563 262.3L563.4 262.4L563.8 262.4L564.2 262.4L565.2 262.6L565.7 262.8L566.1 263.1L566.5 263.5L567.1 263.9L567.6 264.3L568.1 264.9L568.7 265.8L569.3 267L569.9 268.5L570.4 270.2L571 272L571.5 274L572.1 276.1L572.6 278.4L573.1 280.5L573.6 282.6L574.2 284.8L574.7 286.8L575.2 288.5L575.8 290.3L576.2 291.8L576.7 292.6L577.4 292.5L578 291.5L578.7 290.3L579.4 288.2L579.9 285.8L580.4 282.9L581 280L581.6 277.2L582.3 274.5L582.9 272L583.4 269.9L583.9 268L584.5 266.5L585 265.7L585.5 265.1L586 264.6L586.5 264.3L587.2 264L587.8 264L588.4 264L589 264L589.5 264L590 264.6L590.8 270L591.4 278L592.2 289.2L593 282L593.7 273L594.3 269.1L595 266L595.5 263.9L596.3 262.8L596.7 262.7L597.1 262.7L597.5 262.7L598 262.8L598.6 262.9L599.1 263.1L599.7 263.2L600.3 263.3L600.8 263.3L601.3 263.3L601.8 263.3L602.2 263.2L602.7 263.2L603.2 263.1L603.7 263L604.3 263L604.8 262.9L605.4 262.8L606 262.8L606.5 262.8L607 262.7L607.5 262.7L608.1 262.7L608.7 262.6L609.3 262.6L609.9 262.6L610.4 262.5L611 262.5L611.6 262.5L612.1 262.5L612.6 262.5L613 262.5L613.4 262.5L614.2 262.6L614.8 262.7L615.2 262.9L615.6 263.2L616 263.5L616.5 263.9L617.1 264.3L617.6 264.8L618.2 265.3L618.7 266L619.3 266.8L619.8 267.7L620.4 268.7L621 269.6L621.5 270.5L622 271.3L622.5 272.2L623 273L623.6 273.7L624.1 274.2L624.7 274.5L625.3 274.7L625.9 274.7L626.4 274.7L627 274.8L627.5 274.9L628 274.9L628.5 275L629 275L629.5 275.2L630 275.4L630.5 275.7L631 276.1L631.5 276.5L632 276.8L632.5 277.1L632.9 277.3L633.4 277.6L634 277.9L634.5 278.2L635 278.5L635.6 278.9L636.2 279.5L636.8 280L637.3 280.6L637.9 281L638.4 281.2L639 281.1L639.5 280.7L639.9 280.2L640.5 279.8L641 279.6L641.6 279.3L642.2 279L642.8 278.8L643.3 278.6L643.8 278.6L644.5 278.8L645 279.4L645.5 280L646.1 280.9L646.7 281.8L647.4 282.2L647.9 281.9L648.4 281.3L648.9 280.5L649.5 279.7L650 279L650.5 278.4L651 277.8L651.5 277.2L652 276.6L652.5 276L653 275.3L653.5 274.7L654 274.1L654.6 273.2L655.1 272.5L655.6 271.6L656.2 270.7L656.8 269.8L657.4 268.9L658 268L658.6 267.1L659.2 266.2L659.9 265.3L660.4 264.4L660.9 263.7L661.3 263.2" fill="none" stroke="#b83237" stroke-width="1.15" stroke-linejoin="round"/>
<text x="509.6" y="297.5" font-size="10.5" font-weight="bold" text-anchor="middle">1722</text>
<text x="512.2" y="310.3" font-size="10.5" font-weight="bold" text-anchor="middle">"O-C=O"</text>
<line x1="510.6" y1="282.8" x2="515" y2="279" stroke="#000" stroke-width="0.9"/>
<polygon points="516.9,277.2 513.2,278.1 515.4,280.5" fill="#000" stroke="none" stroke-width="1"/>
<text x="555.2" y="304.7" font-size="10.5" font-weight="bold" text-anchor="middle">1173</text>
<text x="558.3" y="316.1" font-size="10.5" font-weight="bold" text-anchor="middle">"S=O"</text>
<line x1="567.8" y1="299.1" x2="572.9" y2="296.5" stroke="#000" stroke-width="0.9"/>
<polygon points="575.1,295.4 571.3,295.2 572.8,298.2" fill="#000" stroke="none" stroke-width="1"/>
<text x="614" y="299.2" font-size="10.5" font-weight="bold" text-anchor="middle">1040</text>
<text x="615" y="310.5" font-size="10.5" font-weight="bold" text-anchor="middle">"S-O"</text>
<line x1="600.8" y1="293.8" x2="596.6" y2="291.6" stroke="#000" stroke-width="0.9"/>
<polygon points="594.4,290.6 598.2,290.4 596.8,293.3" fill="#000" stroke="none" stroke-width="1"/>
<text x="656.3" y="208.4" font-size="9.1" font-weight="bold" text-anchor="end" fill="#4a6894">Non-adhesive side</text>
<text x="656.3" y="324.9" font-size="9.1" font-weight="bold" text-anchor="end" fill="#b83237">Adhesive side</text>
<rect x="488" y="192.5" width="173.5" height="139.8" fill="none" stroke="#000" stroke-width="1.3"/>
<line x1="488" y1="332.3" x2="488" y2="334.9" stroke="#000" stroke-width="1"/>
<line x1="509.6" y1="332.3" x2="509.6" y2="333.9" stroke="#000" stroke-width="1"/>
<line x1="531.2" y1="332.3" x2="531.2" y2="334.9" stroke="#000" stroke-width="1"/>
<line x1="552.9" y1="332.3" x2="552.9" y2="333.9" stroke="#000" stroke-width="1"/>
<line x1="574.5" y1="332.3" x2="574.5" y2="334.9" stroke="#000" stroke-width="1"/>
<line x1="596.1" y1="332.3" x2="596.1" y2="333.9" stroke="#000" stroke-width="1"/>
<line x1="617.7" y1="332.3" x2="617.7" y2="334.9" stroke="#000" stroke-width="1"/>
<line x1="639.3" y1="332.3" x2="639.3" y2="333.9" stroke="#000" stroke-width="1"/>
<line x1="661" y1="332.3" x2="661" y2="334.9" stroke="#000" stroke-width="1"/>
<text x="488" y="346.4" font-size="11.8" font-weight="bold" text-anchor="middle">2000</text>
<text x="531.2" y="346.4" font-size="11.8" font-weight="bold" text-anchor="middle">1600</text>
<text x="574.5" y="346.4" font-size="11.8" font-weight="bold" text-anchor="middle">1200</text>
<text x="617.7" y="346.4" font-size="11.8" font-weight="bold" text-anchor="middle">800</text>
<text x="661" y="346.4" font-size="11.8" font-weight="bold" text-anchor="middle">400</text>
<text x="580.4" y="359" font-size="11.8" font-weight="bold" text-anchor="middle">Wavenumber (cm<tspan font-size="7" dy="-4">-1</tspan><tspan dy="4">)</tspan></text>
<text transform="translate(477.8,262) rotate(-90)" font-size="11.8" font-weight="bold" text-anchor="middle">Transmittance</text>
<text x="470.3" y="199.9" font-size="24" font-weight="bold">f</text></g>
<g id="pg"><g clip-path="url(#cpTL)"><rect x="21.1" y="388.8" width="95" height="69" fill="#061008"/><g transform="translate(22,405) scale(0.13139)"><g filter="url(#gb2)"><rect x="-20" y="-130" width="760" height="260" fill="#061008"/><polygon points="-20,120 720,110 720,290 -20,290" fill="#0b1420"/><polygon points="140,125 270,125 270,165 140,165" fill="#2a2e70" opacity="0.7"/><polygon points="-20,280 720,266 720,330 -20,345" fill="#2c32a6"/><polygon points="-20,340 720,325 720,420 -20,420" fill="#26289a"/><path d="M-20 302 C200 294 450 290 720 282" stroke="#5a60dc" stroke-width="20" fill="none" opacity="0.8"/><path d="M260 325 C400 318 550 315 720 310" stroke="#3c9ab8" stroke-width="14" fill="none" opacity="0.6"/><path d="M-20 385 C200 378 450 372 720 368" stroke="#1e5a3c" stroke-width="30" fill="none" opacity="0.7"/></g></g><g transform="translate(24,412) scale(0.12555)"><g filter="url(#gb1)"><polygon points="440,150 630,60 660,120 650,150 440,180" fill="#2f7494" opacity="0.9"/><polygon points="290,150 340,35 440,160 400,185" fill="#3a86a8" opacity="0.9"/><polygon points="15,100 90,65 200,130 230,160 180,215 100,160" fill="#4a9cc4" opacity="0.95"/><polygon points="200,140 400,185 650,150 660,210 350,245 180,215" fill="#62b2d4" opacity="0.95"/><path d="M200 175 C300 200 450 205 650 180" stroke="#8ed0e8" stroke-width="14" fill="none" opacity="0.7"/><path d="M15 100 L90 65 L200 130 M290 150 L340 35 L440 160 M440 150 L630 60 L660 120 M15 100 L100 160 L180 215 L350 245 L660 210 M200 140 L180 215 M200 140 L400 185 L650 150" stroke="#74cc3c" stroke-width="9" fill="none" stroke-linejoin="round" opacity="0.95"/><path d="M15 100 L60 130 M170 190 L190 220 M620 180 L660 210" stroke="#a0f040" stroke-width="16" fill="none" stroke-linecap="round" opacity="0.8"/></g></g></g>
<g clip-path="url(#cpTR)"><rect x="118.6" y="389" width="94.9" height="68.7" fill="#020403"/><g transform="translate(119,405) scale(0.13870)"><g filter="url(#gb2)"><rect x="-20" y="-130" width="720" height="330" fill="#020403"/><polygon points="-20,200 720,190 720,300 -20,310" fill="#24246e"/><path d="M-20 235 C200 228 450 225 720 222" stroke="#3c3aa0" stroke-width="30" fill="none" opacity="0.8"/><polygon points="-20,300 720,290 720,400 -20,400" fill="#141838"/><path d="M150 310 C300 302 450 300 560 305" stroke="#74d838" stroke-width="18" fill="none" opacity="0.85"/><path d="M150 350 C280 344 420 342 500 346" stroke="#60a850" stroke-width="16" fill="none" opacity="0.6"/></g><g filter="url(#gb1)"><polygon points="40,125 110,100 200,170 200,80 240,70 300,135 380,180 500,90 560,120 560,140 640,195 600,225 380,265 230,255 100,190" fill="#6cba84" opacity="0.95"/><polygon points="200,80 240,70 300,135 260,215 210,180" fill="#80c898" opacity="0.6"/><polygon points="380,180 500,90 560,120 470,200" fill="#5aa870" opacity="0.55"/><polygon points="260,215 300,135 370,200 330,240" fill="#70b894" opacity="0.55"/><path d="M40 125 L110 100 L250 200 M200 80 L240 70 L300 135 L260 215 M300 135 L370 200 M380 180 L500 90 L560 120 M560 140 L640 195 M40 125 L100 190 L230 255 L380 265 L640 200" stroke="#a8f430" stroke-width="12" fill="none" stroke-linejoin="round"/></g></g></g>
<g clip-path="url(#cpBL)"><rect x="21.3" y="461.2" width="94.8" height="68.5" fill="#0a120c"/><g transform="translate(22,478) scale(0.13723)"><g filter="url(#gb2)"><rect x="-20" y="-140" width="720" height="340" fill="#0a120c"/><path d="M-20 190 C200 185 450 180 720 176" stroke="#182a18" stroke-width="30" fill="none" opacity="0.8"/><polygon points="-20,205 720,195 720,285 -20,300" fill="#2e309a"/><path d="M-20 250 C200 242 450 238 720 232" stroke="#4a4ec8" stroke-width="26" fill="none" opacity="0.7"/><polygon points="-20,300 720,285 720,400 -20,400" fill="#121608"/><ellipse cx="345" cy="310" rx="150" ry="30" fill="#c8c828" opacity="0.8"/><path d="M100 358 C300 350 450 350 640 345" stroke="#2c2c10" stroke-width="20" fill="none" opacity="0.8"/></g><g filter="url(#gb1)"><polygon points="95,90 180,95 200,100 270,180 280,200 320,80 380,200 440,180 540,85 610,100 560,180 490,260 330,275 190,250 130,170" fill="#c8dc22" opacity="0.95"/><polygon points="170,200 320,240 480,215 470,250 330,268 200,240" fill="#d8e840" opacity="0.7"/><polygon points="280,200 320,80 380,200 340,230" fill="#a4c020" opacity="0.6"/><path d="M95 90 L180 95 L190 250 M320 80 L280 200 M320 80 L380 200 M540 85 L610 100 L490 260 M95 90 L130 170 L190 250 L330 275 L490 260" stroke="#d4f018" stroke-width="11" fill="none" stroke-linejoin="round"/></g></g></g>
<g clip-path="url(#cpBR)"><rect x="118.4" y="461.2" width="95.4" height="68.5" fill="#020403"/><g transform="translate(119,478) scale(0.13870)"><g filter="url(#gb2)"><rect x="-20" y="-140" width="720" height="360" fill="#020403"/><polygon points="-20,240 720,230 720,400 -20,400" fill="#10103a"/><path d="M150 280 C300 272 450 272 560 276" stroke="#7cd428" stroke-width="18" fill="none" opacity="0.85"/><path d="M140 312 C300 305 450 305 600 310" stroke="#84dc30" stroke-width="16" fill="none" opacity="0.8"/><path d="M150 342 C300 336 450 336 620 340" stroke="#70c428" stroke-width="16" fill="none" opacity="0.75"/><path d="M-20 330 C40 326 90 326 130 330" stroke="#1a1a60" stroke-width="30" fill="none" opacity="0.7"/></g><g filter="url(#gb1)"><polygon points="50,125 110,105 140,95 200,85 290,180 340,120 410,220 420,160 460,90 510,115 500,160 580,135 650,180 640,195 430,245 300,252 150,230" fill="#90d63a" opacity="0.95"/><polygon points="260,230 340,120 410,220 360,245" fill="#a8e858" opacity="0.6"/><polygon points="140,95 200,85 290,180 230,190" fill="#88d838" opacity="0.5"/><path d="M50 125 L110 105 L300 230 M140 95 L200 85 L290 180 M260 230 L340 120 L410 220 M420 160 L460 90 L510 115 L500 160 M580 135 L650 180 M50 125 L150 230 L300 252 L430 245 L650 185" stroke="#b0fa30" stroke-width="11" fill="none" stroke-linejoin="round"/></g></g></g>
<text x="94" y="406.4" font-size="10.5" font-weight="bold" text-anchor="middle" fill="#fff">5 min</text>
<text x="189.8" y="406.1" font-size="10.5" font-weight="bold" text-anchor="middle" fill="#fff">15 min</text>
<text x="92" y="478" font-size="10.5" font-weight="bold" text-anchor="middle" fill="#fff">60 min</text>
<text x="190" y="478" font-size="10.5" font-weight="bold" text-anchor="middle" fill="#fff">30 min</text>
<polygon points="109.5,423.6 121.6,423.6 121.6,421.3 126.6,425.3 121.6,429.3 121.6,427 109.5,427" fill="#f7b52c" stroke="none" stroke-width="1"/>
<polygon points="158,452.4 161.4,452.4 161.4,464.4 163.6,464.4 159.7,469.6 155.8,464.4 158,464.4" fill="#f7b52c" stroke="none" stroke-width="1"/>
<polygon points="125.2,494.2 113.2,494.2 113.2,491.9 107.6,495.9 113.2,499.9 113.2,497.6 125.2,497.6" fill="#f7b52c" stroke="none" stroke-width="1"/>
<text x="0.6" y="396" font-size="24" font-weight="bold">g</text></g>
<g id="ph"><polyline points="275.2,454.5 289.6,454 304.1,453.5 318.5,452.8 333,452.2 347.4,452 361.9,450.1 376.3,447.7 390.8,444.8 405.2,439.5 419.7,431.7" fill="none" stroke="#4a5c7e" stroke-width="1.2"/>
<polyline points="275.2,495.7 289.6,494.9 304.1,494.1 318.5,491.6 333,486.8 347.4,484.7 361.9,482.1 376.3,480 390.8,477.6 405.2,475.5 419.7,474.1" fill="none" stroke="#4a5c7e" stroke-width="1.2"/>
<polyline points="275.2,410.8 289.6,423.2 304.1,435.9 318.5,448.3 333,460.7 347.4,474.1 361.9,484.7 376.3,494.6 390.8,502.7 405.2,507.2 419.7,507.8" fill="none" stroke="#b5343a" stroke-width="1.2"/>
<circle cx="275.2" cy="454.5" r="2.7" fill="url(#hsph)" stroke="#4d5f80" stroke-width="0.6"/>
<circle cx="289.6" cy="454" r="2.7" fill="url(#hsph)" stroke="#4d5f80" stroke-width="0.6"/>
<circle cx="304.1" cy="453.5" r="2.7" fill="url(#hsph)" stroke="#4d5f80" stroke-width="0.6"/>
<circle cx="318.5" cy="452.8" r="2.7" fill="url(#hsph)" stroke="#4d5f80" stroke-width="0.6"/>
<circle cx="333" cy="452.2" r="2.7" fill="url(#hsph)" stroke="#4d5f80" stroke-width="0.6"/>
<circle cx="347.4" cy="452" r="2.7" fill="url(#hsph)" stroke="#4d5f80" stroke-width="0.6"/>
<circle cx="361.9" cy="450.1" r="2.7" fill="url(#hsph)" stroke="#4d5f80" stroke-width="0.6"/>
<circle cx="376.3" cy="447.7" r="2.7" fill="url(#hsph)" stroke="#4d5f80" stroke-width="0.6"/>
<circle cx="390.8" cy="444.8" r="2.7" fill="url(#hsph)" stroke="#4d5f80" stroke-width="0.6"/>
<circle cx="405.2" cy="439.5" r="2.7" fill="url(#hsph)" stroke="#4d5f80" stroke-width="0.6"/>
<circle cx="419.7" cy="431.7" r="2.7" fill="url(#hsph)" stroke="#4d5f80" stroke-width="0.6"/>
<circle cx="275.2" cy="495.7" r="2.7" fill="#4a5c7e" stroke="#4a5c7e" stroke-width="0.5"/>
<circle cx="289.6" cy="494.9" r="2.7" fill="#4a5c7e" stroke="#4a5c7e" stroke-width="0.5"/>
<circle cx="304.1" cy="494.1" r="2.7" fill="#4a5c7e" stroke="#4a5c7e" stroke-width="0.5"/>
<circle cx="318.5" cy="491.6" r="2.7" fill="#4a5c7e" stroke="#4a5c7e" stroke-width="0.5"/>
<circle cx="333" cy="486.8" r="2.7" fill="#4a5c7e" stroke="#4a5c7e" stroke-width="0.5"/>
<circle cx="347.4" cy="484.7" r="2.7" fill="#4a5c7e" stroke="#4a5c7e" stroke-width="0.5"/>
<circle cx="361.9" cy="482.1" r="2.7" fill="#4a5c7e" stroke="#4a5c7e" stroke-width="0.5"/>
<circle cx="376.3" cy="480" r="2.7" fill="#4a5c7e" stroke="#4a5c7e" stroke-width="0.5"/>
<circle cx="390.8" cy="477.6" r="2.7" fill="#4a5c7e" stroke="#4a5c7e" stroke-width="0.5"/>
<circle cx="405.2" cy="475.5" r="2.7" fill="#4a5c7e" stroke="#4a5c7e" stroke-width="0.5"/>
<circle cx="419.7" cy="474.1" r="2.7" fill="#4a5c7e" stroke="#4a5c7e" stroke-width="0.5"/>
<circle cx="275.2" cy="410.8" r="2.4" fill="#fff" stroke="#b5343a" stroke-width="1.1"/>
<circle cx="289.6" cy="423.2" r="2.4" fill="#fff" stroke="#b5343a" stroke-width="1.1"/>
<circle cx="304.1" cy="435.9" r="2.4" fill="#fff" stroke="#b5343a" stroke-width="1.1"/>
<circle cx="318.5" cy="448.3" r="2.4" fill="#fff" stroke="#b5343a" stroke-width="1.1"/>
<circle cx="333" cy="460.7" r="2.4" fill="#fff" stroke="#b5343a" stroke-width="1.1"/>
<circle cx="347.4" cy="474.1" r="2.4" fill="#fff" stroke="#b5343a" stroke-width="1.1"/>
<circle cx="361.9" cy="484.7" r="2.4" fill="#fff" stroke="#b5343a" stroke-width="1.1"/>
<circle cx="376.3" cy="494.6" r="2.4" fill="#fff" stroke="#b5343a" stroke-width="1.1"/>
<circle cx="390.8" cy="502.7" r="2.4" fill="#fff" stroke="#b5343a" stroke-width="1.1"/>
<circle cx="405.2" cy="507.2" r="2.4" fill="#fff" stroke="#b5343a" stroke-width="1.1"/>
<circle cx="419.7" cy="507.8" r="2.4" fill="#fff" stroke="#b5343a" stroke-width="1.1"/>
<line x1="353.7" y1="404.7" x2="365.4" y2="404.7" stroke="#4a5c7e" stroke-width="1.2"/>
<circle cx="359.5" cy="404.7" r="2.7" fill="url(#hsph)" stroke="#4d5f80" stroke-width="0.6"/>
<text x="372.7" y="408.3" font-size="10" font-weight="bold">G'</text>
<line x1="353.7" y1="416.4" x2="365.4" y2="416.4" stroke="#4a5c7e" stroke-width="1.2"/>
<circle cx="359.5" cy="416.4" r="2.7" fill="#4a5c7e" stroke="#4a5c7e" stroke-width="0.5"/>
<text x="372.7" y="420" font-size="10" font-weight="bold">G''</text>
<line x1="353.7" y1="427.8" x2="365.4" y2="427.8" stroke="#b5343a" stroke-width="1.2"/>
<circle cx="359.5" cy="427.8" r="2.4" fill="#fff" stroke="#b5343a" stroke-width="1.1"/>
<text x="372.7" y="431.4" font-size="10" font-weight="bold">η</text>
<line x1="260.4" y1="388.8" x2="434.7" y2="388.8" stroke="#425c84" stroke-width="1.3"/>
<line x1="260.4" y1="388.2" x2="260.4" y2="528.6" stroke="#425c84" stroke-width="1.3"/>
<line x1="434.7" y1="388.2" x2="434.7" y2="528.6" stroke="#b5343a" stroke-width="1.3"/>
<line x1="259.8" y1="528.6" x2="435.3" y2="528.6" stroke="#111" stroke-width="1.3"/>
<line x1="257.4" y1="511.9" x2="260.4" y2="511.9" stroke="#425c84" stroke-width="1"/>
<line x1="257.4" y1="464.7" x2="260.4" y2="464.7" stroke="#425c84" stroke-width="1"/>
<line x1="257.4" y1="417.5" x2="260.4" y2="417.5" stroke="#425c84" stroke-width="1"/>
<line x1="258.7" y1="526.1" x2="260.4" y2="526.1" stroke="#425c84" stroke-width="0.8"/>
<line x1="258.7" y1="522.4" x2="260.4" y2="522.4" stroke="#425c84" stroke-width="0.8"/>
<line x1="258.7" y1="519.2" x2="260.4" y2="519.2" stroke="#425c84" stroke-width="0.8"/>
<line x1="258.7" y1="516.5" x2="260.4" y2="516.5" stroke="#425c84" stroke-width="0.8"/>
<line x1="258.7" y1="514.1" x2="260.4" y2="514.1" stroke="#425c84" stroke-width="0.8"/>
<line x1="258.7" y1="497.7" x2="260.4" y2="497.7" stroke="#425c84" stroke-width="0.8"/>
<line x1="258.7" y1="489.4" x2="260.4" y2="489.4" stroke="#425c84" stroke-width="0.8"/>
<line x1="258.7" y1="483.5" x2="260.4" y2="483.5" stroke="#425c84" stroke-width="0.8"/>
<line x1="258.7" y1="478.9" x2="260.4" y2="478.9" stroke="#425c84" stroke-width="0.8"/>
<line x1="258.7" y1="475.2" x2="260.4" y2="475.2" stroke="#425c84" stroke-width="0.8"/>
<line x1="258.7" y1="472" x2="260.4" y2="472" stroke="#425c84" stroke-width="0.8"/>
<line x1="258.7" y1="469.3" x2="260.4" y2="469.3" stroke="#425c84" stroke-width="0.8"/>
<line x1="258.7" y1="466.9" x2="260.4" y2="466.9" stroke="#425c84" stroke-width="0.8"/>
<line x1="258.7" y1="450.5" x2="260.4" y2="450.5" stroke="#425c84" stroke-width="0.8"/>
<line x1="258.7" y1="442.2" x2="260.4" y2="442.2" stroke="#425c84" stroke-width="0.8"/>
<line x1="258.7" y1="436.3" x2="260.4" y2="436.3" stroke="#425c84" stroke-width="0.8"/>
<line x1="258.7" y1="431.7" x2="260.4" y2="431.7" stroke="#425c84" stroke-width="0.8"/>
<line x1="258.7" y1="428" x2="260.4" y2="428" stroke="#425c84" stroke-width="0.8"/>
<line x1="258.7" y1="424.8" x2="260.4" y2="424.8" stroke="#425c84" stroke-width="0.8"/>
<line x1="258.7" y1="422.1" x2="260.4" y2="422.1" stroke="#425c84" stroke-width="0.8"/>
<line x1="258.7" y1="419.7" x2="260.4" y2="419.7" stroke="#425c84" stroke-width="0.8"/>
<line x1="258.7" y1="403.3" x2="260.4" y2="403.3" stroke="#425c84" stroke-width="0.8"/>
<line x1="258.7" y1="395" x2="260.4" y2="395" stroke="#425c84" stroke-width="0.8"/>
<line x1="258.7" y1="389.1" x2="260.4" y2="389.1" stroke="#425c84" stroke-width="0.8"/>
<text x="256.6" y="421.7" font-size="11.8" font-weight="bold" fill="#425c84" text-anchor="end">10<tspan font-size="7.8" dy="-4.6">4</tspan></text>
<text x="256.6" y="469.1" font-size="11.8" font-weight="bold" fill="#425c84" text-anchor="end">10<tspan font-size="7.8" dy="-4.6">3</tspan></text>
<text x="256.6" y="516.3" font-size="11.8" font-weight="bold" fill="#425c84" text-anchor="end">10<tspan font-size="7.8" dy="-4.6">2</tspan></text>
<line x1="434.7" y1="512.9" x2="437.7" y2="512.9" stroke="#b5343a" stroke-width="1"/>
<line x1="434.7" y1="430.9" x2="437.7" y2="430.9" stroke="#b5343a" stroke-width="1"/>
<line x1="434.7" y1="525.6" x2="436.4" y2="525.6" stroke="#b5343a" stroke-width="0.8"/>
<line x1="434.7" y1="520.8" x2="436.4" y2="520.8" stroke="#b5343a" stroke-width="0.8"/>
<line x1="434.7" y1="516.7" x2="436.4" y2="516.7" stroke="#b5343a" stroke-width="0.8"/>
<line x1="434.7" y1="488.2" x2="436.4" y2="488.2" stroke="#b5343a" stroke-width="0.8"/>
<line x1="434.7" y1="473.8" x2="436.4" y2="473.8" stroke="#b5343a" stroke-width="0.8"/>
<line x1="434.7" y1="463.5" x2="436.4" y2="463.5" stroke="#b5343a" stroke-width="0.8"/>
<line x1="434.7" y1="455.6" x2="436.4" y2="455.6" stroke="#b5343a" stroke-width="0.8"/>
<line x1="434.7" y1="449.1" x2="436.4" y2="449.1" stroke="#b5343a" stroke-width="0.8"/>
<line x1="434.7" y1="443.6" x2="436.4" y2="443.6" stroke="#b5343a" stroke-width="0.8"/>
<line x1="434.7" y1="438.8" x2="436.4" y2="438.8" stroke="#b5343a" stroke-width="0.8"/>
<line x1="434.7" y1="434.7" x2="436.4" y2="434.7" stroke="#b5343a" stroke-width="0.8"/>
<line x1="434.7" y1="406.2" x2="436.4" y2="406.2" stroke="#b5343a" stroke-width="0.8"/>
<line x1="434.7" y1="391.8" x2="436.4" y2="391.8" stroke="#b5343a" stroke-width="0.8"/>
<text x="439.3" y="435" font-size="11.5" font-weight="bold" fill="#b5343a">10<tspan font-size="7.5" dy="-4.5">3</tspan></text>
<text x="439.3" y="517" font-size="11.5" font-weight="bold" fill="#b5343a">10<tspan font-size="7.5" dy="-4.5">2</tspan></text>
<line x1="260.4" y1="528.6" x2="260.4" y2="531.6" stroke="#111" stroke-width="1"/>
<line x1="347" y1="528.6" x2="347" y2="531.6" stroke="#111" stroke-width="1"/>
<line x1="433.6" y1="528.6" x2="433.6" y2="531.6" stroke="#111" stroke-width="1"/>
<line x1="286.5" y1="528.6" x2="286.5" y2="530.3" stroke="#111" stroke-width="0.8"/>
<line x1="301.7" y1="528.6" x2="301.7" y2="530.3" stroke="#111" stroke-width="0.8"/>
<line x1="312.5" y1="528.6" x2="312.5" y2="530.3" stroke="#111" stroke-width="0.8"/>
<line x1="320.9" y1="528.6" x2="320.9" y2="530.3" stroke="#111" stroke-width="0.8"/>
<line x1="327.8" y1="528.6" x2="327.8" y2="530.3" stroke="#111" stroke-width="0.8"/>
<line x1="333.6" y1="528.6" x2="333.6" y2="530.3" stroke="#111" stroke-width="0.8"/>
<line x1="338.6" y1="528.6" x2="338.6" y2="530.3" stroke="#111" stroke-width="0.8"/>
<line x1="343" y1="528.6" x2="343" y2="530.3" stroke="#111" stroke-width="0.8"/>
<line x1="373.1" y1="528.6" x2="373.1" y2="530.3" stroke="#111" stroke-width="0.8"/>
<line x1="388.3" y1="528.6" x2="388.3" y2="530.3" stroke="#111" stroke-width="0.8"/>
<line x1="399.1" y1="528.6" x2="399.1" y2="530.3" stroke="#111" stroke-width="0.8"/>
<line x1="407.5" y1="528.6" x2="407.5" y2="530.3" stroke="#111" stroke-width="0.8"/>
<line x1="414.4" y1="528.6" x2="414.4" y2="530.3" stroke="#111" stroke-width="0.8"/>
<line x1="420.2" y1="528.6" x2="420.2" y2="530.3" stroke="#111" stroke-width="0.8"/>
<line x1="425.2" y1="528.6" x2="425.2" y2="530.3" stroke="#111" stroke-width="0.8"/>
<line x1="429.6" y1="528.6" x2="429.6" y2="530.3" stroke="#111" stroke-width="0.8"/>
<text x="251" y="545" font-size="11.5" font-weight="bold">10<tspan font-size="7.5" dy="-4.5">-1</tspan></text>
<text x="339.4" y="545" font-size="11.5" font-weight="bold">10<tspan font-size="7.5" dy="-4.5">0</tspan></text>
<text x="427.2" y="545" font-size="11.5" font-weight="bold">10<tspan font-size="7.5" dy="-4.5">1</tspan></text>
<text x="360.5" y="555.4" font-size="11.8" font-weight="bold" text-anchor="middle">Frequency (Hz)</text>
<text transform="translate(236.4,459) rotate(-90)" font-size="12" font-weight="bold" fill="#425c84" text-anchor="middle">Modulus (Pa)</text>
<text transform="translate(466.6,457.5) rotate(-90)" font-size="11.8" font-weight="bold" fill="#b5343a" text-anchor="middle">Viscosity (Pa·s)</text>
<text x="235.4" y="396" font-size="23.5" font-weight="bold">h</text></g>
<g id="pi"><polygon points="577,379.3 660.7,466.3 577,550 493,466.3" fill="#f6c9cb" stroke="none" stroke-width="0" fill-opacity="0.35"/>
<polygon points="577,413.9 603,466.3 577,545.6 503,466.3" fill="#9fb5cf" stroke="none" stroke-width="0" fill-opacity="0.22"/>
<polygon points="577,380.3 587.6,466.3 577,525.9 523.1,466.3" fill="#a9d8b9" stroke="none" stroke-width="0" fill-opacity="0.2"/>
<polygon points="577,379.8 608.4,466.3 577,512.7 535.2,466.3" fill="#ead7a0" stroke="none" stroke-width="0" fill-opacity="0.2"/>
<polygon points="577,394.3 612.1,466.3 577,503.9 543.1,466.3" fill="#c0bcb8" stroke="none" stroke-width="0" fill-opacity="0.25"/>
<polygon points="577,432.3 606.2,466.3 577,506.6 516.8,466.3" fill="#b8b2a4" stroke="none" stroke-width="0" fill-opacity="0.3"/>
<polygon points="577,448.1 595.2,466.3 577,484.5 558.8,466.3" fill="none" stroke="#cfcfcf" stroke-width="0.7"/>
<polygon points="577,430 613.3,466.3 577,502.6 540.7,466.3" fill="none" stroke="#cfcfcf" stroke-width="0.7"/>
<polygon points="577,411.8 631.5,466.3 577,520.8 522.5,466.3" fill="none" stroke="#cfcfcf" stroke-width="0.7"/>
<polygon points="577,393.7 649.6,466.3 577,538.9 504.4,466.3" fill="none" stroke="#cfcfcf" stroke-width="0.7"/>
<polygon points="577,375.5 667.8,466.3 577,557.1 486.2,466.3" fill="none" stroke="#cfcfcf" stroke-width="0.7"/>
<polygon points="577,374 669.3,466.3 577,558.6 484.7,466.3" fill="none" stroke="#dcdcdc" stroke-width="0.7"/>
<line x1="483.2" y1="466.3" x2="670.8" y2="466.3" stroke="#8a8a8a" stroke-width="1"/>
<line x1="577" y1="373.5" x2="577" y2="560.1" stroke="#8a8a8a" stroke-width="1"/>
<polygon points="577,379.3 660.7,466.3 577,550 493,466.3" fill="none" stroke="#e8262b" stroke-width="1.2"/>
<polygon points="577,413.9 603,466.3 577,545.6 503,466.3" fill="none" stroke="#3a6da6" stroke-width="1.2"/>
<polygon points="577,380.3 587.6,466.3 577,525.9 523.1,466.3" fill="none" stroke="#3cc072" stroke-width="1.2"/>
<polygon points="577,379.8 608.4,466.3 577,512.7 535.2,466.3" fill="none" stroke="#f3c21a" stroke-width="1.2"/>
<polygon points="577,394.3 612.1,466.3 577,503.9 543.1,466.3" fill="none" stroke="#6464aa" stroke-width="1.2"/>
<polygon points="577,432.3 606.2,466.3 577,506.6 516.8,466.3" fill="none" stroke="#9e9e9e" stroke-width="1.2"/>
<rect x="574.4" y="376.7" width="5.2" height="5.2" fill="#e8262b" stroke="none" stroke-width="0"/>
<rect x="658.1" y="463.7" width="5.2" height="5.2" fill="#e8262b" stroke="none" stroke-width="0"/>
<rect x="574.4" y="547.4" width="5.2" height="5.2" fill="#e8262b" stroke="none" stroke-width="0"/>
<rect x="490.4" y="463.7" width="5.2" height="5.2" fill="#e8262b" stroke="none" stroke-width="0"/>
<circle cx="577" cy="413.9" r="2.8" fill="#3a6da6" stroke="none" stroke-width="0"/>
<circle cx="603" cy="466.3" r="2.8" fill="#3a6da6" stroke="none" stroke-width="0"/>
<circle cx="577" cy="545.6" r="2.8" fill="#3a6da6" stroke="none" stroke-width="0"/>
<circle cx="503" cy="466.3" r="2.8" fill="#3a6da6" stroke="none" stroke-width="0"/>
<polygon points="574,377.9 580,377.9 577,383.5" fill="#3cc072" stroke="none" stroke-width="1"/>
<polygon points="584.6,463.9 590.6,463.9 587.6,469.5" fill="#3cc072" stroke="none" stroke-width="1"/>
<polygon points="574,523.5 580,523.5 577,529.1" fill="#3cc072" stroke="none" stroke-width="1"/>
<polygon points="520.1,463.9 526.1,463.9 523.1,469.5" fill="#3cc072" stroke="none" stroke-width="1"/>
<polygon points="574,377.4 580,377.4 577,383" fill="#f3c21a" stroke="none" stroke-width="1"/>
<polygon points="605.4,463.9 611.4,463.9 608.4,469.5" fill="#f3c21a" stroke="none" stroke-width="1"/>
<polygon points="574,510.3 580,510.3 577,515.9" fill="#f3c21a" stroke="none" stroke-width="1"/>
<polygon points="532.2,463.9 538.2,463.9 535.2,469.5" fill="#f3c21a" stroke="none" stroke-width="1"/>
<circle cx="577" cy="394.3" r="2.8" fill="#6464aa" stroke="none" stroke-width="0"/>
<circle cx="612.1" cy="466.3" r="2.8" fill="#6464aa" stroke="none" stroke-width="0"/>
<circle cx="577" cy="503.9" r="2.8" fill="#6464aa" stroke="none" stroke-width="0"/>
<circle cx="543.1" cy="466.3" r="2.8" fill="#6464aa" stroke="none" stroke-width="0"/>
<polygon points="573.8,432.3 579.6,429.3 579.6,435.3" fill="#9e9e9e" stroke="none" stroke-width="1"/>
<polygon points="603,466.3 608.8,463.3 608.8,469.3" fill="#9e9e9e" stroke="none" stroke-width="1"/>
<polygon points="573.8,506.6 579.6,503.6 579.6,509.6" fill="#9e9e9e" stroke="none" stroke-width="1"/>
<polygon points="513.6,466.3 519.4,463.3 519.4,469.3" fill="#9e9e9e" stroke="none" stroke-width="1"/>
<text x="578.7" y="378.9" font-size="9.6" fill="#4a4a4a">500</text>
<text x="578.7" y="397" font-size="9.6" fill="#4a4a4a">400</text>
<text x="578.7" y="415.5" font-size="9.6" fill="#4a4a4a">300</text>
<text x="578.7" y="433.7" font-size="9.6" fill="#4a4a4a">200</text>
<text x="578.7" y="451.8" font-size="9.6" fill="#4a4a4a">100</text>
<text x="497.4" y="462.7" font-size="9.6" text-anchor="middle" fill="#4a4a4a">8</text>
<text x="520.4" y="462.7" font-size="9.6" text-anchor="middle" fill="#4a4a4a">6</text>
<text x="542.8" y="462.7" font-size="9.6" text-anchor="middle" fill="#4a4a4a">4</text>
<text x="565.1" y="462.7" font-size="9.6" text-anchor="middle" fill="#4a4a4a">2</text>
<text x="597.5" y="476.7" font-size="9.6" text-anchor="middle" fill="#4a4a4a">15</text>
<text x="617.4" y="476.7" font-size="9.6" text-anchor="middle" fill="#4a4a4a">30</text>
<text x="637.9" y="476.7" font-size="9.6" text-anchor="middle" fill="#4a4a4a">45</text>
<text x="658.1" y="476.7" font-size="9.6" text-anchor="middle" fill="#4a4a4a">60</text>
<text x="574.5" y="485.5" font-size="9.6" text-anchor="end" fill="#4a4a4a">6</text>
<text x="574.5" y="503.9" font-size="9.6" text-anchor="end" fill="#4a4a4a">12</text>
<text x="574.5" y="521.5" font-size="9.6" text-anchor="end" fill="#4a4a4a">18</text>
<text x="574.5" y="539.4" font-size="9.6" text-anchor="end" fill="#4a4a4a">24</text>
<text x="574.5" y="557.5" font-size="9.6" text-anchor="end" fill="#4a4a4a">30</text>
<text transform="translate(521.5,416.5) rotate(-45)" font-size="11.6" font-weight="bold" text-anchor="middle" dy="4">Adhesion differences</text>
<text transform="translate(627.5,414.3) rotate(45)" font-size="11.6" font-weight="bold" text-anchor="middle" dy="4">Stretchability (%)</text>
<text transform="translate(518.3,516.3) rotate(45)" font-size="11.6" font-weight="bold" text-anchor="middle" dy="4">Shear strength (kPa)</text>
<text transform="translate(642.3,509.2) rotate(-45)" font-size="11.6" font-weight="bold" text-anchor="middle" dy="4">Toughness (kPa)</text>
<rect x="475.7" y="525.5" width="10.4" height="6.8" fill="#f4f4f8" stroke="#6464aa" stroke-width="1.2"/>
<text x="489.8" y="532.6" font-size="10.2" font-weight="bold">MPC</text>
<rect x="475.7" y="537.8" width="10.4" height="6.8" fill="#f4f4f8" stroke="#9e9e9e" stroke-width="1.2"/>
<text x="489.8" y="544.9" font-size="10.2" font-weight="bold">CBMA</text>
<rect x="475.7" y="550.1" width="10.4" height="6.8" fill="#f4f4f8" stroke="#3cc072" stroke-width="1.2"/>
<text x="489.8" y="557.2" font-size="10.2" font-weight="bold">DVBAPS</text>
<rect x="642" y="525.5" width="10.4" height="6.8" fill="#f4f4f8" stroke="#e8262b" stroke-width="1.2"/>
<text x="656.1" y="532.6" font-size="10.2" font-weight="bold">SBMA</text>
<rect x="642" y="537.8" width="10.4" height="6.8" fill="#f4f4f8" stroke="#3a6da6" stroke-width="1.2"/>
<text x="656.1" y="544.9" font-size="10.2" font-weight="bold">SBAA</text>
<rect x="642" y="550.1" width="10.4" height="6.8" fill="#f4f4f8" stroke="#f3c21a" stroke-width="1.2"/>
<text x="656.1" y="557.2" font-size="10.2" font-weight="bold">CBAA</text>
<text x="471" y="396" font-size="23.5" font-weight="bold">i</text></g></svg></body></html>
